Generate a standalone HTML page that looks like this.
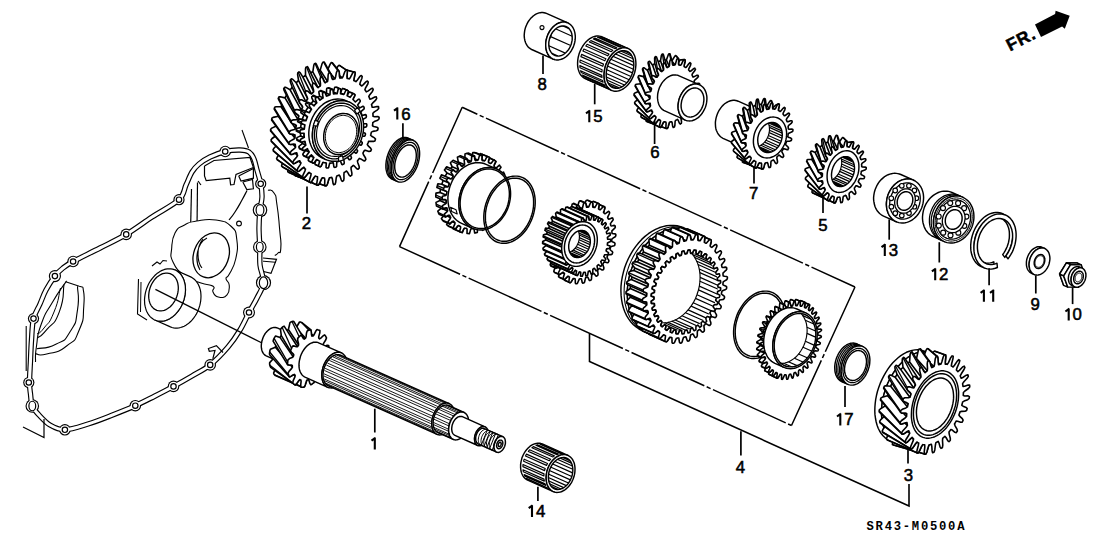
<!DOCTYPE html>
<html><head><meta charset="utf-8"><style>
html,body{margin:0;padding:0;background:#fff;}
body{width:1108px;height:553px;overflow:hidden;font-family:"Liberation Sans",sans-serif;}
svg{display:block;}
</style></head><body><svg width="1108" height="553" viewBox="0 0 1108 553"><path d="M462.2,107.3 L855,287" fill="none" stroke="#000" stroke-width="1.5" stroke-dasharray="80 2.6 4.3 2.6" stroke-dashoffset="63.35"/><path d="M399.5,246.6 L791.5,425.5" fill="none" stroke="#000" stroke-width="1.5" stroke-dasharray="80 2.6 4.3 2.6" stroke-dashoffset="13.45"/><path d="M399.5,246.6 L462.2,107.3" fill="none" stroke="#000" stroke-width="1.5" stroke-dasharray="80 2.6 4.3 2.6" stroke-dashoffset="8.75"/><path d="M855,287 L791.5,425.5" fill="none" stroke="#000" stroke-width="1.5" stroke-dasharray="80 2.6 4.3 2.6" stroke-dashoffset="8.75"/><path d="M589.5,333.5 L589.5,361.5 L909,506 L909,484" fill="none" stroke="#000" stroke-width="1.6"/><path d="M179,199.7 C184.7,194.4 183.8,189.6 186,185 C188.2,180.4 189.8,175.5 192,172 C194.2,168.5 196,166.5 199,164 C202,161.5 205.6,159.1 210,157 C214.4,154.9 220.2,152.7 225.2,151.5 C230.2,150.3 236,149.9 240,150 C244,150.1 246.7,150.5 249,152 C251.3,153.5 252.7,156 254,159 C255.3,162 255.9,165.9 257,170 C258.1,174.1 259.9,179 260.7,183.5 C261.5,188 262.1,192.6 262,197 C261.9,201.4 260.5,204.8 260,210 C259.5,215.2 259,221.8 259,228 C259,234.2 259.6,240.8 259.8,247 C260,253.2 259.4,259.1 260,265 C260.6,270.9 264,277.2 263.5,282.7 C263,288.2 259.4,293 257,298 C254.6,303 251.8,307.2 249,312.5 C246.2,317.8 243.5,324.2 240,330 C236.5,335.8 233,341.2 228,347 C223,352.8 216.2,360.1 210.2,364.9 C204.2,369.7 198.1,372.4 192,376 C185.9,379.6 179.7,383.1 173.5,386.4 C167.3,389.7 161.4,392.8 155,396 C148.6,399.2 142.8,402.4 135.3,405.7 C127.8,409 117.9,412.9 110,416 C102.1,419.1 95.5,421.7 88,424 C80.5,426.3 71.2,429.6 64.9,429.8 C58.6,430 54.3,427.5 50,425 C45.7,422.5 42,418.2 39,415 C36,411.8 33.7,409.5 32.3,406 C30.9,402.5 31,397.9 30.5,394 C30,390.1 29.5,388.2 29.5,382.5 C29.5,376.8 30.2,367.1 30.5,360 C30.8,352.9 31,346.9 31.5,340 C32,333.1 32.1,324.6 33.5,318.6 C34.9,312.6 37.9,308.8 40,304 C42.1,299.2 43.5,294.6 46,290 C48.5,285.4 52.1,279.8 54.9,276.1 C57.7,272.4 60,270.4 63,268 C66,265.6 66.9,264.8 73.1,261.5 C79.3,258.2 91.2,252.5 100,248 C108.8,243.5 117.5,239.6 126.2,234.4 C134.9,229.2 143.2,222.8 152,217 C160.8,211.2 173.3,205 179,199.7Z" fill="none" stroke="#000" stroke-width="5.4" stroke-linejoin="round"/><circle cx="179" cy="199.7" r="5.6" fill="#000"/><circle cx="225.2" cy="151.5" r="5.8" fill="#000"/><circle cx="260.7" cy="183.8" r="5.6" fill="#000"/><circle cx="260" cy="210" r="7.3" fill="#000"/><circle cx="259.8" cy="247" r="6.8" fill="#000"/><circle cx="263.5" cy="282.7" r="7.6" fill="#000"/><circle cx="249" cy="312.5" r="6.0" fill="#000"/><circle cx="210.2" cy="364.9" r="5.8" fill="#000"/><circle cx="173.5" cy="386.4" r="5.8" fill="#000"/><circle cx="135.3" cy="405.7" r="5.8" fill="#000"/><circle cx="64.9" cy="429.8" r="5.8" fill="#000"/><circle cx="32.3" cy="406" r="6.8" fill="#000"/><circle cx="28.8" cy="382.5" r="5.6" fill="#000"/><circle cx="33.5" cy="318.6" r="5.6" fill="#000"/><circle cx="54.9" cy="276.1" r="6.1" fill="#000"/><circle cx="73.1" cy="261.5" r="5.8" fill="#000"/><circle cx="126.2" cy="234.4" r="5.8" fill="#000"/><path d="M179,199.7 C184.7,194.4 183.8,189.6 186,185 C188.2,180.4 189.8,175.5 192,172 C194.2,168.5 196,166.5 199,164 C202,161.5 205.6,159.1 210,157 C214.4,154.9 220.2,152.7 225.2,151.5 C230.2,150.3 236,149.9 240,150 C244,150.1 246.7,150.5 249,152 C251.3,153.5 252.7,156 254,159 C255.3,162 255.9,165.9 257,170 C258.1,174.1 259.9,179 260.7,183.5 C261.5,188 262.1,192.6 262,197 C261.9,201.4 260.5,204.8 260,210 C259.5,215.2 259,221.8 259,228 C259,234.2 259.6,240.8 259.8,247 C260,253.2 259.4,259.1 260,265 C260.6,270.9 264,277.2 263.5,282.7 C263,288.2 259.4,293 257,298 C254.6,303 251.8,307.2 249,312.5 C246.2,317.8 243.5,324.2 240,330 C236.5,335.8 233,341.2 228,347 C223,352.8 216.2,360.1 210.2,364.9 C204.2,369.7 198.1,372.4 192,376 C185.9,379.6 179.7,383.1 173.5,386.4 C167.3,389.7 161.4,392.8 155,396 C148.6,399.2 142.8,402.4 135.3,405.7 C127.8,409 117.9,412.9 110,416 C102.1,419.1 95.5,421.7 88,424 C80.5,426.3 71.2,429.6 64.9,429.8 C58.6,430 54.3,427.5 50,425 C45.7,422.5 42,418.2 39,415 C36,411.8 33.7,409.5 32.3,406 C30.9,402.5 31,397.9 30.5,394 C30,390.1 29.5,388.2 29.5,382.5 C29.5,376.8 30.2,367.1 30.5,360 C30.8,352.9 31,346.9 31.5,340 C32,333.1 32.1,324.6 33.5,318.6 C34.9,312.6 37.9,308.8 40,304 C42.1,299.2 43.5,294.6 46,290 C48.5,285.4 52.1,279.8 54.9,276.1 C57.7,272.4 60,270.4 63,268 C66,265.6 66.9,264.8 73.1,261.5 C79.3,258.2 91.2,252.5 100,248 C108.8,243.5 117.5,239.6 126.2,234.4 C134.9,229.2 143.2,222.8 152,217 C160.8,211.2 173.3,205 179,199.7Z" fill="none" stroke="#fff" stroke-width="3.1000000000000005" stroke-linejoin="round"/><circle cx="179" cy="199.7" r="4.449999999999999" fill="#fff"/><circle cx="225.2" cy="151.5" r="4.65" fill="#fff"/><circle cx="260.7" cy="183.8" r="4.449999999999999" fill="#fff"/><circle cx="260" cy="210" r="6.15" fill="#fff"/><circle cx="259.8" cy="247" r="5.65" fill="#fff"/><circle cx="263.5" cy="282.7" r="6.449999999999999" fill="#fff"/><circle cx="249" cy="312.5" r="4.85" fill="#fff"/><circle cx="210.2" cy="364.9" r="4.65" fill="#fff"/><circle cx="173.5" cy="386.4" r="4.65" fill="#fff"/><circle cx="135.3" cy="405.7" r="4.65" fill="#fff"/><circle cx="64.9" cy="429.8" r="4.65" fill="#fff"/><circle cx="32.3" cy="406" r="5.65" fill="#fff"/><circle cx="28.8" cy="382.5" r="4.449999999999999" fill="#fff"/><circle cx="33.5" cy="318.6" r="4.449999999999999" fill="#fff"/><circle cx="54.9" cy="276.1" r="4.949999999999999" fill="#fff"/><circle cx="73.1" cy="261.5" r="4.65" fill="#fff"/><circle cx="126.2" cy="234.4" r="4.65" fill="#fff"/><ellipse cx="179" cy="199.7" rx="2.7" ry="2.7" fill="#fff" stroke="#000" stroke-width="1.2"/><ellipse cx="225.2" cy="151.5" rx="2.7" ry="2.7" fill="#fff" stroke="#000" stroke-width="1.2"/><ellipse cx="260.7" cy="183.8" rx="2.7" ry="2.7" fill="#fff" stroke="#000" stroke-width="1.2"/><ellipse cx="260" cy="210" rx="3.9" ry="5.46" fill="#fff" stroke="#000" stroke-width="1.2"/><ellipse cx="259.8" cy="247" rx="3.4" ry="4.76" fill="#fff" stroke="#000" stroke-width="1.2"/><ellipse cx="263.5" cy="282.7" rx="4.199999999999999" ry="5.879999999999999" fill="#fff" stroke="#000" stroke-width="1.2"/><ellipse cx="249" cy="312.5" rx="2.7" ry="2.7" fill="#fff" stroke="#000" stroke-width="1.2"/><ellipse cx="210.2" cy="364.9" rx="2.7" ry="2.7" fill="#fff" stroke="#000" stroke-width="1.2"/><ellipse cx="173.5" cy="386.4" rx="2.7" ry="2.7" fill="#fff" stroke="#000" stroke-width="1.2"/><ellipse cx="135.3" cy="405.7" rx="2.7" ry="2.7" fill="#fff" stroke="#000" stroke-width="1.2"/><ellipse cx="64.9" cy="429.8" rx="2.7" ry="2.7" fill="#fff" stroke="#000" stroke-width="1.2"/><ellipse cx="32.3" cy="406" rx="3.4" ry="4.76" fill="#fff" stroke="#000" stroke-width="1.2"/><ellipse cx="28.8" cy="382.5" rx="2.7" ry="2.7" fill="#fff" stroke="#000" stroke-width="1.2"/><ellipse cx="33.5" cy="318.6" rx="2.7" ry="2.7" fill="#fff" stroke="#000" stroke-width="1.2"/><ellipse cx="54.9" cy="276.1" rx="2.7" ry="2.7" fill="#fff" stroke="#000" stroke-width="1.2"/><ellipse cx="73.1" cy="261.5" rx="2.7" ry="2.7" fill="#fff" stroke="#000" stroke-width="1.2"/><ellipse cx="126.2" cy="234.4" rx="2.7" ry="2.7" fill="#fff" stroke="#000" stroke-width="1.2"/><path d="M204.5,166 L214,160.5 L250,157.5 L253.4,167.5 L236,174.5 L234,184.5 L230.6,184.8 L229.8,178.2 L206.2,180.7 L204.5,176 L204.5,166" fill="none" stroke="#000" stroke-width="1.2"/><path d="M238.7,176 L253.4,168.5 L253.4,178.2 L241,181 L238.7,176" fill="none" stroke="#000" stroke-width="1.2"/><path d="M242.8,182 L252.5,179.5 L253.4,188.8 L246.8,189.6 L242.8,182" fill="none" stroke="#000" stroke-width="1.2"/><path d="M198,181 C199,182.3 200,183.7 201,185" fill="none" stroke="#000" stroke-width="1.2" stroke-linejoin="round"/><path d="M247,190.5 C245.3,193.7 246,192.8 242,200 C238,207.2 239.3,205.3 235,212 C230.7,218.7 231,217.3 229,220" fill="none" stroke="#000" stroke-width="1.2" stroke-linejoin="round"/><path d="M191.5,189 L190.5,232" fill="none" stroke="#000" stroke-width="1.2"/><path d="M197.5,182.5 L197,229" fill="none" stroke="#000" stroke-width="1.2"/><path d="M242,130 L248.5,148" fill="none" stroke="#000" stroke-width="1.1"/><path d="M268,190 C270,191 271,188 274,193 C277,198 275.1,192.7 277,205 C278.9,217.3 278.4,215.5 279.7,230 C281,244.5 281.4,240.7 280.8,248.4 C280.2,256.1 280,250.6 278,253 C276,255.4 275.9,254.7 274.8,255.5" fill="none" stroke="#000" stroke-width="1.1" stroke-linejoin="round"/><path d="M263,258 L276.5,259.3 L271,273.4 L263.5,271.5" fill="none" stroke="#000" stroke-width="1.2"/><path d="M263,261.2 L276,262.3" fill="none" stroke="#000" stroke-width="1.0"/><path d="M175,233 C178.2,227 177.8,228.6 183.6,225.4 C189.4,222.2 188,222.4 196.6,221 C205.2,219.6 206.7,218.5 216,220 C225.3,221.5 225.8,221.3 231.3,226.5 C236.8,231.7 235.6,230.8 236.8,239.5 C238,248.2 237.7,249.7 235.7,259 C233.7,268.3 231.8,269.1 229.2,274.3 C226.6,279.5 226,275.7 226,278.6 C226,281.5 228.9,280.7 229.2,285 C229.5,289.3 229.9,291.7 227,294.9 C224.1,298.1 222.1,297.9 218.3,297 C214.5,296.1 214,294.2 212.9,291.6 C211.8,289 214.9,289.1 214,287.3 C213.1,285.5 213.1,286.1 209.6,285 C206.1,283.9 207.6,285.4 201,283 C194.4,280.6 192.5,281.6 185,276 C177.5,270.4 176.5,269.5 173,262 C169.5,254.5 171.2,255.7 171.7,248 C172.2,240.3 171.8,239 175,233Z" fill="#fff" stroke="#000" stroke-width="1.1" stroke-linejoin="round"/><ellipse cx="211.2" cy="255.3" rx="17.5" ry="23" transform="rotate(20 211.2 255.3)" fill="#fff" stroke="#000" stroke-width="1.3"/><path d="M207,238 C197,243 194,260 200,270 M203,239 C196,247 197,262 202,268" fill="none" stroke="#000" stroke-width="1.1"/><circle cx="239" cy="223.5" r="2.4" fill="#fff" stroke="#000" stroke-width="1.1"/><path d="M175.1,270 L176.7,270.8 L178.1,271.7 L179.4,272.9 L180.6,274.2 L181.7,275.7 L182.7,277.3 L183.5,279.1 L184.2,280.9 L184.7,282.9 L185.1,285 L185.4,287.1 L185.5,289.4 L185.4,291.6 L185.2,293.9 L184.8,296.2 L184.3,298.5 L183.6,300.7 L182.8,302.9 L181.8,305.1 L180.7,307.1 L179.5,309.1 L178.2,311 L176.8,312.7 L175.3,314.4 L173.7,315.8 L172.1,317.1 L170.4,318.3 L168.7,319.2 L166.9,320 L165.1,320.6 L163.3,321 L161.6,321.2 L159.8,321.2 L158.1,321 L156.4,320.6 L154.9,320 L170.4,326.9 L172,327.5 L173.6,327.9 L175.3,328.1 L177.1,328.1 L178.9,327.9 L180.6,327.5 L182.4,326.9 L184.2,326.2 L185.9,325.2 L187.6,324.1 L189.3,322.7 L190.9,321.3 L192.4,319.7 L193.8,317.9 L195.1,316 L196.3,314.1 L197.4,312 L198.3,309.8 L199.1,307.6 L199.8,305.4 L200.3,303.1 L200.7,300.8 L200.9,298.5 L201,296.3 L200.9,294.1 L200.7,291.9 L200.3,289.8 L199.7,287.8 L199,286 L198.2,284.2 L197.2,282.6 L196.1,281.1 L194.9,279.8 L193.6,278.7 L192.2,277.7 L190.7,276.9Z" fill="#fff" stroke="#000" stroke-width="1.2" stroke-linejoin="round" /><path d="M174.2,269.6 L175.8,270.3 L177.3,271.2 L178.6,272.2 L179.9,273.4 L181.1,274.8 L182.1,276.4 L183,278 L183.8,279.8 L184.4,281.8 L184.9,283.8 L185.3,285.9 L185.4,288.1 L185.5,290.3 L185.3,292.6 L185,294.9 L184.6,297.1 L184,299.4 L183.3,301.6 L182.4,303.8 L181.4,306 L180.3,308 L179,309.9 L177.7,311.7 L176.2,313.4 L174.7,315 L173.1,316.4 L171.4,317.6 L169.7,318.7 L167.9,319.6 L166.1,320.3 L164.4,320.8 L162.6,321.1 L160.8,321.2 L159.1,321.1 L157.4,320.9 L155.8,320.4 L154.2,319.7 L152.7,318.8 L151.4,317.8 L150.1,316.6 L148.9,315.2 L147.9,313.6 L147,312 L146.2,310.2 L145.6,308.2 L145.1,306.2 L144.7,304.1 L144.6,301.9 L144.5,299.7 L144.7,297.4 L145,295.1 L145.4,292.9 L146,290.6 L146.7,288.4 L147.6,286.2 L148.6,284 L149.7,282 L151,280.1 L152.3,278.3 L153.8,276.6 L155.3,275 L156.9,273.6 L158.6,272.4 L160.3,271.3 L162.1,270.4 L163.9,269.7 L165.6,269.2 L167.4,268.9 L169.2,268.8 L170.9,268.9 L172.6,269.1Z" fill="#fff" stroke="#000" stroke-width="1.2" stroke-linejoin="round" /><path d="M170.2,273.7 L171.5,274.3 L172.8,275.1 L173.9,276.1 L175,277.2 L175.9,278.5 L176.7,280 L177.3,281.6 L177.8,283.3 L178.1,285.1 L178.3,287 L178.3,288.9 L178.1,290.9 L177.8,292.9 L177.3,294.9 L176.7,296.8 L175.9,298.7 L175,300.5 L174,302.2 L172.8,303.8 L171.6,305.3 L170.3,306.7 L168.8,307.8 L167.4,308.8 L165.9,309.6 L164.3,310.3 L162.8,310.7 L161.2,310.9 L159.7,310.9 L158.2,310.7 L156.8,310.3 L155.5,309.7 L154.2,308.9 L153.1,307.9 L152,306.8 L151.1,305.5 L150.3,304 L149.7,302.4 L149.2,300.7 L148.9,298.9 L148.7,297 L148.7,295.1 L148.9,293.1 L149.2,291.1 L149.7,289.1 L150.3,287.2 L151.1,285.3 L152,283.5 L153,281.8 L154.2,280.2 L155.4,278.7 L156.7,277.3 L158.2,276.2 L159.6,275.2 L161.1,274.4 L162.7,273.7 L164.2,273.3 L165.8,273.1 L167.3,273.1 L168.8,273.3Z" fill="#fff" stroke="#000" stroke-width="1.3" stroke-linejoin="round" /><path d="M138.5,279 L137.5,314 L147,320" fill="none" stroke="#000" stroke-width="1.1"/><path d="M141,282 L140.5,312" fill="none" stroke="#000" stroke-width="1.0"/><path d="M152,266 L157,262 L160,264 L163,260.5 L167,261" fill="none" stroke="#000" stroke-width="1.1"/><path d="M65.7,281.8 L79.3,286.3 L83,287.2" fill="none" stroke="#000" stroke-width="1.1"/><path d="M83,287.2 C83.3,293.5 85,291.8 83.8,306 C82.6,320.2 85,316.4 79.3,329.7 C73.6,343 77.5,337.9 66.6,346 C55.7,354.1 57.2,351.5 46.7,354 C36.2,356.5 38.9,353.7 35,353.6" fill="none" stroke="#000" stroke-width="1.1" stroke-linejoin="round"/><path d="M77.5,286.3 C77.5,294.1 79.9,294.7 77.5,309.8 C75.1,324.9 77.4,320 70.2,331.5 C63,343 66.9,338.5 55.8,344.2 C44.7,349.9 43.1,347.2 36.8,348.7" fill="none" stroke="#000" stroke-width="1.1" stroke-linejoin="round"/><path d="M64,284.5 C62.5,293.5 65.2,296.5 59.4,311.6 C53.6,326.7 53.9,320.9 46.7,329.7 C39.5,338.5 40.7,335.2 37.7,337.9" fill="none" stroke="#000" stroke-width="1.1" stroke-linejoin="round"/><path d="M60.5,288 C58.3,296 59.5,298.7 54,312 C48.5,325.3 49.7,320.7 44,328 C38.3,335.3 39.3,332 37,334" fill="none" stroke="#000" stroke-width="1.0" stroke-linejoin="round"/><path d="M66.6,280.9 C61.7,288.3 60.4,288.6 52,303 C43.6,317.4 46.5,309.7 41.3,324 C36.1,338.3 38.4,333.3 36.5,346 C34.6,358.7 35.8,356.7 35.5,362" fill="none" stroke="#000" stroke-width="1.1" stroke-linejoin="round"/><path d="M223,352.5 L216.4,345.6 L208.4,348.5 L209.3,351.3 L215,350.5 L212.8,358.8" fill="none" stroke="#000" stroke-width="1.2"/><path d="M26.2,326 L26.2,371" fill="none" stroke="#000" stroke-width="1.1"/><path d="M23,427 L44,437.5 L44,419" fill="none" stroke="#000" stroke-width="1.2"/><path d="M314.7,175.7 L311.8,174.2 L309.1,172.3 L306.5,170.2 L304.2,167.7 L302.1,164.8 L300.3,161.8 L298.7,158.4 L297.4,154.8 L296.3,151 L295.6,147.1 L295.1,143 L295,138.8 L295.1,134.5 L295.5,130.1 L296.2,125.8 L297.2,121.4 L298.5,117.1 L300.1,112.9 L301.9,108.8 L304,104.8 L306.2,101.1 L308.7,97.5 L311.4,94.2 L314.3,91.1 L317.3,88.3 L320.5,85.8 L323.7,83.6 L327,81.8 L330.4,80.3 L333.8,79.1 L337.2,78.4 L340.6,78 L343.9,78 L347.2,78.4 L350.3,79.2 L353.3,80.3 L335.1,72.2 L332,71 L328.9,70.3 L325.6,69.9 L322.3,69.9 L318.9,70.3 L315.5,71 L312.1,72.1 L308.7,73.6 L305.4,75.5 L302.2,77.6 L299,80.1 L296,82.9 L293.2,86 L290.5,89.4 L288,92.9 L285.7,96.7 L283.6,100.7 L281.8,104.8 L280.3,109 L279,113.3 L278,117.6 L277.2,122 L276.8,126.3 L276.7,130.6 L276.9,134.9 L277.3,139 L278.1,142.9 L279.1,146.7 L280.4,150.3 L282,153.6 L283.9,156.7 L286,159.5 L288.3,162 L290.8,164.2 L293.5,166.1 L296.4,167.6Z" fill="#fff" stroke="#000" stroke-width="1.6" stroke-linejoin="round" /><path d="M294.9,174 L296.2,167.5 L329.3,177.8 L327.3,184.3 L326.5,185.7 L325.8,185.8 L325.1,185.8 L296.2,176.1 L295.6,175.9 L295,175.6Z" fill="#fff" stroke="#000" stroke-width="1.6" stroke-linejoin="round" /><path d="M325.8,185.8 L295.6,175.9" stroke="#000" stroke-width="1.2800000000000002" fill="none"/><path d="M340.5,75.4 L344.7,70.5 L345.9,69.7 L353.7,71.9 L354.4,72.1 L355,72.3 L355,73.9 L353.7,80.5 L344,78.5Z" fill="#fff" stroke="#000" stroke-width="1.6" stroke-linejoin="round" /><path d="M354.4,72.1 L346.4,70.2" stroke="#000" stroke-width="1.2800000000000002" fill="none"/><path d="M287.8,171.8 L287.9,170.1 L290.2,163.7 L322,177.8 L319.2,183.9 L318.2,185.2 L317.6,185.1 L316.9,184.9 L288.9,172.5 L288.3,172.1Z" fill="#fff" stroke="#000" stroke-width="1.6" stroke-linejoin="round" /><path d="M317.6,185.1 L288.3,172.1" stroke="#000" stroke-width="1.2800000000000002" fill="none"/><path d="M334.3,71.8 L337.9,66.3 L339,65.2 L339.6,65.5 L340.2,65.8 L347,70.4 L347.3,71.9 L347,78.4 L342.4,78Z" fill="#fff" stroke="#000" stroke-width="1.6" stroke-linejoin="round" /><path d="M346.4,70.3 L339.6,65.5" stroke="#000" stroke-width="1.2800000000000002" fill="none"/><path d="M281.6,166 L282,164.3 L285,158.4 L315.2,175.9 L311.6,181.5 L310.5,182.6 L309.9,182.3 L309.3,182 L282.5,167 L282,166.5Z" fill="#fff" stroke="#000" stroke-width="1.6" stroke-linejoin="round" /><path d="M309.9,182.3 L282,166.5" stroke="#000" stroke-width="1.2800000000000002" fill="none"/><path d="M327.5,70.1 L330.3,63.9 L331.3,62.6 L331.9,62.8 L332.6,62.9 L338.6,70.5 L339.2,71.9 L339.8,78.1 L335,78.8Z" fill="#fff" stroke="#000" stroke-width="1.6" stroke-linejoin="round" /><path d="M337.9,70.6 L331.9,62.8" stroke="#000" stroke-width="1.2800000000000002" fill="none"/><path d="M276.6,158.6 L277.3,157 L281,151.6 L305.6,169.2 L309.1,172.3 L304.9,177.2 L303.6,178 L277.3,159.9 L277,159.2Z" fill="#fff" stroke="#000" stroke-width="1.6" stroke-linejoin="round" /><path d="M303.1,177.5 L277,159.2" stroke="#000" stroke-width="1.2800000000000002" fill="none"/><path d="M320.2,70.1 L322.1,63.6 L323,62.1 L323.7,62.1 L324.3,62.1 L330.8,73.9 L332.4,79.6 L327.6,81.5Z" fill="#fff" stroke="#000" stroke-width="1.6" stroke-linejoin="round" /><path d="M329.4,73 L323.7,62.1" stroke="#000" stroke-width="1.2800000000000002" fill="none"/><path d="M273.1,149.7 L273.9,148.3 L278.3,143.7 L301,163.1 L303.8,167.2 L299.2,171.1 L297.9,171.6 L273.5,151.2Z" fill="#fff" stroke="#000" stroke-width="1.6" stroke-linejoin="round" /><path d="M297.5,171 L273.3,150.5" stroke="#000" stroke-width="1.2800000000000002" fill="none"/><path d="M312.8,71.9 L313.8,65.3 L314.4,63.7 L315.1,63.5 L315.8,63.3 L316.5,64.5 L325,82.8 L320.4,85.8Z" fill="#fff" stroke="#000" stroke-width="1.6" stroke-linejoin="round" /><path d="M320.9,77.4 L315.1,63.5" stroke="#000" stroke-width="1.2800000000000002" fill="none"/><path d="M271.1,139.8 L272.1,138.5 L276.9,135 L297.7,155.7 L299.7,160.6 L294.7,163.4 L293.4,163.6 L271.3,141.5 L271.2,140.7Z" fill="#fff" stroke="#000" stroke-width="1.6" stroke-linejoin="round" /><path d="M293.1,162.9 L271.2,140.7" stroke="#000" stroke-width="1.2800000000000002" fill="none"/><path d="M305.5,69 L305.9,67.3 L306.6,67 L307.3,66.6 L308.1,67.6 L318,87.7 L313.8,91.6 L305.5,75.4Z" fill="#fff" stroke="#000" stroke-width="1.6" stroke-linejoin="round" /><path d="M313,83.6 L306.6,67" stroke="#000" stroke-width="1.2800000000000002" fill="none"/><path d="M270.6,130.9 L270.6,130.1 L270.7,129.2 L271.8,128.1 L276.9,125.7 L295.6,147.3 L296.8,152.8 L291.7,154.4 L290.4,154.3Z" fill="#fff" stroke="#000" stroke-width="1.6" stroke-linejoin="round" /><path d="M290.2,153.5 L270.6,130.1" stroke="#000" stroke-width="1.2800000000000002" fill="none"/><path d="M297.6,74.5 L297.8,72.9 L298.4,72.4 L299,71.9 L300.1,72.6 L302.9,77.1 L311.5,94.1 L307.8,98.8 L298.6,80.6Z" fill="#fff" stroke="#000" stroke-width="1.6" stroke-linejoin="round" /><path d="M305.8,91.4 L298.4,72.4" stroke="#000" stroke-width="1.2800000000000002" fill="none"/><path d="M271.6,120 L271.8,119.1 L271.9,118.2 L273.1,117.4 L278.3,116.2 L295,138.2 L295.2,144.1 L290.2,144.5 L289,144.1Z" fill="#fff" stroke="#000" stroke-width="1.6" stroke-linejoin="round" /><path d="M289,143.3 L271.8,119.1" stroke="#000" stroke-width="1.2800000000000002" fill="none"/><path d="M290.3,80.1 L290.8,79.5 L291.4,78.8 L292.6,79.2 L296.2,82.8 L305.9,101.6 L302.8,107 L299.7,102.8 L292.2,87.1 L290.3,81.7Z" fill="#fff" stroke="#000" stroke-width="1.6" stroke-linejoin="round" /><path d="M299.7,100.6 L290.8,79.5" stroke="#000" stroke-width="1.2800000000000002" fill="none"/><path d="M274.2,109.1 L274.4,108.2 L274.7,107.3 L276,106.8 L281,106.8 L295.7,128.8 L295.1,134.9 L290.2,134 L289.2,133.3Z" fill="#fff" stroke="#000" stroke-width="1.6" stroke-linejoin="round" /><path d="M289.3,132.4 L274.4,108.2" stroke="#000" stroke-width="1.2800000000000002" fill="none"/><path d="M283.7,88.7 L284.2,88 L284.7,87.3 L285.9,87.4 L290.1,89.8 L301.3,110.2 L298.9,116 L295.1,112.8 L294.4,111.5 L284,90.2Z" fill="#fff" stroke="#000" stroke-width="1.6" stroke-linejoin="round" /><path d="M294.8,110.7 L284.2,88" stroke="#000" stroke-width="1.2800000000000002" fill="none"/><path d="M278.2,98.5 L278.6,97.7 L279,96.9 L280.3,96.7 L285,97.9 L297.8,119.3 L296.3,125.4 L291.9,123.3 L291,122.3 L278.8,99.8Z" fill="#fff" stroke="#000" stroke-width="1.6" stroke-linejoin="round" /><path d="M291.3,121.5 L278.6,97.7" stroke="#000" stroke-width="1.2800000000000002" fill="none"/><path d="M348.2,78.6 L348.8,78.8 L349.4,78.9 L350.5,77.2 L352.5,73.3 L353.7,71.9 L354.4,72.1 L355,72.3 L355,74.2 L354,78.5 L353.8,80.5 L354.3,80.8 L354.8,81 L355.4,81.3 L355.9,81.6 L357.2,80.2 L359.7,76.7 L361,75.5 L361.6,75.9 L362.2,76.3 L361.9,78.2 L360.3,82.3 L359.8,84.3 L360.3,84.7 L360.7,85.1 L361.2,85.6 L361.6,86 L363.1,84.9 L365.9,81.9 L367.4,81 L367.9,81.5 L368.3,82.1 L367.8,84 L365.6,87.8 L364.9,89.8 L365.3,90.3 L365.6,90.8 L366,91.3 L366.3,91.9 L367.9,91.1 L371,88.8 L372.5,88.2 L372.9,88.9 L373.2,89.6 L372.4,91.4 L369.8,94.7 L368.8,96.5 L369.1,97.2 L369.4,97.8 L369.6,98.4 L369.9,99.1 L371.5,98.7 L374.8,97 L376.3,96.9 L376.5,97.6 L376.7,98.4 L375.7,100.1 L372.8,102.9 L371.5,104.5 L371.7,105.2 L371.9,105.9 L372,106.6 L372.2,107.3 L373.7,107.3 L377,106.5 L378.5,106.6 L378.6,107.5 L378.7,108.4 L377.5,109.8 L374.3,111.9 L372.9,113.3 L372.9,114 L373,114.8 L373,115.6 L373,116.3 L374.5,116.7 L377.8,116.6 L379.1,117.2 L379.1,118.1 L379,119 L377.7,120.2 L374.3,121.6 L372.8,122.6 L372.8,123.4 L372.7,124.2 L372.6,124.9 L372.5,125.7 L373.8,126.5 L376.9,127.2 L378.1,128.1 L377.9,129.1 L377.8,130 L376.3,130.8 L372.9,131.4 L371.4,132.1 L371.2,132.9 L371,133.7 L370.8,134.5 L370.6,135.2 L371.7,136.3 L374.5,137.9 L375.5,139.1 L375.2,140 L374.9,140.9 L373.4,141.4 L370.1,141.2 L368.6,141.4 L368.3,142.2 L368,143 L367.7,143.7 L367.3,144.5 L368.2,145.9 L370.6,148.1 L371.4,149.6 L371,150.5 L370.5,151.3 L369,151.4 L366,150.4 L364.5,150.3 L364.1,151 L363.7,151.7 L363.3,152.4 L362.9,153.1 L363.5,154.8 L365.4,157.7 L365.9,159.4 L365.4,160.1 L364.9,160.9 L363.4,160.6 L360.8,158.9 L359.3,158.4 L358.9,159 L358.4,159.6 L357.9,160.3 L357.4,160.9 L357.8,162.7 L359.1,166.2 L359.3,168 L358.7,168.6 L358.1,169.3 L356.8,168.7 L354.5,166.2 L353.3,165.4 L352.7,165.9 L352.2,166.4 L351.6,166.9 L351.1,167.4 L351.1,169.4 L351.9,173.2 L351.8,175.2 L351.1,175.7 L350.4,176.2 L349.3,175.3 L347.5,172.2 L346.5,171 L345.9,171.4 L345.3,171.8 L344.7,172.2 L344.1,172.5 L343.9,174.5 L344,178.7 L343.6,180.6 L342.9,181 L342.2,181.4 L341.3,180.1 L340.1,176.5 L339.3,175.1 L338.6,175.3 L338,175.6 L337.4,175.8 L336.8,176 L336.2,178 L335.7,182.3 L335.1,184.2 L334.4,184.4 L333.6,184.6 L333,183.1 L332.4,179.1 L331.8,177.4 L331.2,177.5 L330.6,177.6 L330,177.7 L329.4,177.8 L328.6,179.7 L327.4,184 L326.5,185.7 L325.8,185.8 L325.1,185.8 L324.7,184.1 L324.8,179.9 L324.5,178 L323.9,178 L323.3,177.9 L322.7,177.9 L322.1,177.8 L321.1,179.6 L319.4,183.6 L318.2,185.2 L317.6,185.1 L316.9,184.9 L316.8,183.1 L317.5,178.8 L317.5,176.8 L316.9,176.6 L316.4,176.4 L315.8,176.2 L315.3,176 L314,177.5 L311.8,181.2 L310.5,182.6 L309.9,182.3 L309.3,181.9 L309.5,180 L310.8,175.8 L311.1,173.8 L310.6,173.5 L310.1,173.1 L309.6,172.8 L309.1,172.4 L307.7,173.7 L305.1,176.9 L303.7,178 L303.1,177.5 L302.6,177 L303,175.1 L304.9,171.1 L305.5,169.1 L305.1,168.7 L304.7,168.2 L304.3,167.7 L303.9,167.2 L302.4,168.2 L299.4,170.9 L297.9,171.6 L297.5,171 L297.1,170.4 L297.7,168.5 L300.1,164.9 L301,163 L300.7,162.4 L300.3,161.9 L300,161.3 L299.7,160.7 L298.2,161.3 L294.9,163.3 L293.4,163.6 L293.1,162.9 L292.8,162.2 L293.8,160.4 L296.5,157.3 L297.6,155.6 L297.4,154.9 L297.2,154.3 L297,153.6 L296.8,152.9 L295.2,153.1 L291.9,154.4 L290.4,154.4 L290.2,153.5 L290.1,152.7 L291.2,151.2 L294.3,148.7 L295.6,147.2 L295.5,146.5 L295.4,145.7 L295.3,145 L295.2,144.2 L293.7,144.1 L290.4,144.5 L289,144.1 L289,143.3 L288.9,142.4 L290.2,141.1 L293.5,139.3 L295,138.1 L295,137.3 L295,136.6 L295,135.8 L295.1,135 L293.7,134.4 L290.5,134.1 L289.2,133.4 L289.3,132.4 L289.4,131.5 L290.8,130.5 L294.2,129.5 L295.7,128.7 L295.8,127.9 L296,127.1 L296.1,126.3 L296.3,125.5 L295.1,124.6 L292.1,123.4 L291,122.4 L291.3,121.5 L291.5,120.5 L293,119.9 L296.3,119.7 L297.9,119.2 L298.1,118.4 L298.4,117.6 L298.6,116.9 L298.9,116.1 L297.9,114.8 L295.3,112.9 L294.4,111.6 L294.8,110.7 L295.1,109.8 L296.6,109.5 L299.8,110.1 L301.3,110 L301.7,109.3 L302,108.6 L302.4,107.8 L302.7,107.1 L302,105.6 L299.8,103 L299.2,101.4 L299.7,100.6 L300.1,99.8 L301.6,99.8 L304.5,101.2 L306,101.5 L306.4,100.9 L306.8,100.2 L307.3,99.5 L307.7,98.9 L307.2,97.1 L305.6,93.9 L305.3,92.2 L305.8,91.4 L306.4,90.7 L307.8,91.2 L310.2,93.3 L311.6,94 L312.1,93.4 L312.6,92.8 L313.2,92.3 L313.7,91.7 L313.5,89.8 L312.4,86.1 L312.4,84.2 L313,83.6 L313.6,83.1 L314.9,83.8 L316.9,86.6 L318.1,87.6 L318.6,87.2 L319.2,86.7 L319.8,86.3 L320.4,85.8 L320.5,83.8 L320,79.8 L320.3,77.9 L320.9,77.4 L321.6,77 L322.7,78.1 L324.1,81.5 L325.1,82.8 L325.7,82.4 L326.3,82.1 L326.9,81.8 L327.5,81.5 L327.9,79.5 L328.1,75.2 L328.6,73.3 L329.4,73 L330.1,72.8 L330.9,74.1 L331.8,78 L332.5,79.5 L333.1,79.4 L333.7,79.2 L334.3,79 L334.9,78.9 L335.6,76.9 L336.4,72.6 L337.2,70.8 L337.9,70.6 L338.6,70.5 L339.2,72.1 L339.4,76.3 L339.9,78.1 L340.5,78 L341.1,78 L341.7,78 L342.3,78 L343.2,76.1 L344.7,71.9 L345.7,70.3 L346.4,70.3 L347.1,70.4 L347.3,72.2 L346.9,76.4 L347.1,78.4 L347.6,78.5Z" fill="#fff" stroke="#000" stroke-width="1.6" stroke-linejoin="round" /><path d="M319.8,161.2 L317.6,160 L315.5,158.7 L313.5,157.1 L311.7,155.2 L310.1,153.2 L308.6,151 L307.4,148.6 L306.3,146.1 L305.4,143.4 L304.8,140.6 L304.3,137.7 L304.1,134.8 L304.1,131.8 L304.3,128.7 L304.8,125.7 L305.5,122.7 L306.3,119.7 L307.4,116.8 L308.7,114 L310.2,111.3 L311.8,108.8 L313.7,106.3 L315.6,104.1 L317.7,102 L319.9,100.1 L322.3,98.5 L324.7,97.1 L327.1,95.9 L329.7,94.9 L332.2,94.2 L334.8,93.8 L337.3,93.7 L339.8,93.8 L342.3,94.1 L344.7,94.8 L347,95.6 L343.4,94 L341,93.1 L338.6,92.5 L336.2,92.1 L333.7,92 L331.1,92.2 L328.6,92.6 L326,93.3 L323.5,94.2 L321,95.4 L318.6,96.9 L316.3,98.5 L314.1,100.4 L312,102.4 L310,104.7 L308.2,107.1 L306.5,109.7 L305.1,112.4 L303.8,115.2 L302.7,118.1 L301.8,121.1 L301.1,124.1 L300.7,127.1 L300.5,130.1 L300.5,133.1 L300.7,136.1 L301.1,139 L301.8,141.8 L302.6,144.4 L303.7,147 L305,149.4 L306.4,151.6 L308.1,153.6 L309.9,155.4 L311.8,157 L313.9,158.4 L316.1,159.5Z" fill="#fff" stroke="#000" stroke-width="1.6" stroke-linejoin="round" /><path d="M346.6,95.8 L348.9,92.5 L349.7,91.9 L353.4,93.6 L354.1,94.1 L354.5,94.4 L354.9,94.7 L354.7,95.8 L352.8,99.3 L349.2,97.7Z" fill="#fff" stroke="#000" stroke-width="1.6" stroke-linejoin="round" /><path d="M354.1,94.1 L350.5,92.5" stroke="#000" stroke-width="1.2800000000000002" fill="none"/><path d="M315,163.4 L316.1,159.5 L319.1,160.6 L322.8,162.2 L321.1,166 L320.4,166.8 L320,166.6 L319.6,166.5 L319.1,166.3 L318.7,166.1 L315.1,164.5Z" fill="#fff" stroke="#000" stroke-width="1.6" stroke-linejoin="round" /><path d="M319.5,166.5 L315.9,164.8" stroke="#000" stroke-width="1.2800000000000002" fill="none"/><path d="M340.4,92.9 L342,89.2 L342.8,88.4 L343.6,88.7 L344,88.9 L344.4,89 L348.1,90.7 L348.1,91.7 L347,95.6 L344,94.5Z" fill="#fff" stroke="#000" stroke-width="1.6" stroke-linejoin="round" /><path d="M347.3,90.3 L343.6,88.7" stroke="#000" stroke-width="1.2800000000000002" fill="none"/><path d="M308.3,160.5 L308.4,159.4 L310.3,155.8 L314,157.4 L316.5,159.4 L314.2,162.7 L313.4,163.2 L309.8,161.6 L309.4,161.3 L309,161.1 L308.6,160.8Z" fill="#fff" stroke="#000" stroke-width="1.6" stroke-linejoin="round" /><path d="M312.7,162.7 L309,161.1" stroke="#000" stroke-width="1.2800000000000002" fill="none"/><path d="M333.5,92 L334.4,88.1 L335,87.1 L335.4,87.2 L335.9,87.2 L336.4,87.2 L336.8,87.2 L340.5,88.9 L340.8,89.8 L340.4,93.8 L337.2,93.7Z" fill="#fff" stroke="#000" stroke-width="1.6" stroke-linejoin="round" /><path d="M339.6,88.8 L335.9,87.2" stroke="#000" stroke-width="1.2800000000000002" fill="none"/><path d="M302.8,154.6 L303.1,153.5 L305.6,150.4 L309.3,152.1 L311.3,154.7 L308.5,157.4 L307.6,157.7 L303.9,156.1 L303.6,155.7 L303.3,155.3 L303.1,154.9Z" fill="#fff" stroke="#000" stroke-width="1.6" stroke-linejoin="round" /><path d="M307,156.9 L303.3,155.3" stroke="#000" stroke-width="1.2800000000000002" fill="none"/><path d="M326.5,93.2 L326.6,89.2 L326.9,88.2 L327.9,87.9 L328.8,87.7 L332.4,89.3 L332.9,90.2 L333.4,94 L330.1,94.8Z" fill="#fff" stroke="#000" stroke-width="1.6" stroke-linejoin="round" /><path d="M331.5,89.6 L327.9,87.9" stroke="#000" stroke-width="1.2800000000000002" fill="none"/><path d="M298.8,147 L299.4,146 L302.3,143.6 L306,145.3 L307.3,148.5 L304.1,150.4 L303.2,150.5 L299.6,148.8 L299.4,148.4 L299,147.4Z" fill="#fff" stroke="#000" stroke-width="1.6" stroke-linejoin="round" /><path d="M302.8,149.5 L299.2,147.9" stroke="#000" stroke-width="1.2800000000000002" fill="none"/><path d="M318.9,92.5 L319,91.4 L319.9,90.9 L320.4,90.7 L320.8,90.5 L324.5,92.1 L325.1,92.8 L326.4,96.2 L323.2,97.9 L319.6,96.2Z" fill="#fff" stroke="#000" stroke-width="1.6" stroke-linejoin="round" /><path d="M323.6,92.6 L319.9,90.9" stroke="#000" stroke-width="1.2800000000000002" fill="none"/><path d="M296.7,138.2 L297.4,137.4 L300.6,135.9 L304.3,137.5 L304.9,141.2 L301.5,142.1 L300.6,141.9 L297,140.3 L296.8,139.3 L296.7,138.8Z" fill="#fff" stroke="#000" stroke-width="1.6" stroke-linejoin="round" /><path d="M300.5,140.9 L296.8,139.3" stroke="#000" stroke-width="1.2800000000000002" fill="none"/><path d="M311.8,96.7 L312.2,96.4 L312.6,96 L313,95.7 L313.4,95.3 L317,97 L317.8,97.4 L319.8,100.3 L317,102.7 L313.3,101.1 L311.8,97.8Z" fill="#fff" stroke="#000" stroke-width="1.6" stroke-linejoin="round" /><path d="M316.2,97.7 L312.6,96" stroke="#000" stroke-width="1.2800000000000002" fill="none"/><path d="M296.3,131 L296.3,130.5 L296.4,129.4 L296.4,128.8 L297.3,128.2 L300.6,127.6 L304.3,129.2 L304.1,133.1 L300.8,133.1 L297.1,131.4Z" fill="#fff" stroke="#000" stroke-width="1.6" stroke-linejoin="round" /><path d="M300,131.5 L296.4,129.9" stroke="#000" stroke-width="1.2800000000000002" fill="none"/><path d="M305.5,103.8 L305.9,103.4 L306.5,102.5 L306.9,102 L307.7,102.2 L311.4,103.8 L313.9,106 L311.6,109.1 L308,107.4 L305.8,104.8Z" fill="#fff" stroke="#000" stroke-width="1.6" stroke-linejoin="round" /><path d="M309.8,104.5 L306.2,102.9" stroke="#000" stroke-width="1.2800000000000002" fill="none"/><path d="M297.6,121.5 L297.9,120.4 L298.1,119.3 L299.1,118.9 L302.3,119.3 L306,120.9 L305,124.7 L301.9,123.7 L298.2,122.1Z" fill="#fff" stroke="#000" stroke-width="1.6" stroke-linejoin="round" /><path d="M301.5,122 L297.9,120.4" stroke="#000" stroke-width="1.2800000000000002" fill="none"/><path d="M300.7,112.2 L300.9,111.7 L301.2,111.2 L301.4,110.7 L301.7,110.2 L302.6,110.1 L305.6,111.4 L309.3,113 L307.6,116.5 L303.9,114.9 L301.2,113Z" fill="#fff" stroke="#000" stroke-width="1.6" stroke-linejoin="round" /><path d="M304.8,112.8 L301.2,111.2" stroke="#000" stroke-width="1.2800000000000002" fill="none"/><path d="M342.2,94.1 L342.8,94.2 L343.4,94.4 L343.9,94.5 L345.8,90.5 L346.6,90.1 L347.3,90.3 L347.9,90.6 L348.3,91.3 L347.1,95.7 L347.6,95.9 L348.2,96.2 L348.7,96.5 L349.2,96.7 L349.7,97 L350.2,97.3 L352.8,93.8 L353.6,93.7 L354.1,94.1 L354.7,94.5 L354.9,95.4 L352.9,99.4 L353.4,99.8 L353.8,100.2 L354.2,100.7 L354.6,101.1 L355,101.5 L355.4,102 L358.6,99.2 L359.4,99.3 L359.8,99.9 L360.2,100.4 L360.2,101.4 L357.6,104.9 L357.9,105.4 L358.2,105.9 L358.6,106.5 L358.9,107 L359.1,107.6 L359.4,108.1 L363,106.2 L363.7,106.6 L364,107.3 L364.2,107.9 L364.1,108.9 L360.9,111.7 L361.1,112.3 L361.2,112.9 L361.4,113.5 L361.6,114.2 L361.8,114.8 L361.9,115.5 L365.6,114.6 L366.2,115.1 L366.3,115.9 L366.4,116.7 L366.1,117.6 L362.5,119.5 L362.6,120.1 L362.6,120.8 L362.7,121.5 L362.7,122.2 L362.7,122.9 L362.7,123.6 L366.4,123.7 L366.8,124.5 L366.8,125.3 L366.7,126.1 L366.2,126.9 L362.5,127.7 L362.4,128.4 L362.3,129.1 L362.2,129.8 L362.1,130.5 L362,131.2 L361.8,131.9 L365.2,133.2 L365.5,134 L365.3,134.8 L365.1,135.6 L364.4,136.3 L360.8,136.1 L360.6,136.8 L360.3,137.4 L360.1,138.1 L359.8,138.8 L359.6,139.4 L359.3,140.1 L362.2,142.3 L362.3,143.3 L362,144 L361.6,144.7 L360.8,145.2 L357.5,144 L357.1,144.6 L356.8,145.2 L356.4,145.8 L356,146.4 L355.7,147 L355.3,147.6 L357.6,150.7 L357.4,151.6 L357,152.3 L356.5,152.9 L355.7,153.2 L352.8,150.9 L352.3,151.5 L351.9,152 L351.4,152.5 L350.9,153 L350.4,153.5 L350,154 L351.5,157.7 L351.2,158.6 L350.6,159.1 L350,159.6 L349.2,159.7 L346.9,156.6 L346.4,157 L345.9,157.4 L345.3,157.8 L344.8,158.2 L344.2,158.5 L343.7,158.9 L344.3,163 L343.9,163.9 L343.2,164.2 L342.6,164.6 L341.8,164.4 L340.3,160.7 L339.7,160.9 L339.1,161.1 L338.6,161.4 L338,161.6 L337.4,161.8 L336.8,162 L336.6,166.4 L336,167.1 L335.3,167.2 L334.6,167.4 L333.9,167 L333.3,162.8 L332.7,162.9 L332.1,163 L331.5,163 L330.9,163.1 L330.3,163.1 L329.7,163.1 L328.6,167.5 L327.9,168 L327.2,168 L326.6,168 L326,167.4 L326.3,163 L325.7,162.9 L325.1,162.8 L324.6,162.7 L324,162.6 L323.4,162.4 L322.9,162.3 L321,166.3 L320.2,166.7 L319.5,166.5 L318.9,166.2 L318.5,165.5 L319.7,161.1 L319.2,160.9 L318.6,160.6 L318.1,160.3 L317.6,160.1 L317.1,159.8 L316.6,159.5 L314,163 L313.2,163.1 L312.7,162.7 L312.1,162.3 L311.9,161.4 L313.9,157.4 L313.4,157 L313,156.6 L312.6,156.1 L312.2,155.7 L311.8,155.3 L311.4,154.8 L308.2,157.6 L307.4,157.5 L307,156.9 L306.6,156.4 L306.6,155.4 L309.2,151.9 L308.9,151.4 L308.6,150.9 L308.2,150.3 L307.9,149.8 L307.7,149.2 L307.4,148.7 L303.8,150.6 L303.1,150.2 L302.8,149.5 L302.6,148.9 L302.7,147.9 L305.9,145.1 L305.7,144.5 L305.6,143.9 L305.4,143.3 L305.2,142.6 L305,142 L304.9,141.3 L301.2,142.2 L300.6,141.7 L300.5,140.9 L300.4,140.1 L300.7,139.2 L304.3,137.3 L304.2,136.7 L304.2,136 L304.1,135.3 L304.1,134.6 L304.1,133.9 L304.1,133.2 L300.4,133.1 L300,132.3 L300,131.5 L300.1,130.7 L300.6,129.9 L304.3,129.1 L304.4,128.4 L304.5,127.7 L304.6,127 L304.7,126.3 L304.8,125.6 L305,124.9 L301.6,123.6 L301.3,122.8 L301.5,122 L301.7,121.2 L302.4,120.5 L306,120.7 L306.2,120 L306.5,119.4 L306.7,118.7 L307,118 L307.2,117.4 L307.5,116.7 L304.6,114.5 L304.5,113.5 L304.8,112.8 L305.2,112.1 L306,111.6 L309.3,112.8 L309.7,112.2 L310,111.6 L310.4,111 L310.8,110.4 L311.1,109.8 L311.5,109.2 L309.2,106.1 L309.4,105.2 L309.8,104.5 L310.3,103.9 L311.1,103.6 L314,105.9 L314.5,105.3 L314.9,104.8 L315.4,104.3 L315.9,103.8 L316.4,103.3 L316.8,102.8 L315.3,99.1 L315.6,98.2 L316.2,97.7 L316.8,97.2 L317.6,97.1 L319.9,100.2 L320.4,99.8 L320.9,99.4 L321.5,99 L322,98.6 L322.6,98.3 L323.1,97.9 L322.5,93.8 L322.9,92.9 L323.6,92.6 L324.2,92.2 L325,92.4 L326.5,96.1 L327.1,95.9 L327.7,95.7 L328.2,95.4 L328.8,95.2 L329.4,95 L330,94.8 L330.2,90.4 L330.8,89.7 L331.5,89.6 L332.2,89.4 L332.9,89.8 L333.5,94 L334.1,93.9 L334.7,93.8 L335.3,93.8 L335.9,93.7 L336.5,93.7 L337.1,93.7 L338.2,89.3 L338.9,88.8 L339.6,88.8 L340.2,88.8 L340.8,89.4 L340.5,93.8 L341.1,93.9 L341.7,94Z" fill="#fff" stroke="#000" stroke-width="1.6" stroke-linejoin="round" /><path d="M326.1,159.6 L324.2,158.6 L322.4,157.4 L320.6,156 L319.1,154.4 L317.6,152.7 L316.4,150.7 L315.3,148.6 L314.3,146.4 L313.6,144.1 L313,141.7 L312.6,139.1 L312.4,136.6 L312.4,133.9 L312.6,131.3 L313,128.7 L313.6,126 L314.4,123.4 L315.3,120.9 L316.4,118.4 L317.7,116.1 L319.2,113.8 L320.8,111.7 L322.5,109.8 L324.3,108 L326.2,106.3 L328.3,104.9 L330.4,103.6 L332.5,102.6 L334.7,101.8 L337,101.2 L339.2,100.8 L341.4,100.7 L343.6,100.8 L345.8,101.1 L347.9,101.6 L349.9,102.4 L346.2,100.8 L344.2,100 L342.1,99.4 L340,99.1 L337.8,99 L335.5,99.2 L333.3,99.5 L331.1,100.1 L328.9,101 L326.7,102 L324.6,103.2 L322.6,104.7 L320.7,106.3 L318.8,108.1 L317.1,110.1 L315.5,112.2 L314.1,114.5 L312.8,116.8 L311.7,119.3 L310.7,121.8 L310,124.4 L309.4,127 L309,129.7 L308.8,132.3 L308.8,134.9 L309,137.5 L309.3,140 L309.9,142.5 L310.7,144.8 L311.6,147 L312.7,149.1 L314,151 L315.4,152.8 L317,154.4 L318.7,155.8 L320.5,157 L322.5,158Z" fill="#fff" stroke="#000" stroke-width="1.45" stroke-linejoin="round" /><path d="M348.6,101.9 L350.6,102.7 L352.5,103.8 L354.3,105.1 L355.9,106.5 L357.5,108.2 L358.8,110 L360.1,112 L361.1,114.1 L362,116.4 L362.7,118.8 L363.2,121.2 L363.5,123.8 L363.6,126.4 L363.5,129 L363.3,131.7 L362.8,134.3 L362.1,136.9 L361.3,139.5 L360.3,142 L359.1,144.4 L357.8,146.7 L356.3,148.9 L354.6,151 L352.9,152.9 L351,154.7 L349,156.2 L347,157.6 L344.9,158.8 L342.7,159.7 L340.5,160.5 L338.2,161 L336,161.3 L333.8,161.3 L331.6,161.2 L329.5,160.8 L327.4,160.1 L325.4,159.3 L323.5,158.2 L321.7,156.9 L320.1,155.5 L318.5,153.8 L317.2,152 L315.9,150 L314.9,147.9 L314,145.6 L313.3,143.2 L312.8,140.8 L312.5,138.2 L312.4,135.6 L312.5,133 L312.7,130.3 L313.2,127.7 L313.9,125.1 L314.7,122.5 L315.7,120 L316.9,117.6 L318.2,115.3 L319.7,113.1 L321.4,111 L323.1,109.1 L325,107.3 L327,105.8 L329,104.4 L331.1,103.2 L333.3,102.3 L335.5,101.5 L337.8,101 L340,100.7 L342.2,100.7 L344.4,100.8 L346.5,101.2Z" fill="#fff" stroke="#000" stroke-width="1.45" stroke-linejoin="round" /><path d="M347.7,104.2 L349.6,105 L351.3,106 L353,107.1 L354.5,108.5 L355.9,110 L357.2,111.7 L358.3,113.5 L359.2,115.5 L360,117.6 L360.7,119.8 L361.1,122 L361.4,124.4 L361.5,126.7 L361.5,129.2 L361.2,131.6 L360.8,134 L360.2,136.4 L359.4,138.8 L358.5,141.1 L357.4,143.3 L356.2,145.5 L354.8,147.5 L353.3,149.4 L351.7,151.1 L350,152.7 L348.1,154.2 L346.3,155.5 L344.3,156.5 L342.3,157.4 L340.3,158.1 L338.2,158.6 L336.2,158.8 L334.1,158.9 L332.1,158.7 L330.2,158.4 L328.3,157.8 L326.4,157 L324.7,156 L323,154.9 L321.5,153.5 L320.1,152 L318.8,150.3 L317.7,148.5 L316.8,146.5 L316,144.4 L315.3,142.2 L314.9,140 L314.6,137.6 L314.5,135.3 L314.5,132.8 L314.8,130.4 L315.2,128 L315.8,125.6 L316.6,123.2 L317.5,120.9 L318.6,118.7 L319.8,116.5 L321.2,114.5 L322.7,112.6 L324.3,110.9 L326,109.3 L327.9,107.8 L329.7,106.5 L331.7,105.5 L333.7,104.6 L335.7,103.9 L337.8,103.4 L339.8,103.2 L341.9,103.1 L343.9,103.3 L345.8,103.6Z" fill="#fff" stroke="#000" stroke-width="1.45" stroke-linejoin="round" /><path d="M357.3,107.3 L360.1,111.2 L357,114 L354.6,110.7Z" fill="#fff" stroke="#000" stroke-width="1.2" stroke-linejoin="round" /><path d="M343.3,160 L338.6,161.4 L338.5,157.1 L342.5,155.8Z" fill="#fff" stroke="#000" stroke-width="1.2" stroke-linejoin="round" /><path d="M313.3,125.5 L315.2,120.1 L318.5,121.7 L316.9,126.2Z" fill="#fff" stroke="#000" stroke-width="1.2" stroke-linejoin="round" /><path d="M346.9,106.6 L348.6,107.3 L350.2,108.2 L351.6,109.2 L353,110.5 L354.3,111.9 L355.5,113.4 L356.5,115.1 L357.4,116.9 L358.1,118.8 L358.7,120.7 L359.1,122.8 L359.4,124.9 L359.5,127.1 L359.4,129.3 L359.2,131.5 L358.8,133.8 L358.2,136 L357.5,138.1 L356.7,140.2 L355.7,142.2 L354.6,144.2 L353.3,146 L352,147.8 L350.5,149.4 L348.9,150.8 L347.3,152.2 L345.5,153.3 L343.8,154.3 L341.9,155.1 L340.1,155.7 L338.2,156.1 L336.3,156.4 L334.5,156.4 L332.6,156.3 L330.8,156 L329.1,155.4 L327.4,154.7 L325.8,153.8 L324.4,152.8 L323,151.5 L321.7,150.1 L320.5,148.6 L319.5,146.9 L318.6,145.1 L317.9,143.2 L317.3,141.3 L316.9,139.2 L316.6,137.1 L316.5,134.9 L316.6,132.7 L316.8,130.5 L317.2,128.2 L317.8,126 L318.5,123.9 L319.3,121.8 L320.3,119.8 L321.4,117.8 L322.7,116 L324,114.2 L325.5,112.6 L327.1,111.2 L328.7,109.8 L330.5,108.7 L332.2,107.7 L334.1,106.9 L335.9,106.3 L337.8,105.9 L339.7,105.6 L341.5,105.6 L343.4,105.7 L345.2,106Z" fill="none" stroke="#000" stroke-width="1.1" stroke-linejoin="round" /><path d="M348.2,114.3 L349.5,114.8 L350.8,115.6 L352,116.4 L353.1,117.4 L354.2,118.5 L355.1,119.8 L355.9,121.1 L356.6,122.6 L357.2,124.1 L357.7,125.7 L358.1,127.4 L358.3,129.1 L358.3,130.9 L358.3,132.7 L358.1,134.4 L357.8,136.2 L357.4,138 L356.8,139.7 L356.1,141.4 L355.3,143.1 L354.4,144.7 L353.4,146.1 L352.3,147.5 L351.1,148.8 L349.8,150 L348.5,151.1 L347.1,152 L345.6,152.8 L344.2,153.5 L342.7,154 L341.2,154.3 L339.7,154.5 L338.1,154.5 L336.7,154.4 L335.2,154.2 L333.8,153.7 L332.5,153.2 L331.2,152.4 L330,151.6 L328.9,150.6 L327.8,149.5 L326.9,148.2 L326.1,146.9 L325.4,145.4 L324.8,143.9 L324.3,142.3 L323.9,140.6 L323.7,138.9 L323.7,137.1 L323.7,135.3 L323.9,133.6 L324.2,131.8 L324.6,130 L325.2,128.3 L325.9,126.6 L326.7,124.9 L327.6,123.3 L328.6,121.9 L329.7,120.5 L330.9,119.2 L332.2,118 L333.5,116.9 L334.9,116 L336.4,115.2 L337.8,114.5 L339.3,114 L340.8,113.7 L342.3,113.5 L343.9,113.5 L345.3,113.6 L346.8,113.8Z" fill="#fff" stroke="#000" stroke-width="1.45" stroke-linejoin="round" /><path d="M347.5,116.1 L348.7,116.7 L349.9,117.3 L351,118.1 L352,119 L352.9,120 L353.8,121.1 L354.5,122.4 L355.2,123.7 L355.7,125.1 L356.1,126.5 L356.4,128 L356.6,129.6 L356.7,131.2 L356.6,132.8 L356.5,134.4 L356.2,136 L355.8,137.6 L355.3,139.2 L354.7,140.7 L353.9,142.2 L353.1,143.6 L352.2,145 L351.2,146.3 L350.1,147.4 L349,148.5 L347.8,149.5 L346.5,150.3 L345.2,151 L343.9,151.6 L342.5,152.1 L341.1,152.4 L339.8,152.6 L338.4,152.6 L337.1,152.5 L335.8,152.2 L334.5,151.9 L333.3,151.3 L332.1,150.7 L331,149.9 L330,149 L329.1,148 L328.2,146.9 L327.5,145.6 L326.8,144.3 L326.3,142.9 L325.9,141.5 L325.6,140 L325.4,138.4 L325.3,136.8 L325.4,135.2 L325.5,133.6 L325.8,132 L326.2,130.4 L326.7,128.8 L327.3,127.3 L328.1,125.8 L328.9,124.4 L329.8,123 L330.8,121.7 L331.9,120.6 L333,119.5 L334.2,118.5 L335.5,117.7 L336.8,117 L338.1,116.4 L339.5,115.9 L340.9,115.6 L342.2,115.4 L343.6,115.4 L344.9,115.5 L346.2,115.8Z" fill="none" stroke="#000" stroke-width="1.0" stroke-linejoin="round" /><path d="M397.5,181.5 L396.5,180.9 L395.6,180.3 L394.7,179.4 L394,178.5 L393.3,177.4 L392.7,176.1 L392.2,174.8 L391.9,173.3 L391.6,171.8 L391.4,170.2 L391.3,168.5 L391.4,166.7 L391.5,164.9 L391.8,163.1 L392.2,161.3 L392.6,159.4 L393.2,157.6 L393.8,155.8 L394.6,154 L395.4,152.3 L396.3,150.7 L397.3,149.1 L398.3,147.6 L399.4,146.3 L400.5,145 L401.7,143.9 L402.9,142.8 L404.1,142 L405.4,141.2 L406.6,140.7 L407.8,140.2 L409,140 L410.2,139.9 L411.4,139.9 L412.5,140.1 L413.5,140.5 L408,138.1 L407,137.7 L405.9,137.5 L404.7,137.4 L403.5,137.5 L402.3,137.8 L401.1,138.2 L399.9,138.8 L398.6,139.5 L397.4,140.4 L396.2,141.4 L395,142.6 L393.9,143.8 L392.8,145.2 L391.8,146.7 L390.8,148.2 L389.9,149.9 L389.1,151.6 L388.3,153.4 L387.7,155.2 L387.1,157 L386.7,158.8 L386.3,160.7 L386.1,162.5 L385.9,164.3 L385.9,166 L385.9,167.7 L386.1,169.4 L386.4,170.9 L386.8,172.4 L387.2,173.7 L387.8,174.9 L388.5,176 L389.3,177 L390.1,177.8 L391,178.5 L392,179Z" fill="#fff" stroke="#000" stroke-width="1.45" stroke-linejoin="round" /><path d="M395.3,180.5 L394.5,179.9 L393.8,179.2 L393.1,178.5 L392.4,177.6 L391.9,176.6 L391.4,175.6 L391,174.4 L390.6,173.2 L390.3,171.9 L390.1,170.5 L390,169.1 L390,167.7 L390,166.2 L390.1,164.6 L390.3,163.1 L390.6,161.5 L391,159.9 L391.4,158.3 L391.9,156.7 L392.5,155.2 L393.1,153.7 L393.8,152.2 L394.5,150.8 L395.3,149.4 L396.2,148.1 L397.1,146.8 L398,145.6 L399,144.5 L400,143.5 L401,142.6 L402.1,141.8 L403.1,141.1 L404.2,140.5 L405.3,140 L406.3,139.7 L407.4,139.4 L408.4,139.3 L409.4,139.3 L410.4,139.4 L411.3,139.6Z" fill="none" stroke="#000" stroke-width="1.2325" stroke-linejoin="round" /><path d="M393.9,179.8 L393.1,179.3 L392.4,178.6 L391.7,177.9 L391.1,177 L390.5,176 L390,175 L389.6,173.8 L389.2,172.6 L389,171.3 L388.8,169.9 L388.6,168.5 L388.6,167.1 L388.6,165.5 L388.8,164 L389,162.4 L389.2,160.9 L389.6,159.3 L390,157.7 L390.5,156.1 L391.1,154.6 L391.7,153.1 L392.4,151.6 L393.2,150.1 L394,148.8 L394.8,147.4 L395.7,146.2 L396.7,145 L397.6,143.9 L398.6,142.9 L399.7,142 L400.7,141.2 L401.8,140.5 L402.8,139.9 L403.9,139.4 L404.9,139.1 L406,138.8 L407,138.7 L408,138.7 L409,138.8 L409.9,139Z" fill="none" stroke="#000" stroke-width="1.2325" stroke-linejoin="round" /><path d="M392.6,179.2 L391.8,178.7 L391,178 L390.3,177.2 L389.7,176.4 L389.1,175.4 L388.6,174.3 L388.2,173.2 L387.9,172 L387.6,170.7 L387.4,169.3 L387.3,167.9 L387.2,166.4 L387.3,164.9 L387.4,163.4 L387.6,161.8 L387.9,160.3 L388.2,158.7 L388.6,157.1 L389.1,155.5 L389.7,154 L390.3,152.5 L391,151 L391.8,149.5 L392.6,148.2 L393.5,146.8 L394.4,145.6 L395.3,144.4 L396.3,143.3 L397.3,142.3 L398.3,141.4 L399.3,140.6 L400.4,139.9 L401.5,139.3 L402.5,138.8 L403.6,138.5 L404.6,138.2 L405.6,138.1 L406.6,138 L407.6,138.2 L408.5,138.4Z" fill="none" stroke="#000" stroke-width="1.2325" stroke-linejoin="round" /><path d="M413,140.3 L414,140.8 L415,141.4 L415.9,142.2 L416.7,143.1 L417.4,144.1 L418,145.3 L418.5,146.6 L419,148 L419.3,149.5 L419.5,151.1 L419.6,152.7 L419.6,154.4 L419.5,156.2 L419.3,158 L419,159.9 L418.6,161.7 L418.1,163.5 L417.5,165.4 L416.8,167.1 L416,168.9 L415.1,170.6 L414.2,172.2 L413.2,173.7 L412.1,175.1 L411,176.4 L409.8,177.6 L408.7,178.7 L407.4,179.6 L406.2,180.4 L405,181.1 L403.7,181.6 L402.5,181.9 L401.3,182.1 L400.2,182.1 L399,182 L398,181.7 L397,181.2 L396,180.6 L395.1,179.8 L394.3,178.9 L393.6,177.9 L393,176.7 L392.5,175.4 L392,174 L391.7,172.5 L391.5,170.9 L391.4,169.3 L391.4,167.6 L391.5,165.8 L391.7,164 L392,162.1 L392.4,160.3 L392.9,158.5 L393.5,156.6 L394.2,154.9 L395,153.1 L395.9,151.4 L396.8,149.8 L397.8,148.3 L398.9,146.9 L400,145.6 L401.2,144.4 L402.3,143.3 L403.6,142.4 L404.8,141.6 L406,140.9 L407.3,140.4 L408.5,140.1 L409.7,139.9 L410.8,139.9 L412,140Z" fill="#fff" stroke="#000" stroke-width="1.45" stroke-linejoin="round" /><path d="M412.2,142.7 L413.1,143.1 L413.9,143.6 L414.7,144.3 L415.4,145.1 L416,146 L416.6,147.1 L417.1,148.2 L417.4,149.4 L417.7,150.8 L417.9,152.2 L418,153.7 L418,155.2 L418,156.8 L417.8,158.4 L417.5,160 L417.1,161.6 L416.7,163.3 L416.1,164.9 L415.5,166.5 L414.8,168 L414,169.5 L413.2,170.9 L412.3,172.2 L411.4,173.5 L410.4,174.7 L409.4,175.7 L408.3,176.7 L407.2,177.5 L406.1,178.2 L405,178.8 L403.9,179.2 L402.9,179.5 L401.8,179.7 L400.8,179.7 L399.8,179.6 L398.8,179.3 L397.9,178.9 L397.1,178.4 L396.3,177.7 L395.6,176.9 L395,176 L394.4,174.9 L393.9,173.8 L393.6,172.6 L393.3,171.2 L393.1,169.8 L393,168.3 L393,166.8 L393,165.2 L393.2,163.6 L393.5,162 L393.9,160.4 L394.3,158.7 L394.9,157.1 L395.5,155.5 L396.2,154 L397,152.5 L397.8,151.1 L398.7,149.8 L399.6,148.5 L400.6,147.3 L401.6,146.3 L402.7,145.3 L403.8,144.5 L404.9,143.8 L406,143.2 L407.1,142.8 L408.1,142.5 L409.2,142.3 L410.2,142.3 L411.2,142.4Z" fill="#fff" stroke="#000" stroke-width="1.305" stroke-linejoin="round" /><path d="M411.2,145.2 L412,145.6 L412.7,146 L413.4,146.6 L414,147.3 L414.6,148.1 L415.1,149 L415.5,150 L415.8,151 L416,152.2 L416.2,153.4 L416.3,154.7 L416.3,156 L416.2,157.3 L416.1,158.7 L415.8,160.1 L415.5,161.5 L415.1,162.9 L414.7,164.3 L414.1,165.7 L413.5,167 L412.9,168.3 L412.1,169.5 L411.4,170.7 L410.6,171.8 L409.7,172.8 L408.8,173.7 L407.9,174.5 L407,175.2 L406,175.8 L405.1,176.3 L404.2,176.7 L403.2,177 L402.3,177.1 L401.4,177.1 L400.6,177 L399.8,176.8 L399,176.4 L398.3,176 L397.6,175.4 L397,174.7 L396.4,173.9 L395.9,173 L395.5,172 L395.2,171 L395,169.8 L394.8,168.6 L394.7,167.3 L394.7,166 L394.8,164.7 L394.9,163.3 L395.2,161.9 L395.5,160.5 L395.9,159.1 L396.3,157.7 L396.9,156.3 L397.5,155 L398.1,153.7 L398.9,152.5 L399.6,151.3 L400.4,150.2 L401.3,149.2 L402.2,148.3 L403.1,147.5 L404,146.8 L405,146.2 L405.9,145.7 L406.8,145.3 L407.8,145 L408.7,144.9 L409.6,144.9 L410.4,145Z" fill="#fff" stroke="#000" stroke-width="1.45" stroke-linejoin="round" /><path d="M553.2,59.1 L552.1,58.5 L551.1,57.8 L550.1,57 L549.2,56 L548.4,55 L547.7,53.8 L547.1,52.5 L546.6,51.2 L546.2,49.7 L546,48.2 L545.8,46.7 L545.7,45.1 L545.8,43.5 L545.9,41.8 L546.2,40.2 L546.6,38.5 L547.1,36.9 L547.7,35.3 L548.3,33.7 L549.1,32.2 L550,30.8 L550.9,29.5 L552,28.2 L553,27 L554.2,26 L555.4,25 L556.6,24.2 L557.9,23.5 L559.1,22.9 L560.4,22.5 L561.7,22.2 L563,22.1 L564.3,22.1 L565.5,22.2 L566.7,22.5 L567.8,22.9 L546.4,13.4 L545.2,13 L544,12.7 L542.8,12.5 L541.5,12.5 L540.2,12.7 L539,12.9 L537.7,13.4 L536.4,13.9 L535.1,14.6 L533.9,15.5 L532.7,16.4 L531.6,17.5 L530.5,18.6 L529.5,19.9 L528.5,21.2 L527.7,22.7 L526.9,24.2 L526.2,25.7 L525.6,27.3 L525.1,28.9 L524.7,30.6 L524.5,32.2 L524.3,33.9 L524.2,35.5 L524.3,37.1 L524.5,38.7 L524.8,40.2 L525.2,41.6 L525.7,43 L526.3,44.2 L527,45.4 L527.8,46.5 L528.6,47.4 L529.6,48.2 L530.6,48.9 L531.7,49.5Z" fill="#fff" stroke="#000" stroke-width="1.45" stroke-linejoin="round" /><path d="M567.2,22.7 L568.3,23.2 L569.4,23.8 L570.4,24.5 L571.3,25.4 L572.1,26.4 L572.9,27.5 L573.5,28.7 L574.1,30 L574.5,31.4 L574.9,32.9 L575.1,34.4 L575.3,36 L575.3,37.6 L575.2,39.2 L575,40.9 L574.7,42.5 L574.2,44.2 L573.7,45.8 L573.1,47.4 L572.3,48.9 L571.5,50.4 L570.6,51.8 L569.6,53.1 L568.6,54.3 L567.5,55.4 L566.3,56.5 L565.1,57.4 L563.9,58.1 L562.6,58.8 L561.3,59.3 L560,59.6 L558.7,59.9 L557.5,59.9 L556.2,59.9 L555,59.7 L553.8,59.3 L552.7,58.8 L551.6,58.2 L550.6,57.5 L549.7,56.6 L548.9,55.6 L548.1,54.5 L547.5,53.3 L546.9,52 L546.5,50.6 L546.1,49.1 L545.9,47.6 L545.7,46 L545.7,44.4 L545.8,42.8 L546,41.1 L546.3,39.5 L546.8,37.8 L547.3,36.2 L547.9,34.6 L548.7,33.1 L549.5,31.6 L550.4,30.2 L551.4,28.9 L552.4,27.7 L553.5,26.6 L554.7,25.5 L555.9,24.6 L557.1,23.9 L558.4,23.2 L559.7,22.7 L561,22.4 L562.3,22.1 L563.5,22.1 L564.8,22.1 L566,22.3Z" fill="#fff" stroke="#000" stroke-width="1.45" stroke-linejoin="round" /><path d="M565.8,26.4 L566.7,26.8 L567.5,27.3 L568.3,27.9 L569.1,28.6 L569.7,29.4 L570.3,30.3 L570.9,31.3 L571.3,32.3 L571.7,33.4 L571.9,34.6 L572.1,35.8 L572.2,37 L572.2,38.3 L572.2,39.6 L572,40.9 L571.7,42.2 L571.4,43.5 L571,44.8 L570.5,46.1 L569.9,47.3 L569.3,48.5 L568.5,49.6 L567.8,50.6 L566.9,51.6 L566,52.5 L565.1,53.3 L564.2,54 L563.2,54.6 L562.2,55.1 L561.2,55.5 L560.1,55.8 L559.1,56 L558.1,56.1 L557.1,56 L556.1,55.8 L555.2,55.6 L554.3,55.2 L553.5,54.7 L552.7,54.1 L551.9,53.4 L551.3,52.6 L550.7,51.7 L550.1,50.7 L549.7,49.7 L549.3,48.6 L549.1,47.4 L548.9,46.2 L548.8,45 L548.8,43.7 L548.8,42.4 L549,41.1 L549.3,39.8 L549.6,38.5 L550,37.2 L550.5,35.9 L551.1,34.7 L551.7,33.5 L552.5,32.4 L553.2,31.4 L554.1,30.4 L555,29.5 L555.9,28.7 L556.8,28 L557.8,27.4 L558.8,26.9 L559.8,26.5 L560.9,26.2 L561.9,26 L562.9,25.9 L563.9,26 L564.9,26.2Z" fill="#fff" stroke="#000" stroke-width="1.45" stroke-linejoin="round" /><clipPath id="c1"><path d="M565.8,26.4 L566.9,26.9 L567.9,27.5 L568.8,28.3 L569.6,29.2 L570.3,30.3 L571,31.5 L571.5,32.7 L571.8,34.1 L572.1,35.5 L572.2,37 L572.2,38.6 L572.1,40.1 L571.9,41.7 L571.5,43.3 L571,44.8 L570.4,46.3 L569.7,47.8 L568.8,49.1 L567.9,50.4 L566.9,51.6 L565.9,52.6 L564.7,53.6 L563.6,54.4 L562.4,55 L561.2,55.5 L559.9,55.9 L558.7,56 L557.5,56 L556.3,55.9 L555.2,55.6 L554.1,55.1 L553.1,54.5 L552.2,53.7 L551.4,52.8 L550.7,51.7 L550,50.5 L549.5,49.3 L549.2,47.9 L548.9,46.5 L548.8,45 L548.8,43.4 L548.9,41.9 L549.1,40.3 L549.5,38.7 L550,37.2 L550.6,35.7 L551.3,34.2 L552.2,32.9 L553.1,31.6 L554.1,30.4 L555.1,29.4 L556.3,28.4 L557.4,27.6 L558.6,27 L559.8,26.5 L561.1,26.1 L562.3,26 L563.5,26 L564.7,26.1Z"/></clipPath><g clip-path="url(#c1)"><path d="M569.2,28.8 L549.1,19.8 M572.2,36.2 L552.1,27.3 M570.7,45.5 L550.6,36.6 M565.3,53.1 L545.2,44.2 M558.1,56.1 L538,47.1" stroke="#000" stroke-width="1.16" fill="none"/><path d="M545.7,17.5 L546.8,18 L547.8,18.6 L548.7,19.4 L549.5,20.3 L550.2,21.3 L550.9,22.5 L551.4,23.8 L551.7,25.1 L552,26.6 L552.1,28.1 L552.1,29.6 L552,31.2 L551.8,32.8 L551.4,34.3 L550.9,35.9 L550.3,37.4 L549.6,38.8 L548.7,40.2 L547.8,41.5 L546.8,42.6 L545.8,43.7 L544.6,44.6 L543.5,45.4 L542.3,46.1 L541.1,46.6 L539.8,46.9 L538.6,47.1 L537.4,47.1 L536.2,46.9 L535.1,46.6 L534,46.1 L533,45.5 L532.1,44.7 L531.3,43.8 L530.6,42.8 L529.9,41.6 L529.4,40.3 L529.1,39 L528.8,37.5 L528.7,36 L528.7,34.5 L528.8,32.9 L529,31.3 L529.4,29.8 L529.9,28.2 L530.5,26.7 L531.2,25.3 L532.1,23.9 L533,22.6 L534,21.5 L535,20.4 L536.2,19.5 L537.3,18.7 L538.5,18 L539.7,17.5 L541,17.2 L542.2,17 L543.4,17 L544.6,17.2Z" stroke="#000" stroke-width="1.16" fill="none"/></g><circle cx="542" cy="27.6" r="2" fill="#fff" stroke="#000" stroke-width="1.1"/><path d="M611.7,90.4 L610.5,89.8 L609.4,89 L608.4,88.1 L607.5,87.1 L606.7,85.9 L606,84.6 L605.4,83.1 L604.9,81.6 L604.5,80 L604.2,78.3 L604.1,76.5 L604.1,74.7 L604.2,72.8 L604.4,71 L604.7,69.1 L605.2,67.2 L605.7,65.3 L606.4,63.5 L607.2,61.7 L608.1,59.9 L609,58.3 L610.1,56.7 L611.2,55.2 L612.4,53.8 L613.7,52.6 L614.9,51.4 L616.3,50.5 L617.6,49.6 L619,48.9 L620.4,48.4 L621.8,48 L623.2,47.8 L624.5,47.8 L625.8,47.9 L627.1,48.2 L628.3,48.6 L601.8,36.8 L600.6,36.4 L599.4,36.1 L598,36 L596.7,36 L595.3,36.2 L593.9,36.6 L592.5,37.1 L591.2,37.8 L589.8,38.7 L588.5,39.6 L587.2,40.8 L585.9,42 L584.7,43.4 L583.6,44.9 L582.5,46.5 L581.6,48.1 L580.7,49.9 L579.9,51.7 L579.2,53.5 L578.7,55.4 L578.2,57.3 L577.9,59.2 L577.7,61 L577.6,62.9 L577.6,64.7 L577.7,66.5 L578,68.2 L578.4,69.8 L578.9,71.3 L579.5,72.8 L580.2,74.1 L581,75.3 L581.9,76.3 L582.9,77.2 L584,78 L585.2,78.6Z" fill="#fff" stroke="#000" stroke-width="1.45" stroke-linejoin="round" /><path d="M608.3,88.8 L607.1,87.9 L585.1,78.2 L586.4,79.1Z" fill="#fff" stroke="#000" stroke-width="1.16" stroke-linejoin="round" /><path d="M605.3,86.1 L604.4,84.7 L582.4,75 L583.4,76.4Z" fill="#fff" stroke="#000" stroke-width="1.16" stroke-linejoin="round" /><path d="M603.1,82.2 L602.6,80.5 L580.6,70.7 L581.2,72.5Z" fill="#fff" stroke="#000" stroke-width="1.16" stroke-linejoin="round" /><path d="M602,77.4 L601.8,75.4 L579.9,65.6 L580,67.7Z" fill="#fff" stroke="#000" stroke-width="1.16" stroke-linejoin="round" /><path d="M601.9,72 L602.1,69.8 L580.2,60 L579.9,62.2Z" fill="#fff" stroke="#000" stroke-width="1.16" stroke-linejoin="round" /><path d="M602.8,66.3 L603.5,64.1 L581.6,54.4 L580.9,56.6Z" fill="#fff" stroke="#000" stroke-width="1.16" stroke-linejoin="round" /><path d="M604.8,60.8 L605.9,58.8 L583.9,49 L582.9,51Z" fill="#fff" stroke="#000" stroke-width="1.16" stroke-linejoin="round" /><path d="M607.7,55.8 L609,54.1 L587.1,44.3 L585.8,46Z" fill="#fff" stroke="#000" stroke-width="1.16" stroke-linejoin="round" /><path d="M611.3,51.7 L612.8,50.3 L590.9,40.6 L589.3,41.9Z" fill="#fff" stroke="#000" stroke-width="1.16" stroke-linejoin="round" /><path d="M615.2,48.7 L616.9,47.9 L594.9,38.1 L593.3,38.9Z" fill="#fff" stroke="#000" stroke-width="1.16" stroke-linejoin="round" /><path d="M619.4,47 L621,46.8 L599.1,37 L597.5,37.3Z" fill="#fff" stroke="#000" stroke-width="1.16" stroke-linejoin="round" /><path d="M623.5,46.8 L624.9,47.2 L603,37.4 L601.5,37.1Z" fill="#fff" stroke="#000" stroke-width="1.16" stroke-linejoin="round" /><path d="M627.7,48.4 L628.9,48.9 L630,49.6 L631,50.4 L632,51.4 L632.9,52.5 L633.6,53.7 L634.3,55.1 L634.9,56.6 L635.3,58.1 L635.6,59.8 L635.8,61.5 L635.9,63.3 L635.9,65.2 L635.7,67 L635.5,68.9 L635.1,70.8 L634.6,72.7 L634,74.6 L633.2,76.4 L632.4,78.2 L631.5,79.9 L630.5,81.5 L629.4,83 L628.2,84.5 L627,85.8 L625.7,87 L624.4,88 L623.1,89 L621.7,89.7 L620.3,90.3 L618.9,90.8 L617.5,91.1 L616.2,91.2 L614.8,91.2 L613.6,91 L612.3,90.6 L611.1,90.1 L610,89.4 L609,88.6 L608,87.6 L607.1,86.5 L606.4,85.3 L605.7,83.9 L605.1,82.4 L604.7,80.9 L604.4,79.2 L604.2,77.5 L604.1,75.7 L604.1,73.8 L604.3,72 L604.5,70.1 L604.9,68.2 L605.4,66.3 L606,64.4 L606.8,62.6 L607.6,60.8 L608.5,59.1 L609.5,57.5 L610.6,56 L611.8,54.5 L613,53.2 L614.3,52 L615.6,51 L616.9,50 L618.3,49.3 L619.7,48.7 L621.1,48.2 L622.5,47.9 L623.8,47.8 L625.2,47.8 L626.4,48Z" fill="#fff" stroke="#000" stroke-width="1.45" stroke-linejoin="round" /><path d="M626.7,51.2 L627.7,51.6 L628.7,52.2 L629.6,52.9 L630.4,53.8 L631.2,54.8 L631.8,55.8 L632.4,57 L632.9,58.3 L633.3,59.7 L633.6,61.1 L633.7,62.6 L633.8,64.2 L633.8,65.7 L633.6,67.4 L633.4,69 L633.1,70.7 L632.6,72.3 L632.1,73.9 L631.5,75.5 L630.8,77 L630,78.5 L629.1,79.9 L628.1,81.2 L627.1,82.5 L626.1,83.6 L625,84.7 L623.8,85.6 L622.7,86.4 L621.5,87 L620.3,87.6 L619.1,88 L617.9,88.2 L616.7,88.3 L615.5,88.3 L614.4,88.1 L613.3,87.8 L612.3,87.4 L611.3,86.8 L610.4,86.1 L609.6,85.2 L608.8,84.2 L608.2,83.2 L607.6,82 L607.1,80.7 L606.7,79.3 L606.4,77.9 L606.3,76.4 L606.2,74.8 L606.2,73.3 L606.4,71.6 L606.6,70 L606.9,68.3 L607.4,66.7 L607.9,65.1 L608.5,63.5 L609.2,62 L610,60.5 L610.9,59.1 L611.9,57.8 L612.9,56.5 L613.9,55.4 L615,54.3 L616.2,53.4 L617.3,52.6 L618.5,52 L619.7,51.4 L620.9,51 L622.1,50.8 L623.3,50.7 L624.5,50.7 L625.6,50.9Z" fill="#fff" stroke="#000" stroke-width="1.45" stroke-linejoin="round" /><clipPath id="c2"><path d="M626.7,51.2 L627.9,51.7 L629,52.5 L630.1,53.4 L631,54.6 L631.8,55.8 L632.5,57.3 L633,58.8 L633.5,60.5 L633.7,62.3 L633.8,64.2 L633.8,66.1 L633.6,68 L633.2,70 L632.7,72 L632.1,73.9 L631.3,75.8 L630.4,77.6 L629.4,79.3 L628.3,81 L627.1,82.5 L625.9,83.8 L624.5,85 L623.1,86.1 L621.7,86.9 L620.3,87.6 L618.8,88 L617.4,88.3 L616,88.3 L614.6,88.2 L613.3,87.8 L612.1,87.3 L611,86.5 L609.9,85.6 L609,84.4 L608.2,83.2 L607.5,81.7 L607,80.2 L606.5,78.5 L606.3,76.7 L606.2,74.8 L606.2,72.9 L606.4,71 L606.8,69 L607.3,67 L607.9,65.1 L608.7,63.2 L609.6,61.4 L610.6,59.7 L611.7,58 L612.9,56.5 L614.1,55.2 L615.5,54 L616.9,52.9 L618.3,52.1 L619.7,51.4 L621.2,51 L622.6,50.7 L624,50.7 L625.4,50.8Z"/></clipPath><g clip-path="url(#c2)"><path d="M630.3,53.7 L603.8,41.9 M631.9,56 L605.4,44.2 M633.1,58.8 L606.6,47 M633.7,62.1 L607.2,50.3 M633.8,65.6 L607.3,53.8 M633.4,69.3 L606.9,57.5 M632.4,72.9 L605.9,61.1 M631,76.5 L604.5,64.7 M629.2,79.8 L602.7,68 M627,82.7 L600.5,70.9 M624.5,85 L598,73.2 M621.9,86.8 L595.4,75 M619.2,87.9 L592.7,76.1 M616.5,88.3 L590,76.5" stroke="#000" stroke-width="1.16" fill="none"/><path d="M599.8,40.3 L601,40.9 L602.1,41.6 L603.1,42.5 L604,43.5 L604.7,44.7 L605.4,46.1 L605.9,47.6 L606.3,49.2 L606.5,50.9 L606.6,52.6 L606.6,54.4 L606.4,56.3 L606,58.2 L605.6,60 L605,61.9 L604.3,63.7 L603.4,65.4 L602.5,67 L601.4,68.6 L600.3,70 L599.1,71.3 L597.8,72.4 L596.5,73.4 L595.1,74.2 L593.8,74.8 L592.4,75.3 L591,75.5 L589.7,75.6 L588.4,75.4 L587.2,75.1 L586,74.6 L584.9,73.8 L583.9,72.9 L583.1,71.9 L582.3,70.7 L581.6,69.3 L581.1,67.8 L580.7,66.2 L580.5,64.5 L580.4,62.8 L580.5,61 L580.6,59.1 L581,57.2 L581.4,55.4 L582,53.5 L582.8,51.7 L583.6,50 L584.6,48.4 L585.6,46.8 L586.7,45.4 L587.9,44.1 L589.2,43 L590.5,42 L591.9,41.2 L593.3,40.6 L594.6,40.1 L596,39.9 L597.3,39.8 L598.6,40Z" stroke="#000" stroke-width="1.16" fill="none"/></g><path d="M661.2,120.8 L659.6,120 L658,118.9 L656.6,117.7 L655.2,116.2 L654,114.6 L653,112.8 L652.1,110.9 L651.3,108.9 L650.7,106.7 L650.3,104.4 L650,102.1 L649.9,99.7 L650,97.2 L650.3,94.7 L650.7,92.2 L651.2,89.7 L652,87.3 L652.9,84.9 L653.9,82.5 L655.1,80.2 L656.4,78.1 L657.8,76 L659.4,74.1 L661,72.3 L662.7,70.7 L664.5,69.3 L666.4,68.1 L668.3,67 L670.2,66.2 L672.2,65.5 L674.1,65.1 L676.1,64.9 L678,64.9 L679.8,65.1 L681.6,65.5 L683.4,66.2 L672.4,61.3 L670.7,60.6 L668.9,60.2 L667,60 L665.1,60 L663.2,60.2 L661.2,60.6 L659.3,61.3 L657.3,62.1 L655.4,63.2 L653.6,64.4 L651.8,65.9 L650.1,67.5 L648.4,69.2 L646.9,71.1 L645.4,73.2 L644.1,75.4 L643,77.6 L641.9,80 L641,82.4 L640.3,84.8 L639.7,87.3 L639.3,89.8 L639,92.3 L639,94.8 L639.1,97.2 L639.3,99.6 L639.8,101.8 L640.4,104 L641.1,106 L642,108 L643.1,109.7 L644.3,111.3 L645.6,112.8 L647.1,114 L648.6,115.1 L650.3,115.9Z" fill="#fff" stroke="#000" stroke-width="1.6" stroke-linejoin="round" /><path d="M646.2,120 L647.9,114.6 L669.5,122.1 L667.9,127.5 L667.2,128.5 L666.7,128.5 L666.2,128.5 L647.1,121.7 L646.7,121.4 L646.2,121.2Z" fill="#fff" stroke="#000" stroke-width="1.6" stroke-linejoin="round" /><path d="M666.7,128.5 L646.7,121.4" stroke="#000" stroke-width="1.2800000000000002" fill="none"/><path d="M676.6,64 L680.1,60.1 L681.1,59.7 L684.1,59.5 L684.6,59.7 L685.1,59.9 L685.2,61 L683.9,66.4 L679,66.6Z" fill="#fff" stroke="#000" stroke-width="1.6" stroke-linejoin="round" /><path d="M684.6,59.7 L681.4,60.1" stroke="#000" stroke-width="1.2800000000000002" fill="none"/><path d="M640.9,116.8 L641.1,115.6 L643.7,110.6 L663.8,121.7 L661.3,126.7 L660.5,127.5 L660,127.3 L659.5,127.2 L641.6,117.5 L641.2,117.2Z" fill="#fff" stroke="#000" stroke-width="1.6" stroke-linejoin="round" /><path d="M660,127.3 L641.2,117.2" stroke="#000" stroke-width="1.2800000000000002" fill="none"/><path d="M671.8,61 L674.7,56.3 L675.5,55.6 L676,55.8 L676.4,56.1 L678.4,58.5 L678.8,59.5 L678.6,64.9 L675.1,64.9Z" fill="#fff" stroke="#000" stroke-width="1.6" stroke-linejoin="round" /><path d="M677.9,58.5 L676,55.8" stroke="#000" stroke-width="1.2800000000000002" fill="none"/><path d="M636.9,110.4 L637.4,109.3 L640.8,105.1 L656.1,117.2 L658.7,119.4 L655.4,123.7 L654.5,124.2 L637.4,111.5 L637.1,111Z" fill="#fff" stroke="#000" stroke-width="1.6" stroke-linejoin="round" /><path d="M654.1,123.9 L637.1,111" stroke="#000" stroke-width="1.2800000000000002" fill="none"/><path d="M666.4,60 L668.3,54.7 L669,53.7 L669.5,53.8 L670,53.9 L671.9,60.4 L672.8,65.3 L669.3,66.5Z" fill="#fff" stroke="#000" stroke-width="1.6" stroke-linejoin="round" /><path d="M670.8,59.8 L669.5,53.8" stroke="#000" stroke-width="1.2800000000000002" fill="none"/><path d="M634.6,102.6 L635.2,101.6 L639.2,98.5 L652.7,112.2 L654.6,115.4 L650.7,118.6 L649.8,118.8 L634.8,103.8 L634.7,103.2Z" fill="#fff" stroke="#000" stroke-width="1.6" stroke-linejoin="round" /><path d="M649.5,118.4 L634.7,103.2" stroke="#000" stroke-width="1.2800000000000002" fill="none"/><path d="M660.5,60.8 L661.4,55.4 L662,54.3 L662.5,54.1 L663,54 L663.5,54.9 L667,67.7 L663.7,70Z" fill="#fff" stroke="#000" stroke-width="1.6" stroke-linejoin="round" /><path d="M663.8,63.3 L662.5,54.1" stroke="#000" stroke-width="1.2800000000000002" fill="none"/><path d="M634,95.2 L634.1,94.5 L634.1,93.8 L634.9,93 L639.1,91.2 L650.6,106 L651.7,109.9 L647.5,111.8 L646.5,111.7Z" fill="#fff" stroke="#000" stroke-width="1.6" stroke-linejoin="round" /><path d="M646.4,111.2 L634.1,94.5" stroke="#000" stroke-width="1.2800000000000002" fill="none"/><path d="M654.6,58.3 L654.9,57.1 L655.4,56.8 L655.9,56.6 L656.6,57.2 L658.2,61.7 L661.6,71.8 L658.6,75 L656.9,70.6 L654.8,63.6Z" fill="#fff" stroke="#000" stroke-width="1.6" stroke-linejoin="round" /><path d="M657.4,68.9 L655.4,56.8" stroke="#000" stroke-width="1.2800000000000002" fill="none"/><path d="M635.1,86.1 L635.3,85.4 L635.5,84.7 L636.4,84.2 L640.6,83.7 L649.9,98.9 L650.1,103.2 L645.9,103.8 L645.1,103.4Z" fill="#fff" stroke="#000" stroke-width="1.6" stroke-linejoin="round" /><path d="M645.1,102.7 L635.3,85.4" stroke="#000" stroke-width="1.2800000000000002" fill="none"/><path d="M648.1,63.3 L648.2,62.1 L648.7,61.7 L649.2,61.3 L650,61.6 L652.6,65.2 L656.9,77.4 L654.5,81.3 L651.9,77.8Z" fill="#fff" stroke="#000" stroke-width="1.6" stroke-linejoin="round" /><path d="M652,76.2 L648.7,61.7" stroke="#000" stroke-width="1.2800000000000002" fill="none"/><path d="M638,77.1 L638.3,76.5 L638.6,75.8 L639.5,75.6 L643.5,76.6 L650.8,91.4 L650.1,95.9 L646.1,95 L645.5,94.4 L638.4,78.1Z" fill="#fff" stroke="#000" stroke-width="1.6" stroke-linejoin="round" /><path d="M645.6,93.7 L638.3,76.5" stroke="#000" stroke-width="1.2800000000000002" fill="none"/><path d="M642.5,69 L642.9,68.4 L643.3,67.8 L644.2,67.9 L647.5,70.3 L653.2,84.1 L651.6,88.4 L648.2,86.2 L647.7,85.3 L642.6,70.1Z" fill="#fff" stroke="#000" stroke-width="1.6" stroke-linejoin="round" /><path d="M647.9,84.6 L642.9,68.4" stroke="#000" stroke-width="1.2800000000000002" fill="none"/><path d="M679.7,65.1 L680.2,65.2 L680.6,65.3 L681.4,64.4 L683,60.9 L684.1,59.5 L684.6,59.7 L685.1,59.9 L685,61.7 L684.1,65.4 L684.1,66.5 L684.5,66.7 L684.9,67 L685.3,67.2 L685.7,67.5 L686.6,66.8 L688.8,63.8 L690,62.7 L690.5,63.1 L690.9,63.5 L690.5,65.3 L688.8,68.8 L688.6,69.9 L688.9,70.3 L689.3,70.7 L689.6,71.1 L689.9,71.4 L690.8,71.1 L693.4,68.8 L694.8,68.1 L695.1,68.6 L695.5,69.2 L694.7,70.8 L692.4,73.8 L692,75 L692.2,75.4 L692.5,75.9 L692.7,76.4 L692.9,76.9 L693.8,76.9 L696.6,75.4 L698,75.2 L698.2,75.8 L698.4,76.5 L697.3,77.9 L694.7,80.2 L694.1,81.2 L694.2,81.8 L694.3,82.4 L694.4,83 L694.4,83.6 L695.3,83.8 L698.2,83.3 L699.5,83.5 L699.5,84.3 L699.6,85 L698.3,86.1 L695.4,87.6 L694.7,88.4 L694.6,89 L694.6,89.6 L694.6,90.2 L694.5,90.8 L695.2,91.4 L698,91.9 L699.1,92.5 L699,93.3 L698.9,94.1 L697.5,94.8 L694.6,95.3 L693.7,95.8 L693.6,96.5 L693.4,97.1 L693.2,97.7 L693.1,98.3 L693.6,99.1 L696,100.5 L696.9,101.6 L696.7,102.4 L696.4,103.1 L695,103.3 L692.2,102.9 L691.3,103.2 L691,103.7 L690.8,104.3 L690.5,104.9 L690.2,105.5 L690.5,106.5 L692.4,108.7 L693,110.2 L692.6,110.8 L692.2,111.5 L690.9,111.3 L688.5,109.8 L687.6,109.8 L687.2,110.3 L686.9,110.8 L686.5,111.3 L686.1,111.8 L686.2,112.9 L687.5,115.9 L687.7,117.5 L687.2,118.1 L686.7,118.6 L685.6,118 L683.7,115.7 L682.9,115.4 L682.4,115.8 L682,116.1 L681.6,116.5 L681.1,116.9 L680.9,118.1 L681.5,121.5 L681.4,123.3 L680.8,123.7 L680.2,124.1 L679.3,123 L678.1,120 L677.4,119.4 L676.9,119.7 L676.4,119.9 L676,120.2 L675.5,120.4 L675.1,121.5 L674.9,125.2 L674.4,127 L673.8,127.2 L673.2,127.4 L672.6,126 L672.1,122.5 L671.6,121.7 L671.1,121.8 L670.6,121.9 L670.1,122 L669.6,122 L669.1,123.1 L668.1,126.8 L667.3,128.5 L666.7,128.5 L666.1,128.5 L665.9,126.8 L666.1,123.1 L665.8,122.1 L665.4,122 L664.9,121.9 L664.4,121.8 L664,121.7 L663.2,122.6 L661.6,126.1 L660.5,127.5 L660,127.3 L659.5,127.1 L659.6,125.3 L660.5,121.6 L660.5,120.5 L660.1,120.3 L659.7,120 L659.3,119.8 L658.9,119.5 L658,120.2 L655.8,123.2 L654.6,124.3 L654.1,123.9 L653.7,123.5 L654.1,121.7 L655.8,118.2 L656,117.1 L655.7,116.7 L655.3,116.3 L655,115.9 L654.7,115.6 L653.8,115.9 L651.2,118.2 L649.8,118.9 L649.5,118.4 L649.1,117.8 L649.9,116.2 L652.2,113.2 L652.6,112 L652.4,111.6 L652.1,111.1 L651.9,110.6 L651.7,110.1 L650.8,110.1 L648,111.6 L646.6,111.8 L646.4,111.2 L646.2,110.5 L647.3,109.1 L649.9,106.8 L650.5,105.8 L650.4,105.2 L650.3,104.6 L650.2,104 L650.2,103.4 L649.3,103.2 L646.4,103.7 L645.1,103.5 L645.1,102.7 L645,102 L646.3,100.9 L649.2,99.4 L649.9,98.6 L650,98 L650,97.4 L650,96.8 L650.1,96.2 L649.4,95.6 L646.6,95.1 L645.5,94.5 L645.6,93.7 L645.7,92.9 L647.1,92.2 L650,91.7 L650.9,91.2 L651,90.5 L651.2,89.9 L651.4,89.3 L651.5,88.7 L651,87.9 L648.6,86.5 L647.7,85.4 L647.9,84.6 L648.2,83.9 L649.6,83.7 L652.4,84.1 L653.3,83.8 L653.6,83.3 L653.8,82.7 L654.1,82.1 L654.4,81.5 L654.1,80.5 L652.2,78.3 L651.6,76.8 L652,76.2 L652.4,75.5 L653.7,75.7 L656.1,77.2 L657,77.2 L657.4,76.7 L657.7,76.2 L658.1,75.7 L658.5,75.2 L658.4,74.1 L657.1,71.1 L656.9,69.5 L657.4,68.9 L657.9,68.4 L659,69 L660.9,71.3 L661.7,71.6 L662.2,71.2 L662.6,70.9 L663,70.5 L663.5,70.1 L663.7,68.9 L663.1,65.5 L663.2,63.7 L663.8,63.3 L664.4,62.9 L665.3,64 L666.5,67 L667.2,67.6 L667.7,67.3 L668.2,67.1 L668.6,66.8 L669.1,66.6 L669.5,65.5 L669.7,61.8 L670.2,60 L670.8,59.8 L671.4,59.6 L672,61 L672.5,64.5 L673,65.3 L673.5,65.2 L674,65.1 L674.5,65 L675,65 L675.5,63.9 L676.5,60.2 L677.3,58.5 L677.9,58.5 L678.5,58.5 L678.7,60.2 L678.5,63.9 L678.8,64.9 L679.2,65Z" fill="#fff" stroke="#000" stroke-width="1.6" stroke-linejoin="round" /><path d="M685.4,120.1 L684.3,119.5 L683.3,118.9 L682.4,118.1 L681.5,117.1 L680.7,116.1 L680.1,115 L679.5,113.7 L679,112.4 L678.6,111 L678.3,109.5 L678.2,108 L678.1,106.5 L678.1,104.9 L678.3,103.3 L678.6,101.7 L678.9,100.1 L679.4,98.5 L680,96.9 L680.7,95.4 L681.4,94 L682.3,92.6 L683.2,91.2 L684.2,90 L685.2,88.9 L686.3,87.8 L687.5,86.9 L688.7,86.1 L689.9,85.4 L691.2,84.9 L692.4,84.5 L693.7,84.2 L694.9,84.1 L696.2,84.1 L697.4,84.2 L698.5,84.5 L699.6,84.9 L679.1,75.8 L678,75.3 L676.8,75.1 L675.6,74.9 L674.4,74.9 L673.1,75 L671.9,75.3 L670.6,75.7 L669.4,76.3 L668.1,77 L666.9,77.8 L665.8,78.7 L664.7,79.7 L663.6,80.9 L662.6,82.1 L661.7,83.4 L660.9,84.8 L660.1,86.3 L659.4,87.8 L658.9,89.3 L658.4,90.9 L658,92.5 L657.7,94.1 L657.6,95.7 L657.5,97.3 L657.6,98.9 L657.8,100.4 L658.1,101.9 L658.4,103.2 L658.9,104.6 L659.5,105.8 L660.2,106.9 L661,108 L661.8,108.9 L662.7,109.7 L663.7,110.4 L664.8,110.9Z" fill="#fff" stroke="#000" stroke-width="1.45" stroke-linejoin="round" /><path d="M699,84.6 L700.1,85.1 L701.1,85.7 L702.1,86.5 L703,87.3 L703.8,88.3 L704.6,89.4 L705.2,90.6 L705.7,91.8 L706.2,93.2 L706.5,94.6 L706.8,96.1 L706.9,97.6 L706.9,99.2 L706.8,100.8 L706.6,102.4 L706.3,104 L705.9,105.6 L705.4,107.2 L704.7,108.7 L704,110.2 L703.2,111.6 L702.4,113 L701.4,114.3 L700.4,115.5 L699.3,116.6 L698.2,117.6 L697,118.4 L695.8,119.2 L694.6,119.8 L693.3,120.3 L692,120.7 L690.8,120.9 L689.6,121 L688.3,120.9 L687.1,120.7 L686,120.4 L684.9,119.9 L683.9,119.3 L682.9,118.5 L682,117.7 L681.2,116.7 L680.4,115.6 L679.8,114.4 L679.3,113.2 L678.8,111.8 L678.5,110.4 L678.2,108.9 L678.1,107.4 L678.1,105.8 L678.2,104.2 L678.4,102.6 L678.7,101 L679.1,99.4 L679.6,97.8 L680.3,96.3 L681,94.8 L681.8,93.4 L682.6,92 L683.6,90.7 L684.6,89.5 L685.7,88.4 L686.8,87.4 L688,86.6 L689.2,85.8 L690.4,85.2 L691.7,84.7 L693,84.3 L694.2,84.1 L695.4,84 L696.7,84.1 L697.9,84.3Z" fill="#fff" stroke="#000" stroke-width="1.45" stroke-linejoin="round" /><path d="M697.6,88.4 L698.5,88.8 L699.3,89.3 L700.1,89.8 L700.8,90.5 L701.4,91.3 L702,92.1 L702.5,93.1 L703,94.1 L703.3,95.1 L703.6,96.3 L703.8,97.4 L703.9,98.7 L703.9,99.9 L703.8,101.2 L703.6,102.4 L703.4,103.7 L703.1,105 L702.6,106.2 L702.2,107.4 L701.6,108.6 L701,109.7 L700.3,110.8 L699.5,111.8 L698.7,112.7 L697.9,113.6 L697,114.4 L696,115.1 L695.1,115.7 L694.1,116.2 L693.1,116.6 L692.1,116.8 L691.2,117 L690.2,117.1 L689.2,117 L688.3,116.9 L687.4,116.6 L686.5,116.2 L685.7,115.7 L684.9,115.2 L684.2,114.5 L683.6,113.7 L683,112.9 L682.5,111.9 L682,110.9 L681.7,109.9 L681.4,108.7 L681.2,107.6 L681.1,106.3 L681.1,105.1 L681.2,103.8 L681.4,102.6 L681.6,101.3 L681.9,100 L682.4,98.8 L682.8,97.6 L683.4,96.4 L684,95.3 L684.7,94.2 L685.5,93.2 L686.3,92.3 L687.1,91.4 L688,90.6 L689,89.9 L689.9,89.3 L690.9,88.8 L691.9,88.4 L692.9,88.2 L693.8,88 L694.8,87.9 L695.8,88 L696.7,88.1Z" fill="#fff" stroke="#000" stroke-width="1.45" stroke-linejoin="round" /><path d="M749.5,150 L748.4,149.5 L747.4,148.7 L746.4,147.9 L745.5,146.9 L744.7,145.8 L744,144.6 L743.3,143.3 L742.8,141.9 L742.4,140.5 L742.1,138.9 L742,137.3 L741.9,135.7 L741.9,134 L742.1,132.4 L742.4,130.7 L742.8,129 L743.3,127.3 L743.9,125.7 L744.6,124.1 L745.4,122.5 L746.3,121.1 L747.2,119.7 L748.3,118.4 L749.4,117.2 L750.6,116.1 L751.8,115.1 L753,114.3 L754.3,113.6 L755.7,113 L757,112.6 L758.3,112.3 L759.6,112.1 L760.9,112.1 L762.2,112.3 L763.4,112.6 L764.6,113 L738.1,101.2 L736.9,100.8 L735.7,100.5 L734.4,100.3 L733.1,100.3 L731.8,100.5 L730.5,100.8 L729.2,101.2 L727.8,101.8 L726.6,102.5 L725.3,103.3 L724.1,104.3 L722.9,105.4 L721.8,106.6 L720.8,107.9 L719.8,109.3 L718.9,110.7 L718.1,112.3 L717.4,113.9 L716.8,115.5 L716.3,117.2 L715.9,118.9 L715.6,120.6 L715.4,122.2 L715.4,123.9 L715.5,125.6 L715.6,127.1 L715.9,128.7 L716.3,130.2 L716.9,131.5 L717.5,132.8 L718.2,134 L719,135.1 L719.9,136.1 L720.9,137 L721.9,137.7 L723,138.3Z" fill="#fff" stroke="#000" stroke-width="1.45" stroke-linejoin="round" /><path d="M756.6,161.9 L755,161.1 L753.5,160.1 L752.2,158.9 L750.9,157.6 L749.8,156 L748.8,154.4 L747.9,152.5 L747.2,150.6 L746.6,148.5 L746.2,146.4 L746,144.1 L745.9,141.9 L745.9,139.5 L746.2,137.2 L746.6,134.8 L747.1,132.4 L747.8,130.1 L748.7,127.8 L749.6,125.6 L750.8,123.4 L752,121.4 L753.4,119.4 L754.8,117.6 L756.4,115.9 L758,114.4 L759.7,113 L761.5,111.9 L763.3,110.9 L765.1,110 L767,109.4 L768.8,109 L770.7,108.8 L772.5,108.8 L774.3,109 L776,109.5 L777.6,110.1 L767.6,105.6 L765.9,105 L764.2,104.6 L762.4,104.4 L760.6,104.4 L758.8,104.6 L756.9,105 L755.1,105.6 L753.3,106.4 L751.4,107.4 L749.7,108.6 L748,109.9 L746.3,111.5 L744.8,113.1 L743.3,114.9 L742,116.9 L740.7,118.9 L739.6,121.1 L738.6,123.3 L737.8,125.6 L737.1,127.9 L736.5,130.3 L736.1,132.7 L735.9,135 L735.8,137.4 L735.9,139.7 L736.2,141.9 L736.6,144.1 L737.1,146.1 L737.9,148.1 L738.7,149.9 L739.7,151.6 L740.9,153.1 L742.1,154.4 L743.5,155.6 L745,156.6 L746.5,157.5Z" fill="#fff" stroke="#000" stroke-width="1.6" stroke-linejoin="round" /><path d="M772,108.6 L775.5,105.3 L778.2,103.9 L778.7,104 L779.2,104.2 L779.4,105.3 L778.3,110.4 L774.4,111.5Z" fill="#fff" stroke="#000" stroke-width="1.6" stroke-linejoin="round" /><path d="M778.7,104.1 L776.7,105.4" stroke="#000" stroke-width="1.2800000000000002" fill="none"/><path d="M742.4,160.9 L743.9,155.9 L765,163 L763.6,168 L763,169 L761.9,169 L743.3,162.6 L742.9,162.3 L742.4,162.1Z" fill="#fff" stroke="#000" stroke-width="1.6" stroke-linejoin="round" /><path d="M762.4,169 L742.9,162.3" stroke="#000" stroke-width="1.2800000000000002" fill="none"/><path d="M767.2,105.4 L769.9,101.1 L770.8,100.5 L771.2,100.7 L771.7,101 L772.7,103.9 L772.7,108.8 L769.1,109Z" fill="#fff" stroke="#000" stroke-width="1.6" stroke-linejoin="round" /><path d="M771.8,103 L771.2,100.7" stroke="#000" stroke-width="1.2800000000000002" fill="none"/><path d="M737,157.3 L737.2,156.1 L739.7,151.6 L759.2,162.8 L756.8,167.4 L756,168.1 L755.5,167.9 L755,167.8 L737.7,158.1 L737.4,157.7Z" fill="#fff" stroke="#000" stroke-width="1.6" stroke-linejoin="round" /><path d="M755.5,167.9 L737.4,157.7" stroke="#000" stroke-width="1.2800000000000002" fill="none"/><path d="M761.5,104.3 L763.4,99.4 L764.1,98.6 L764.6,98.6 L765.1,98.7 L765.4,99.7 L766.7,109.5 L763.1,111Z" fill="#fff" stroke="#000" stroke-width="1.6" stroke-linejoin="round" /><path d="M764.4,104.6 L764.6,98.6" stroke="#000" stroke-width="1.2800000000000002" fill="none"/><path d="M733.3,150.4 L733.7,149.3 L737,145.6 L751.3,158 L754,160.4 L750.8,164.2 L749.9,164.7 L733.7,151.5 L733.5,151Z" fill="#fff" stroke="#000" stroke-width="1.6" stroke-linejoin="round" /><path d="M749.5,164.3 L733.5,151" stroke="#000" stroke-width="1.2800000000000002" fill="none"/><path d="M755.5,105.4 L756.3,100.3 L756.8,99.3 L757.3,99.2 L757.9,99 L758.4,99.8 L760.8,112.3 L757.4,115Z" fill="#fff" stroke="#000" stroke-width="1.6" stroke-linejoin="round" /><path d="M757.3,108.7 L757.3,99.2" stroke="#000" stroke-width="1.2800000000000002" fill="none"/><path d="M731.4,142 L732.1,141 L735.9,138.5 L748,152.6 L749.8,156.1 L746.1,158.7 L745.2,158.9 L731.6,143.3 L731.5,142.6Z" fill="#fff" stroke="#000" stroke-width="1.6" stroke-linejoin="round" /><path d="M744.9,158.4 L731.5,142.6" stroke="#000" stroke-width="1.2800000000000002" fill="none"/><path d="M749.2,103.8 L749.5,102.7 L750.1,102.3 L750.6,102 L751.3,102.5 L753.1,106.5 L755.3,117.1 L752.5,120.7 L750.6,116.8 L749.6,108.7Z" fill="#fff" stroke="#000" stroke-width="1.6" stroke-linejoin="round" /><path d="M751,115.1 L750.1,102.3" stroke="#000" stroke-width="1.2800000000000002" fill="none"/><path d="M731.5,134.1 L731.6,133.4 L731.7,132.7 L732.5,132 L736.4,130.8 L746.1,145.9 L747,150.1 L743.1,151.4 L742.2,151.2Z" fill="#fff" stroke="#000" stroke-width="1.6" stroke-linejoin="round" /><path d="M742.1,150.6 L731.6,133.4" stroke="#000" stroke-width="1.2800000000000002" fill="none"/><path d="M742.8,109.5 L742.9,108.3 L743.4,107.8 L743.8,107.4 L744.7,107.6 L747.4,110.5 L750.8,123.3 L748.7,127.6 L746,124.8 L745.7,123.8Z" fill="#fff" stroke="#000" stroke-width="1.6" stroke-linejoin="round" /><path d="M746,123.2 L743.4,107.9" stroke="#000" stroke-width="1.2800000000000002" fill="none"/><path d="M733.5,124.8 L733.7,124.1 L734,123.4 L734.9,122.9 L738.7,123.1 L746,138.3 L745.9,142.9 L742,142.8 L741.3,142.3Z" fill="#fff" stroke="#000" stroke-width="1.6" stroke-linejoin="round" /><path d="M741.3,141.7 L733.7,124.1" stroke="#000" stroke-width="1.2800000000000002" fill="none"/><path d="M737.4,115.9 L737.8,115.3 L738.1,114.7 L739,114.6 L742.4,116.2 L747.6,130.6 L746.5,135.2 L743,133.7 L742.5,133 L737.6,117Z" fill="#fff" stroke="#000" stroke-width="1.6" stroke-linejoin="round" /><path d="M742.7,132.3 L737.8,115.3" stroke="#000" stroke-width="1.2800000000000002" fill="none"/><path d="M773.9,109 L774.4,109.1 L774.8,109.2 L775.6,108.4 L777.1,105.2 L778.2,103.9 L778.7,104.1 L779.3,104.3 L779.2,105.9 L778.4,109.4 L778.4,110.5 L778.9,110.7 L779.3,110.9 L779.7,111.2 L780.1,111.5 L780.9,110.9 L783.1,108.3 L784.3,107.3 L784.7,107.7 L785.2,108.1 L784.8,109.8 L783.2,113 L783,114.1 L783.4,114.5 L783.7,114.9 L784,115.3 L784.3,115.8 L785.2,115.5 L787.7,113.6 L789,113.1 L789.3,113.6 L789.6,114.2 L788.9,115.8 L786.8,118.5 L786.3,119.6 L786.5,120.1 L786.7,120.6 L786.9,121.2 L787.1,121.7 L787.9,121.8 L790.6,120.7 L791.9,120.7 L792.1,121.4 L792.2,122.1 L791.2,123.4 L788.7,125.4 L788.1,126.4 L788.2,127 L788.2,127.6 L788.3,128.2 L788.3,128.8 L789,129.2 L791.7,129.1 L792.9,129.6 L792.9,130.3 L792.8,131.1 L791.6,132.1 L788.9,133.2 L788.1,133.9 L788.1,134.6 L788,135.2 L787.9,135.9 L787.8,136.5 L788.3,137.2 L790.8,138.1 L791.7,139 L791.5,139.7 L791.3,140.5 L790,141.1 L787.3,141.2 L786.5,141.6 L786.3,142.3 L786,142.9 L785.8,143.5 L785.6,144.1 L785.9,145 L787.9,146.9 L788.6,148.1 L788.2,148.8 L787.9,149.6 L786.6,149.6 L784.1,148.7 L783.3,148.9 L782.9,149.5 L782.6,150 L782.2,150.6 L781.9,151.1 L782,152.2 L783.4,154.7 L783.7,156.3 L783.2,156.9 L782.7,157.5 L781.5,157.1 L779.5,155.3 L778.7,155.1 L778.3,155.6 L777.9,156 L777.4,156.5 L777,156.9 L776.8,158 L777.5,161.1 L777.4,162.8 L776.9,163.3 L776.3,163.7 L775.3,162.8 L773.9,160.3 L773.2,159.8 L772.8,160.1 L772.3,160.4 L771.8,160.7 L771.3,160.9 L770.9,162 L770.8,165.5 L770.4,167.2 L769.8,167.4 L769.1,167.6 L768.5,166.4 L767.8,163.3 L767.3,162.5 L766.8,162.7 L766.3,162.8 L765.8,162.9 L765.3,163 L764.7,164 L763.8,167.4 L763,169 L762.4,169 L761.8,169 L761.5,167.5 L761.6,164.1 L761.3,163.1 L760.8,163.1 L760.3,163 L759.8,162.9 L759.4,162.8 L758.6,163.6 L757.1,166.8 L756,168.1 L755.5,167.9 L754.9,167.7 L755,166.1 L755.8,162.6 L755.8,161.5 L755.3,161.3 L754.9,161.1 L754.5,160.8 L754.1,160.5 L753.3,161.1 L751.1,163.7 L749.9,164.7 L749.5,164.3 L749,163.9 L749.4,162.2 L751,159 L751.2,157.9 L750.8,157.5 L750.5,157.1 L750.2,156.7 L749.9,156.2 L749,156.5 L746.5,158.4 L745.2,158.9 L744.9,158.4 L744.6,157.8 L745.3,156.2 L747.4,153.5 L747.9,152.4 L747.7,151.9 L747.5,151.4 L747.3,150.8 L747.1,150.3 L746.3,150.2 L743.6,151.3 L742.3,151.3 L742.1,150.6 L742,149.9 L743,148.6 L745.5,146.6 L746.1,145.6 L746,145 L746,144.4 L745.9,143.8 L745.9,143.2 L745.2,142.8 L742.5,142.9 L741.3,142.4 L741.3,141.7 L741.4,140.9 L742.6,139.9 L745.3,138.8 L746.1,138.1 L746.1,137.4 L746.2,136.8 L746.3,136.1 L746.4,135.5 L745.9,134.8 L743.4,133.9 L742.5,133 L742.7,132.3 L742.9,131.5 L744.2,130.9 L746.9,130.8 L747.7,130.4 L747.9,129.7 L748.2,129.1 L748.4,128.5 L748.6,127.9 L748.3,127 L746.3,125.1 L745.6,123.9 L746,123.2 L746.3,122.4 L747.6,122.4 L750.1,123.3 L750.9,123.1 L751.3,122.5 L751.6,122 L752,121.4 L752.3,120.9 L752.2,119.8 L750.8,117.3 L750.5,115.7 L751,115.1 L751.5,114.5 L752.7,114.9 L754.7,116.7 L755.5,116.9 L755.9,116.4 L756.3,116 L756.8,115.5 L757.2,115.1 L757.4,114 L756.7,110.9 L756.8,109.2 L757.3,108.7 L757.9,108.3 L758.9,109.2 L760.3,111.7 L761,112.2 L761.4,111.9 L761.9,111.6 L762.4,111.3 L762.9,111.1 L763.3,110 L763.4,106.5 L763.8,104.8 L764.4,104.6 L765.1,104.4 L765.7,105.6 L766.4,108.7 L766.9,109.5 L767.4,109.3 L767.9,109.2 L768.4,109.1 L768.9,109 L769.5,108 L770.4,104.6 L771.2,103 L771.8,103 L772.4,103 L772.7,104.5 L772.6,107.9 L772.9,108.9 L773.4,108.9Z" fill="#fff" stroke="#000" stroke-width="1.6" stroke-linejoin="round" /><path d="M777.2,117.8 L778.5,118.3 L779.7,119 L780.8,119.9 L781.9,120.8 L782.8,121.9 L783.7,123.1 L784.5,124.5 L785.1,125.9 L785.7,127.4 L786.1,129 L786.4,130.7 L786.6,132.4 L786.6,134.1 L786.5,135.9 L786.3,137.7 L786,139.4 L785.6,141.2 L785,143 L784.3,144.7 L783.5,146.3 L782.6,147.9 L781.6,149.4 L780.6,150.8 L779.4,152.1 L778.2,153.3 L776.9,154.4 L775.5,155.3 L774.1,156.1 L772.7,156.8 L771.3,157.3 L769.8,157.7 L768.4,157.9 L766.9,158 L765.5,157.9 L764.2,157.6 L762.8,157.2 L761.5,156.7 L760.3,156 L759.2,155.1 L758.1,154.2 L757.2,153.1 L756.3,151.9 L755.5,150.5 L754.9,149.1 L754.3,147.6 L753.9,146 L753.6,144.3 L753.4,142.6 L753.4,140.9 L753.5,139.1 L753.7,137.3 L754,135.6 L754.4,133.8 L755,132 L755.7,130.3 L756.5,128.7 L757.4,127.1 L758.4,125.6 L759.4,124.2 L760.6,122.9 L761.8,121.7 L763.1,120.6 L764.5,119.7 L765.9,118.9 L767.3,118.2 L768.7,117.7 L770.2,117.3 L771.6,117.1 L773.1,117 L774.5,117.1 L775.8,117.4Z" fill="#fff" stroke="#000" stroke-width="1.45" stroke-linejoin="round" /><path d="M775.3,122.9 L776.2,123.3 L777.1,123.9 L778,124.5 L778.8,125.2 L779.5,126 L780.1,126.9 L780.7,127.9 L781.2,128.9 L781.6,130 L781.9,131.2 L782.1,132.4 L782.2,133.7 L782.3,135 L782.2,136.3 L782.1,137.6 L781.8,138.9 L781.5,140.2 L781.1,141.5 L780.6,142.8 L780,144 L779.3,145.2 L778.6,146.3 L777.8,147.3 L776.9,148.3 L776,149.2 L775.1,149.9 L774.1,150.6 L773.1,151.2 L772,151.7 L770.9,152.1 L769.9,152.4 L768.8,152.6 L767.7,152.6 L766.7,152.5 L765.7,152.4 L764.7,152.1 L763.8,151.7 L762.9,151.1 L762,150.5 L761.2,149.8 L760.5,149 L759.9,148.1 L759.3,147.1 L758.8,146.1 L758.4,145 L758.1,143.8 L757.9,142.6 L757.8,141.3 L757.7,140 L757.8,138.7 L757.9,137.4 L758.2,136.1 L758.5,134.8 L758.9,133.5 L759.4,132.2 L760,131 L760.7,129.8 L761.4,128.7 L762.2,127.7 L763.1,126.7 L764,125.8 L764.9,125.1 L765.9,124.4 L766.9,123.8 L768,123.3 L769.1,122.9 L770.1,122.6 L771.2,122.4 L772.3,122.4 L773.3,122.5 L774.3,122.6Z" fill="#fff" stroke="#000" stroke-width="1.45" stroke-linejoin="round" /><clipPath id="c3"><path d="M775.3,122.9 L776.4,123.4 L777.5,124.1 L778.5,124.9 L779.3,125.8 L780.1,126.9 L780.8,128.1 L781.3,129.4 L781.8,130.7 L782.1,132.2 L782.2,133.7 L782.3,135.3 L782.2,136.8 L781.9,138.4 L781.6,140 L781.1,141.5 L780.5,143 L779.7,144.5 L778.9,145.8 L778,147.1 L776.9,148.3 L775.8,149.3 L774.7,150.2 L773.5,151 L772.2,151.7 L770.9,152.1 L769.7,152.4 L768.4,152.6 L767.1,152.6 L765.9,152.4 L764.7,152.1 L763.6,151.6 L762.5,150.9 L761.5,150.1 L760.7,149.2 L759.9,148.1 L759.2,146.9 L758.7,145.6 L758.2,144.3 L757.9,142.8 L757.8,141.3 L757.7,139.7 L757.8,138.2 L758.1,136.6 L758.4,135 L758.9,133.5 L759.5,132 L760.3,130.5 L761.1,129.2 L762,127.9 L763.1,126.7 L764.2,125.7 L765.3,124.8 L766.5,124 L767.8,123.3 L769.1,122.9 L770.3,122.6 L771.6,122.4 L772.9,122.4 L774.1,122.6Z"/></clipPath><g clip-path="url(#c3)"><path d="M776.9,123.7 L764.1,118 M778.4,124.8 L765.6,119.1 M780,126.6 L767.2,121 M780.9,128.4 L768.1,122.7 M781.8,130.9 L769,125.2 M782.2,133.1 L769.4,127.4 M782.2,135.9 L769.5,130.3 M782,138.3 L769.2,132.6 M781.2,141.2 L768.4,135.5 M780.3,143.4 L767.5,137.7 M778.8,146 L766,140.3 M777.4,147.8 L764.6,142.1 M775.3,149.7 L762.5,144 M773.6,151 L760.8,145.3 M771.2,152 L758.4,146.3 M769.4,152.5 L756.6,146.8 M767,152.6 L754.2,146.9 M765.2,152.2 L752.4,146.5" stroke="#000" stroke-width="1.16" fill="none"/><path d="M762.5,117.2 L763.6,117.7 L764.7,118.4 L765.7,119.2 L766.6,120.1 L767.3,121.2 L768,122.4 L768.6,123.7 L769,125.1 L769.3,126.5 L769.4,128 L769.5,129.6 L769.4,131.1 L769.1,132.7 L768.8,134.3 L768.3,135.8 L767.7,137.3 L766.9,138.8 L766.1,140.1 L765.2,141.4 L764.1,142.6 L763,143.6 L761.9,144.5 L760.7,145.3 L759.4,146 L758.2,146.4 L756.9,146.8 L755.6,146.9 L754.3,146.9 L753.1,146.7 L751.9,146.4 L750.8,145.9 L749.7,145.2 L748.7,144.4 L747.9,143.5 L747.1,142.4 L746.4,141.2 L745.9,139.9 L745.4,138.6 L745.1,137.1 L745,135.6 L744.9,134 L745,132.5 L745.3,130.9 L745.6,129.3 L746.1,127.8 L746.8,126.3 L747.5,124.8 L748.3,123.5 L749.3,122.2 L750.3,121 L751.4,120 L752.5,119.1 L753.7,118.3 L755,117.7 L756.3,117.2 L757.6,116.9 L758.8,116.7 L760.1,116.7 L761.3,116.9Z" stroke="#000" stroke-width="1.16" fill="none"/></g><path d="M832.2,196.1 L830.8,195.3 L829.4,194.4 L828.1,193.3 L827,192 L825.9,190.6 L825,189 L824.2,187.4 L823.5,185.5 L823,183.6 L822.6,181.6 L822.4,179.6 L822.3,177.4 L822.4,175.3 L822.6,173.1 L822.9,170.9 L823.4,168.7 L824.1,166.5 L824.9,164.4 L825.8,162.3 L826.8,160.3 L828,158.4 L829.3,156.6 L830.6,154.9 L832.1,153.4 L833.6,151.9 L835.2,150.7 L836.8,149.6 L838.5,148.7 L840.2,147.9 L841.9,147.3 L843.6,147 L845.3,146.8 L847,146.8 L848.6,147 L850.2,147.3 L851.8,147.9 L839,142.2 L837.4,141.7 L835.9,141.3 L834.2,141.1 L832.5,141.1 L830.8,141.3 L829.1,141.6 L827.4,142.2 L825.7,143 L824,143.9 L822.4,145 L820.8,146.3 L819.3,147.7 L817.8,149.2 L816.5,150.9 L815.2,152.7 L814,154.6 L813,156.6 L812.1,158.7 L811.3,160.8 L810.7,163 L810.1,165.2 L809.8,167.4 L809.6,169.6 L809.5,171.7 L809.6,173.9 L809.8,175.9 L810.2,177.9 L810.7,179.9 L811.4,181.7 L812.2,183.3 L813.1,184.9 L814.2,186.3 L815.3,187.6 L816.6,188.7 L818,189.6 L819.4,190.4Z" fill="#fff" stroke="#000" stroke-width="1.6" stroke-linejoin="round" /><path d="M843.7,145.7 L847.3,142.5 L848.1,142.2 L852.5,141.8 L852.9,141.9 L853.4,142.1 L853.6,143.2 L852.4,148.2 L845.9,148.6Z" fill="#fff" stroke="#000" stroke-width="1.6" stroke-linejoin="round" /><path d="M852.9,141.9 L848.5,142.7" stroke="#000" stroke-width="1.2800000000000002" fill="none"/><path d="M812,192.3 L812.1,191.2 L814.3,186.5 L837.5,197.2 L835.6,202.1 L834.9,203 L834.4,202.9 L833.9,202.8 L812.8,193.1 L812.4,192.7Z" fill="#fff" stroke="#000" stroke-width="1.6" stroke-linejoin="round" /><path d="M834.4,202.9 L812.3,192.7" stroke="#000" stroke-width="1.2800000000000002" fill="none"/><path d="M839.2,142.3 L842,138.1 L842.8,137.5 L843.3,137.8 L843.7,138 L846.6,140.9 L847,141.8 L847,146.8 L843.6,147Z" fill="#fff" stroke="#000" stroke-width="1.6" stroke-linejoin="round" /><path d="M846.1,140.9 L843.3,137.8" stroke="#000" stroke-width="1.2800000000000002" fill="none"/><path d="M807.7,186.2 L808.1,185 L811.2,181.1 L832.1,196 L829.2,200.2 L828.4,200.8 L828,200.6 L827.5,200.3 L808.2,187.2 L808,186.7Z" fill="#fff" stroke="#000" stroke-width="1.6" stroke-linejoin="round" /><path d="M828,200.6 L808,186.7" stroke="#000" stroke-width="1.2800000000000002" fill="none"/><path d="M833.7,141.1 L835.6,136.2 L836.3,135.3 L836.8,135.4 L837.4,135.5 L840,143.2 L841.2,147.5 L837.7,149.1Z" fill="#fff" stroke="#000" stroke-width="1.6" stroke-linejoin="round" /><path d="M838.8,142.7 L836.8,135.4" stroke="#000" stroke-width="1.2800000000000002" fill="none"/><path d="M805.4,178.2 L806,177.2 L809.6,174.4 L825.3,189.7 L827.5,192.6 L824,195.8 L823.1,196.1 L805.6,179.5 L805.5,178.9Z" fill="#fff" stroke="#000" stroke-width="1.6" stroke-linejoin="round" /><path d="M822.7,195.7 L805.5,178.9" stroke="#000" stroke-width="1.2800000000000002" fill="none"/><path d="M827.9,142 L828.6,137 L829.2,135.9 L829.7,135.8 L830.2,135.7 L830.8,136.4 L835.4,150.5 L832.2,153.2Z" fill="#fff" stroke="#000" stroke-width="1.6" stroke-linejoin="round" /><path d="M831.9,147.1 L829.7,135.8" stroke="#000" stroke-width="1.2800000000000002" fill="none"/><path d="M805,170.6 L805.1,169.9 L805.1,169.2 L805.9,168.5 L809.8,167 L823,183.6 L824.2,187.4 L820.3,189.3 L819.5,189.3Z" fill="#fff" stroke="#000" stroke-width="1.6" stroke-linejoin="round" /><path d="M819.3,188.7 L805.1,169.9" stroke="#000" stroke-width="1.2800000000000002" fill="none"/><path d="M821.7,140.3 L822,139.2 L823.1,138.6 L823.8,139.1 L825.5,143.1 L830.2,155.3 L827.6,159 L825.5,155.3 L822.1,145.2Z" fill="#fff" stroke="#000" stroke-width="1.6" stroke-linejoin="round" /><path d="M825.8,153.7 L822.5,138.9" stroke="#000" stroke-width="1.2800000000000002" fill="none"/><path d="M806.6,161.3 L806.8,160.7 L807,160 L807.9,159.5 L811.8,159.5 L822.3,176.5 L822.5,180.8 L818.6,181.3 L817.8,180.9Z" fill="#fff" stroke="#000" stroke-width="1.6" stroke-linejoin="round" /><path d="M817.8,180.2 L806.8,160.7" stroke="#000" stroke-width="1.2800000000000002" fill="none"/><path d="M815.5,146 L815.5,144.9 L816,144.4 L816.4,143.9 L817.2,144.1 L820,147 L826.1,161.7 L824.3,166 L821.3,163.5 L821,162.6Z" fill="#fff" stroke="#000" stroke-width="1.6" stroke-linejoin="round" /><path d="M821.2,161.9 L816,144.4" stroke="#000" stroke-width="1.2800000000000002" fill="none"/><path d="M810.2,152.5 L810.6,151.9 L810.9,151.3 L811.8,151.1 L815.2,152.6 L823.4,168.9 L822.5,173.5 L818.9,172.4 L818.3,171.7 L810.5,153.5Z" fill="#fff" stroke="#000" stroke-width="1.6" stroke-linejoin="round" /><path d="M818.5,171 L810.6,151.9" stroke="#000" stroke-width="1.2800000000000002" fill="none"/><path d="M848.2,146.9 L848.6,147 L849.1,147.1 L849.8,146.3 L851.4,143.1 L852.4,141.7 L852.9,141.9 L853.5,142.1 L853.4,143.8 L852.5,147.3 L852.6,148.3 L853,148.6 L853.4,148.8 L853.8,149.1 L854.2,149.3 L855,148.8 L857.2,146.1 L858.4,145.2 L858.8,145.6 L859.3,146 L858.8,147.7 L857.2,150.9 L857,152 L857.3,152.4 L857.6,152.8 L857.9,153.2 L858.2,153.6 L859.1,153.4 L861.6,151.5 L862.9,151 L863.2,151.6 L863.5,152.2 L862.7,153.7 L860.6,156.3 L860.1,157.4 L860.3,157.9 L860.5,158.4 L860.6,159 L860.8,159.5 L861.6,159.6 L864.3,158.7 L865.6,158.7 L865.8,159.4 L865.9,160.1 L864.8,161.4 L862.2,163.2 L861.6,164.1 L861.6,164.7 L861.7,165.3 L861.7,165.9 L861.7,166.6 L862.4,167 L865.1,167.1 L866.2,167.6 L866.2,168.3 L866.1,169.1 L864.8,170 L862.1,170.9 L861.3,171.5 L861.2,172.2 L861.1,172.8 L861,173.4 L860.9,174.1 L861.4,174.8 L863.7,175.9 L864.6,176.8 L864.4,177.6 L864.2,178.4 L862.9,178.8 L860.2,178.6 L859.4,179 L859.1,179.6 L858.9,180.2 L858.6,180.8 L858.3,181.4 L858.6,182.3 L860.5,184.4 L861.1,185.7 L860.7,186.4 L860.3,187.1 L859,187 L856.7,185.8 L855.8,185.9 L855.5,186.4 L855.1,186.9 L854.8,187.4 L854.4,187.9 L854.4,189 L855.6,191.7 L855.8,193.3 L855.3,193.9 L854.8,194.4 L853.7,193.8 L851.9,191.7 L851.1,191.5 L850.7,191.9 L850.2,192.2 L849.8,192.6 L849.3,193 L849.1,194.1 L849.5,197.3 L849.3,199 L848.7,199.4 L848.1,199.8 L847.3,198.7 L846.2,195.9 L845.5,195.3 L845,195.6 L844.6,195.8 L844.1,196 L843.6,196.2 L843.1,197.2 L842.7,200.7 L842.1,202.4 L841.5,202.5 L840.9,202.7 L840.4,201.3 L840.1,198 L839.7,197.1 L839.2,197.2 L838.7,197.2 L838.2,197.3 L837.7,197.3 L837.1,198.2 L835.9,201.5 L835,203 L834.4,202.9 L833.8,202.8 L833.7,201.2 L834.2,197.7 L834,196.7 L833.5,196.6 L833.1,196.4 L832.7,196.3 L832.2,196.1 L831.5,196.7 L829.6,199.7 L828.4,200.9 L828,200.6 L827.5,200.2 L827.7,198.6 L829,195.2 L829,194.1 L828.7,193.8 L828.3,193.5 L828,193.1 L827.6,192.8 L826.8,193.1 L824.4,195.4 L823.1,196.2 L822.7,195.7 L822.4,195.2 L823,193.5 L824.9,190.6 L825.2,189.5 L825,189 L824.7,188.6 L824.5,188.1 L824.3,187.6 L823.4,187.7 L820.8,189.1 L819.5,189.3 L819.3,188.7 L819,188 L820,186.6 L822.4,184.4 L822.9,183.4 L822.8,182.8 L822.7,182.2 L822.6,181.6 L822.5,181.1 L821.8,180.8 L819,181.2 L817.8,181 L817.8,180.2 L817.8,179.5 L818.9,178.4 L821.6,177 L822.3,176.2 L822.3,175.6 L822.4,175 L822.4,174.3 L822.5,173.7 L821.9,173.1 L819.4,172.5 L818.3,171.8 L818.5,171 L818.6,170.2 L819.9,169.6 L822.6,169.2 L823.4,168.7 L823.6,168.1 L823.8,167.4 L824,166.8 L824.2,166.2 L823.8,165.4 L821.7,163.8 L820.9,162.6 L821.2,161.9 L821.5,161.2 L822.9,161 L825.4,161.7 L826.2,161.5 L826.5,160.9 L826.8,160.3 L827.1,159.8 L827.5,159.2 L827.3,158.2 L825.8,155.8 L825.4,154.3 L825.8,153.7 L826.3,153.1 L827.5,153.4 L829.6,155 L830.4,155.2 L830.8,154.7 L831.2,154.2 L831.6,153.8 L832,153.4 L832.1,152.3 L831.4,149.2 L831.4,147.6 L831.9,147.1 L832.4,146.6 L833.4,147.4 L834.9,149.9 L835.6,150.4 L836.1,150 L836.6,149.7 L837,149.4 L837.5,149.2 L837.8,148.1 L837.9,144.7 L838.2,143 L838.8,142.7 L839.4,142.5 L840.1,143.7 L840.9,146.8 L841.4,147.5 L841.9,147.3 L842.4,147.2 L842.9,147.1 L843.4,147 L843.9,146 L844.7,142.6 L845.5,141 L846.1,140.9 L846.7,140.9 L847,142.4 L846.9,145.8 L847.2,146.8 L847.7,146.8Z" fill="#fff" stroke="#000" stroke-width="1.6" stroke-linejoin="round" /><path d="M850.4,151.4 L851.6,151.9 L852.7,152.6 L853.8,153.4 L854.7,154.4 L855.6,155.5 L856.4,156.7 L857.1,158 L857.7,159.4 L858.2,161 L858.6,162.6 L858.8,164.2 L858.9,166 L858.9,167.7 L858.8,169.5 L858.6,171.3 L858.2,173.2 L857.7,175 L857.1,176.7 L856.4,178.5 L855.7,180.2 L854.8,181.8 L853.8,183.3 L852.7,184.8 L851.6,186.2 L850.4,187.4 L849.1,188.5 L847.8,189.5 L846.5,190.4 L845.1,191.1 L843.7,191.7 L842.3,192.1 L840.9,192.3 L839.6,192.4 L838.2,192.4 L836.9,192.2 L835.6,191.8 L834.4,191.3 L833.3,190.6 L832.2,189.8 L831.3,188.8 L830.4,187.7 L829.6,186.5 L828.9,185.2 L828.3,183.8 L827.8,182.2 L827.4,180.6 L827.2,179 L827.1,177.2 L827.1,175.5 L827.2,173.7 L827.4,171.9 L827.8,170 L828.3,168.2 L828.9,166.5 L829.6,164.7 L830.3,163 L831.2,161.4 L832.2,159.9 L833.3,158.4 L834.4,157 L835.6,155.8 L836.9,154.7 L838.2,153.7 L839.5,152.8 L840.9,152.1 L842.3,151.5 L843.7,151.1 L845.1,150.9 L846.4,150.8 L847.8,150.8 L849.1,151Z" fill="#fff" stroke="#000" stroke-width="1.45" stroke-linejoin="round" /><path d="M848.3,157 L849.2,157.4 L850,157.9 L850.8,158.5 L851.5,159.2 L852.1,160 L852.7,160.8 L853.2,161.8 L853.6,162.8 L854,163.9 L854.2,165.1 L854.4,166.3 L854.5,167.5 L854.5,168.8 L854.4,170.1 L854.2,171.4 L854,172.7 L853.6,174 L853.2,175.3 L852.7,176.6 L852.1,177.8 L851.5,179 L850.8,180.1 L850,181.1 L849.2,182.1 L848.3,183 L847.4,183.8 L846.5,184.5 L845.5,185.1 L844.5,185.7 L843.5,186.1 L842.5,186.4 L841.5,186.6 L840.5,186.6 L839.5,186.6 L838.6,186.4 L837.7,186.2 L836.8,185.8 L836,185.3 L835.2,184.7 L834.5,184 L833.9,183.2 L833.3,182.4 L832.8,181.4 L832.4,180.4 L832,179.3 L831.8,178.1 L831.6,176.9 L831.5,175.7 L831.5,174.4 L831.6,173.1 L831.8,171.8 L832,170.5 L832.4,169.2 L832.8,167.9 L833.3,166.6 L833.9,165.4 L834.5,164.2 L835.2,163.1 L836,162.1 L836.8,161.1 L837.7,160.2 L838.6,159.4 L839.5,158.7 L840.5,158.1 L841.5,157.5 L842.5,157.1 L843.5,156.8 L844.5,156.6 L845.5,156.6 L846.5,156.6 L847.4,156.8Z" fill="#fff" stroke="#000" stroke-width="1.45" stroke-linejoin="round" /><clipPath id="c4"><path d="M848.3,157 L849.3,157.5 L850.3,158.1 L851.2,158.9 L852,159.8 L852.7,160.8 L853.3,162 L853.8,163.3 L854.1,164.6 L854.4,166 L854.5,167.5 L854.5,169.1 L854.3,170.6 L854.1,172.2 L853.7,173.8 L853.2,175.3 L852.6,176.8 L851.9,178.3 L851.1,179.6 L850.2,180.9 L849.2,182.1 L848.1,183.2 L847,184.1 L845.9,184.9 L844.7,185.6 L843.5,186.1 L842.3,186.4 L841.1,186.6 L839.9,186.6 L838.8,186.5 L837.7,186.2 L836.7,185.7 L835.7,185.1 L834.8,184.3 L834,183.4 L833.3,182.4 L832.7,181.2 L832.2,179.9 L831.9,178.6 L831.6,177.2 L831.5,175.7 L831.5,174.1 L831.7,172.6 L831.9,171 L832.3,169.4 L832.8,167.9 L833.4,166.4 L834.1,164.9 L834.9,163.6 L835.8,162.3 L836.8,161.1 L837.9,160 L839,159.1 L840.1,158.3 L841.3,157.6 L842.5,157.1 L843.7,156.8 L844.9,156.6 L846.1,156.6 L847.2,156.7Z"/></clipPath><g clip-path="url(#c4)"><path d="M849.7,157.7 L836.9,152 M851.1,158.8 L838.3,153.1 M852.5,160.6 L839.7,154.9 M853.4,162.2 L840.6,156.5 M854.1,164.7 L841.4,159 M854.4,166.8 L841.7,161.1 M854.4,169.7 L841.6,164 M854.1,172 L841.3,166.3 M853.3,174.9 L840.5,169.2 M852.5,177.1 L839.7,171.4 M851,179.7 L838.2,174 M849.6,181.6 L836.9,175.9 M847.7,183.6 L834.9,177.9 M846,184.8 L833.2,179.1 M843.8,186 L831,180.3 M842.1,186.5 L829.3,180.8 M839.9,186.6 L827.1,180.9 M838.2,186.3 L825.4,180.6" stroke="#000" stroke-width="1.16" fill="none"/><path d="M835.5,151.3 L836.5,151.8 L837.5,152.4 L838.4,153.2 L839.2,154.1 L839.9,155.1 L840.5,156.3 L841,157.6 L841.3,158.9 L841.6,160.3 L841.7,161.8 L841.7,163.4 L841.5,164.9 L841.3,166.5 L840.9,168.1 L840.4,169.6 L839.8,171.1 L839.1,172.6 L838.3,173.9 L837.4,175.2 L836.4,176.4 L835.3,177.5 L834.2,178.4 L833.1,179.2 L831.9,179.9 L830.7,180.4 L829.5,180.7 L828.3,180.9 L827.1,180.9 L826,180.8 L824.9,180.5 L823.9,180 L822.9,179.4 L822,178.6 L821.2,177.7 L820.5,176.7 L819.9,175.5 L819.4,174.2 L819.1,172.9 L818.8,171.5 L818.7,170 L818.7,168.4 L818.9,166.9 L819.1,165.3 L819.5,163.7 L820,162.2 L820.6,160.7 L821.3,159.2 L822.2,157.9 L823.1,156.6 L824,155.4 L825.1,154.3 L826.2,153.4 L827.3,152.6 L828.5,151.9 L829.7,151.4 L830.9,151.1 L832.1,150.9 L833.3,150.9 L834.4,151Z" stroke="#000" stroke-width="1.16" fill="none"/></g><path d="M896.4,221.8 L895,221 L893.6,220.2 L892.4,219.2 L891.3,218 L890.2,216.7 L889.3,215.3 L888.5,213.8 L887.8,212.2 L887.3,210.5 L886.8,208.7 L886.6,206.9 L886.4,205 L886.4,203.1 L886.6,201.2 L886.9,199.3 L887.3,197.4 L887.9,195.5 L888.5,193.7 L889.4,191.9 L890.3,190.2 L891.3,188.5 L892.5,187 L893.7,185.6 L895.1,184.3 L896.5,183.1 L897.9,182 L899.5,181.1 L901,180.4 L902.6,179.8 L904.2,179.4 L905.9,179.1 L907.5,179 L909.1,179 L910.6,179.3 L912.2,179.7 L913.6,180.2 L900.8,174.5 L899.4,174 L897.8,173.6 L896.3,173.4 L894.7,173.3 L893.1,173.4 L891.5,173.7 L889.8,174.1 L888.2,174.7 L886.7,175.4 L885.1,176.3 L883.7,177.4 L882.3,178.6 L880.9,179.9 L879.7,181.3 L878.5,182.9 L877.5,184.5 L876.6,186.2 L875.8,188 L875.1,189.8 L874.5,191.7 L874.1,193.6 L873.8,195.5 L873.6,197.4 L873.6,199.3 L873.8,201.2 L874.1,203 L874.5,204.8 L875,206.5 L875.7,208.1 L876.5,209.6 L877.4,211 L878.5,212.3 L879.6,213.5 L880.9,214.5 L882.2,215.4 L883.6,216.1Z" fill="#fff" stroke="#000" stroke-width="1.45" stroke-linejoin="round" /><path d="M912.7,179.9 L914.1,180.5 L915.5,181.2 L916.8,182.2 L918,183.2 L919.1,184.4 L920.1,185.8 L921,187.2 L921.8,188.8 L922.4,190.4 L922.9,192.1 L923.3,193.9 L923.5,195.8 L923.6,197.6 L923.5,199.6 L923.3,201.5 L923,203.4 L922.5,205.3 L921.9,207.2 L921.2,209 L920.3,210.7 L919.3,212.4 L918.3,214 L917.1,215.5 L915.8,216.9 L914.4,218.2 L913,219.3 L911.5,220.3 L910,221.2 L908.4,221.9 L906.8,222.4 L905.2,222.8 L903.6,223 L901.9,223 L900.4,222.9 L898.8,222.6 L897.3,222.1 L895.9,221.5 L894.5,220.8 L893.2,219.8 L892,218.8 L890.9,217.6 L889.9,216.2 L889,214.8 L888.2,213.2 L887.6,211.6 L887.1,209.9 L886.7,208.1 L886.5,206.2 L886.4,204.4 L886.5,202.4 L886.7,200.5 L887,198.6 L887.5,196.7 L888.1,194.8 L888.8,193 L889.7,191.3 L890.7,189.6 L891.7,188 L892.9,186.5 L894.2,185.1 L895.6,183.8 L897,182.7 L898.5,181.7 L900,180.8 L901.6,180.1 L903.2,179.6 L904.8,179.2 L906.4,179 L908.1,179 L909.6,179.1 L911.2,179.4Z" fill="#fff" stroke="#000" stroke-width="1.45" stroke-linejoin="round" /><path d="M911.3,183.6 L912.5,184.1 L913.6,184.8 L914.7,185.5 L915.7,186.4 L916.6,187.4 L917.4,188.5 L918.2,189.7 L918.8,190.9 L919.3,192.3 L919.7,193.7 L920,195.2 L920.2,196.7 L920.3,198.2 L920.2,199.8 L920.1,201.4 L919.8,203 L919.4,204.5 L918.9,206.1 L918.3,207.6 L917.6,209 L916.8,210.4 L915.9,211.7 L914.9,212.9 L913.9,214.1 L912.8,215.1 L911.6,216.1 L910.4,216.9 L909.1,217.6 L907.8,218.1 L906.5,218.6 L905.1,218.9 L903.8,219.1 L902.5,219.1 L901.2,219 L899.9,218.8 L898.7,218.4 L897.5,217.9 L896.4,217.2 L895.3,216.5 L894.3,215.6 L893.4,214.6 L892.6,213.5 L891.8,212.3 L891.2,211.1 L890.7,209.7 L890.3,208.3 L890,206.8 L889.8,205.3 L889.7,203.8 L889.8,202.2 L889.9,200.6 L890.2,199 L890.6,197.5 L891.1,195.9 L891.7,194.4 L892.4,193 L893.2,191.6 L894.1,190.3 L895.1,189.1 L896.1,187.9 L897.2,186.9 L898.4,185.9 L899.6,185.1 L900.9,184.4 L902.2,183.9 L903.5,183.4 L904.9,183.1 L906.2,182.9 L907.5,182.9 L908.8,183 L910.1,183.2Z" fill="#fff" stroke="#000" stroke-width="1.305" stroke-linejoin="round" /><circle cx="908.9" cy="185.8" r="2.3" fill="#fff" stroke="#000" stroke-width="1.16"/><circle cx="914.4" cy="190.4" r="2.3" fill="#fff" stroke="#000" stroke-width="1.16"/><circle cx="916.4" cy="198.2" r="2.3" fill="#fff" stroke="#000" stroke-width="1.16"/><circle cx="914.4" cy="206.7" r="2.3" fill="#fff" stroke="#000" stroke-width="1.16"/><circle cx="909" cy="213.1" r="2.3" fill="#fff" stroke="#000" stroke-width="1.16"/><circle cx="901.8" cy="215.6" r="2.3" fill="#fff" stroke="#000" stroke-width="1.16"/><circle cx="895.3" cy="213.2" r="2.3" fill="#fff" stroke="#000" stroke-width="1.16"/><circle cx="891.4" cy="206.7" r="2.3" fill="#fff" stroke="#000" stroke-width="1.16"/><circle cx="891.3" cy="198.3" r="2.3" fill="#fff" stroke="#000" stroke-width="1.16"/><circle cx="895.2" cy="190.5" r="2.3" fill="#fff" stroke="#000" stroke-width="1.16"/><circle cx="901.8" cy="185.8" r="2.3" fill="#fff" stroke="#000" stroke-width="1.16"/><path d="M909.3,189.3 L910.1,189.6 L910.8,190 L911.6,190.5 L912.2,191.1 L912.8,191.8 L913.4,192.5 L913.9,193.3 L914.3,194.2 L914.7,195.1 L914.9,196.1 L915.1,197.1 L915.3,198.1 L915.3,199.1 L915.3,200.2 L915.2,201.3 L915,202.3 L914.7,203.4 L914.4,204.4 L914,205.4 L913.5,206.4 L913,207.3 L912.4,208.2 L911.7,209.1 L911,209.8 L910.2,210.5 L909.5,211.2 L908.6,211.7 L907.8,212.2 L906.9,212.6 L906,212.9 L905.1,213.1 L904.2,213.2 L903.3,213.2 L902.4,213.2 L901.6,213 L900.7,212.7 L899.9,212.4 L899.2,212 L898.4,211.5 L897.8,210.9 L897.2,210.2 L896.6,209.5 L896.1,208.7 L895.7,207.8 L895.3,206.9 L895.1,205.9 L894.9,204.9 L894.7,203.9 L894.7,202.9 L894.7,201.8 L894.8,200.7 L895,199.7 L895.3,198.6 L895.6,197.6 L896,196.6 L896.5,195.6 L897,194.7 L897.6,193.8 L898.3,192.9 L899,192.2 L899.8,191.5 L900.5,190.8 L901.4,190.3 L902.2,189.8 L903.1,189.4 L904,189.1 L904.9,188.9 L905.8,188.8 L906.7,188.8 L907.6,188.8 L908.4,189Z" fill="#fff" stroke="#000" stroke-width="1.305" stroke-linejoin="round" /><path d="M908.2,192.1 L908.9,192.3 L909.4,192.7 L910,193 L910.5,193.5 L911,194 L911.4,194.6 L911.8,195.2 L912.1,195.8 L912.3,196.5 L912.6,197.3 L912.7,198 L912.8,198.8 L912.8,199.6 L912.8,200.4 L912.7,201.2 L912.6,202 L912.4,202.8 L912.1,203.6 L911.8,204.4 L911.5,205.1 L911.1,205.8 L910.6,206.5 L910.1,207.1 L909.6,207.7 L909,208.2 L908.4,208.7 L907.8,209.2 L907.1,209.5 L906.4,209.8 L905.8,210 L905.1,210.2 L904.4,210.3 L903.7,210.3 L903,210.2 L902.4,210.1 L901.8,209.9 L901.1,209.7 L900.6,209.3 L900,209 L899.5,208.5 L899,208 L898.6,207.4 L898.2,206.8 L897.9,206.2 L897.7,205.5 L897.4,204.7 L897.3,204 L897.2,203.2 L897.2,202.4 L897.2,201.6 L897.3,200.8 L897.4,200 L897.6,199.2 L897.9,198.4 L898.2,197.6 L898.5,196.9 L898.9,196.2 L899.4,195.5 L899.9,194.9 L900.4,194.3 L901,193.8 L901.6,193.3 L902.2,192.8 L902.9,192.5 L903.6,192.2 L904.2,192 L904.9,191.8 L905.6,191.7 L906.3,191.7 L907,191.8 L907.6,191.9Z" fill="#fff" stroke="#000" stroke-width="1.45" stroke-linejoin="round" /><path d="M944.4,241.6 L942.9,240.8 L941.5,239.9 L940.1,238.8 L938.9,237.6 L937.7,236.2 L936.7,234.7 L935.8,233 L935,231.3 L934.4,229.5 L934,227.6 L933.7,225.6 L933.5,223.6 L933.5,221.6 L933.6,219.5 L933.9,217.5 L934.4,215.5 L935,213.4 L935.7,211.5 L936.6,209.6 L937.6,207.8 L938.7,206 L940,204.4 L941.3,202.9 L942.7,201.5 L944.3,200.2 L945.9,199.1 L947.5,198.2 L949.2,197.4 L951,196.8 L952.7,196.3 L954.5,196.1 L956.2,196 L958,196.1 L959.7,196.3 L961.4,196.8 L963,197.4 L952,192.5 L950.4,191.9 L948.7,191.4 L947,191.2 L945.3,191.1 L943.5,191.2 L941.8,191.4 L940,191.9 L938.3,192.5 L936.6,193.3 L934.9,194.3 L933.3,195.4 L931.8,196.6 L930.3,198 L929,199.5 L927.8,201.2 L926.6,202.9 L925.6,204.7 L924.7,206.6 L924,208.6 L923.4,210.6 L923,212.6 L922.7,214.7 L922.5,216.7 L922.5,218.7 L922.7,220.8 L923,222.7 L923.5,224.6 L924.1,226.4 L924.8,228.2 L925.7,229.8 L926.7,231.3 L927.9,232.7 L929.1,233.9 L930.5,235 L932,236 L933.5,236.7Z" fill="#fff" stroke="#000" stroke-width="1.45" stroke-linejoin="round" /><path d="M942.1,240.6 L940.8,239.9 L939.4,239.1 L938.2,238.1 L937,237 L936,235.9 L935,234.6 L934.1,233.2 L933.3,231.7 L932.7,230.1 L932.1,228.5 L931.7,226.8 L931.4,225 L931.2,223.2 L931.2,221.4 L931.3,219.5 L931.4,217.7 L931.8,215.9 L932.2,214 L932.8,212.2 L933.4,210.5 L934.2,208.8 L935.1,207.1 L936.1,205.5 L937.2,204 L938.3,202.6 L939.6,201.3 L940.9,200.1 L942.3,199 L943.7,198 L945.2,197.2 L946.8,196.5 L948.3,195.9 L949.9,195.4 L951.5,195.1 L953.1,195 L954.6,195 L956.2,195.1 L957.7,195.4 L959.2,195.8 L960.7,196.3Z" fill="none" stroke="#000" stroke-width="1.2325" stroke-linejoin="round" /><path d="M940.3,239.8 L938.9,239.1 L937.6,238.3 L936.4,237.3 L935.2,236.2 L934.1,235 L933.2,233.7 L932.3,232.3 L931.5,230.9 L930.9,229.3 L930.3,227.6 L929.9,225.9 L929.6,224.2 L929.4,222.4 L929.4,220.6 L929.4,218.7 L929.6,216.9 L929.9,215 L930.4,213.2 L930.9,211.4 L931.6,209.7 L932.4,207.9 L933.3,206.3 L934.3,204.7 L935.3,203.2 L936.5,201.8 L937.8,200.5 L939.1,199.3 L940.5,198.2 L941.9,197.2 L943.4,196.4 L944.9,195.6 L946.5,195.1 L948.1,194.6 L949.7,194.3 L951.2,194.2 L952.8,194.1 L954.4,194.3 L955.9,194.6 L957.4,195 L958.8,195.5Z" fill="none" stroke="#000" stroke-width="1.2325" stroke-linejoin="round" /><path d="M961.9,196.9 L963.5,197.6 L965,198.5 L966.4,199.5 L967.7,200.6 L969,201.9 L970.1,203.3 L971,204.9 L971.9,206.6 L972.6,208.3 L973.1,210.2 L973.6,212.1 L973.8,214.1 L973.9,216.1 L973.9,218.1 L973.7,220.2 L973.3,222.2 L972.8,224.2 L972.2,226.2 L971.4,228.2 L970.5,230 L969.4,231.8 L968.3,233.5 L967,235.1 L965.6,236.6 L964.1,237.9 L962.6,239.2 L961,240.2 L959.3,241.1 L957.6,241.8 L955.8,242.4 L954.1,242.8 L952.3,243 L950.6,243 L948.8,242.9 L947.1,242.6 L945.5,242.1 L943.9,241.4 L942.4,240.5 L941,239.5 L939.7,238.4 L938.4,237.1 L937.3,235.7 L936.4,234.1 L935.5,232.4 L934.8,230.7 L934.3,228.8 L933.8,226.9 L933.6,224.9 L933.5,222.9 L933.5,220.9 L933.7,218.8 L934.1,216.8 L934.6,214.8 L935.2,212.8 L936,210.8 L936.9,209 L938,207.2 L939.1,205.5 L940.4,203.9 L941.8,202.4 L943.3,201.1 L944.8,199.8 L946.4,198.8 L948.1,197.9 L949.8,197.2 L951.6,196.6 L953.3,196.2 L955.1,196 L956.8,196 L958.6,196.1 L960.3,196.4Z" fill="#fff" stroke="#000" stroke-width="1.45" stroke-linejoin="round" /><path d="M960.5,200.7 L961.9,201.3 L963.1,202 L964.3,202.8 L965.4,203.8 L966.4,204.8 L967.3,206 L968.1,207.3 L968.8,208.7 L969.4,210.2 L969.9,211.7 L970.2,213.3 L970.5,215 L970.6,216.6 L970.5,218.3 L970.4,220.1 L970.1,221.8 L969.6,223.4 L969.1,225.1 L968.5,226.7 L967.7,228.3 L966.8,229.8 L965.8,231.2 L964.8,232.5 L963.6,233.8 L962.4,234.9 L961.1,235.9 L959.8,236.8 L958.4,237.5 L956.9,238.1 L955.5,238.6 L954,238.9 L952.5,239.1 L951.1,239.1 L949.6,239 L948.2,238.7 L946.9,238.3 L945.5,237.7 L944.3,237 L943.1,236.2 L942,235.2 L941,234.2 L940.1,233 L939.3,231.7 L938.6,230.3 L938,228.8 L937.5,227.3 L937.2,225.7 L936.9,224 L936.8,222.4 L936.9,220.7 L937,218.9 L937.3,217.2 L937.8,215.6 L938.3,213.9 L938.9,212.3 L939.7,210.7 L940.6,209.2 L941.6,207.8 L942.6,206.5 L943.8,205.2 L945,204.1 L946.3,203.1 L947.6,202.2 L949,201.5 L950.5,200.9 L951.9,200.4 L953.4,200.1 L954.9,199.9 L956.3,199.9 L957.8,200 L959.2,200.3Z" fill="#fff" stroke="#000" stroke-width="1.305" stroke-linejoin="round" /><circle cx="958.1" cy="203.2" r="2.5" fill="#fff" stroke="#000" stroke-width="1.16"/><circle cx="964.1" cy="208.2" r="2.5" fill="#fff" stroke="#000" stroke-width="1.16"/><circle cx="966.4" cy="216.6" r="2.5" fill="#fff" stroke="#000" stroke-width="1.16"/><circle cx="964.3" cy="225.8" r="2.5" fill="#fff" stroke="#000" stroke-width="1.16"/><circle cx="958.3" cy="232.7" r="2.5" fill="#fff" stroke="#000" stroke-width="1.16"/><circle cx="950.5" cy="235.3" r="2.5" fill="#fff" stroke="#000" stroke-width="1.16"/><circle cx="943.2" cy="232.7" r="2.5" fill="#fff" stroke="#000" stroke-width="1.16"/><circle cx="938.8" cy="225.6" r="2.5" fill="#fff" stroke="#000" stroke-width="1.16"/><circle cx="938.7" cy="216.5" r="2.5" fill="#fff" stroke="#000" stroke-width="1.16"/><circle cx="943" cy="208.1" r="2.5" fill="#fff" stroke="#000" stroke-width="1.16"/><circle cx="950.2" cy="203.1" r="2.5" fill="#fff" stroke="#000" stroke-width="1.16"/><path d="M958.3,206.8 L959.2,207.2 L960.1,207.7 L960.9,208.2 L961.6,208.9 L962.3,209.6 L962.9,210.4 L963.4,211.3 L963.9,212.2 L964.3,213.2 L964.6,214.2 L964.9,215.3 L965,216.4 L965.1,217.6 L965.1,218.7 L964.9,219.9 L964.7,221 L964.5,222.2 L964.1,223.3 L963.7,224.4 L963.1,225.4 L962.6,226.4 L961.9,227.4 L961.2,228.3 L960.4,229.1 L959.6,229.9 L958.7,230.6 L957.8,231.1 L956.8,231.7 L955.9,232.1 L954.9,232.4 L953.9,232.6 L952.9,232.7 L951.9,232.7 L951,232.7 L950,232.5 L949.1,232.2 L948.2,231.8 L947.3,231.3 L946.5,230.8 L945.8,230.1 L945.1,229.4 L944.5,228.6 L944,227.7 L943.5,226.8 L943.1,225.8 L942.8,224.8 L942.5,223.7 L942.4,222.6 L942.3,221.4 L942.3,220.3 L942.5,219.1 L942.7,218 L942.9,216.8 L943.3,215.7 L943.7,214.6 L944.3,213.6 L944.8,212.6 L945.5,211.6 L946.2,210.7 L947,209.9 L947.8,209.1 L948.7,208.4 L949.6,207.9 L950.6,207.3 L951.5,206.9 L952.5,206.6 L953.5,206.4 L954.5,206.3 L955.5,206.3 L956.4,206.3 L957.4,206.5Z" fill="#fff" stroke="#000" stroke-width="1.305" stroke-linejoin="round" /><path d="M957.1,210.1 L957.8,210.4 L958.4,210.7 L959,211.1 L959.5,211.6 L960.1,212.2 L960.5,212.8 L960.9,213.4 L961.3,214.1 L961.6,214.8 L961.8,215.6 L962,216.4 L962.1,217.2 L962.1,218.1 L962.1,218.9 L962,219.8 L961.9,220.6 L961.7,221.5 L961.4,222.3 L961.1,223.1 L960.7,223.9 L960.3,224.6 L959.8,225.3 L959.2,226 L958.7,226.6 L958.1,227.2 L957.4,227.7 L956.7,228.1 L956,228.5 L955.3,228.8 L954.6,229 L953.9,229.2 L953.1,229.3 L952.4,229.3 L951.7,229.2 L951,229.1 L950.3,228.9 L949.6,228.6 L949,228.3 L948.4,227.9 L947.9,227.4 L947.3,226.8 L946.9,226.2 L946.5,225.6 L946.1,224.9 L945.8,224.2 L945.6,223.4 L945.4,222.6 L945.3,221.8 L945.3,220.9 L945.3,220.1 L945.4,219.2 L945.5,218.4 L945.7,217.5 L946,216.7 L946.3,215.9 L946.7,215.1 L947.1,214.4 L947.6,213.7 L948.2,213 L948.7,212.4 L949.3,211.8 L950,211.3 L950.7,210.9 L951.4,210.5 L952.1,210.2 L952.8,210 L953.5,209.8 L954.3,209.7 L955,209.7 L955.7,209.8 L956.4,209.9Z" fill="#fff" stroke="#000" stroke-width="1.45" stroke-linejoin="round" /><path d="M961.2,198.8 L962.7,199.4 L964.1,200.2 L965.4,201.1 L966.6,202.2 L967.7,203.4 L968.7,204.7 L969.6,206.1 L970.4,207.6 L971,209.2 L971.5,210.9 L971.9,212.7 L972.1,214.5 L972.2,216.4 L972.2,218.2 L972,220.1 L971.7,222 L971.2,223.8 L970.7,225.7 L969.9,227.4 L969.1,229.2 L968.1,230.8 L967.1,232.4 L965.9,233.8 L964.6,235.2 L963.3,236.4 L961.8,237.5 L960.4,238.5 L958.8,239.3 L957.3,240 L955.7,240.5 L954,240.8 L952.4,241 L950.8,241.1 L949.2,240.9 L947.7,240.6 L946.2,240.2 L944.7,239.6 L943.3,238.8 L942,237.9 L940.8,236.8 L939.7,235.6 L938.7,234.3 L937.8,232.9 L937,231.4 L936.4,229.8 L935.9,228.1 L935.5,226.3 L935.3,224.5 L935.2,222.6 L935.2,220.8 L935.4,218.9 L935.7,217 L936.2,215.2 L936.7,213.3 L937.5,211.6 L938.3,209.8 L939.3,208.2 L940.3,206.6 L941.5,205.2 L942.8,203.8 L944.1,202.6 L945.6,201.5 L947,200.5 L948.6,199.7 L950.1,199 L951.7,198.5 L953.4,198.2 L955,198 L956.6,197.9 L958.2,198.1 L959.7,198.4Z" fill="none" stroke="#000" stroke-width="1.0" stroke-linejoin="round" /><path d="M994.2,266.1 L992.2,266.9 L990.1,267.4 L988.1,267.7 L986.2,267.7 L984.2,267.5 L982.4,267 L980.6,266.3 L979,265.3 L977.4,264.1 L976,262.7 L974.8,261.1 L973.6,259.2 L972.7,257.3 L971.9,255.1 L971.3,252.8 L970.9,250.4 L970.7,247.9 L970.7,245.4 L970.9,242.8 L971.2,240.1 L971.8,237.5 L972.5,234.9 L973.4,232.3 L974.5,229.8 L975.7,227.4 L977.1,225.1 L978.6,223 L980.3,221 L982,219.2 L983.8,217.5 L985.7,216.1 L987.7,214.9 L989.7,213.9 L991.7,213.2 L993.7,212.7 L995.7,212.5 L997.7,212.5 L999.6,212.7 L1001.4,213.3 L1003.2,214 L1004.8,215 L1006.4,216.2 L1007.7,217.7 L1009,219.3 L1010.1,221.1 L1011,223.2 L1011.8,225.3 L1012.3,227.6 L1012.7,230 L1012.9,232.5 L1012.9,235.1 L1012.7,237.7 L1012.3,240.3 L1011.8,243 L1011,245.6 L1010.1,248.2 L1009,250.6 L1007.7,253 L1006.3,255.3 L1004.8,257.4 L1002.7,254.6 L1003.9,252.8 L1005.1,250.9 L1006.1,248.9 L1007.1,246.8 L1007.8,244.7 L1008.5,242.5 L1008.9,240.3 L1009.3,238.1 L1009.4,235.9 L1009.4,233.8 L1009.3,231.7 L1009,229.7 L1008.5,227.7 L1007.8,225.9 L1007.1,224.3 L1006.2,222.7 L1005.1,221.4 L1004,220.2 L1002.7,219.1 L1001.3,218.3 L999.8,217.7 L998.3,217.2 L996.7,217 L995.1,217 L993.4,217.2 L991.7,217.6 L990,218.2 L988.4,219.1 L986.7,220.1 L985.1,221.3 L983.6,222.6 L982.2,224.1 L980.8,225.8 L979.5,227.6 L978.4,229.5 L977.3,231.5 L976.4,233.6 L975.7,235.7 L975.1,237.9 L974.6,240.1 L974.3,242.3 L974.2,244.5 L974.2,246.6 L974.4,248.7 L974.7,250.7 L975.2,252.6 L975.8,254.4 L976.6,256.1 L977.6,257.6 L978.6,258.9 L979.8,260.1 L981.1,261.1 L982.5,261.9 L983.9,262.5 L985.5,262.9 L987.1,263.1 L988.7,263.1 L990.4,262.9 L992.1,262.5 L993.8,261.8Z" fill="#fff" stroke="#000" stroke-width="1.45" stroke-linejoin="round" /><path d="M997.4,267.5 L995.3,268.3 L993.3,268.8 L991.3,269.1 L989.4,269.1 L987.4,268.9 L985.6,268.4 L983.8,267.7 L982.2,266.7 L980.6,265.5 L979.2,264.1 L977.9,262.5 L976.8,260.7 L975.9,258.7 L975.1,256.5 L974.5,254.3 L974.1,251.9 L973.9,249.4 L973.9,246.8 L974.1,244.2 L974.4,241.6 L975,238.9 L975.7,236.3 L976.6,233.7 L977.7,231.2 L978.9,228.8 L980.3,226.6 L981.8,224.4 L983.5,222.4 L985.2,220.6 L987,219 L988.9,217.5 L990.9,216.3 L992.9,215.4 L994.9,214.6 L996.9,214.1 L998.9,213.9 L1000.9,213.9 L1002.8,214.2 L1004.6,214.7 L1006.4,215.4 L1008,216.4 L1009.5,217.6 L1010.9,219.1 L1012.2,220.7 L1013.3,222.6 L1014.2,224.6 L1015,226.7 L1015.5,229 L1015.9,231.4 L1016.1,233.9 L1016.1,236.5 L1015.9,239.1 L1015.5,241.8 L1015,244.4 L1014.2,247 L1013.3,249.6 L1012.2,252.1 L1010.9,254.4 L1009.5,256.7 L1008,258.8 L1005.8,256 L1007.1,254.2 L1008.3,252.3 L1009.3,250.3 L1010.3,248.2 L1011,246.1 L1011.7,243.9 L1012.1,241.7 L1012.5,239.5 L1012.6,237.3 L1012.6,235.2 L1012.5,233.1 L1012.1,231.1 L1011.7,229.2 L1011,227.4 L1010.3,225.7 L1009.4,224.2 L1008.3,222.8 L1007.2,221.6 L1005.9,220.6 L1004.5,219.7 L1003,219.1 L1001.5,218.7 L999.9,218.5 L998.3,218.4 L996.6,218.6 L994.9,219.1 L993.2,219.7 L991.6,220.5 L989.9,221.5 L988.3,222.7 L986.8,224 L985.4,225.6 L984,227.2 L982.7,229 L981.6,230.9 L980.5,232.9 L979.6,235 L978.9,237.2 L978.3,239.3 L977.8,241.5 L977.5,243.7 L977.4,245.9 L977.4,248.1 L977.6,250.1 L977.9,252.1 L978.4,254.1 L979,255.8 L979.8,257.5 L980.8,259 L981.8,260.4 L983,261.6 L984.3,262.6 L985.7,263.4 L987.1,264 L988.7,264.4 L990.3,264.6 L991.9,264.5 L993.6,264.3 L995.3,263.9 L997,263.2Z" fill="#fff" stroke="#000" stroke-width="1.45" stroke-linejoin="round" /><path d="M1034.3,274.5 L1033.5,274.1 L1032.8,273.6 L1032.1,273 L1031.5,272.3 L1031,271.6 L1030.5,270.7 L1030.1,269.8 L1029.7,268.9 L1029.5,267.9 L1029.3,266.8 L1029.2,265.7 L1029.1,264.5 L1029.2,263.4 L1029.3,262.2 L1029.5,261 L1029.8,259.8 L1030.1,258.7 L1030.5,257.5 L1031,256.4 L1031.6,255.3 L1032.2,254.3 L1032.9,253.3 L1033.6,252.4 L1034.4,251.6 L1035.2,250.8 L1036,250.1 L1036.9,249.5 L1037.7,249 L1038.6,248.6 L1039.5,248.3 L1040.5,248.1 L1041.4,247.9 L1042.2,247.9 L1043.1,248 L1043.9,248.2 L1044.7,248.5 L1042,247.3 L1041.2,247 L1040.4,246.8 L1039.5,246.7 L1038.6,246.7 L1037.7,246.8 L1036.8,247 L1035.9,247.4 L1035,247.8 L1034.1,248.3 L1033.3,248.9 L1032.4,249.6 L1031.6,250.3 L1030.8,251.2 L1030.1,252.1 L1029.5,253.1 L1028.8,254.1 L1028.3,255.2 L1027.8,256.3 L1027.4,257.4 L1027,258.6 L1026.7,259.8 L1026.5,261 L1026.4,262.1 L1026.4,263.3 L1026.4,264.5 L1026.5,265.6 L1026.7,266.6 L1027,267.7 L1027.3,268.6 L1027.7,269.5 L1028.2,270.4 L1028.8,271.1 L1029.4,271.8 L1030,272.4 L1030.8,272.9 L1031.5,273.3Z" fill="#fff" stroke="#000" stroke-width="1.45" stroke-linejoin="round" /><path d="M1044.3,248.3 L1045.1,248.7 L1045.8,249.1 L1046.5,249.7 L1047.1,250.3 L1047.7,251 L1048.3,251.8 L1048.7,252.6 L1049.1,253.6 L1049.4,254.6 L1049.6,255.6 L1049.8,256.7 L1049.9,257.8 L1049.9,259 L1049.8,260.2 L1049.6,261.3 L1049.4,262.5 L1049.1,263.7 L1048.7,264.9 L1048.3,266 L1047.7,267.1 L1047.2,268.1 L1046.5,269.1 L1045.8,270.1 L1045.1,271 L1044.3,271.8 L1043.5,272.5 L1042.6,273.2 L1041.8,273.7 L1040.9,274.2 L1040,274.6 L1039.1,274.8 L1038.2,275 L1037.3,275.1 L1036.4,275 L1035.5,274.9 L1034.7,274.7 L1033.9,274.3 L1033.2,273.9 L1032.5,273.3 L1031.9,272.7 L1031.3,272 L1030.7,271.2 L1030.3,270.4 L1029.9,269.4 L1029.6,268.4 L1029.4,267.4 L1029.2,266.3 L1029.1,265.2 L1029.1,264 L1029.2,262.8 L1029.4,261.7 L1029.6,260.5 L1029.9,259.3 L1030.3,258.1 L1030.7,257 L1031.3,255.9 L1031.8,254.9 L1032.5,253.9 L1033.2,252.9 L1033.9,252 L1034.7,251.2 L1035.5,250.5 L1036.4,249.8 L1037.2,249.3 L1038.1,248.8 L1039,248.4 L1039.9,248.2 L1040.8,248 L1041.7,247.9 L1042.6,248 L1043.5,248.1Z" fill="#fff" stroke="#000" stroke-width="1.45" stroke-linejoin="round" /><path d="M1042,254.7 L1042.4,254.9 L1042.7,255.1 L1043.1,255.4 L1043.4,255.7 L1043.7,256.1 L1044,256.5 L1044.2,256.9 L1044.4,257.4 L1044.6,257.9 L1044.7,258.5 L1044.8,259 L1044.8,259.6 L1044.8,260.2 L1044.8,260.8 L1044.7,261.4 L1044.6,262 L1044.4,262.6 L1044.2,263.2 L1044,263.8 L1043.7,264.4 L1043.4,264.9 L1043.1,265.4 L1042.8,265.9 L1042.4,266.4 L1042,266.8 L1041.5,267.2 L1041.1,267.5 L1040.7,267.8 L1040.2,268 L1039.7,268.2 L1039.3,268.4 L1038.8,268.4 L1038.3,268.5 L1037.9,268.5 L1037.5,268.4 L1037,268.3 L1036.6,268.1 L1036.3,267.9 L1035.9,267.6 L1035.6,267.3 L1035.3,266.9 L1035,266.5 L1034.8,266.1 L1034.6,265.6 L1034.4,265.1 L1034.3,264.5 L1034.2,264 L1034.2,263.4 L1034.2,262.8 L1034.2,262.2 L1034.3,261.6 L1034.4,261 L1034.6,260.4 L1034.8,259.8 L1035,259.2 L1035.3,258.6 L1035.6,258.1 L1035.9,257.6 L1036.2,257.1 L1036.6,256.6 L1037,256.2 L1037.5,255.8 L1037.9,255.5 L1038.3,255.2 L1038.8,255 L1039.3,254.8 L1039.7,254.6 L1040.2,254.6 L1040.7,254.5 L1041.1,254.5 L1041.5,254.6Z" fill="#fff" stroke="#000" stroke-width="1.45" stroke-linejoin="round" /><path d="M1041.6,255.9 L1041.9,256 L1042.2,256.2 L1042.5,256.4 L1042.8,256.7 L1043,257 L1043.3,257.3 L1043.4,257.7 L1043.6,258.1 L1043.7,258.5 L1043.8,259 L1043.9,259.4 L1043.9,259.9 L1043.9,260.4 L1043.9,260.9 L1043.8,261.4 L1043.7,261.9 L1043.6,262.4 L1043.4,262.9 L1043.3,263.4 L1043,263.9 L1042.8,264.3 L1042.5,264.8 L1042.2,265.2 L1041.9,265.6 L1041.6,265.9 L1041.2,266.2 L1040.8,266.5 L1040.5,266.7 L1040.1,266.9 L1039.7,267.1 L1039.3,267.2 L1038.9,267.3 L1038.5,267.3 L1038.2,267.3 L1037.8,267.2 L1037.4,267.1 L1037.1,267 L1036.8,266.8 L1036.5,266.6 L1036.2,266.3 L1036,266 L1035.7,265.7 L1035.6,265.3 L1035.4,264.9 L1035.3,264.5 L1035.2,264 L1035.1,263.6 L1035.1,263.1 L1035.1,262.6 L1035.1,262.1 L1035.2,261.6 L1035.3,261.1 L1035.4,260.6 L1035.6,260.1 L1035.7,259.6 L1036,259.1 L1036.2,258.7 L1036.5,258.2 L1036.8,257.8 L1037.1,257.4 L1037.4,257.1 L1037.8,256.8 L1038.2,256.5 L1038.5,256.3 L1038.9,256.1 L1039.3,255.9 L1039.7,255.8 L1040.1,255.7 L1040.5,255.7 L1040.8,255.7 L1041.2,255.8Z" fill="none" stroke="#000" stroke-width="0.9" stroke-linejoin="round" /><path d="M1077.2,263 L1081.2,274.3 L1074.3,285.4 L1063.6,285.3 L1059.6,274 L1066.4,262.9Z" fill="#fff" stroke="#000" stroke-width="1.45" stroke-linejoin="round" /><path d="M1070.6,264.7 L1081.3,264.9 L1077.2,263 L1066.4,262.9Z" fill="#fff" stroke="#000" stroke-width="1.45" stroke-linejoin="round" /><path d="M1067.7,287.1 L1063.7,275.9 L1059.6,274 L1063.6,285.3Z" fill="#fff" stroke="#000" stroke-width="1.45" stroke-linejoin="round" /><path d="M1063.7,275.9 L1070.6,264.7 L1066.4,262.9 L1059.6,274Z" fill="#fff" stroke="#000" stroke-width="1.45" stroke-linejoin="round" /><path d="M1081.3,264.9 L1085.3,276.1 L1078.4,287.3 L1067.7,287.1 L1063.7,275.9 L1070.6,264.7Z" fill="#fff" stroke="#000" stroke-width="1.45" stroke-linejoin="round" /><path d="M1074.8,286.8 L1074.2,286.5 L1073.7,286.1 L1073.2,285.7 L1072.8,285.2 L1072.4,284.7 L1072.1,284.1 L1071.8,283.5 L1071.5,282.8 L1071.3,282 L1071.2,281.3 L1071.1,280.5 L1071.1,279.7 L1071.1,278.8 L1071.2,278 L1071.3,277.1 L1071.5,276.3 L1071.8,275.5 L1072.1,274.6 L1072.4,273.9 L1072.8,273.1 L1073.3,272.3 L1073.8,271.7 L1074.3,271 L1074.8,270.4 L1075.4,269.8 L1076,269.4 L1076.6,268.9 L1077.2,268.6 L1077.9,268.3 L1078.5,268 L1079.2,267.9 L1079.8,267.8 L1080.5,267.8 L1081.1,267.9 L1081.7,268 L1082.2,268.2 L1079.5,267 L1078.9,266.8 L1078.3,266.7 L1077.7,266.6 L1077.1,266.6 L1076.4,266.7 L1075.8,266.8 L1075.1,267.1 L1074.5,267.3 L1073.9,267.7 L1073.3,268.1 L1072.7,268.6 L1072.1,269.2 L1071.5,269.8 L1071,270.4 L1070.5,271.1 L1070.1,271.9 L1069.7,272.6 L1069.4,273.4 L1069.1,274.2 L1068.8,275.1 L1068.6,275.9 L1068.5,276.8 L1068.4,277.6 L1068.3,278.4 L1068.4,279.3 L1068.5,280.1 L1068.6,280.8 L1068.8,281.5 L1069,282.2 L1069.3,282.9 L1069.7,283.5 L1070.1,284 L1070.5,284.5 L1071,284.9 L1071.5,285.3 L1072,285.5Z" fill="#fff" stroke="#000" stroke-width="1.45" stroke-linejoin="round" /><path d="M1081.9,268.1 L1082.5,268.3 L1083,268.7 L1083.5,269 L1084,269.5 L1084.4,270 L1084.8,270.6 L1085.1,271.2 L1085.3,271.8 L1085.6,272.5 L1085.7,273.3 L1085.9,274.1 L1085.9,274.9 L1085.9,275.7 L1085.9,276.5 L1085.7,277.4 L1085.6,278.2 L1085.4,279.1 L1085.1,279.9 L1084.8,280.7 L1084.4,281.5 L1084,282.2 L1083.5,283 L1083,283.6 L1082.5,284.3 L1081.9,284.9 L1081.3,285.4 L1080.7,285.8 L1080.1,286.2 L1079.5,286.6 L1078.8,286.8 L1078.2,287 L1077.5,287.1 L1076.9,287.2 L1076.3,287.2 L1075.7,287.1 L1075.1,286.9 L1074.5,286.7 L1074,286.3 L1073.5,286 L1073,285.5 L1072.6,285 L1072.2,284.4 L1071.9,283.8 L1071.7,283.2 L1071.4,282.5 L1071.3,281.7 L1071.1,280.9 L1071.1,280.1 L1071.1,279.3 L1071.1,278.5 L1071.3,277.6 L1071.4,276.8 L1071.6,275.9 L1071.9,275.1 L1072.2,274.3 L1072.6,273.5 L1073,272.8 L1073.5,272 L1074,271.4 L1074.5,270.7 L1075.1,270.1 L1075.7,269.6 L1076.3,269.2 L1076.9,268.8 L1077.5,268.4 L1078.2,268.2 L1078.8,268 L1079.5,267.9 L1080.1,267.8 L1080.7,267.8 L1081.3,267.9Z" fill="#fff" stroke="#000" stroke-width="1.45" stroke-linejoin="round" /><path d="M1080.7,271.4 L1081.1,271.6 L1081.4,271.8 L1081.8,272 L1082.1,272.3 L1082.3,272.6 L1082.6,273 L1082.8,273.4 L1083,273.8 L1083.1,274.3 L1083.2,274.8 L1083.3,275.3 L1083.3,275.8 L1083.3,276.3 L1083.3,276.9 L1083.2,277.4 L1083.1,278 L1083,278.5 L1082.8,279.1 L1082.6,279.6 L1082.3,280.1 L1082.1,280.6 L1081.8,281.1 L1081.4,281.5 L1081.1,281.9 L1080.7,282.3 L1080.3,282.6 L1080,282.9 L1079.5,283.2 L1079.1,283.4 L1078.7,283.6 L1078.3,283.7 L1077.9,283.8 L1077.5,283.8 L1077.1,283.8 L1076.7,283.7 L1076.3,283.6 L1075.9,283.4 L1075.6,283.2 L1075.2,283 L1074.9,282.7 L1074.7,282.4 L1074.4,282 L1074.2,281.6 L1074,281.2 L1073.9,280.7 L1073.8,280.2 L1073.7,279.7 L1073.7,279.2 L1073.7,278.7 L1073.7,278.1 L1073.8,277.6 L1073.9,277 L1074,276.5 L1074.2,275.9 L1074.4,275.4 L1074.7,274.9 L1074.9,274.4 L1075.2,273.9 L1075.6,273.5 L1075.9,273.1 L1076.3,272.7 L1076.7,272.4 L1077,272.1 L1077.5,271.8 L1077.9,271.6 L1078.3,271.4 L1078.7,271.3 L1079.1,271.2 L1079.5,271.2 L1079.9,271.2 L1080.3,271.3Z" fill="#fff" stroke="#000" stroke-width="1.45" stroke-linejoin="round" /><path d="M1080,273.3 L1080.3,273.4 L1080.5,273.5 L1080.8,273.7 L1081,273.9 L1081.1,274.1 L1081.3,274.4 L1081.5,274.7 L1081.6,275 L1081.7,275.3 L1081.8,275.6 L1081.8,276 L1081.8,276.3 L1081.8,276.7 L1081.8,277.1 L1081.8,277.4 L1081.7,277.8 L1081.6,278.2 L1081.5,278.6 L1081.3,278.9 L1081.1,279.3 L1081,279.6 L1080.8,280 L1080.5,280.3 L1080.3,280.5 L1080,280.8 L1079.8,281 L1079.5,281.3 L1079.2,281.4 L1078.9,281.6 L1078.6,281.7 L1078.4,281.8 L1078.1,281.8 L1077.8,281.9 L1077.5,281.9 L1077.2,281.8 L1077,281.7 L1076.7,281.6 L1076.5,281.5 L1076.2,281.3 L1076,281.1 L1075.9,280.9 L1075.7,280.6 L1075.5,280.3 L1075.4,280 L1075.3,279.7 L1075.2,279.4 L1075.2,279 L1075.2,278.7 L1075.2,278.3 L1075.2,277.9 L1075.2,277.6 L1075.3,277.2 L1075.4,276.8 L1075.5,276.4 L1075.7,276.1 L1075.9,275.7 L1076,275.4 L1076.2,275 L1076.5,274.7 L1076.7,274.5 L1077,274.2 L1077.2,274 L1077.5,273.7 L1077.8,273.6 L1078.1,273.4 L1078.4,273.3 L1078.6,273.2 L1078.9,273.2 L1079.2,273.1 L1079.5,273.1 L1079.8,273.2Z" fill="none" stroke="#000" stroke-width="1.0" stroke-linejoin="round" /><path d="M461.1,226.8 L459,225.7 L457,224.4 L455.1,222.9 L453.4,221.1 L451.9,219.1 L450.5,216.9 L449.2,214.6 L448.2,212.1 L447.4,209.5 L446.8,206.8 L446.4,203.9 L446.2,201 L446.2,198.1 L446.5,195.1 L446.9,192.1 L447.6,189.2 L448.5,186.2 L449.5,183.4 L450.8,180.6 L452.2,177.9 L453.8,175.4 L455.6,173 L457.5,170.8 L459.6,168.7 L461.7,166.9 L464,165.2 L466.3,163.8 L468.7,162.6 L471.1,161.6 L473.6,160.9 L476,160.5 L478.5,160.3 L480.9,160.4 L483.3,160.7 L485.6,161.3 L487.9,162.2 L481.5,159.3 L479.2,158.5 L476.9,157.9 L474.5,157.5 L472.1,157.5 L469.7,157.7 L467.2,158.1 L464.7,158.8 L462.3,159.7 L459.9,160.9 L457.6,162.4 L455.3,164 L453.2,165.9 L451.1,167.9 L449.2,170.2 L447.4,172.5 L445.8,175.1 L444.4,177.8 L443.1,180.5 L442.1,183.4 L441.2,186.3 L440.5,189.3 L440.1,192.3 L439.8,195.2 L439.8,198.2 L440,201.1 L440.4,203.9 L441,206.7 L441.8,209.3 L442.9,211.8 L444.1,214.1 L445.5,216.3 L447,218.2 L448.7,220 L450.6,221.6 L452.6,222.9 L454.8,224Z" fill="#fff" stroke="#000" stroke-width="1.6" stroke-linejoin="round" /><path d="M484.4,160.9 L487.1,156.8 L493.5,159.7 L494,159.9 L494.4,160.2 L494.8,160.6 L495.2,160.9 L495.6,161.2 L496,161.6 L493.7,166 L487.3,163.1Z" fill="#fff" stroke="#000" stroke-width="1.6" stroke-linejoin="round" /><path d="M494.8,160.6 L488.4,157.7" stroke="#000" stroke-width="1.2800000000000002" fill="none"/><path d="M453,228.7 L454.5,223.9 L457.8,225.1 L464.2,227.9 L462.3,232.6 L461.8,232.4 L461.3,232.3 L460.8,232.1 L460.3,231.9 L459.9,231.7 L453.5,228.9Z" fill="#fff" stroke="#000" stroke-width="1.6" stroke-linejoin="round" /><path d="M460.8,232.1 L454.4,229.2" stroke="#000" stroke-width="1.2800000000000002" fill="none"/><path d="M478.4,158.2 L480.3,153.6 L480.8,153.7 L481.3,153.9 L481.8,154.1 L482.3,154.2 L482.7,154.4 L489.1,157.3 L489.6,157.5 L488.1,162.3 L484.8,161.1Z" fill="#fff" stroke="#000" stroke-width="1.6" stroke-linejoin="round" /><path d="M488.2,156.9 L481.8,154.1" stroke="#000" stroke-width="1.2800000000000002" fill="none"/><path d="M446.6,224.6 L448.9,220.2 L455.3,223 L458.2,225.2 L455.5,229.3 L449.1,226.5 L448.6,226.2 L448.2,225.9 L447.4,225.3 L447,224.9Z" fill="#fff" stroke="#000" stroke-width="1.6" stroke-linejoin="round" /><path d="M454.2,228.4 L447.8,225.6" stroke="#000" stroke-width="1.2800000000000002" fill="none"/><path d="M471.8,157.5 L472.8,152.6 L473.3,152.6 L473.9,152.6 L474.4,152.6 L474.9,152.6 L475.4,152.7 L475.9,152.7 L482.3,155.6 L481.8,160.5 L478.2,160.3Z" fill="#fff" stroke="#000" stroke-width="1.6" stroke-linejoin="round" /><path d="M480.8,155.5 L474.4,152.6" stroke="#000" stroke-width="1.2800000000000002" fill="none"/><path d="M441.4,218.6 L444.5,214.8 L450.9,217.7 L453.1,220.8 L449.8,224.1 L443.4,221.2 L443,220.8 L442.7,220.4 L442.4,220 L442.1,219.5 L441.7,219.1Z" fill="#fff" stroke="#000" stroke-width="1.6" stroke-linejoin="round" /><path d="M448.8,222.8 L442.4,220" stroke="#000" stroke-width="1.2800000000000002" fill="none"/><path d="M464.9,158.7 L465,153.9 L465.5,153.7 L466.6,153.4 L467.6,153.2 L468.2,153.1 L474.6,155.9 L475,160.7 L471.3,161.6Z" fill="#fff" stroke="#000" stroke-width="1.6" stroke-linejoin="round" /><path d="M473,156.3 L466.6,153.4" stroke="#000" stroke-width="1.2800000000000002" fill="none"/><path d="M437.8,211.1 L441.4,208.2 L447.9,211 L449.3,214.8 L445.5,217.1 L439.1,214.3 L438.9,213.8 L438.6,213.2 L438.4,212.7 L438,211.6Z" fill="#fff" stroke="#000" stroke-width="1.6" stroke-linejoin="round" /><path d="M444.8,215.6 L438.4,212.7" stroke="#000" stroke-width="1.2800000000000002" fill="none"/><path d="M457.4,157.3 L457.9,157 L458.4,156.7 L458.9,156.4 L459.4,156.2 L459.9,155.9 L460.4,155.7 L466.8,158.5 L468.2,162.8 L464.7,164.7 L458.3,161.9Z" fill="#fff" stroke="#000" stroke-width="1.6" stroke-linejoin="round" /><path d="M465.3,159.3 L458.9,156.4" stroke="#000" stroke-width="1.2800000000000002" fill="none"/><path d="M436,202.4 L439.9,200.5 L446.3,203.4 L446.9,207.6 L442.9,208.9 L436.5,206 L436.4,205.4 L436.3,204.8 L436.2,204.2 L436.1,203.6 L436.1,203Z" fill="#fff" stroke="#000" stroke-width="1.6" stroke-linejoin="round" /><path d="M442.6,207.1 L436.2,204.2" stroke="#000" stroke-width="1.2800000000000002" fill="none"/><path d="M450.4,162.8 L450.9,162.3 L451.3,161.9 L451.8,161.5 L452.2,161.1 L452.7,160.7 L453.1,160.3 L459.5,163.2 L461.8,166.8 L458.6,169.6 L452.2,166.8Z" fill="#fff" stroke="#000" stroke-width="1.6" stroke-linejoin="round" /><path d="M458.1,164.4 L451.7,161.5" stroke="#000" stroke-width="1.2800000000000002" fill="none"/><path d="M435.8,196.3 L435.8,195 L435.9,194.4 L435.9,193.7 L436,193.1 L440.1,192.4 L446.5,195.2 L446.2,199.7 L442.2,199.8 L435.8,196.9Z" fill="#fff" stroke="#000" stroke-width="1.6" stroke-linejoin="round" /><path d="M442.2,197.9 L435.8,195" stroke="#000" stroke-width="1.2800000000000002" fill="none"/><path d="M444.4,169.9 L444.8,169.4 L445.2,168.9 L445.5,168.3 L445.9,167.8 L446.3,167.3 L446.7,166.8 L453.1,169.7 L456.1,172.4 L453.5,175.9 L447.1,173.1Z" fill="#fff" stroke="#000" stroke-width="1.6" stroke-linejoin="round" /><path d="M451.9,171.2 L445.5,168.3" stroke="#000" stroke-width="1.2800000000000002" fill="none"/><path d="M436.9,187.5 L437,186.8 L437.2,186.2 L437.4,185.6 L437.5,185 L437.7,184.3 L437.9,183.7 L441.8,184.2 L448.2,187 L447.1,191.4 L443.3,190.3Z" fill="#fff" stroke="#000" stroke-width="1.6" stroke-linejoin="round" /><path d="M443.7,188.4 L437.4,185.6" stroke="#000" stroke-width="1.2800000000000002" fill="none"/><path d="M439.9,178.3 L440.1,177.7 L440.4,177.1 L440.6,176.5 L440.9,175.9 L441.2,175.4 L441.5,174.8 L447.9,177.6 L451.5,179.2 L449.6,183.3 L443.2,180.5Z" fill="#fff" stroke="#000" stroke-width="1.6" stroke-linejoin="round" /><path d="M447,179.4 L440.6,176.5" stroke="#000" stroke-width="1.2800000000000002" fill="none"/><path d="M483.3,160.7 L483.8,160.8 L484.4,161 L485.2,160.2 L487,156.5 L487.6,156.7 L488.2,156.9 L488.8,157.1 L489.4,157.4 L488.4,161.3 L488.5,162.5 L489,162.7 L489.5,163 L490,163.2 L490.4,163.5 L491.4,163 L493.8,159.8 L494.3,160.2 L494.8,160.6 L495.3,161 L495.8,161.4 L494.1,165.1 L494,166.3 L494.4,166.7 L494.8,167.1 L495.2,167.5 L495.6,167.9 L496.6,167.6 L499.4,165.1 L499.8,165.6 L500.2,166.2 L500.6,166.7 L501,167.3 L498.7,170.5 L498.3,171.7 L498.6,172.2 L498.9,172.7 L499.2,173.3 L499.5,173.8 L500.5,173.8 L503.6,172.1 L503.9,172.8 L504.2,173.4 L504.4,174.1 L504.7,174.8 L501.9,177.4 L501.3,178.5 L501.5,179.1 L501.6,179.7 L501.8,180.3 L501.9,180.9 L502.9,181.2 L506.2,180.5 L506.3,181.2 L506.4,181.9 L506.5,182.7 L506.6,183.4 L503.4,185.2 L502.7,186.1 L502.7,186.8 L502.8,187.5 L502.8,188.2 L502.8,188.8 L503.6,189.4 L506.8,189.6 L506.8,190.4 L506.8,191.1 L506.7,191.9 L506.6,192.7 L503.3,193.6 L502.5,194.3 L502.4,195 L502.3,195.7 L502.2,196.4 L502,197.1 L502.7,197.8 L505.6,199 L505.4,199.8 L505.3,200.6 L505,201.3 L504.8,202.1 L501.6,202 L500.6,202.5 L500.4,203.2 L500.2,203.8 L499.9,204.5 L499.7,205.2 L500.1,206.1 L502.6,208.2 L502.3,208.9 L502,209.6 L501.6,210.3 L501.2,211.1 L498.2,210 L497.2,210.2 L496.9,210.8 L496.5,211.4 L496.2,212 L495.8,212.6 L496,213.7 L498,216.5 L497.5,217.2 L497.1,217.8 L496.6,218.4 L496.1,219.1 L493.5,217.1 L492.5,217 L492.1,217.5 L491.7,218.1 L491.2,218.5 L490.7,219 L490.7,220.2 L492,223.6 L491.4,224.1 L490.9,224.6 L490.3,225.1 L489.7,225.6 L487.7,222.9 L486.8,222.5 L486.3,222.9 L485.8,223.3 L485.2,223.7 L484.7,224 L484.4,225.2 L484.9,229 L484.3,229.4 L483.7,229.7 L483.1,230 L482.4,230.4 L481.1,227 L480.3,226.4 L479.8,226.6 L479.2,226.9 L478.7,227.1 L478.1,227.3 L477.6,228.4 L477.3,232.4 L476.7,232.6 L476,232.7 L475.4,232.9 L474.7,233 L474.1,229.3 L473.5,228.4 L473,228.5 L472.4,228.6 L471.8,228.6 L471.3,228.7 L470.6,229.6 L469.5,233.6 L468.9,233.6 L468.2,233.5 L467.6,233.5 L467,233.5 L467.1,229.5 L466.8,228.5 L466.3,228.4 L465.7,228.3 L465.2,228.2 L464.6,228 L463.8,228.8 L462,232.5 L461.4,232.3 L460.8,232.1 L460.2,231.9 L459.6,231.6 L460.6,227.7 L460.5,226.5 L460,226.3 L459.5,226 L459,225.8 L458.6,225.5 L457.6,226 L455.2,229.2 L454.7,228.8 L454.2,228.4 L453.7,228 L453.2,227.6 L454.9,223.9 L455,222.7 L454.6,222.3 L454.2,221.9 L453.8,221.5 L453.4,221.1 L452.4,221.4 L449.6,223.9 L449.2,223.4 L448.8,222.8 L448.4,222.3 L448,221.7 L450.3,218.5 L450.7,217.3 L450.4,216.8 L450.1,216.3 L449.8,215.7 L449.5,215.2 L448.5,215.2 L445.4,216.9 L445.1,216.2 L444.8,215.6 L444.6,214.9 L444.3,214.2 L447.1,211.6 L447.7,210.5 L447.5,209.9 L447.4,209.3 L447.2,208.7 L447.1,208.1 L446.1,207.8 L442.8,208.5 L442.7,207.8 L442.6,207.1 L442.5,206.3 L442.4,205.6 L445.6,203.8 L446.3,202.9 L446.3,202.2 L446.2,201.5 L446.2,200.8 L446.2,200.2 L445.4,199.6 L442.2,199.4 L442.2,198.6 L442.2,197.9 L442.3,197.1 L442.4,196.3 L445.7,195.4 L446.5,194.7 L446.6,194 L446.7,193.3 L446.8,192.6 L447,191.9 L446.3,191.2 L443.4,190 L443.6,189.2 L443.7,188.4 L444,187.7 L444.2,186.9 L447.4,187 L448.4,186.5 L448.6,185.8 L448.8,185.2 L449.1,184.5 L449.3,183.8 L448.9,182.9 L446.4,180.8 L446.7,180.1 L447,179.4 L447.4,178.7 L447.8,177.9 L450.8,179 L451.8,178.8 L452.1,178.2 L452.5,177.6 L452.8,177 L453.2,176.4 L453,175.3 L451,172.5 L451.5,171.8 L451.9,171.2 L452.4,170.6 L452.9,169.9 L455.5,171.9 L456.5,172 L456.9,171.5 L457.3,170.9 L457.8,170.5 L458.3,170 L458.3,168.8 L457,165.4 L457.6,164.9 L458.1,164.4 L458.7,163.9 L459.3,163.4 L461.3,166.1 L462.2,166.5 L462.7,166.1 L463.2,165.7 L463.8,165.3 L464.3,165 L464.6,163.8 L464.1,160 L464.7,159.6 L465.3,159.3 L465.9,159 L466.6,158.6 L467.9,162 L468.7,162.6 L469.2,162.4 L469.8,162.1 L470.3,161.9 L470.9,161.7 L471.4,160.6 L471.7,156.6 L472.3,156.4 L473,156.3 L473.6,156.1 L474.3,156 L474.9,159.7 L475.5,160.6 L476,160.5 L476.6,160.4 L477.2,160.4 L477.7,160.3 L478.4,159.4 L479.5,155.4 L480.1,155.4 L480.8,155.5 L481.4,155.5 L482,155.5 L481.9,159.5 L482.2,160.5 L482.7,160.6Z" fill="#fff" stroke="#000" stroke-width="1.6" stroke-linejoin="round" /><path d="M472.5,228.3 L470.6,227.3 L468.8,226.1 L467.1,224.7 L465.5,223.1 L464,221.2 L462.8,219.3 L461.7,217.1 L460.7,214.9 L460,212.5 L459.4,210 L459.1,207.4 L458.9,204.7 L458.9,202 L459.1,199.3 L459.5,196.6 L460.2,193.9 L460.9,191.2 L461.9,188.6 L463.1,186.1 L464.4,183.6 L465.9,181.3 L467.5,179.1 L469.2,177 L471.1,175.2 L473.1,173.5 L475.1,172 L477.2,170.7 L479.4,169.6 L481.7,168.7 L483.9,168.1 L486.2,167.7 L488.4,167.5 L490.6,167.6 L492.8,167.9 L494.9,168.4 L497,169.2 L486,164.3 L484,163.5 L481.8,163 L479.7,162.7 L477.5,162.6 L475.2,162.8 L472.9,163.2 L470.7,163.8 L468.5,164.7 L466.3,165.8 L464.1,167.1 L462.1,168.6 L460.1,170.3 L458.3,172.2 L456.5,174.2 L454.9,176.4 L453.4,178.7 L452.1,181.2 L451,183.7 L450,186.3 L449.2,189 L448.6,191.7 L448.2,194.4 L447.9,197.2 L447.9,199.8 L448.1,202.5 L448.5,205.1 L449,207.6 L449.8,210 L450.7,212.3 L451.8,214.4 L453.1,216.4 L454.5,218.2 L456.1,219.8 L457.8,221.2 L459.6,222.4 L461.6,223.4Z" fill="#fff" stroke="#000" stroke-width="1.45" stroke-linejoin="round" /><path d="M495.7,168.7 L497.7,169.5 L499.6,170.6 L501.4,171.9 L503.1,173.4 L504.6,175.1 L506,177 L507.2,179 L508.2,181.2 L509.1,183.5 L509.8,186 L510.2,188.5 L510.5,191.1 L510.6,193.8 L510.5,196.5 L510.2,199.2 L509.7,201.9 L509.1,204.6 L508.2,207.3 L507.2,209.9 L505.9,212.4 L504.6,214.8 L503,217.1 L501.4,219.2 L499.6,221.2 L497.7,223 L495.7,224.6 L493.6,226 L491.4,227.3 L489.2,228.3 L487,229.1 L484.7,229.6 L482.5,229.9 L480.2,230 L478,229.8 L475.9,229.4 L473.8,228.8 L471.8,228 L469.9,226.9 L468.1,225.6 L466.4,224.1 L464.9,222.4 L463.5,220.5 L462.3,218.5 L461.3,216.3 L460.4,214 L459.7,211.5 L459.3,209 L459,206.4 L458.9,203.7 L459,201 L459.3,198.3 L459.8,195.6 L460.4,192.9 L461.3,190.2 L462.3,187.6 L463.6,185.1 L464.9,182.7 L466.5,180.4 L468.1,178.3 L469.9,176.3 L471.8,174.5 L473.8,172.9 L475.9,171.5 L478.1,170.2 L480.3,169.2 L482.5,168.4 L484.8,167.9 L487,167.6 L489.3,167.5 L491.5,167.7 L493.6,168.1Z" fill="#fff" stroke="#000" stroke-width="1.45" stroke-linejoin="round" /><path d="M495.2,170.1 L497.1,170.9 L498.9,171.9 L500.6,173.2 L502.2,174.6 L503.7,176.2 L505,178 L506.1,179.9 L507.1,182 L507.9,184.2 L508.6,186.6 L509,189 L509.3,191.5 L509.4,194 L509.3,196.6 L509,199.2 L508.6,201.8 L507.9,204.4 L507.1,206.9 L506.1,209.4 L505,211.7 L503.6,214 L502.2,216.2 L500.6,218.2 L498.9,220.1 L497.1,221.9 L495.2,223.4 L493.2,224.8 L491.1,225.9 L489,226.9 L486.9,227.6 L484.7,228.2 L482.6,228.5 L480.5,228.5 L478.4,228.4 L476.3,228 L474.3,227.4 L472.4,226.6 L470.6,225.6 L468.9,224.3 L467.3,222.9 L465.8,221.3 L464.5,219.5 L463.4,217.6 L462.4,215.5 L461.6,213.3 L460.9,210.9 L460.5,208.5 L460.2,206 L460.1,203.5 L460.2,200.9 L460.5,198.3 L460.9,195.7 L461.6,193.1 L462.4,190.6 L463.4,188.1 L464.5,185.8 L465.9,183.5 L467.3,181.3 L468.9,179.3 L470.6,177.4 L472.4,175.6 L474.3,174.1 L476.3,172.7 L478.4,171.6 L480.5,170.6 L482.6,169.9 L484.8,169.3 L486.9,169 L489,169 L491.1,169.1 L493.2,169.5Z" fill="#fff" stroke="#000" stroke-width="1.45" stroke-linejoin="round" /><path d="M457.2,214 L456,209.7 L450.5,207.2 L451.7,211.5Z" fill="#fff" stroke="#000" stroke-width="1.1" stroke-linejoin="round" /><path d="M521.4,177.1 L523.3,177.9 L525.2,179 L526.9,180.4 L528.5,181.9 L529.9,183.7 L531.2,185.6 L532.3,187.8 L533.3,190.1 L534,192.5 L534.6,195.1 L535,197.8 L535.2,200.6 L535.2,203.4 L535,206.4 L534.6,209.3 L534,212.2 L533.3,215.1 L532.3,218 L531.2,220.8 L529.9,223.5 L528.5,226.2 L526.9,228.7 L525.2,231 L523.3,233.2 L521.4,235.2 L519.4,237 L517.2,238.6 L515.1,240 L512.9,241.2 L510.6,242.1 L508.4,242.8 L506.2,243.2 L503.9,243.3 L501.8,243.3 L499.7,242.9 L497.6,242.3 L495.7,241.5 L493.8,240.4 L492.1,239 L490.5,237.5 L489.1,235.7 L487.8,233.8 L486.7,231.6 L485.7,229.3 L485,226.9 L484.4,224.3 L484,221.6 L483.8,218.8 L483.8,216 L484,213 L484.4,210.1 L485,207.2 L485.7,204.3 L486.7,201.4 L487.8,198.6 L489.1,195.9 L490.5,193.2 L492.1,190.7 L493.8,188.4 L495.7,186.2 L497.6,184.2 L499.6,182.4 L501.8,180.8 L503.9,179.4 L506.1,178.2 L508.4,177.3 L510.6,176.6 L512.8,176.2 L515.1,176.1 L517.2,176.1 L519.3,176.5Z" fill="none" stroke="#000" stroke-width="1.45" stroke-linejoin="round" /><path d="M520.6,179.1 L522.5,179.9 L524.2,180.9 L525.8,182.1 L527.3,183.6 L528.7,185.2 L529.9,187.1 L530.9,189.1 L531.8,191.2 L532.5,193.6 L533.1,196 L533.5,198.5 L533.6,201.1 L533.6,203.8 L533.5,206.6 L533.1,209.3 L532.6,212.1 L531.8,214.8 L530.9,217.5 L529.9,220.1 L528.7,222.7 L527.3,225.2 L525.8,227.5 L524.2,229.7 L522.5,231.8 L520.7,233.7 L518.8,235.4 L516.8,236.9 L514.7,238.2 L512.7,239.3 L510.6,240.1 L508.5,240.8 L506.4,241.2 L504.3,241.3 L502.2,241.2 L500.3,240.9 L498.4,240.3 L496.5,239.5 L494.8,238.5 L493.2,237.3 L491.7,235.8 L490.3,234.2 L489.1,232.3 L488.1,230.3 L487.2,228.2 L486.5,225.8 L485.9,223.4 L485.5,220.9 L485.4,218.3 L485.4,215.6 L485.5,212.8 L485.9,210.1 L486.4,207.3 L487.2,204.6 L488.1,201.9 L489.1,199.3 L490.3,196.7 L491.7,194.2 L493.2,191.9 L494.8,189.7 L496.5,187.6 L498.3,185.7 L500.2,184 L502.2,182.5 L504.3,181.2 L506.3,180.1 L508.4,179.3 L510.5,178.6 L512.6,178.2 L514.7,178.1 L516.8,178.2 L518.7,178.5Z" fill="none" stroke="#000" stroke-width="1.45" stroke-linejoin="round" /><path d="M570.1,277.3 L568,276.2 L566.1,274.9 L564.3,273.3 L562.6,271.5 L561.1,269.5 L559.8,267.3 L558.6,264.8 L557.7,262.3 L556.9,259.6 L556.4,256.7 L556.1,253.8 L556,250.7 L556,247.6 L556.4,244.5 L556.9,241.4 L557.6,238.3 L558.5,235.2 L559.6,232.2 L560.9,229.2 L562.4,226.4 L564.1,223.7 L565.9,221.1 L567.8,218.7 L569.8,216.5 L572,214.5 L574.3,212.7 L576.6,211.1 L579,209.8 L581.4,208.7 L583.9,207.9 L586.3,207.4 L588.7,207.1 L591.1,207.1 L593.5,207.4 L595.7,207.9 L597.9,208.7 L593.3,206.7 L591.2,205.9 L588.9,205.3 L586.5,205.1 L584.2,205.1 L581.7,205.3 L579.3,205.9 L576.8,206.7 L574.4,207.7 L572,209.1 L569.7,210.6 L567.4,212.4 L565.3,214.4 L563.2,216.7 L561.3,219.1 L559.5,221.6 L557.9,224.3 L556.4,227.2 L555.1,230.1 L553.9,233.1 L553,236.2 L552.3,239.4 L551.8,242.5 L551.5,245.6 L551.4,248.7 L551.5,251.7 L551.8,254.7 L552.4,257.5 L553.1,260.2 L554.1,262.8 L555.2,265.2 L556.5,267.4 L558,269.5 L559.7,271.3 L561.5,272.8 L563.5,274.2 L565.5,275.2Z" fill="#fff" stroke="#000" stroke-width="1.6" stroke-linejoin="round" /><path d="M595.5,207.9 L598.2,205.1 L599.3,204.4 L603.8,206.4 L604.3,206.8 L604.8,207.2 L604.7,208.6 L603.6,212.6 L599,210.5Z" fill="#fff" stroke="#000" stroke-width="1.6" stroke-linejoin="round" /><path d="M604.3,206.8 L599.8,204.8" stroke="#000" stroke-width="1.2800000000000002" fill="none"/><path d="M564.4,278.9 L564.8,274.9 L568.8,276.4 L573.4,278.4 L571.1,281.8 L570.2,282.7 L569.6,282.5 L569.1,282.2 L564.5,280.2Z" fill="#fff" stroke="#000" stroke-width="1.6" stroke-linejoin="round" /><path d="M569.6,282.5 L565.1,280.4" stroke="#000" stroke-width="1.2800000000000002" fill="none"/><path d="M590,205.6 L592.3,202.2 L593.2,201.3 L593.8,201.5 L594.4,201.7 L598.9,203.8 L599.1,205 L598.6,209.1 L594.6,207.6Z" fill="#fff" stroke="#000" stroke-width="1.6" stroke-linejoin="round" /><path d="M598.4,203.5 L593.8,201.5" stroke="#000" stroke-width="1.2800000000000002" fill="none"/><path d="M558.6,276.8 L558.7,275.4 L559.8,271.4 L564.4,273.4 L567.9,276.1 L565.2,278.9 L564.2,279.6 L559.6,277.5 L559.1,277.1Z" fill="#fff" stroke="#000" stroke-width="1.6" stroke-linejoin="round" /><path d="M563.7,279.2 L559.1,277.1" stroke="#000" stroke-width="1.2800000000000002" fill="none"/><path d="M584,205.1 L585.7,201.3 L586.5,200.2 L587.1,200.2 L587.7,200.2 L592.3,202.3 L592.7,203.4 L592.9,207.3 L588.5,207.1Z" fill="#fff" stroke="#000" stroke-width="1.6" stroke-linejoin="round" /><path d="M591.7,202.2 L587.1,200.2" stroke="#000" stroke-width="1.2800000000000002" fill="none"/><path d="M553.8,271.5 L554.1,270.1 L555.9,266.4 L560.4,268.4 L563.2,272.2 L560.2,274.2 L559.1,274.6 L554.6,272.6 L554.2,272Z" fill="#fff" stroke="#000" stroke-width="1.6" stroke-linejoin="round" /><path d="M558.7,274.1 L554.2,272" stroke="#000" stroke-width="1.2800000000000002" fill="none"/><path d="M577.7,206.4 L578.8,202.3 L579.4,201.1 L580,200.9 L580.7,200.8 L585.3,202.8 L585.9,203.8 L586.8,207.3 L582.3,208.4Z" fill="#fff" stroke="#000" stroke-width="1.6" stroke-linejoin="round" /><path d="M584.6,203 L580,200.9" stroke="#000" stroke-width="1.2800000000000002" fill="none"/><path d="M550.2,264.7 L550.8,263.4 L553.1,260.1 L557.6,262.1 L559.5,266.8 L556.4,268 L555.3,268.1 L550.8,266 L550.5,265.4Z" fill="#fff" stroke="#000" stroke-width="1.6" stroke-linejoin="round" /><path d="M555.1,267.4 L550.5,265.4" stroke="#000" stroke-width="1.2800000000000002" fill="none"/><path d="M571.5,209.4 L571.9,205.3 L572.3,204 L573,203.7 L573.6,203.3 L578.1,205.4 L578.9,206.1 L580.5,209.1 L576.1,211.4Z" fill="#fff" stroke="#000" stroke-width="1.6" stroke-linejoin="round" /><path d="M577.5,205.7 L572.9,203.7" stroke="#000" stroke-width="1.2800000000000002" fill="none"/><path d="M548.1,256.7 L548.9,255.6 L551.6,252.8 L556.2,254.8 L557.1,260.2 L553.9,260.5 L553,260.3 L548.4,258.2 L548.3,257.5Z" fill="#fff" stroke="#000" stroke-width="1.6" stroke-linejoin="round" /><path d="M552.8,259.5 L548.3,257.5" stroke="#000" stroke-width="1.2800000000000002" fill="none"/><path d="M565.4,210.1 L565.6,208.8 L566.2,208.3 L566.8,207.8 L571.3,209.8 L572.2,210.2 L574.4,212.6 L570.3,216 L565.7,214Z" fill="#fff" stroke="#000" stroke-width="1.6" stroke-linejoin="round" /><path d="M570.7,210.3 L566.2,208.3" stroke="#000" stroke-width="1.2800000000000002" fill="none"/><path d="M547.6,249.6 L547.6,248.8 L547.6,248 L548.5,247 L551.5,245 L556.1,247 L556,252.7 L553,252.2 L548.5,250.1Z" fill="#fff" stroke="#000" stroke-width="1.6" stroke-linejoin="round" /><path d="M552.2,250.8 L547.6,248.8" stroke="#000" stroke-width="1.2800000000000002" fill="none"/><path d="M559.6,215.2 L560.1,214.5 L560.6,213.9 L561.6,214 L566.2,216.1 L568.8,217.6 L565.2,222 L560.6,220 L559.6,216.5Z" fill="#fff" stroke="#000" stroke-width="1.6" stroke-linejoin="round" /><path d="M564.6,216.6 L560.1,214.5" stroke="#000" stroke-width="1.2800000000000002" fill="none"/><path d="M548.4,240.5 L548.5,239.7 L548.7,238.8 L549.7,238.1 L552.9,236.9 L557.4,239 L556.3,244.8 L551.8,242.7 L549.1,241.3Z" fill="#fff" stroke="#000" stroke-width="1.6" stroke-linejoin="round" /><path d="M553.1,241.7 L548.5,239.7" stroke="#000" stroke-width="1.2800000000000002" fill="none"/><path d="M554.5,222.8 L554.9,222.1 L555.3,221.4 L556.4,221.2 L559.4,221.8 L563.9,223.9 L561,229 L556.5,227 L554.8,224Z" fill="#fff" stroke="#000" stroke-width="1.6" stroke-linejoin="round" /><path d="M559.5,224.1 L554.9,222.1" stroke="#000" stroke-width="1.2800000000000002" fill="none"/><path d="M550.7,231.4 L551,230.6 L551.3,229.8 L552.4,229.4 L555.5,229.1 L560.1,231.1 L558,236.7 L553.5,234.7 L551.2,232.5Z" fill="#fff" stroke="#000" stroke-width="1.6" stroke-linejoin="round" /><path d="M555.6,232.7 L551,230.6" stroke="#000" stroke-width="1.2800000000000002" fill="none"/><path d="M593.8,207.4 L594.3,207.5 L594.8,207.5 L595.8,205.9 L597,203.9 L597.8,203.3 L598.4,203.5 L598.9,203.7 L599.1,204.7 L598.8,207 L598.5,208.9 L598.9,209.2 L599.4,209.5 L599.8,209.7 L600.3,209.8 L601.5,208.5 L603,206.9 L603.9,206.5 L604.3,206.8 L604.8,207.2 L604.8,208.2 L604.1,210.5 L603.5,212.3 L603.8,212.8 L604.2,213.2 L604.6,213.6 L605,213.8 L606.4,212.9 L608.1,211.6 L608.9,211.4 L609.3,211.9 L609.6,212.4 L609.5,213.5 L608.4,215.6 L607.6,217.3 L607.8,217.9 L608,218.4 L608.3,218.9 L608.7,219.3 L610.1,218.7 L611.9,217.9 L612.7,218 L612.9,218.6 L613.2,219.2 L612.9,220.3 L611.5,222.1 L610.4,223.6 L610.5,224.3 L610.6,224.9 L610.8,225.4 L611.1,226 L612.5,225.8 L614.3,225.4 L615,225.8 L615.2,226.5 L615.3,227.2 L614.8,228.2 L613.2,229.7 L611.9,230.9 L611.9,231.6 L611.9,232.2 L612,232.9 L612.1,233.5 L613.5,233.7 L615.2,233.9 L615.8,234.4 L615.8,235.2 L615.8,235.9 L615.2,236.8 L613.4,237.9 L612,238.8 L611.9,239.4 L611.8,240.1 L611.7,240.8 L611.8,241.5 L613,242.1 L614.6,242.8 L615,243.5 L614.9,244.3 L614.8,245.1 L614,245.8 L612.2,246.3 L610.7,246.8 L610.5,247.5 L610.3,248.2 L610.1,248.8 L610,249.5 L611,250.5 L612.4,251.7 L612.7,252.6 L612.4,253.3 L612.1,254.1 L611.3,254.6 L609.5,254.6 L608.1,254.7 L607.7,255.3 L607.5,255.9 L607.2,256.6 L607,257.2 L607.7,258.6 L608.8,260.2 L608.9,261.2 L608.5,261.9 L608.1,262.5 L607.3,262.8 L605.6,262.3 L604.3,262 L603.8,262.5 L603.4,263.1 L603.1,263.6 L602.8,264.3 L603.2,265.9 L603.9,267.8 L603.8,268.9 L603.4,269.4 L602.9,270 L602.1,270 L600.6,269.1 L599.4,268.4 L598.9,268.7 L598.5,269.2 L598,269.7 L597.6,270.2 L597.8,272 L598.1,274.1 L597.8,275.2 L597.3,275.7 L596.7,276.1 L595.9,275.9 L594.8,274.5 L593.8,273.4 L593.2,273.7 L592.8,274 L592.3,274.4 L591.8,274.8 L591.6,276.7 L591.5,278.9 L591.1,280 L590.5,280.3 L589.9,280.6 L589.2,280.2 L588.4,278.4 L587.7,277 L587.1,277.1 L586.6,277.3 L586.1,277.5 L585.6,277.8 L585.1,279.7 L584.6,282 L584,282.9 L583.4,283 L582.8,283.2 L582.2,282.5 L581.8,280.5 L581.4,278.8 L580.8,278.8 L580.3,278.8 L579.8,278.9 L579.3,279.1 L578.5,280.8 L577.6,283 L576.9,283.8 L576.3,283.8 L575.7,283.7 L575.3,282.9 L575.3,280.7 L575.2,278.9 L574.7,278.7 L574.2,278.6 L573.7,278.5 L573.2,278.5 L572.2,280.1 L571,282.1 L570.2,282.7 L569.6,282.5 L569.1,282.3 L568.9,281.3 L569.2,279 L569.5,277.1 L569.1,276.8 L568.6,276.5 L568.2,276.3 L567.7,276.2 L566.5,277.5 L565,279.1 L564.1,279.5 L563.7,279.2 L563.2,278.8 L563.2,277.8 L563.9,275.5 L564.5,273.7 L564.2,273.2 L563.8,272.8 L563.4,272.4 L563,272.2 L561.6,273.1 L559.9,274.4 L559.1,274.6 L558.7,274.1 L558.4,273.6 L558.5,272.5 L559.6,270.4 L560.4,268.7 L560.2,268.1 L560,267.6 L559.7,267.1 L559.3,266.7 L557.9,267.3 L556.1,268.1 L555.3,268 L555.1,267.4 L554.8,266.8 L555.1,265.7 L556.5,263.9 L557.6,262.4 L557.5,261.7 L557.4,261.1 L557.2,260.6 L556.9,260 L555.5,260.2 L553.7,260.6 L553,260.2 L552.8,259.5 L552.7,258.8 L553.2,257.8 L554.8,256.3 L556.1,255.1 L556.1,254.4 L556.1,253.8 L556,253.1 L555.9,252.5 L554.5,252.3 L552.8,252.1 L552.2,251.6 L552.2,250.8 L552.2,250.1 L552.8,249.2 L554.6,248.1 L556,247.2 L556.1,246.6 L556.2,245.9 L556.3,245.2 L556.2,244.5 L555,243.9 L553.4,243.2 L553,242.5 L553.1,241.7 L553.2,240.9 L554,240.2 L555.8,239.7 L557.3,239.2 L557.5,238.5 L557.7,237.8 L557.9,237.2 L558,236.5 L557,235.5 L555.6,234.3 L555.3,233.4 L555.6,232.7 L555.9,231.9 L556.7,231.4 L558.5,231.4 L559.9,231.3 L560.3,230.7 L560.5,230.1 L560.8,229.4 L561,228.8 L560.3,227.4 L559.2,225.8 L559.1,224.8 L559.5,224.1 L559.9,223.5 L560.7,223.2 L562.4,223.7 L563.7,224 L564.2,223.5 L564.6,222.9 L564.9,222.4 L565.2,221.7 L564.8,220.1 L564.1,218.2 L564.2,217.1 L564.6,216.6 L565.1,216 L565.9,216 L567.4,216.9 L568.6,217.6 L569.1,217.3 L569.5,216.8 L570,216.3 L570.4,215.8 L570.2,214 L569.9,211.9 L570.2,210.8 L570.7,210.3 L571.3,209.9 L572.1,210.1 L573.2,211.5 L574.2,212.6 L574.8,212.3 L575.2,212 L575.7,211.6 L576.2,211.2 L576.4,209.3 L576.5,207.1 L576.9,206 L577.5,205.7 L578.1,205.4 L578.8,205.8 L579.6,207.6 L580.3,209 L580.9,208.9 L581.4,208.7 L581.9,208.5 L582.4,208.2 L582.9,206.3 L583.4,204 L584,203.1 L584.6,203 L585.2,202.8 L585.8,203.5 L586.2,205.5 L586.6,207.2 L587.2,207.2 L587.7,207.2 L588.2,207.1 L588.7,206.9 L589.5,205.2 L590.4,203 L591.1,202.2 L591.7,202.2 L592.3,202.3 L592.7,203.1 L592.7,205.3 L592.8,207.1 L593.3,207.3Z" fill="#fff" stroke="#000" stroke-width="1.6" stroke-linejoin="round" /><path d="M577,271.1 L575.5,270.3 L574.1,269.4 L572.8,268.2 L571.5,266.9 L570.4,265.4 L569.5,263.8 L568.6,262.1 L568,260.2 L567.4,258.2 L567,256.1 L566.8,254 L566.7,251.8 L566.8,249.5 L567,247.2 L567.4,245 L567.9,242.7 L568.6,240.4 L569.4,238.2 L570.3,236.1 L571.4,234 L572.6,232 L573.9,230.1 L575.3,228.4 L576.8,226.8 L578.4,225.3 L580.1,224 L581.8,222.8 L583.5,221.9 L585.3,221.1 L587,220.5 L588.8,220.1 L590.6,219.9 L592.3,219.9 L594.1,220.1 L595.7,220.5 L597.3,221.1 L576.3,211.8 L574.7,211.2 L573,210.8 L571.3,210.6 L569.6,210.6 L567.8,210.8 L566,211.2 L564.3,211.7 L562.5,212.5 L560.7,213.5 L559,214.6 L557.4,215.9 L555.8,217.4 L554.3,219 L552.9,220.8 L551.6,222.7 L550.4,224.6 L549.3,226.7 L548.4,228.9 L547.5,231.1 L546.9,233.3 L546.3,235.6 L546,237.9 L545.7,240.2 L545.7,242.4 L545.8,244.6 L546,246.8 L546.4,248.9 L546.9,250.8 L547.6,252.7 L548.5,254.5 L549.4,256.1 L550.5,257.6 L551.7,258.9 L553.1,260 L554.5,261 L556,261.8Z" fill="#fff" stroke="#000" stroke-width="1.6" stroke-linejoin="round" /><path d="M578,212.7 L579.2,211.1 L580.5,209.6 L601.5,218.9 L601.8,219.2 L602.2,219.4 L602.5,219.7 L602.8,219.9 L602.1,221.9 L601.3,223.8 L580.3,214.4Z" fill="#fff" stroke="#000" stroke-width="1.6" stroke-linejoin="round" /><path d="M602.2,219.4 L581.1,210.1" stroke="#000" stroke-width="1.2800000000000002" fill="none"/><path d="M554.8,265.6 L555.2,263.6 L555.6,261.6 L558.2,262.6 L579.2,271.9 L578.3,273.7 L577.3,275.5 L576.9,275.4 L576.5,275.3 L576.2,275.1 L575.8,275Z" fill="#fff" stroke="#000" stroke-width="1.6" stroke-linejoin="round" /><path d="M576.6,275.3 L555.5,265.9" stroke="#000" stroke-width="1.2800000000000002" fill="none"/><path d="M574,211 L575,209.2 L576,207.4 L576.4,207.5 L576.8,207.6 L577.1,207.8 L577.5,207.9 L598.5,217.3 L598.1,219.3 L597.7,221.3 L595,220.3Z" fill="#fff" stroke="#000" stroke-width="1.6" stroke-linejoin="round" /><path d="M597.8,217 L576.7,207.6" stroke="#000" stroke-width="1.2800000000000002" fill="none"/><path d="M550.5,263 L551.2,261 L552,259.1 L573,268.4 L575.2,270.2 L574,271.8 L572.8,273.3 L551.8,264 L551.5,263.7 L551.1,263.5 L550.8,263.2Z" fill="#fff" stroke="#000" stroke-width="1.6" stroke-linejoin="round" /><path d="M572.2,272.8 L551.1,263.5" stroke="#000" stroke-width="1.2800000000000002" fill="none"/><path d="M569.6,210.6 L570.3,208.6 L571,206.7 L571.4,206.7 L571.8,206.7 L572.2,206.7 L572.6,206.7 L593.6,216.1 L593.6,218.1 L593.5,220 L590.6,219.9Z" fill="#fff" stroke="#000" stroke-width="1.6" stroke-linejoin="round" /><path d="M592.8,216 L571.8,206.7" stroke="#000" stroke-width="1.2800000000000002" fill="none"/><path d="M547,259 L548,257.2 L549,255.5 L570.1,264.8 L571.8,267.3 L570.5,268.5 L569,269.8 L548,260.4 L547.8,260.1 L547.5,259.7 L547.2,259.4Z" fill="#fff" stroke="#000" stroke-width="1.6" stroke-linejoin="round" /><path d="M568.5,269.1 L547.5,259.7" stroke="#000" stroke-width="1.2800000000000002" fill="none"/><path d="M565.1,211.4 L565.4,209.4 L565.8,207.4 L566.2,207.3 L566.6,207.2 L567,207.1 L567.4,207 L588.5,216.4 L588.8,218.2 L589,220.1 L586.1,220.8Z" fill="#fff" stroke="#000" stroke-width="1.6" stroke-linejoin="round" /><path d="M587.6,216.6 L566.6,207.2" stroke="#000" stroke-width="1.2800000000000002" fill="none"/><path d="M544.4,253.9 L545.7,252.4 L547,250.9 L568,260.3 L569.2,263.3 L567.7,264.2 L566.1,265 L545.1,255.6 L545,255.2 L544.8,254.8 L544.6,254.3Z" fill="#fff" stroke="#000" stroke-width="1.6" stroke-linejoin="round" /><path d="M565.8,264.1 L544.8,254.8" stroke="#000" stroke-width="1.2800000000000002" fill="none"/><path d="M560.5,211.7 L560.5,209.7 L560.9,209.5 L561.8,209 L562.2,208.8 L583.2,218.2 L583.8,219.8 L584.4,221.4 L581.6,223 L560.5,213.6Z" fill="#fff" stroke="#000" stroke-width="1.6" stroke-linejoin="round" /><path d="M582.4,218.6 L561.4,209.2" stroke="#000" stroke-width="1.2800000000000002" fill="none"/><path d="M543,248 L544.4,246.8 L545.9,245.6 L566.9,255 L567.5,258.4 L565.9,258.9 L564.3,259.3 L543.3,249.9 L543.2,249.5 L543.1,249 L543,248.5Z" fill="#fff" stroke="#000" stroke-width="1.6" stroke-linejoin="round" /><path d="M564.1,258.3 L543.1,249" stroke="#000" stroke-width="1.2800000000000002" fill="none"/><path d="M555.6,213.3 L556,213 L556.4,212.6 L556.7,212.3 L557.1,212 L578.1,221.4 L579.1,222.7 L580,224 L577.3,226.3 L556.3,216.9 L555.9,215.1Z" fill="#fff" stroke="#000" stroke-width="1.6" stroke-linejoin="round" /><path d="M577.4,222 L556.4,212.6" stroke="#000" stroke-width="1.2800000000000002" fill="none"/><path d="M542.6,243.1 L542.7,242 L542.7,241.5 L544.2,240.7 L545.8,239.9 L566.8,249.3 L566.7,253 L565.2,253 L563.7,252.9 L542.6,243.6Z" fill="#fff" stroke="#000" stroke-width="1.6" stroke-linejoin="round" /><path d="M563.7,251.9 L542.6,242.5" stroke="#000" stroke-width="1.2800000000000002" fill="none"/><path d="M551.2,218.1 L551.5,217.7 L551.9,217.2 L552.2,216.8 L552.5,216.4 L573.5,225.8 L574.7,226.7 L575.9,227.7 L573.6,230.6 L552.6,221.2 L551.9,219.7Z" fill="#fff" stroke="#000" stroke-width="1.6" stroke-linejoin="round" /><path d="M572.9,226.6 L551.8,217.3" stroke="#000" stroke-width="1.2800000000000002" fill="none"/><path d="M543.1,236.9 L543.2,236.3 L543.4,235.3 L543.5,234.7 L545.1,234.4 L546.7,234.1 L567.7,243.4 L567,247.2 L565.6,246.8 L564.2,246.2Z" fill="#fff" stroke="#000" stroke-width="1.6" stroke-linejoin="round" /><path d="M564.3,245.2 L543.3,235.8" stroke="#000" stroke-width="1.2800000000000002" fill="none"/><path d="M547.5,223.8 L548,222.8 L548.6,221.9 L550,222.4 L551.4,223 L572.4,232.4 L570.5,235.7 L549.5,226.3 L548.5,225.1Z" fill="#fff" stroke="#000" stroke-width="1.6" stroke-linejoin="round" /><path d="M569.1,232.2 L548.1,222.8" stroke="#000" stroke-width="1.2800000000000002" fill="none"/><path d="M544.8,230.2 L545,229.7 L545.2,229.1 L545.4,228.6 L545.6,228.1 L547.1,228.2 L548.6,228.3 L569.6,237.7 L568.3,241.3 L547.3,232 L546,231.1Z" fill="#fff" stroke="#000" stroke-width="1.6" stroke-linejoin="round" /><path d="M566.2,238.5 L545.2,229.1" stroke="#000" stroke-width="1.2800000000000002" fill="none"/><path d="M594.3,220.2 L594.6,220.2 L595,220.3 L595.8,218.9 L597,216.8 L597.4,216.9 L597.8,217 L598.1,217.1 L598.5,217.3 L598,219.7 L597.7,221.3 L598.1,221.5 L598.4,221.7 L598.7,221.8 L599,222 L600.1,220.8 L601.5,218.9 L601.8,219.2 L602.2,219.4 L602.5,219.7 L602.8,220 L601.9,222.2 L601.4,223.8 L601.6,224.1 L601.9,224.4 L602.2,224.7 L602.4,224.9 L603.6,224 L605.2,222.5 L605.5,222.8 L605.8,223.2 L606.1,223.6 L606.3,224 L605.1,226 L604.3,227.5 L604.5,227.8 L604.7,228.2 L604.9,228.5 L605.1,228.9 L606.3,228.3 L608.1,227.2 L608.3,227.7 L608.5,228.1 L608.7,228.6 L608.9,229 L607.4,230.8 L606.3,232.1 L606.5,232.5 L606.6,232.9 L606.7,233.3 L606.8,233.7 L608.1,233.5 L610,232.9 L610.1,233.4 L610.2,233.9 L610.2,234.4 L610.3,235 L608.6,236.3 L607.4,237.3 L607.5,237.8 L607.5,238.3 L607.6,238.7 L607.6,239.2 L608.8,239.3 L610.6,239.3 L610.7,239.8 L610.7,240.4 L610.6,240.9 L610.6,241.5 L608.8,242.3 L607.5,243 L607.5,243.5 L607.4,244 L607.4,244.5 L607.3,245 L608.5,245.5 L610.1,246 L610.1,246.5 L610,247.1 L609.9,247.6 L609.7,248.2 L607.9,248.6 L606.6,248.9 L606.5,249.4 L606.3,249.9 L606.2,250.4 L606.1,250.9 L607,251.7 L608.5,252.7 L608.3,253.2 L608.1,253.8 L607.9,254.3 L607.7,254.8 L605.9,254.7 L604.7,254.7 L604.5,255.1 L604.3,255.6 L604.1,256 L603.8,256.5 L604.6,257.6 L605.8,259 L605.5,259.5 L605.2,260.1 L605,260.5 L604.7,261 L603.1,260.3 L601.9,260 L601.6,260.4 L601.3,260.8 L601.1,261.2 L600.8,261.6 L601.3,262.9 L602.1,264.8 L601.8,265.2 L601.5,265.6 L601.1,266.1 L600.7,266.5 L599.4,265.3 L598.4,264.6 L598,264.9 L597.7,265.3 L597.4,265.6 L597,265.9 L597.3,267.4 L597.7,269.6 L597.3,269.9 L596.9,270.3 L596.5,270.6 L596.1,270.9 L595.1,269.3 L594.3,268.3 L593.9,268.5 L593.5,268.8 L593.2,269 L592.8,269.2 L592.8,270.9 L592.8,273.2 L592.4,273.4 L591.9,273.7 L591.5,273.9 L591.1,274.1 L590.4,272.1 L589.8,270.8 L589.4,271 L589.1,271.1 L588.7,271.3 L588.3,271.4 L588,273.1 L587.6,275.4 L587.1,275.6 L586.7,275.7 L586.3,275.8 L585.8,275.9 L585.5,273.7 L585.2,272.2 L584.9,272.2 L584.5,272.3 L584.1,272.3 L583.7,272.3 L583.1,273.9 L582.3,276.2 L581.9,276.2 L581.5,276.2 L581.1,276.2 L580.6,276.1 L580.7,273.8 L580.7,272.2 L580.4,272.1 L580,272.1 L579.7,272 L579.3,271.9 L578.5,273.4 L577.3,275.5 L576.9,275.4 L576.6,275.3 L576.2,275.1 L575.8,274.9 L576.3,272.6 L576.6,270.9 L576.3,270.8 L575.9,270.6 L575.6,270.4 L575.3,270.2 L574.3,271.5 L572.8,273.3 L572.5,273.1 L572.2,272.8 L571.8,272.6 L571.5,272.3 L572.4,270 L572.9,268.4 L572.7,268.1 L572.4,267.9 L572.1,267.6 L571.9,267.3 L570.7,268.3 L569.1,269.8 L568.8,269.4 L568.5,269.1 L568.2,268.7 L568,268.3 L569.2,266.3 L570,264.8 L569.8,264.4 L569.6,264.1 L569.4,263.7 L569.2,263.3 L568,264 L566.2,265 L566,264.6 L565.8,264.1 L565.6,263.7 L565.5,263.2 L566.9,261.5 L568,260.2 L567.8,259.8 L567.7,259.4 L567.6,258.9 L567.5,258.5 L566.2,258.8 L564.4,259.3 L564.2,258.8 L564.1,258.3 L564.1,257.8 L564,257.3 L565.7,255.9 L566.9,254.9 L566.8,254.5 L566.8,254 L566.7,253.5 L566.7,253.1 L565.5,253 L563.7,253 L563.7,252.4 L563.7,251.9 L563.7,251.3 L563.7,250.8 L565.5,249.9 L566.8,249.2 L566.8,248.7 L566.9,248.2 L566.9,247.7 L567,247.3 L565.8,246.8 L564.2,246.3 L564.2,245.7 L564.3,245.2 L564.5,244.6 L564.6,244 L566.4,243.7 L567.7,243.3 L567.8,242.8 L568,242.4 L568.1,241.9 L568.2,241.4 L567.3,240.6 L565.8,239.6 L566,239 L566.2,238.5 L566.4,237.9 L566.6,237.4 L568.4,237.6 L569.6,237.6 L569.8,237.1 L570,236.7 L570.2,236.2 L570.5,235.8 L569.7,234.7 L568.5,233.2 L568.8,232.7 L569.1,232.2 L569.3,231.7 L569.7,231.2 L571.3,231.9 L572.4,232.3 L572.7,231.9 L573,231.5 L573.2,231.1 L573.5,230.7 L573,229.3 L572.2,227.5 L572.5,227 L572.9,226.6 L573.2,226.2 L573.6,225.8 L574.9,226.9 L576,227.7 L576.3,227.3 L576.6,227 L576.9,226.7 L577.3,226.3 L577,224.8 L576.6,222.7 L577,222.3 L577.4,222 L577.8,221.7 L578.2,221.4 L579.2,222.9 L580,224 L580.4,223.7 L580.8,223.5 L581.1,223.2 L581.5,223 L581.5,221.4 L581.5,219.1 L581.9,218.8 L582.4,218.6 L582.8,218.4 L583.2,218.2 L583.9,220.1 L584.5,221.4 L584.9,221.3 L585.3,221.1 L585.6,221 L586,220.8 L586.4,219.2 L586.7,216.8 L587.2,216.7 L587.6,216.6 L588,216.5 L588.5,216.4 L588.8,218.6 L589.1,220.1 L589.5,220 L589.8,220 L590.2,219.9 L590.6,219.9 L591.2,218.3 L592,216 L592.4,216 L592.8,216 L593.2,216.1 L593.7,216.1 L593.6,218.4 L593.6,220 L593.9,220.1Z" fill="#fff" stroke="#000" stroke-width="1.6" stroke-linejoin="round" /><path d="M587.4,222.4 L588.7,223 L590,223.7 L591.2,224.6 L592.4,225.7 L593.4,226.9 L594.3,228.2 L595.1,229.6 L595.8,231.2 L596.4,232.8 L596.8,234.6 L597.1,236.4 L597.3,238.2 L597.3,240.1 L597.2,242.1 L597,244 L596.6,246 L596.1,247.9 L595.5,249.8 L594.7,251.7 L593.9,253.5 L592.9,255.2 L591.8,256.9 L590.7,258.4 L589.4,259.8 L588.1,261.2 L586.7,262.4 L585.2,263.4 L583.8,264.3 L582.2,265 L580.7,265.6 L579.1,266 L577.6,266.3 L576,266.4 L574.5,266.3 L573.1,266 L571.6,265.6 L570.3,265 L569,264.3 L567.8,263.4 L566.6,262.3 L565.6,261.1 L564.7,259.8 L563.9,258.4 L563.2,256.8 L562.6,255.2 L562.2,253.4 L561.9,251.6 L561.7,249.8 L561.7,247.9 L561.8,245.9 L562,244 L562.4,242 L562.9,240.1 L563.5,238.2 L564.3,236.3 L565.1,234.5 L566.1,232.8 L567.2,231.1 L568.3,229.6 L569.6,228.2 L570.9,226.8 L572.3,225.6 L573.8,224.6 L575.2,223.7 L576.8,223 L578.3,222.4 L579.9,222 L581.4,221.7 L583,221.6 L584.5,221.7 L585.9,222Z" fill="#fff" stroke="#000" stroke-width="1.45" stroke-linejoin="round" /><path d="M586.2,225.7 L587.3,226.2 L588.4,226.8 L589.5,227.6 L590.4,228.5 L591.3,229.5 L592.1,230.6 L592.7,231.8 L593.3,233.1 L593.8,234.5 L594.2,236 L594.4,237.5 L594.6,239.1 L594.6,240.7 L594.5,242.4 L594.3,244 L594,245.7 L593.6,247.3 L593.1,248.9 L592.4,250.5 L591.7,252 L590.9,253.5 L590,254.9 L589,256.2 L587.9,257.4 L586.8,258.6 L585.6,259.6 L584.4,260.4 L583.1,261.2 L581.8,261.8 L580.5,262.3 L579.2,262.7 L577.9,262.9 L576.6,263 L575.3,262.9 L574,262.7 L572.8,262.3 L571.7,261.8 L570.6,261.2 L569.5,260.4 L568.6,259.5 L567.7,258.5 L566.9,257.4 L566.3,256.2 L565.7,254.9 L565.2,253.5 L564.8,252 L564.6,250.5 L564.4,248.9 L564.4,247.3 L564.5,245.6 L564.7,244 L565,242.3 L565.4,240.7 L565.9,239.1 L566.6,237.5 L567.3,236 L568.1,234.5 L569,233.1 L570,231.8 L571.1,230.6 L572.2,229.4 L573.4,228.4 L574.6,227.6 L575.9,226.8 L577.2,226.2 L578.5,225.7 L579.8,225.3 L581.1,225.1 L582.4,225 L583.7,225.1 L585,225.3Z" fill="#fff" stroke="#000" stroke-width="1.45" stroke-linejoin="round" /><path d="M584.3,230.8 L585.1,231.2 L585.9,231.7 L586.6,232.2 L587.3,232.8 L588,233.6 L588.5,234.4 L589,235.3 L589.4,236.2 L589.8,237.2 L590,238.3 L590.2,239.4 L590.3,240.5 L590.3,241.7 L590.3,242.8 L590.1,244 L589.9,245.2 L589.6,246.4 L589.2,247.5 L588.8,248.7 L588.3,249.8 L587.7,250.8 L587,251.8 L586.3,252.8 L585.5,253.6 L584.7,254.4 L583.9,255.2 L583,255.8 L582.1,256.4 L581.2,256.8 L580.2,257.2 L579.3,257.4 L578.3,257.6 L577.4,257.6 L576.5,257.6 L575.6,257.4 L574.7,257.2 L573.9,256.8 L573.1,256.3 L572.4,255.8 L571.7,255.2 L571,254.4 L570.5,253.6 L570,252.7 L569.6,251.8 L569.2,250.8 L569,249.7 L568.8,248.6 L568.7,247.5 L568.7,246.3 L568.7,245.2 L568.9,244 L569.1,242.8 L569.4,241.6 L569.8,240.5 L570.2,239.3 L570.7,238.2 L571.3,237.2 L572,236.2 L572.7,235.2 L573.5,234.4 L574.3,233.6 L575.1,232.8 L576,232.2 L576.9,231.6 L577.8,231.2 L578.8,230.8 L579.7,230.6 L580.7,230.4 L581.6,230.4 L582.5,230.4 L583.4,230.6Z" fill="#fff" stroke="#000" stroke-width="1.45" stroke-linejoin="round" /><clipPath id="c5"><path d="M584.3,230.8 L585.3,231.3 L586.2,231.9 L587.1,232.6 L587.8,233.4 L588.5,234.4 L589.1,235.4 L589.6,236.6 L589.9,237.8 L590.2,239.1 L590.3,240.5 L590.3,241.9 L590.2,243.3 L590,244.7 L589.7,246.1 L589.2,247.5 L588.7,248.9 L588,250.2 L587.3,251.4 L586.4,252.6 L585.5,253.6 L584.6,254.6 L583.5,255.4 L582.5,256.1 L581.3,256.7 L580.2,257.2 L579.1,257.5 L578,257.6 L576.8,257.6 L575.8,257.5 L574.7,257.2 L573.7,256.7 L572.8,256.1 L571.9,255.4 L571.2,254.6 L570.5,253.6 L569.9,252.6 L569.4,251.4 L569.1,250.2 L568.8,248.9 L568.7,247.5 L568.7,246.1 L568.8,244.7 L569,243.3 L569.3,241.9 L569.8,240.5 L570.3,239.1 L571,237.8 L571.7,236.6 L572.6,235.4 L573.5,234.4 L574.4,233.4 L575.5,232.6 L576.5,231.9 L577.7,231.3 L578.8,230.8 L579.9,230.5 L581,230.4 L582.2,230.4 L583.2,230.5Z"/></clipPath><g clip-path="url(#c5)"><path d="M585.7,231.5 L574.7,226.6 M587,232.5 L576,227.6 M588.4,234.1 L577.4,229.3 M589.2,235.7 L578.3,230.8 M590,237.9 L579,233.1 M590.3,239.9 L579.3,235 M590.3,242.5 L579.3,237.6 M590,244.6 L579.1,239.7 M589.4,247.2 L578.4,242.3 M588.5,249.2 L577.6,244.3 M587.2,251.5 L576.2,246.7 M585.9,253.2 L575,248.3 M584.1,255 L573.2,250.1 M582.6,256.1 L571.6,251.2 M580.5,257.1 L569.5,252.2 M578.8,257.5 L567.9,252.6 M576.7,257.6 L565.8,252.7 M575.2,257.3 L564.2,252.4" stroke="#000" stroke-width="1.16" fill="none"/><path d="M573.3,226 L574.3,226.4 L575.2,227 L576.1,227.7 L576.9,228.5 L577.6,229.5 L578.1,230.6 L578.6,231.7 L579,232.9 L579.2,234.3 L579.4,235.6 L579.4,237 L579.3,238.4 L579.1,239.8 L578.7,241.3 L578.3,242.7 L577.7,244 L577.1,245.3 L576.3,246.6 L575.5,247.7 L574.6,248.8 L573.6,249.7 L572.6,250.6 L571.5,251.3 L570.4,251.8 L569.3,252.3 L568.1,252.6 L567,252.7 L565.9,252.7 L564.8,252.6 L563.7,252.3 L562.8,251.8 L561.8,251.3 L561,250.5 L560.2,249.7 L559.5,248.7 L558.9,247.7 L558.5,246.5 L558.1,245.3 L557.8,244 L557.7,242.6 L557.7,241.2 L557.8,239.8 L558,238.4 L558.4,237 L558.8,235.6 L559.4,234.2 L560,232.9 L560.8,231.7 L561.6,230.5 L562.5,229.5 L563.5,228.5 L564.5,227.7 L565.6,227 L566.7,226.4 L567.8,226 L569,225.7 L570.1,225.5 L571.2,225.5 L572.3,225.7Z" stroke="#000" stroke-width="1.16" fill="none"/></g><path d="M648.5,333.5 L645.4,331.9 L642.5,329.9 L639.8,327.5 L637.3,324.8 L635,321.8 L633,318.5 L631.3,314.9 L629.9,311 L628.8,306.9 L628,302.7 L627.5,298.2 L627.3,293.7 L627.4,289.1 L627.9,284.4 L628.7,279.7 L629.8,275 L631.1,270.4 L632.8,265.8 L634.8,261.4 L637,257.1 L639.5,253.1 L642.2,249.2 L645.1,245.6 L648.1,242.3 L651.4,239.3 L654.8,236.6 L658.3,234.2 L661.8,232.3 L665.5,230.6 L669.1,229.4 L672.8,228.6 L676.5,228.2 L680,228.2 L683.6,228.6 L687,229.5 L690.2,230.7 L683.8,227.8 L680.6,226.6 L677.2,225.8 L673.7,225.4 L670.1,225.4 L666.4,225.8 L662.8,226.6 L659.1,227.8 L655.5,229.4 L651.9,231.4 L648.4,233.7 L645,236.4 L641.7,239.4 L638.7,242.8 L635.8,246.4 L633.1,250.2 L630.6,254.3 L628.4,258.5 L626.4,263 L624.7,267.5 L623.4,272.1 L622.3,276.8 L621.5,281.5 L621,286.2 L620.9,290.8 L621.1,295.4 L621.6,299.8 L622.4,304.1 L623.5,308.2 L624.9,312 L626.6,315.6 L628.6,318.9 L630.9,322 L633.4,324.7 L636.1,327 L639,329 L642.1,330.6Z" fill="#fff" stroke="#000" stroke-width="1.45" stroke-linejoin="round" /><path d="M642.8,330.8 L640.2,329.2 L637.8,327.3 L635.6,325.1 L633.5,322.7 L631.6,320 L629.9,317.2 L628.4,314.1 L627.1,310.8 L626.1,307.4 L625.2,303.8 L624.6,300.1 L624.2,296.3 L624.1,292.3 L624.2,288.4 L624.5,284.3 L625.1,280.3 L625.9,276.3 L626.9,272.3 L628.2,268.3 L629.6,264.4 L631.3,260.6 L633.1,256.9 L635.2,253.3 L637.4,249.9 L639.8,246.7 L642.3,243.7 L645,240.8 L647.8,238.2 L650.7,235.8 L653.6,233.7 L656.7,231.9 L659.8,230.3 L662.9,229 L666.1,228 L669.2,227.3 L672.4,226.9 L675.5,226.8 L678.5,226.9 L681.5,227.4 L684.4,228.2Z" fill="none" stroke="#000" stroke-width="1.1" stroke-linejoin="round" /><path d="M688.4,229.9 L691.6,231.3 L694.6,233.1 L697.4,235.2 L700,237.8 L702.4,240.6 L704.6,243.8 L706.5,247.2 L708,250.9 L709.3,254.9 L710.3,259 L711,263.4 L711.4,267.8 L711.4,272.4 L711.1,277.1 L710.6,281.8 L709.6,286.5 L708.4,291.2 L706.9,295.8 L705.1,300.2 L703.1,304.6 L700.7,308.8 L698.2,312.8 L695.4,316.5 L692.4,320 L689.2,323.2 L685.9,326.1 L682.5,328.6 L679,330.8 L675.4,332.6 L671.7,334.1 L668,335.1 L664.4,335.8 L660.8,336 L657.2,335.8 L653.7,335.2 L650.4,334.2 L647.2,332.8 L644.2,331.1 L641.3,328.9 L638.7,326.4 L636.3,323.6 L634.2,320.4 L632.3,317 L630.7,313.3 L629.4,309.3 L628.4,305.1 L627.7,300.8 L627.4,296.3 L627.3,291.7 L627.6,287.1 L628.2,282.4 L629.1,277.7 L630.3,273 L631.8,268.4 L633.6,263.9 L635.7,259.6 L638,255.4 L640.6,251.4 L643.4,247.7 L646.3,244.2 L649.5,241 L652.8,238.1 L656.2,235.5 L659.8,233.3 L663.4,231.5 L667,230.1 L670.7,229 L674.4,228.4 L678,228.2 L681.5,228.4 L685,228.9Z" fill="#fff" stroke="#000" stroke-width="1.45" stroke-linejoin="round" /><path d="M665.9,335.8 L663.1,334.3 L660.4,332.5 L658,330.3 L655.7,327.9 L653.7,325.1 L651.8,322.1 L650.3,318.8 L649,315.3 L648,311.6 L647.2,307.7 L646.8,303.7 L646.6,299.6 L646.7,295.3 L647.2,291.1 L647.9,286.8 L648.9,282.5 L650.1,278.3 L651.6,274.2 L653.4,270.2 L655.4,266.3 L657.7,262.6 L660.1,259.1 L662.8,255.8 L665.6,252.8 L668.5,250 L671.6,247.6 L674.8,245.5 L678.1,243.7 L681.4,242.2 L684.7,241.1 L688,240.4 L691.4,240 L694.6,240 L697.8,240.4 L700.9,241.1 L703.9,242.2 L687.4,234.9 L684.5,233.8 L681.4,233 L678.2,232.7 L674.9,232.7 L671.6,233 L668.3,233.8 L664.9,234.9 L661.6,236.3 L658.4,238.1 L655.2,240.3 L652.1,242.7 L649.1,245.5 L646.3,248.5 L643.7,251.8 L641.2,255.3 L639,259 L637,262.9 L635.2,266.9 L633.7,271 L632.4,275.2 L631.4,279.5 L630.7,283.8 L630.3,288 L630.2,292.2 L630.3,296.4 L630.8,300.4 L631.5,304.3 L632.5,308 L633.8,311.5 L635.4,314.8 L637.2,317.8 L639.3,320.6 L641.5,323 L644,325.2 L646.7,327 L649.5,328.4Z" fill="#fff" stroke="#000" stroke-width="1.6" stroke-linejoin="round" /><path d="M689.6,236 L692.6,232.8 L693.7,232.1 L710.1,239.4 L710.7,239.8 L711.2,240.2 L711.2,241.7 L710.1,246.1 L693.7,238.8Z" fill="#fff" stroke="#000" stroke-width="1.6" stroke-linejoin="round" /><path d="M710.7,239.8 L694.2,232.5" stroke="#000" stroke-width="1.2800000000000002" fill="none"/><path d="M648.5,332.7 L649,328.2 L653.5,329.9 L669.9,337.2 L667.4,340.9 L666.4,341.8 L665.8,341.6 L665.1,341.4 L648.7,334.1Z" fill="#fff" stroke="#000" stroke-width="1.6" stroke-linejoin="round" /><path d="M665.7,341.6 L649.3,334.3" stroke="#000" stroke-width="1.2800000000000002" fill="none"/><path d="M683.4,233.5 L685.9,229.8 L687,228.8 L688.2,229.3 L704.7,236.6 L704.9,238 L704.4,242.5 L699.9,240.8Z" fill="#fff" stroke="#000" stroke-width="1.6" stroke-linejoin="round" /><path d="M704.1,236.4 L687.6,229.1" stroke="#000" stroke-width="1.2800000000000002" fill="none"/><path d="M642.1,330.5 L642.2,329 L643.2,324.6 L659.7,331.9 L663.7,334.7 L660.8,337.8 L659.7,338.6 L643.2,331.2 L642.7,330.9Z" fill="#fff" stroke="#000" stroke-width="1.6" stroke-linejoin="round" /><path d="M659.1,338.2 L642.7,330.9" stroke="#000" stroke-width="1.2800000000000002" fill="none"/><path d="M676.7,232.6 L678.7,228.5 L679.6,227.4 L680.3,227.4 L681,227.5 L697.4,234.8 L697.8,236.1 L698,240.4 L693.1,239.9Z" fill="#fff" stroke="#000" stroke-width="1.6" stroke-linejoin="round" /><path d="M696.8,234.7 L680.3,227.4" stroke="#000" stroke-width="1.2800000000000002" fill="none"/><path d="M636.4,325.2 L636.7,323.7 L638.4,319.4 L654.8,326.8 L658.2,330.6 L655,333.1 L653.8,333.6 L637.4,326.3 L636.9,325.8Z" fill="#fff" stroke="#000" stroke-width="1.6" stroke-linejoin="round" /><path d="M653.4,333.1 L636.9,325.8" stroke="#000" stroke-width="1.2800000000000002" fill="none"/><path d="M669.7,233.4 L671.2,229.1 L671.9,227.7 L672.6,227.6 L673.3,227.5 L689.8,234.8 L690.4,236 L691.2,240 L686.1,240.7Z" fill="#fff" stroke="#000" stroke-width="1.6" stroke-linejoin="round" /><path d="M689.1,234.9 L672.6,227.6" stroke="#000" stroke-width="1.2800000000000002" fill="none"/><path d="M631.9,318.5 L632.3,317 L634.5,313 L651,320.4 L653.6,325.1 L650.2,326.9 L649,327.1 L632.6,319.8 L632.2,319.2Z" fill="#fff" stroke="#000" stroke-width="1.6" stroke-linejoin="round" /><path d="M648.7,326.5 L632.2,319.2" stroke="#000" stroke-width="1.2800000000000002" fill="none"/><path d="M662.6,235.8 L663.5,231.4 L664.1,229.9 L664.8,229.7 L665.5,229.4 L681.9,236.7 L682.7,237.7 L684.1,241.2 L679.1,243.2Z" fill="#fff" stroke="#000" stroke-width="1.6" stroke-linejoin="round" /><path d="M681.2,237 L664.8,229.7" stroke="#000" stroke-width="1.2800000000000002" fill="none"/><path d="M628.5,310.5 L629.2,309.1 L631.9,305.6 L648.3,312.9 L650.1,318.4 L646.6,319.4 L645.5,319.4 L629,312 L628.8,311.3Z" fill="#fff" stroke="#000" stroke-width="1.6" stroke-linejoin="round" /><path d="M645.2,318.6 L628.8,311.3" stroke="#000" stroke-width="1.2800000000000002" fill="none"/><path d="M655.8,239.8 L656,235.4 L656.4,233.9 L657.1,233.5 L657.8,233.1 L674.2,240.4 L675.1,241.1 L677.1,244.1 L672.2,247.2Z" fill="#fff" stroke="#000" stroke-width="1.6" stroke-linejoin="round" /><path d="M673.5,240.8 L657.1,233.5" stroke="#000" stroke-width="1.2800000000000002" fill="none"/><path d="M626.6,301.6 L627.4,300.3 L630.4,297.3 L646.9,304.6 L647.8,310.6 L644.3,310.9 L643.2,310.5 L626.8,303.2 L626.7,302.4Z" fill="#fff" stroke="#000" stroke-width="1.6" stroke-linejoin="round" /><path d="M643.1,309.7 L626.7,302.4" stroke="#000" stroke-width="1.2800000000000002" fill="none"/><path d="M649,241 L649.1,239.5 L649.8,239 L650.4,238.4 L651.4,238.8 L667.9,246.2 L670.4,248.5 L665.8,252.6 L649.4,245.3Z" fill="#fff" stroke="#000" stroke-width="1.6" stroke-linejoin="round" /><path d="M666.2,246.3 L649.8,239" stroke="#000" stroke-width="1.2800000000000002" fill="none"/><path d="M626,292.8 L626,291.9 L627,290.8 L630.3,288.5 L646.7,295.8 L646.7,302.2 L643.4,301.6 L627,294.3 L626,293.7Z" fill="#fff" stroke="#000" stroke-width="1.6" stroke-linejoin="round" /><path d="M642.4,300.1 L626,292.8" stroke="#000" stroke-width="1.2800000000000002" fill="none"/><path d="M642.5,246.6 L643.6,245.2 L644.8,245.4 L661.2,252.7 L664.1,254.3 L660,259.2 L643.6,251.9 L642.5,248Z" fill="#fff" stroke="#000" stroke-width="1.6" stroke-linejoin="round" /><path d="M659.5,253.2 L643.1,245.9" stroke="#000" stroke-width="1.2800000000000002" fill="none"/><path d="M626.6,283.7 L626.8,282.8 L626.9,281.9 L628,281 L631.4,279.4 L647.9,286.8 L646.9,293.3 L630.5,286 L627.5,284.6Z" fill="#fff" stroke="#000" stroke-width="1.6" stroke-linejoin="round" /><path d="M643.2,290.1 L626.8,282.8" stroke="#000" stroke-width="1.2800000000000002" fill="none"/><path d="M636.8,254.8 L637.3,254 L637.7,253.2 L638.9,253.1 L642.1,254 L658.5,261.3 L655.1,266.9 L638.7,259.6 L637,256.2Z" fill="#fff" stroke="#000" stroke-width="1.6" stroke-linejoin="round" /><path d="M653.7,261.3 L637.3,254" stroke="#000" stroke-width="1.2800000000000002" fill="none"/><path d="M628.7,273.7 L629,272.8 L629.2,271.9 L630.4,271.3 L633.9,270.5 L650.3,277.8 L648.4,284.2 L632,276.9 L629.4,274.8Z" fill="#fff" stroke="#000" stroke-width="1.6" stroke-linejoin="round" /><path d="M645.4,280.1 L629,272.8" stroke="#000" stroke-width="1.2800000000000002" fill="none"/><path d="M632.1,263.9 L632.5,263.1 L632.9,262.2 L634,261.9 L637.5,261.9 L653.9,269.2 L651.2,275.3 L634.8,268 L632.6,265.2Z" fill="#fff" stroke="#000" stroke-width="1.6" stroke-linejoin="round" /><path d="M648.9,270.4 L632.5,263.1" stroke="#000" stroke-width="1.2800000000000002" fill="none"/><path d="M698.9,240.6 L699.5,240.7 L700.1,240.7 L701.2,239 L702.6,236.8 L703.5,236.2 L704.1,236.4 L704.6,236.6 L704.9,237.7 L704.5,240.2 L704.3,242.3 L704.7,242.6 L705.3,242.9 L705.7,243.2 L706.3,243.3 L707.6,241.8 L709.2,239.9 L710.2,239.5 L710.7,239.8 L711.2,240.2 L711.3,241.3 L710.6,243.8 L710.1,245.9 L710.4,246.4 L710.9,246.8 L711.3,247.1 L711.8,247.4 L713.3,246.2 L715.1,244.7 L716,244.4 L716.4,244.9 L716.9,245.4 L716.8,246.6 L715.7,249 L715,251 L715.2,251.6 L715.6,252.1 L715.9,252.6 L716.4,253 L717.9,252.1 L719.9,250.9 L720.8,250.9 L721.1,251.5 L721.5,252.1 L721.2,253.3 L719.9,255.5 L718.8,257.4 L719,258 L719.3,258.6 L719.5,259.2 L719.9,259.7 L721.5,259.2 L723.5,258.5 L724.3,258.7 L724.6,259.4 L724.8,260.1 L724.4,261.3 L722.8,263.2 L721.6,264.8 L721.6,265.6 L721.8,266.2 L721.9,266.9 L722.2,267.5 L723.8,267.4 L725.8,267.1 L726.6,267.5 L726.7,268.3 L726.8,269.1 L726.2,270.2 L724.4,271.7 L723,273.1 L723,273.9 L723,274.6 L723.1,275.3 L723.2,276 L724.8,276.3 L726.7,276.5 L727.4,277.1 L727.4,277.9 L727.3,278.7 L726.6,279.7 L724.7,280.9 L723.2,281.9 L723.1,282.7 L723,283.5 L722.9,284.2 L723,284.9 L724.4,285.6 L726.1,286.2 L726.7,287 L726.6,287.9 L726.5,288.7 L725.7,289.5 L723.7,290.3 L722.1,291 L721.8,291.8 L721.7,292.5 L721.5,293.3 L721.4,294 L722.6,295 L724.2,296.1 L724.6,297 L724.4,297.9 L724.1,298.7 L723.3,299.4 L721.3,299.7 L719.7,300 L719.3,300.7 L719.1,301.4 L718.8,302.2 L718.6,302.9 L719.6,304.2 L720.9,305.7 L721.2,306.8 L720.9,307.6 L720.5,308.4 L719.6,308.8 L717.7,308.7 L716.1,308.6 L715.7,309.3 L715.3,309.9 L715,310.6 L714.7,311.4 L715.4,312.9 L716.5,314.8 L716.5,315.9 L716.1,316.7 L715.7,317.4 L714.7,317.6 L712.9,317 L711.5,316.6 L711,317.1 L710.5,317.7 L710.1,318.3 L709.7,319 L710.2,320.8 L710.9,323 L710.8,324.2 L710.3,324.8 L709.8,325.4 L708.8,325.4 L707.2,324.4 L705.9,323.6 L705.4,324 L704.9,324.6 L704.4,325.1 L703.9,325.7 L704.1,327.6 L704.4,330 L704.2,331.2 L703.6,331.7 L703,332.2 L702.1,332 L700.8,330.6 L699.7,329.4 L699.1,329.7 L698.5,330.2 L698,330.6 L697.4,331.1 L697.3,333.1 L697.3,335.6 L696.9,336.8 L696.3,337.2 L695.6,337.6 L694.8,337.1 L693.8,335.3 L692.9,333.9 L692.3,334.1 L691.7,334.4 L691.1,334.6 L690.6,335.1 L690.2,337.1 L689.8,339.7 L689.2,340.7 L688.6,341 L687.9,341.2 L687.2,340.6 L686.5,338.5 L685.9,336.8 L685.3,336.9 L684.7,337 L684.1,337.2 L683.5,337.5 L682.8,339.5 L682.1,342 L681.4,342.9 L680.7,343.1 L680.1,343.1 L679.5,342.3 L679.1,340 L678.8,338.1 L678.2,338 L677.6,338 L677.1,338.1 L676.5,338.2 L675.5,340.1 L674.5,342.5 L673.7,343.3 L673,343.3 L672.4,343.2 L672,342.2 L672,339.8 L671.9,337.8 L671.4,337.5 L670.9,337.4 L670.3,337.3 L669.7,337.3 L668.6,339 L667.2,341.2 L666.3,341.8 L665.7,341.6 L665.2,341.4 L664.9,340.3 L665.3,337.8 L665.5,335.7 L665.1,335.4 L664.5,335.1 L664.1,334.8 L663.5,334.7 L662.2,336.2 L660.6,338.1 L659.6,338.5 L659.1,338.2 L658.6,337.8 L658.5,336.7 L659.2,334.2 L659.7,332.1 L659.4,331.6 L658.9,331.2 L658.5,330.9 L658,330.6 L656.5,331.8 L654.7,333.3 L653.8,333.6 L653.4,333.1 L652.9,332.6 L653,331.4 L654.1,329 L654.8,327 L654.6,326.4 L654.2,325.9 L653.9,325.4 L653.4,325 L651.9,325.9 L649.9,327.1 L649,327.1 L648.7,326.5 L648.3,325.9 L648.6,324.7 L649.9,322.5 L651,320.6 L650.8,320 L650.5,319.4 L650.3,318.8 L649.9,318.3 L648.3,318.8 L646.3,319.5 L645.5,319.3 L645.2,318.6 L645,317.9 L645.4,316.7 L647,314.8 L648.2,313.2 L648.2,312.4 L648,311.8 L647.9,311.1 L647.6,310.5 L646,310.6 L644,310.9 L643.2,310.5 L643.1,309.7 L643,308.9 L643.6,307.8 L645.4,306.3 L646.8,304.9 L646.8,304.1 L646.8,303.4 L646.7,302.7 L646.6,302 L645,301.7 L643.1,301.5 L642.4,300.9 L642.4,300.1 L642.5,299.3 L643.2,298.3 L645.1,297.1 L646.6,296.1 L646.7,295.3 L646.8,294.5 L646.9,293.8 L646.8,293.1 L645.4,292.4 L643.7,291.8 L643.1,291 L643.2,290.1 L643.3,289.3 L644.1,288.5 L646.1,287.7 L647.7,287 L648,286.2 L648.1,285.5 L648.3,284.7 L648.4,284 L647.2,283 L645.6,281.9 L645.2,281 L645.4,280.1 L645.7,279.3 L646.5,278.6 L648.5,278.3 L650.1,278 L650.5,277.3 L650.7,276.6 L651,275.8 L651.2,275.1 L650.2,273.8 L648.9,272.3 L648.6,271.2 L648.9,270.4 L649.3,269.6 L650.2,269.2 L652.1,269.3 L653.7,269.4 L654.1,268.7 L654.5,268.1 L654.8,267.4 L655.1,266.6 L654.4,265.1 L653.3,263.2 L653.3,262.1 L653.7,261.3 L654.1,260.6 L655.1,260.4 L656.9,261 L658.3,261.4 L658.8,260.9 L659.3,260.3 L659.7,259.7 L660.1,259 L659.6,257.2 L658.9,255 L659,253.8 L659.5,253.2 L660,252.6 L661,252.6 L662.6,253.6 L663.9,254.4 L664.4,254 L664.9,253.4 L665.4,252.9 L665.9,252.3 L665.7,250.4 L665.4,248 L665.6,246.8 L666.2,246.3 L666.8,245.8 L667.7,246 L669,247.4 L670.1,248.6 L670.7,248.3 L671.3,247.8 L671.8,247.4 L672.4,246.9 L672.5,244.9 L672.5,242.4 L672.9,241.2 L673.5,240.8 L674.2,240.4 L675,240.9 L676,242.7 L676.9,244.1 L677.5,243.9 L678.1,243.6 L678.7,243.4 L679.2,242.9 L679.6,240.9 L680,238.3 L680.6,237.3 L681.2,237 L681.9,236.8 L682.6,237.4 L683.3,239.5 L683.9,241.2 L684.5,241.1 L685.1,241 L685.7,240.8 L686.3,240.5 L687,238.5 L687.7,236 L688.4,235.1 L689.1,234.9 L689.7,234.9 L690.3,235.7 L690.7,238 L691,239.9 L691.6,240 L692.2,240 L692.7,239.9 L693.3,239.8 L694.3,237.9 L695.3,235.5 L696.1,234.7 L696.8,234.7 L697.4,234.8 L697.8,235.8 L697.8,238.2 L697.9,240.2 L698.4,240.5Z" fill="#fff" stroke="#000" stroke-width="1.6" stroke-linejoin="round" /><path d="M670.9,328.5 L668.5,327.3 L666.3,325.8 L664.2,324 L662.2,322 L660.4,319.8 L658.9,317.3 L657.5,314.7 L656.3,311.9 L655.4,308.9 L654.7,305.8 L654.3,302.7 L654.1,299.4 L654.1,296.1 L654.4,292.7 L654.9,289.3 L655.6,286 L656.6,282.7 L657.8,279.5 L659.2,276.3 L660.9,273.3 L662.7,270.4 L664.7,267.7 L666.8,265.2 L669.1,262.9 L671.6,260.8 L674.1,258.9 L676.7,257.3 L679.4,256 L682.2,254.9 L685,254.1 L687.7,253.6 L690.5,253.4 L693.3,253.5 L695.9,253.9 L698.6,254.6 L701.1,255.5 L701,255.5 L698.5,254.5 L695.9,253.8 L693.2,253.5 L690.4,253.4 L687.7,253.6 L684.9,254.1 L682.1,254.9 L679.3,255.9 L676.6,257.3 L674,258.9 L671.5,260.8 L669,262.9 L666.7,265.2 L664.6,267.7 L662.6,270.4 L660.8,273.3 L659.2,276.3 L657.7,279.4 L656.5,282.6 L655.5,285.9 L654.8,289.3 L654.3,292.7 L654,296 L654,299.3 L654.2,302.6 L654.6,305.8 L655.3,308.9 L656.3,311.8 L657.4,314.7 L658.8,317.3 L660.3,319.7 L662.1,322 L664.1,324 L666.2,325.7 L668.4,327.2 L670.8,328.4Z" fill="#fff" stroke="#000" stroke-width="1.6" stroke-linejoin="round" /><path d="M675.9,330.1 L679.4,330.5 L679.5,330.5 L677.9,333.9 L677.5,333.8 L676.5,333.7 L676.1,333.6 L676,333.6Z" fill="#fff" stroke="#000" stroke-width="1.6" stroke-linejoin="round" /><path d="M677,333.8 L676.9,333.7" stroke="#000" stroke-width="1.2800000000000002" fill="none"/><path d="M702.8,256.4 L705,253.7 L705.1,253.7 L705.6,253.9 L706,254.2 L706.4,254.5 L706.7,254.8 L705.8,258.3 L705.7,258.2Z" fill="#fff" stroke="#000" stroke-width="1.6" stroke-linejoin="round" /><path d="M706,254.2 L705.9,254.2" stroke="#000" stroke-width="1.2800000000000002" fill="none"/><path d="M670.3,332 L670.8,328.4 L674,329.6 L674.1,329.6 L672.2,332.7 L671.7,332.6 L671.3,332.4 L670.9,332.2 L670.8,332.2Z" fill="#fff" stroke="#000" stroke-width="1.6" stroke-linejoin="round" /><path d="M671.3,332.4 L671.2,332.4" stroke="#000" stroke-width="1.2800000000000002" fill="none"/><path d="M697.8,254.3 L699.7,251.3 L700.2,251.4 L700.6,251.6 L701,251.7 L701.1,251.8 L701.6,252 L701.1,255.5 L697.9,254.3Z" fill="#fff" stroke="#000" stroke-width="1.6" stroke-linejoin="round" /><path d="M700.7,251.6 L700.6,251.6" stroke="#000" stroke-width="1.2800000000000002" fill="none"/><path d="M665.2,329.2 L666.1,325.7 L666.2,325.7 L669.2,327.6 L666.9,330.3 L666.8,330.2 L666.4,330 L666,329.8 L665.6,329.5Z" fill="#fff" stroke="#000" stroke-width="1.6" stroke-linejoin="round" /><path d="M666,329.8 L666,329.8" stroke="#000" stroke-width="1.2800000000000002" fill="none"/><path d="M692.5,253.4 L694,250.1 L694.5,250.1 L694.9,250.2 L695.4,250.2 L695.9,250.3 L695.9,250.4 L696,253.9 L692.5,253.5Z" fill="#fff" stroke="#000" stroke-width="1.6" stroke-linejoin="round" /><path d="M695,250.2 L694.9,250.2" stroke="#000" stroke-width="1.2800000000000002" fill="none"/><path d="M660.6,325.3 L662.1,321.9 L662.2,322 L664.7,324.5 L662.1,326.7 L662,326.6 L661.6,326.4 L661.3,326 L661,325.7Z" fill="#fff" stroke="#000" stroke-width="1.6" stroke-linejoin="round" /><path d="M661.4,326 L661.3,326" stroke="#000" stroke-width="1.2800000000000002" fill="none"/><path d="M686.9,253.7 L688,250.2 L688.5,250.1 L689.4,250 L689.9,250 L690,250.1 L690.6,253.4 L687,253.7Z" fill="#fff" stroke="#000" stroke-width="1.6" stroke-linejoin="round" /><path d="M689,250.1 L688.9,250.1" stroke="#000" stroke-width="1.2800000000000002" fill="none"/><path d="M656.9,320.3 L658.8,317.2 L658.8,317.3 L660.9,320.4 L658.1,322.1 L658,322 L657.7,321.6 L657.4,321.2 L657.1,320.8Z" fill="#fff" stroke="#000" stroke-width="1.6" stroke-linejoin="round" /><path d="M657.5,321.3 L657.4,321.2" stroke="#000" stroke-width="1.2800000000000002" fill="none"/><path d="M681.4,255.1 L681.9,251.6 L682.4,251.4 L682.9,251.2 L683.4,251.1 L683.9,251 L684,251 L685,254.1 L681.5,255.2Z" fill="#fff" stroke="#000" stroke-width="1.6" stroke-linejoin="round" /><path d="M683,251.3 L682.9,251.2" stroke="#000" stroke-width="1.2800000000000002" fill="none"/><path d="M654,314.5 L656.2,311.8 L656.3,311.8 L657.8,315.4 L654.9,316.5 L654.8,316.5 L654.6,316 L654.4,315.5 L654.2,315.1Z" fill="#fff" stroke="#000" stroke-width="1.6" stroke-linejoin="round" /><path d="M654.5,315.6 L654.4,315.5" stroke="#000" stroke-width="1.2800000000000002" fill="none"/><path d="M675.9,257.7 L676,254.2 L676.5,253.9 L676.9,253.6 L677.4,253.4 L677.9,253.2 L678,253.2 L679.5,256 L676,257.7Z" fill="#fff" stroke="#000" stroke-width="1.6" stroke-linejoin="round" /><path d="M677,253.7 L676.9,253.6" stroke="#000" stroke-width="1.2800000000000002" fill="none"/><path d="M652.1,308.1 L654.6,305.8 L654.7,305.8 L655.6,309.7 L652.7,310.2 L652.6,310.2 L652.4,309.7 L652.3,309.1 L652.2,308.6Z" fill="#fff" stroke="#000" stroke-width="1.6" stroke-linejoin="round" /><path d="M652.4,309.2 L652.3,309.1" stroke="#000" stroke-width="1.2800000000000002" fill="none"/><path d="M670.4,257.9 L670.8,257.5 L671.7,256.9 L672.1,256.6 L672.2,256.6 L674.1,258.9 L670.9,261.3 L670.8,261.3Z" fill="#fff" stroke="#000" stroke-width="1.6" stroke-linejoin="round" /><path d="M671.3,257.2 L671.2,257.2" stroke="#000" stroke-width="1.2800000000000002" fill="none"/><path d="M651.2,301.1 L654,299.3 L654.1,299.3 L654.4,303.5 L651.5,303.4 L651.4,303.4 L651.3,302.8 L651.3,302.2 L651.2,301.7Z" fill="#fff" stroke="#000" stroke-width="1.6" stroke-linejoin="round" /><path d="M651.4,302.3 L651.3,302.2" stroke="#000" stroke-width="1.2800000000000002" fill="none"/><path d="M665.2,262.7 L665.6,262.2 L666,261.8 L666.4,261.4 L666.8,261 L666.9,261.1 L669.2,262.9 L666.2,265.9 L666.2,265.8Z" fill="#fff" stroke="#000" stroke-width="1.6" stroke-linejoin="round" /><path d="M666.1,261.9 L666,261.8" stroke="#000" stroke-width="1.2800000000000002" fill="none"/><path d="M651.2,295.6 L651.3,295 L651.3,294.4 L651.4,293.8 L654.3,292.6 L654.4,292.6 L654.1,296.9 L651.3,296.2 L651.2,296.2Z" fill="#fff" stroke="#000" stroke-width="1.6" stroke-linejoin="round" /><path d="M651.4,295 L651.3,295" stroke="#000" stroke-width="1.2800000000000002" fill="none"/><path d="M660.7,268.3 L661,267.8 L661.3,267.4 L661.7,266.9 L662,266.4 L662.1,266.5 L664.7,267.7 L662.2,271.2 L662.1,271.1Z" fill="#fff" stroke="#000" stroke-width="1.6" stroke-linejoin="round" /><path d="M661.4,267.4 L661.3,267.4" stroke="#000" stroke-width="1.2800000000000002" fill="none"/><path d="M652.1,288.9 L652.2,288.3 L652.5,287.1 L652.6,286.5 L655.6,285.9 L655.6,285.9 L654.7,290.2 L654.6,290.2Z" fill="#fff" stroke="#000" stroke-width="1.6" stroke-linejoin="round" /><path d="M652.4,287.7 L652.3,287.7" stroke="#000" stroke-width="1.2800000000000002" fill="none"/><path d="M656.9,274.7 L657.1,274.2 L657.4,273.6 L657.7,273.1 L658,272.6 L660.8,273.2 L660.9,273.3 L658.9,277.1 L658.8,277.1Z" fill="#fff" stroke="#000" stroke-width="1.6" stroke-linejoin="round" /><path d="M657.5,273.7 L657.4,273.6" stroke="#000" stroke-width="1.2800000000000002" fill="none"/><path d="M654,281.6 L654.2,281.1 L654.4,280.5 L654.6,279.9 L654.8,279.4 L657.8,279.4 L657.9,279.4 L656.3,283.6 L656.2,283.5Z" fill="#fff" stroke="#000" stroke-width="1.6" stroke-linejoin="round" /><path d="M654.5,280.5 L654.4,280.5" stroke="#000" stroke-width="1.2800000000000002" fill="none"/><path d="M696.9,254.1 L697.4,254.2 L697.8,254.3 L698.6,253.2 L699.8,251.4 L700.2,251.4 L700.7,251.6 L701.2,251.8 L701.6,252 L701.2,254.2 L701.2,255.6 L701.6,255.7 L702,255.9 L702.4,256.1 L702.8,256.4 L703.7,255.4 L705.1,253.8 L705.5,253.9 L706,254.2 L706.4,254.5 L706.7,254.8 L706.1,256.9 L705.8,258.3 L706.2,258.6 L706.5,258.9 L706.9,259.2 L707.2,259.5 L708.3,258.7 L709.8,257.3 L710.2,257.6 L710.6,258 L711,258.3 L711.2,258.8 L710.3,260.8 L709.9,262.1 L710.2,262.4 L710.5,262.8 L710.8,263.2 L711.1,263.6 L712.2,263 L713.8,261.9 L714.2,262.3 L714.5,262.7 L714.8,263.2 L715,263.7 L713.8,265.5 L713.2,266.8 L713.4,267.2 L713.7,267.6 L713.9,268.1 L714.1,268.5 L715.3,268.2 L717,267.5 L717.3,267.9 L717.5,268.4 L717.7,268.9 L717.9,269.5 L716.5,271.1 L715.7,272.2 L715.9,272.7 L716,273.2 L716.2,273.7 L716.3,274.2 L717.5,274.1 L719.2,273.7 L719.5,274.3 L719.6,274.8 L719.7,275.4 L719.8,276 L718.2,277.3 L717.3,278.3 L717.4,278.8 L717.5,279.3 L717.5,279.9 L717.6,280.4 L718.7,280.6 L720.5,280.6 L720.6,281.1 L720.6,281.7 L720.7,282.3 L720.6,282.9 L719,284 L717.9,284.8 L717.9,285.3 L717.9,285.9 L717.9,286.4 L717.9,287 L719,287.4 L720.6,287.8 L720.7,288.4 L720.6,289 L720.6,289.6 L720.5,290.2 L718.7,290.9 L717.6,291.4 L717.5,292 L717.5,292.6 L717.4,293.1 L717.3,293.7 L718.2,294.3 L719.8,295.1 L719.7,295.7 L719.6,296.3 L719.5,296.9 L719.2,297.5 L717.5,297.8 L716.3,298.2 L716.2,298.7 L716,299.3 L715.9,299.8 L715.7,300.4 L716.5,301.2 L717.9,302.3 L717.7,302.9 L717.5,303.5 L717.3,304.1 L717,304.6 L715.3,304.5 L714.1,304.7 L713.9,305.2 L713.7,305.7 L713.4,306.3 L713.2,306.8 L713.8,307.8 L715,309.2 L714.8,309.8 L714.5,310.3 L714.2,310.9 L713.8,311.4 L712.2,310.9 L711.1,310.8 L710.8,311.3 L710.5,311.8 L710.2,312.3 L709.9,312.7 L710.3,313.9 L711.2,315.5 L710.9,316.1 L710.6,316.6 L710.2,317.1 L709.8,317.5 L708.3,316.7 L707.2,316.4 L706.9,316.8 L706.5,317.2 L706.2,317.7 L705.8,318.1 L706.1,319.4 L706.7,321.2 L706.4,321.7 L705.9,322.1 L705.5,322.6 L705.1,322.9 L703.7,321.8 L702.8,321.2 L702.4,321.6 L702,321.9 L701.6,322.3 L701.2,322.6 L701.2,324 L701.6,326 L701.1,326.4 L700.7,326.8 L700.2,327.1 L699.7,327.4 L698.6,325.9 L697.8,325.1 L697.4,325.4 L696.9,325.7 L696.5,326 L696,326.2 L695.9,327.6 L695.9,329.7 L695.5,330.1 L695,330.3 L694.5,330.6 L694,330.7 L693.1,329 L692.5,328.1 L692,328.3 L691.5,328.4 L691.1,328.6 L690.6,328.8 L690.3,330.2 L690,332.3 L689.5,332.6 L689,332.7 L688.5,332.9 L688,332.9 L687.4,331 L686.9,329.9 L686.5,330 L686,330.1 L685.5,330.2 L685.1,330.3 L684.6,331.6 L684,333.7 L683.5,333.8 L683,333.9 L682.5,333.9 L682,333.9 L681.7,331.8 L681.4,330.6 L680.9,330.6 L680.4,330.6 L680,330.6 L679.5,330.5 L678.9,331.8 L678,333.8 L677.5,333.8 L677,333.8 L676.5,333.7 L676,333.6 L676.1,331.4 L675.9,330.1 L675.5,330 L675.1,329.9 L674.6,329.8 L674.2,329.7 L673.4,330.8 L672.2,332.6 L671.8,332.6 L671.3,332.4 L670.8,332.2 L670.4,332 L670.8,329.8 L670.8,328.4 L670.4,328.3 L670,328.1 L669.6,327.9 L669.2,327.6 L668.3,328.6 L666.9,330.2 L666.5,330.1 L666,329.8 L665.6,329.5 L665.3,329.2 L665.9,327.1 L666.2,325.7 L665.8,325.4 L665.5,325.1 L665.1,324.8 L664.8,324.5 L663.7,325.3 L662.2,326.7 L661.8,326.4 L661.4,326 L661,325.7 L660.8,325.2 L661.7,323.2 L662.1,321.9 L661.8,321.6 L661.5,321.2 L661.2,320.8 L660.9,320.4 L659.8,321 L658.2,322.1 L657.8,321.7 L657.5,321.3 L657.2,320.8 L657,320.3 L658.2,318.5 L658.8,317.2 L658.6,316.8 L658.3,316.4 L658.1,315.9 L657.9,315.5 L656.7,315.8 L655,316.5 L654.7,316.1 L654.5,315.6 L654.3,315.1 L654.1,314.5 L655.5,312.9 L656.3,311.8 L656.1,311.3 L656,310.8 L655.8,310.3 L655.7,309.8 L654.5,309.9 L652.8,310.3 L652.5,309.7 L652.4,309.2 L652.3,308.6 L652.2,308 L653.8,306.7 L654.7,305.7 L654.6,305.2 L654.5,304.7 L654.5,304.1 L654.4,303.6 L653.3,303.4 L651.5,303.4 L651.4,302.9 L651.4,302.3 L651.3,301.7 L651.4,301.1 L653,300 L654.1,299.2 L654.1,298.7 L654.1,298.1 L654.1,297.6 L654.1,297 L653,296.6 L651.4,296.2 L651.3,295.6 L651.4,295 L651.4,294.4 L651.5,293.8 L653.3,293.1 L654.4,292.6 L654.5,292 L654.5,291.4 L654.6,290.9 L654.7,290.3 L653.8,289.7 L652.2,288.9 L652.3,288.3 L652.4,287.7 L652.5,287.1 L652.8,286.5 L654.5,286.2 L655.7,285.8 L655.8,285.3 L656,284.7 L656.1,284.2 L656.3,283.6 L655.5,282.8 L654.1,281.7 L654.3,281.1 L654.5,280.5 L654.7,279.9 L655,279.4 L656.7,279.5 L657.9,279.3 L658.1,278.8 L658.3,278.3 L658.6,277.7 L658.8,277.2 L658.2,276.2 L657,274.8 L657.2,274.2 L657.5,273.7 L657.8,273.1 L658.2,272.6 L659.8,273.1 L660.9,273.2 L661.2,272.7 L661.5,272.2 L661.8,271.7 L662.1,271.3 L661.7,270.1 L660.8,268.5 L661.1,267.9 L661.4,267.4 L661.8,266.9 L662.2,266.5 L663.7,267.3 L664.8,267.6 L665.1,267.2 L665.5,266.8 L665.8,266.3 L666.2,265.9 L665.9,264.6 L665.3,262.8 L665.6,262.3 L666.1,261.9 L666.5,261.4 L666.9,261.1 L668.3,262.2 L669.2,262.8 L669.6,262.4 L670,262.1 L670.4,261.7 L670.8,261.4 L670.8,260 L670.4,258 L670.9,257.6 L671.3,257.2 L671.8,256.9 L672.3,256.6 L673.4,258.1 L674.2,258.9 L674.6,258.6 L675.1,258.3 L675.5,258 L676,257.8 L676.1,256.4 L676.1,254.3 L676.5,253.9 L677,253.7 L677.5,253.4 L678,253.3 L678.9,255 L679.5,255.9 L680,255.7 L680.5,255.6 L680.9,255.4 L681.4,255.2 L681.7,253.8 L682,251.7 L682.5,251.4 L683,251.3 L683.5,251.1 L684,251.1 L684.6,253 L685.1,254.1 L685.5,254 L686,253.9 L686.5,253.8 L686.9,253.7 L687.4,252.4 L688,250.3 L688.5,250.2 L689,250.1 L689.5,250.1 L690,250.1 L690.3,252.2 L690.6,253.4 L691.1,253.4 L691.6,253.4 L692,253.4 L692.5,253.5 L693.1,252.2 L694,250.2 L694.5,250.2 L695,250.2 L695.5,250.3 L696,250.4 L695.9,252.6 L696.1,253.9 L696.5,254Z" fill="#fff" stroke="#000" stroke-width="1.6" stroke-linejoin="round" /><clipPath id="c6"><path d="M699.5,254.9 L702.5,256.2 L705.2,257.9 L707.8,260 L710.1,262.4 L712.2,265.1 L713.9,268.2 L715.4,271.5 L716.6,275 L717.4,278.7 L717.8,282.6 L717.9,286.5 L717.7,290.6 L717.1,294.6 L716.2,298.6 L715,302.5 L713.4,306.4 L711.5,310 L709.4,313.5 L707,316.7 L704.3,319.7 L701.5,322.3 L698.5,324.7 L695.3,326.6 L692.1,328.2 L688.8,329.4 L685.4,330.2 L682.1,330.6 L678.8,330.5 L675.6,330 L672.5,329.1 L669.5,327.8 L666.8,326.1 L664.2,324 L661.9,321.6 L659.8,318.9 L658.1,315.8 L656.6,312.5 L655.4,309 L654.6,305.3 L654.2,301.4 L654.1,297.5 L654.3,293.4 L654.9,289.4 L655.8,285.4 L657,281.5 L658.6,277.6 L660.5,274 L662.6,270.5 L665,267.3 L667.7,264.3 L670.5,261.7 L673.5,259.3 L676.7,257.4 L679.9,255.8 L683.2,254.6 L686.6,253.8 L689.9,253.4 L693.2,253.5 L696.4,254Z"/></clipPath><g clip-path="url(#c6)"><path d="M699.8,254.5 L681.6,246.3 M702.6,255.7 L684.4,247.6 M706,257.8 L687.7,249.7 M708.4,259.9 L690.1,251.7 M711.2,262.9 L692.9,254.8 M713,265.6 L694.8,257.5 M715,269.4 L696.8,261.3 M716.3,272.7 L698,264.5 M717.5,277.1 L699.2,269 M718.1,280.7 L699.8,272.6 M718.4,285.5 L700.1,277.4 M718.2,289.3 L699.9,281.2 M717.6,294.2 L699.3,286.1 M716.8,298.1 L698.5,289.9 M715.2,302.9 L697,294.7 M713.7,306.5 L695.5,298.4 M711.4,310.9 L693.2,302.8 M709.3,314.2 L691.1,306.1 M706.4,318.1 L688.1,309.9 M703.8,320.8 L685.5,312.7 M700.2,323.9 L682,315.8 M697.3,326 L679,317.8 M693.4,328.1 L675.2,320 M690.3,329.4 L672,321.3 M686.2,330.5 L668,322.4 M683,331 L664.8,322.8 M679,331 L660.8,322.9 M675.9,330.6 L657.7,322.5 M672.2,329.5 L653.9,321.4 M669.4,328.3 L651.1,320.1" stroke="#000" stroke-width="1.16" fill="none"/><path d="M681.4,246.3 L684.4,247.6 L687.2,249.3 L689.8,251.4 L692.2,253.9 L694.2,256.6 L696,259.7 L697.5,263.1 L698.7,266.6 L699.5,270.4 L700,274.3 L700.1,278.3 L699.8,282.4 L699.3,286.5 L698.3,290.5 L697,294.5 L695.5,298.4 L693.6,302.1 L691.4,305.6 L688.9,308.9 L686.3,311.9 L683.4,314.6 L680.4,316.9 L677.2,318.9 L673.9,320.5 L670.5,321.8 L667.2,322.5 L663.8,322.9 L660.4,322.9 L657.2,322.4 L654,321.5 L651.1,320.1 L648.3,318.4 L645.7,316.3 L643.3,313.9 L641.2,311.1 L639.4,308 L637.9,304.7 L636.8,301.1 L636,297.3 L635.5,293.4 L635.4,289.4 L635.6,285.3 L636.2,281.2 L637.1,277.2 L638.4,273.2 L640,269.3 L641.9,265.6 L644.1,262.1 L646.5,258.8 L649.2,255.8 L652.1,253.1 L655.1,250.8 L658.3,248.8 L661.6,247.2 L664.9,246 L668.3,245.2 L671.7,244.8 L675,244.9 L678.3,245.4Z" stroke="#000" stroke-width="1.16" fill="none"/></g><path d="M771.3,292.1 L773.3,292.9 L775.1,294 L776.8,295.4 L778.4,296.9 L779.9,298.7 L781.2,300.6 L782.3,302.8 L783.2,305.1 L784,307.6 L784.6,310.2 L785,312.9 L785.2,315.7 L785.2,318.5 L785,321.4 L784.6,324.4 L784,327.3 L783.2,330.2 L782.3,333.1 L781.2,336 L779.9,338.7 L778.4,341.3 L776.8,343.8 L775.1,346.2 L773.3,348.4 L771.3,350.4 L769.3,352.2 L767.2,353.8 L765,355.2 L762.8,356.4 L760.5,357.3 L758.3,358 L756,358.4 L753.8,358.5 L751.7,358.5 L749.5,358.1 L747.5,357.5 L745.5,356.7 L743.7,355.6 L742,354.2 L740.4,352.7 L738.9,350.9 L737.6,349 L736.5,346.8 L735.6,344.5 L734.8,342 L734.2,339.4 L733.8,336.7 L733.6,333.9 L733.6,331.1 L733.8,328.2 L734.2,325.2 L734.8,322.3 L735.6,319.4 L736.5,316.5 L737.6,313.6 L738.9,310.9 L740.4,308.3 L742,305.8 L743.7,303.4 L745.5,301.2 L747.5,299.2 L749.5,297.4 L751.6,295.8 L753.8,294.4 L756,293.2 L758.3,292.3 L760.5,291.6 L762.8,291.2 L765,291.1 L767.1,291.1 L769.3,291.5Z" fill="none" stroke="#000" stroke-width="1.45" stroke-linejoin="round" /><path d="M770.6,294.1 L772.4,294.9 L774.1,295.9 L775.8,297.1 L777.3,298.6 L778.6,300.3 L779.8,302.1 L780.9,304.1 L781.8,306.3 L782.5,308.6 L783.1,311 L783.4,313.6 L783.6,316.2 L783.6,318.9 L783.4,321.6 L783.1,324.4 L782.5,327.2 L781.8,329.9 L780.9,332.6 L779.9,335.3 L778.6,337.8 L777.3,340.3 L775.8,342.7 L774.2,344.9 L772.4,346.9 L770.6,348.8 L768.7,350.5 L766.7,352.1 L764.7,353.4 L762.6,354.5 L760.5,355.3 L758.4,356 L756.2,356.4 L754.2,356.5 L752.1,356.4 L750.1,356.1 L748.2,355.5 L746.4,354.7 L744.7,353.7 L743,352.5 L741.5,351 L740.2,349.3 L739,347.5 L737.9,345.5 L737,343.3 L736.3,341 L735.7,338.6 L735.4,336 L735.2,333.4 L735.2,330.7 L735.4,328 L735.7,325.2 L736.3,322.4 L737,319.7 L737.9,317 L738.9,314.3 L740.2,311.8 L741.5,309.3 L743,306.9 L744.6,304.7 L746.4,302.7 L748.2,300.8 L750.1,299.1 L752.1,297.5 L754.1,296.2 L756.2,295.1 L758.3,294.3 L760.4,293.6 L762.6,293.2 L764.6,293.1 L766.7,293.2 L768.7,293.5Z" fill="none" stroke="#000" stroke-width="1.45" stroke-linejoin="round" /><path d="M777.6,373.1 L775.6,372.1 L773.7,370.8 L772,369.3 L770.4,367.6 L768.9,365.6 L767.7,363.5 L766.6,361.2 L765.7,358.7 L764.9,356.1 L764.4,353.4 L764.1,350.6 L764,347.7 L764.1,344.7 L764.4,341.7 L764.9,338.7 L765.6,335.7 L766.4,332.7 L767.5,329.8 L768.8,327 L770.2,324.3 L771.8,321.7 L773.5,319.2 L775.3,316.9 L777.3,314.8 L779.4,312.9 L781.6,311.1 L783.8,309.6 L786.1,308.4 L788.4,307.3 L790.8,306.6 L793.1,306.1 L795.4,305.8 L797.7,305.8 L800,306.1 L802.1,306.6 L804.2,307.4 L800.6,305.7 L798.5,305 L796.3,304.4 L794.1,304.2 L791.8,304.2 L789.5,304.4 L787.1,304.9 L784.8,305.7 L782.4,306.7 L780.1,308 L777.9,309.5 L775.7,311.2 L773.7,313.2 L771.7,315.3 L769.8,317.6 L768.1,320.1 L766.5,322.7 L765.1,325.4 L763.9,328.2 L762.8,331.1 L761.9,334.1 L761.2,337.1 L760.7,340.1 L760.4,343.1 L760.3,346 L760.4,349 L760.8,351.8 L761.3,354.5 L762,357.1 L762.9,359.6 L764,361.9 L765.3,364 L766.7,366 L768.3,367.7 L770.1,369.2 L771.9,370.5 L773.9,371.5Z" fill="#fff" stroke="#000" stroke-width="1.6" stroke-linejoin="round" /><path d="M801.9,306.4 L804,304 L805.1,302.8 L805.6,303 L809.2,304.6 L809.6,305 L809.2,306.7 L808.4,309.9 L804.8,308.3Z" fill="#fff" stroke="#000" stroke-width="1.6" stroke-linejoin="round" /><path d="M809.3,304.6 L805.6,303" stroke="#000" stroke-width="1.2800000000000002" fill="none"/><path d="M773,376.3 L773.2,374.6 L773.5,371.3 L776.7,372.5 L780.4,374.1 L778.6,376.9 L777.6,378.2 L777.1,378.2 L773.4,376.6Z" fill="#fff" stroke="#000" stroke-width="1.6" stroke-linejoin="round" /><path d="M777.1,378.2 L773.4,376.6" stroke="#000" stroke-width="1.2800000000000002" fill="none"/><path d="M797.8,304.8 L799.6,302 L800.5,300.6 L801.1,300.7 L804.7,302.3 L805.1,302.6 L805,304.3 L804.6,307.5 L801.4,306.4Z" fill="#fff" stroke="#000" stroke-width="1.6" stroke-linejoin="round" /><path d="M804.7,302.3 L801.1,300.7" stroke="#000" stroke-width="1.2800000000000002" fill="none"/><path d="M768.6,373.9 L768.9,372.2 L769.7,368.9 L773.4,370.6 L776.2,372.5 L774.1,374.9 L773,376 L772.5,375.9 L768.9,374.3Z" fill="#fff" stroke="#000" stroke-width="1.6" stroke-linejoin="round" /><path d="M772.5,375.9 L768.9,374.3" stroke="#000" stroke-width="1.2800000000000002" fill="none"/><path d="M793.3,304.1 L794.8,301.1 L795.6,299.6 L796.1,299.5 L799.8,301.1 L800.2,301.4 L800.3,303 L800.4,306.1 L797,305.8Z" fill="#fff" stroke="#000" stroke-width="1.6" stroke-linejoin="round" /><path d="M799.8,301.1 L796.1,299.5" stroke="#000" stroke-width="1.2800000000000002" fill="none"/><path d="M764.7,370.4 L765.2,368.8 L766.4,365.6 L770.1,367.2 L772.5,369.9 L770.2,371.8 L769,372.8 L765.4,371.1 L764.9,370.9Z" fill="#fff" stroke="#000" stroke-width="1.6" stroke-linejoin="round" /><path d="M768.6,372.5 L764.9,370.9" stroke="#000" stroke-width="1.2800000000000002" fill="none"/><path d="M788.7,304.6 L789.8,301.4 L790.4,299.8 L790.9,299.6 L791.4,299.6 L795,301.3 L795.3,302.8 L795.9,305.8 L792.3,306.2Z" fill="#fff" stroke="#000" stroke-width="1.6" stroke-linejoin="round" /><path d="M794.5,301.2 L790.9,299.5" stroke="#000" stroke-width="1.2800000000000002" fill="none"/><path d="M761.4,365.9 L762.2,364.4 L763.8,361.5 L767.5,363.1 L769.4,366.3 L766.9,367.8 L765.6,368.5 L762,366.9 L761.6,366.5Z" fill="#fff" stroke="#000" stroke-width="1.6" stroke-linejoin="round" /><path d="M765.3,368.2 L761.6,366.5" stroke="#000" stroke-width="1.2800000000000002" fill="none"/><path d="M784,306 L784.6,302.8 L785,301.1 L785.5,300.8 L786.1,300.8 L789.7,302.4 L790.2,303.8 L791.2,306.5 L787.6,307.7Z" fill="#fff" stroke="#000" stroke-width="1.6" stroke-linejoin="round" /><path d="M789.2,302.4 L785.5,300.8" stroke="#000" stroke-width="1.2800000000000002" fill="none"/><path d="M759,360.7 L760,359.3 L761.9,356.6 L765.5,358.3 L766.9,362 L764.4,362.9 L763.1,363.4 L759.4,361.7 L759.1,361.3Z" fill="#fff" stroke="#000" stroke-width="1.6" stroke-linejoin="round" /><path d="M762.7,362.9 L759.1,361.3" stroke="#000" stroke-width="1.2800000000000002" fill="none"/><path d="M779.4,308.5 L779.6,305.2 L779.8,303.6 L780.3,303.1 L780.8,303 L784.4,304.6 L785.2,305.8 L786.5,308.2 L783,310.1Z" fill="#fff" stroke="#000" stroke-width="1.6" stroke-linejoin="round" /><path d="M783.9,304.8 L780.3,303.1" stroke="#000" stroke-width="1.2800000000000002" fill="none"/><path d="M757.4,354.8 L758.5,353.5 L760.7,351.3 L764.4,352.9 L765.2,357 L762.6,357.4 L761.3,357.6 L757.7,355.9 L757.4,355.4Z" fill="#fff" stroke="#000" stroke-width="1.6" stroke-linejoin="round" /><path d="M761.1,357 L757.4,355.4" stroke="#000" stroke-width="1.2800000000000002" fill="none"/><path d="M774.8,307.1 L775.2,306.6 L775.7,306.4 L779.4,308 L780.3,308.9 L782,310.9 L778.7,313.5 L775,311.9 L774.8,308.7Z" fill="#fff" stroke="#000" stroke-width="1.6" stroke-linejoin="round" /><path d="M778.8,308.2 L775.2,306.6" stroke="#000" stroke-width="1.2800000000000002" fill="none"/><path d="M756.7,349 L756.8,348.3 L758,347.3 L760.3,345.5 L764,347.1 L764.2,351.5 L761.7,351.4 L760.5,351.2 L756.8,349.6Z" fill="#fff" stroke="#000" stroke-width="1.6" stroke-linejoin="round" /><path d="M760.3,350.6 L756.7,349" stroke="#000" stroke-width="1.2800000000000002" fill="none"/><path d="M770.1,311.6 L770.5,311 L771,310.7 L774.6,312.3 L775.7,313 L777.7,314.4 L774.7,317.7 L771.1,316.1 L770.4,313.1Z" fill="#fff" stroke="#000" stroke-width="1.6" stroke-linejoin="round" /><path d="M774.1,312.7 L770.5,311" stroke="#000" stroke-width="1.2800000000000002" fill="none"/><path d="M756.8,342.3 L757,341.6 L758.3,340.9 L760.8,339.5 L764.5,341.2 L764,345.7 L761.7,345 L760.6,344.5 L756.9,342.9Z" fill="#fff" stroke="#000" stroke-width="1.6" stroke-linejoin="round" /><path d="M760.5,343.9 L756.8,342.3" stroke="#000" stroke-width="1.2800000000000002" fill="none"/><path d="M766,316.9 L766.3,316.3 L766.7,315.9 L767.9,316.3 L770.2,317.2 L773.8,318.8 L771.2,322.6 L767.6,320.9 L766.5,318.3Z" fill="#fff" stroke="#000" stroke-width="1.6" stroke-linejoin="round" /><path d="M769.9,317.9 L766.3,316.3" stroke="#000" stroke-width="1.2800000000000002" fill="none"/><path d="M757.9,336.1 L757.9,335.4 L758.2,334.8 L759.5,334.3 L762.1,333.5 L765.7,335.2 L764.7,339.7 L761,338.1 L759,336.8Z" fill="#fff" stroke="#000" stroke-width="1.6" stroke-linejoin="round" /><path d="M761.6,337 L757.9,335.4" stroke="#000" stroke-width="1.2800000000000002" fill="none"/><path d="M762.5,322.9 L762.7,322.2 L763.1,321.7 L764.4,321.8 L766.8,322.2 L770.5,323.8 L768.3,328 L764.7,326.3 L763.2,324.1Z" fill="#fff" stroke="#000" stroke-width="1.6" stroke-linejoin="round" /><path d="M766.4,323.9 L762.7,322.2" stroke="#000" stroke-width="1.2800000000000002" fill="none"/><path d="M759.8,329.3 L759.9,328.7 L760.2,328.1 L761.6,327.9 L764.1,327.7 L767.7,329.3 L766.1,333.7 L762.5,332.1 L760.7,330.3Z" fill="#fff" stroke="#000" stroke-width="1.6" stroke-linejoin="round" /><path d="M763.6,330.3 L759.9,328.7" stroke="#000" stroke-width="1.2800000000000002" fill="none"/><path d="M800.9,306.3 L801.3,306.3 L801.7,306.2 L802.5,304.9 L803.5,303.2 L804.3,302.2 L804.7,302.3 L805.1,302.5 L805,303.8 L804.7,305.7 L804.5,307.2 L804.8,307.6 L805.1,307.8 L805.4,308 L805.9,307.9 L806.8,306.7 L808,305.3 L808.9,304.4 L809.3,304.6 L809.6,304.9 L809.4,306.2 L808.8,308 L808.4,309.6 L808.6,310 L808.8,310.3 L809.1,310.5 L809.6,310.6 L810.6,309.6 L811.9,308.4 L812.9,307.7 L813.2,308 L813.5,308.4 L813.1,309.6 L812.3,311.4 L811.7,312.9 L811.8,313.4 L812.1,313.7 L812.3,314 L812.7,314.2 L813.8,313.4 L815.2,312.5 L816.2,312 L816.5,312.3 L816.7,312.8 L816.2,314 L815.2,315.6 L814.4,317 L814.4,317.6 L814.6,317.9 L814.8,318.3 L815.2,318.5 L816.4,318.1 L817.8,317.4 L818.8,317.1 L819.1,317.6 L819.2,318.1 L818.5,319.2 L817.3,320.6 L816.4,321.8 L816.3,322.4 L816.5,322.8 L816.6,323.3 L816.9,323.6 L818.1,323.4 L819.6,323 L820.6,323 L820.7,323.5 L820.8,324 L820,325 L818.7,326.2 L817.6,327.2 L817.5,327.8 L817.5,328.3 L817.6,328.7 L817.9,329.1 L819,329.2 L820.5,329.1 L821.4,329.4 L821.5,329.9 L821.4,330.5 L820.6,331.3 L819.2,332.2 L818,333 L817.8,333.6 L817.8,334.1 L817.8,334.6 L818,335 L819.1,335.3 L820.4,335.6 L821.3,336.1 L821.3,336.6 L821.2,337.2 L820.2,337.8 L818.8,338.5 L817.6,339 L817.3,339.6 L817.2,340.1 L817.2,340.6 L817.3,341.1 L818.3,341.6 L819.5,342.3 L820.3,342.9 L820.2,343.5 L820,344 L819,344.5 L817.6,344.8 L816.4,345.1 L816,345.6 L815.9,346.1 L815.7,346.5 L815.8,347.1 L816.6,347.9 L817.8,348.8 L818.4,349.6 L818.2,350.2 L818,350.7 L817,351 L815.5,350.9 L814.4,351 L814,351.4 L813.8,351.9 L813.6,352.3 L813.5,352.9 L814.2,353.9 L815.2,355.1 L815.6,356.1 L815.4,356.6 L815.1,357.1 L814.1,357.1 L812.8,356.8 L811.6,356.6 L811.2,356.9 L811,357.3 L810.7,357.8 L810.6,358.3 L811.1,359.5 L811.8,361 L812.1,362.1 L811.9,362.6 L811.5,363 L810.6,362.8 L809.3,362.1 L808.3,361.7 L807.8,361.9 L807.5,362.3 L807.2,362.7 L807,363.2 L807.4,364.6 L807.9,366.2 L808,367.4 L807.7,367.8 L807.3,368.2 L806.4,367.8 L805.3,366.8 L804.4,366.1 L804,366.2 L803.6,366.5 L803.3,366.9 L803,367.4 L803.1,368.9 L803.4,370.6 L803.3,371.9 L803,372.3 L802.5,372.5 L801.8,371.9 L800.9,370.7 L800.1,369.7 L799.7,369.8 L799.3,370 L798.9,370.3 L798.6,370.8 L798.5,372.3 L798.5,374.1 L798.3,375.4 L797.9,375.7 L797.4,375.9 L796.8,375.1 L796.1,373.6 L795.5,372.5 L795.1,372.4 L794.7,372.6 L794.3,372.8 L794,373.2 L793.7,374.7 L793.4,376.6 L793,377.9 L792.6,378.1 L792.2,378.2 L791.7,377.2 L791.2,375.6 L790.8,374.3 L790.4,374.1 L790,374.2 L789.7,374.3 L789.3,374.6 L788.8,376.1 L788.2,378 L787.7,379.2 L787.3,379.3 L786.8,379.3 L786.5,378.2 L786.3,376.4 L786.1,375 L785.8,374.7 L785.4,374.7 L785,374.7 L784.6,375 L783.9,376.4 L783.1,378.2 L782.5,379.3 L782,379.4 L781.6,379.2 L781.5,378 L781.6,376.2 L781.6,374.7 L781.3,374.3 L780.9,374.2 L780.5,374.2 L780.1,374.3 L779.3,375.6 L778.3,377.3 L777.5,378.3 L777.1,378.2 L776.7,378 L776.8,376.7 L777.1,374.8 L777.3,373.3 L777,372.9 L776.7,372.7 L776.4,372.5 L775.9,372.6 L775,373.8 L773.8,375.2 L772.9,376.1 L772.5,375.9 L772.2,375.6 L772.4,374.3 L773,372.5 L773.4,370.9 L773.2,370.5 L773,370.2 L772.7,370 L772.2,369.9 L771.2,370.9 L769.9,372.1 L768.9,372.8 L768.6,372.5 L768.3,372.1 L768.7,370.9 L769.5,369.1 L770.1,367.6 L770,367.1 L769.7,366.8 L769.5,366.5 L769.1,366.3 L768,367.1 L766.6,368 L765.6,368.5 L765.3,368.2 L765.1,367.7 L765.6,366.5 L766.6,364.9 L767.4,363.5 L767.4,362.9 L767.2,362.6 L767,362.2 L766.6,362 L765.4,362.4 L764,363.1 L763,363.4 L762.7,362.9 L762.6,362.4 L763.3,361.3 L764.5,359.9 L765.4,358.7 L765.5,358.1 L765.3,357.7 L765.2,357.2 L764.9,356.9 L763.7,357.1 L762.2,357.5 L761.2,357.5 L761.1,357 L761,356.5 L761.8,355.5 L763.1,354.3 L764.2,353.3 L764.3,352.7 L764.3,352.2 L764.2,351.8 L763.9,351.4 L762.8,351.3 L761.3,351.4 L760.4,351.1 L760.3,350.6 L760.4,350 L761.2,349.2 L762.6,348.3 L763.8,347.5 L764,346.9 L764,346.4 L764,345.9 L763.8,345.5 L762.7,345.2 L761.4,344.9 L760.5,344.4 L760.5,343.9 L760.6,343.3 L761.6,342.7 L763,342 L764.2,341.5 L764.5,340.9 L764.6,340.4 L764.6,339.9 L764.5,339.4 L763.5,338.9 L762.3,338.2 L761.5,337.6 L761.6,337 L761.8,336.5 L762.8,336 L764.2,335.7 L765.4,335.4 L765.8,334.9 L765.9,334.4 L766.1,334 L766,333.4 L765.2,332.6 L764,331.7 L763.4,330.9 L763.6,330.3 L763.8,329.8 L764.8,329.5 L766.3,329.6 L767.4,329.5 L767.8,329.1 L768,328.6 L768.2,328.2 L768.3,327.6 L767.6,326.6 L766.6,325.4 L766.2,324.4 L766.4,323.9 L766.7,323.4 L767.7,323.4 L769,323.7 L770.2,323.9 L770.6,323.6 L770.8,323.2 L771.1,322.7 L771.2,322.2 L770.7,321 L770,319.5 L769.7,318.4 L769.9,317.9 L770.3,317.5 L771.2,317.7 L772.5,318.4 L773.5,318.8 L774,318.6 L774.3,318.2 L774.6,317.8 L774.8,317.3 L774.4,315.9 L773.9,314.3 L773.8,313.1 L774.1,312.7 L774.5,312.3 L775.4,312.7 L776.5,313.7 L777.4,314.4 L777.8,314.3 L778.2,314 L778.5,313.6 L778.8,313.1 L778.7,311.6 L778.4,309.9 L778.5,308.6 L778.8,308.2 L779.3,308 L780,308.6 L780.9,309.8 L781.7,310.8 L782.1,310.7 L782.5,310.5 L782.9,310.2 L783.2,309.7 L783.3,308.2 L783.3,306.4 L783.5,305.1 L783.9,304.8 L784.4,304.6 L785,305.4 L785.7,306.9 L786.3,308 L786.7,308.1 L787.1,307.9 L787.5,307.7 L787.8,307.3 L788.1,305.8 L788.4,303.9 L788.8,302.6 L789.2,302.4 L789.6,302.3 L790.1,303.3 L790.6,304.9 L791,306.2 L791.4,306.4 L791.8,306.3 L792.1,306.2 L792.5,305.9 L793,304.4 L793.6,302.5 L794.1,301.3 L794.5,301.2 L795,301.2 L795.3,302.3 L795.5,304.1 L795.7,305.5 L796,305.8 L796.4,305.8 L796.8,305.8 L797.2,305.5 L797.9,304.1 L798.7,302.3 L799.3,301.2 L799.8,301.1 L800.2,301.3 L800.3,302.5 L800.2,304.3 L800.2,305.8 L800.5,306.2Z" fill="#fff" stroke="#000" stroke-width="1.6" stroke-linejoin="round" /><path d="M784,367.3 L782.4,366.5 L780.8,365.4 L779.4,364.2 L778.1,362.8 L776.9,361.2 L775.8,359.4 L774.9,357.5 L774.2,355.5 L773.6,353.3 L773.1,351.1 L772.9,348.7 L772.8,346.3 L772.9,343.9 L773.1,341.4 L773.5,338.9 L774.1,336.5 L774.8,334 L775.7,331.6 L776.7,329.3 L777.9,327 L779.2,324.9 L780.6,322.8 L782.2,320.9 L783.8,319.2 L785.5,317.6 L787.3,316.2 L789.1,314.9 L791,313.9 L792.9,313 L794.9,312.4 L796.8,312 L798.7,311.8 L800.6,311.8 L802.5,312 L804.3,312.4 L806,313.1 L796.9,309 L795.1,308.4 L793.4,307.9 L791.5,307.7 L789.6,307.7 L787.7,307.9 L785.7,308.3 L783.8,309 L781.9,309.8 L780,310.9 L778.2,312.1 L776.4,313.5 L774.7,315.1 L773,316.9 L771.5,318.8 L770.1,320.8 L768.8,323 L767.6,325.2 L766.6,327.5 L765.7,329.9 L765,332.4 L764.4,334.9 L764,337.3 L763.7,339.8 L763.7,342.3 L763.7,344.7 L764,347 L764.4,349.2 L765,351.4 L765.8,353.4 L766.7,355.3 L767.7,357.1 L768.9,358.7 L770.2,360.1 L771.7,361.4 L773.2,362.4 L774.9,363.3Z" fill="#fff" stroke="#000" stroke-width="1.45" stroke-linejoin="round" /><path d="M805,312.7 L806.7,313.4 L808.3,314.3 L809.8,315.5 L811.2,316.8 L812.5,318.3 L813.6,320 L814.6,321.8 L815.4,323.7 L816.1,325.8 L816.6,328 L817,330.3 L817.2,332.7 L817.2,335.1 L817.1,337.6 L816.7,340 L816.3,342.5 L815.6,345 L814.8,347.4 L813.9,349.8 L812.8,352.1 L811.6,354.3 L810.2,356.4 L808.7,358.4 L807.2,360.2 L805.5,361.9 L803.7,363.4 L801.9,364.8 L800.1,365.9 L798.2,366.9 L796.2,367.7 L794.3,368.2 L792.4,368.5 L790.5,368.7 L788.6,368.6 L786.7,368.3 L785,367.7 L783.3,367 L781.7,366.1 L780.2,364.9 L778.8,363.6 L777.5,362.1 L776.4,360.4 L775.4,358.6 L774.6,356.7 L773.9,354.6 L773.4,352.4 L773,350.1 L772.8,347.7 L772.8,345.3 L772.9,342.8 L773.3,340.4 L773.7,337.9 L774.4,335.4 L775.2,333 L776.1,330.6 L777.2,328.3 L778.4,326.1 L779.8,324 L781.3,322 L782.8,320.2 L784.5,318.5 L786.3,317 L788.1,315.6 L789.9,314.5 L791.8,313.5 L793.8,312.7 L795.7,312.2 L797.6,311.9 L799.5,311.7 L801.4,311.8 L803.3,312.1Z" fill="#fff" stroke="#000" stroke-width="1.45" stroke-linejoin="round" /><path d="M804.4,314.4 L806,315 L807.5,315.9 L808.9,317 L810.2,318.2 L811.4,319.6 L812.4,321.2 L813.4,322.9 L814.2,324.8 L814.8,326.7 L815.3,328.8 L815.6,330.9 L815.8,333.1 L815.8,335.4 L815.7,337.7 L815.4,340.1 L815,342.4 L814.4,344.7 L813.6,347 L812.7,349.2 L811.7,351.4 L810.5,353.4 L809.3,355.4 L807.9,357.3 L806.4,359 L804.8,360.6 L803.2,362 L801.5,363.3 L799.8,364.3 L798,365.3 L796.2,366 L794.3,366.5 L792.5,366.8 L790.7,366.9 L789,366.8 L787.3,366.5 L785.6,366 L784,365.4 L782.5,364.5 L781.1,363.4 L779.8,362.2 L778.6,360.8 L777.6,359.2 L776.6,357.5 L775.8,355.6 L775.2,353.7 L774.7,351.6 L774.4,349.5 L774.2,347.3 L774.2,345 L774.3,342.7 L774.6,340.3 L775,338 L775.6,335.7 L776.4,333.4 L777.3,331.2 L778.3,329 L779.5,327 L780.7,325 L782.1,323.1 L783.6,321.4 L785.2,319.8 L786.8,318.4 L788.5,317.1 L790.2,316.1 L792,315.1 L793.8,314.4 L795.7,313.9 L797.5,313.6 L799.3,313.5 L801,313.6 L802.7,313.9Z" fill="#fff" stroke="#000" stroke-width="1.45" stroke-linejoin="round" /><clipPath id="c7"><path d="M804.6,313.9 L806.5,314.8 L808.3,315.9 L810,317.3 L811.5,319 L812.8,320.9 L813.9,323 L814.8,325.3 L815.5,327.7 L816,330.3 L816.2,333 L816.2,335.8 L816,338.6 L815.5,341.5 L814.8,344.3 L813.9,347.1 L812.8,349.8 L811.5,352.4 L810.1,354.9 L808.4,357.2 L806.6,359.3 L804.7,361.2 L802.7,362.9 L800.6,364.4 L798.4,365.5 L796.2,366.4 L794,367 L791.7,367.4 L789.6,367.4 L787.5,367.1 L785.4,366.5 L783.5,365.6 L781.7,364.5 L780,363.1 L778.5,361.4 L777.2,359.5 L776.1,357.4 L775.2,355.1 L774.5,352.7 L774,350.1 L773.8,347.4 L773.8,344.6 L774,341.8 L774.5,338.9 L775.2,336.1 L776.1,333.3 L777.2,330.6 L778.5,328 L779.9,325.5 L781.6,323.2 L783.4,321.1 L785.3,319.2 L787.3,317.5 L789.4,316 L791.6,314.9 L793.8,314 L796,313.4 L798.3,313 L800.4,313 L802.5,313.3Z"/></clipPath><g clip-path="url(#c7)"><path d="M803.3,313.5 L794.2,309.4 M807.6,315.4 L798.4,311.3 M812,319.7 L802.8,315.6 M814.4,324.3 L805.3,320.2 M816.1,331.3 L806.9,327.3 M816.1,337.4 L807,333.4 M814.5,345.4 L805.4,341.3 M812.1,351.3 L803,347.3 M807.7,358 L798.6,354 M803.5,362.3 L794.4,358.2 M797.6,365.9 L788.4,361.8 M792.7,367.3 L783.5,363.2 M786.7,366.9 L777.5,362.8 M782.4,365 L773.3,360.9" stroke="#000" stroke-width="1.16" fill="none"/><path d="M795.4,309.8 L797.4,310.7 L799.2,311.8 L800.8,313.2 L802.3,314.9 L803.6,316.8 L804.7,318.9 L805.7,321.2 L806.4,323.7 L806.8,326.2 L807.1,328.9 L807.1,331.7 L806.8,334.6 L806.4,337.4 L805.7,340.2 L804.8,343 L803.7,345.7 L802.4,348.3 L800.9,350.8 L799.3,353.1 L797.5,355.3 L795.6,357.2 L793.5,358.9 L791.4,360.3 L789.3,361.5 L787,362.4 L784.8,363 L782.6,363.3 L780.4,363.3 L778.3,363 L776.3,362.4 L774.4,361.6 L772.6,360.4 L770.9,359 L769.4,357.4 L768.1,355.5 L767,353.4 L766.1,351.1 L765.4,348.6 L764.9,346 L764.7,343.3 L764.7,340.5 L764.9,337.7 L765.3,334.9 L766,332 L766.9,329.2 L768,326.5 L769.3,323.9 L770.8,321.4 L772.5,319.1 L774.2,317 L776.2,315.1 L778.2,313.4 L780.3,312 L782.5,310.8 L784.7,309.9 L786.9,309.3 L789.1,309 L791.3,309 L793.4,309.2Z" stroke="#000" stroke-width="1.16" fill="none"/></g><path d="M848,384.3 L846.9,383.8 L846,383.1 L845.1,382.3 L844.2,381.3 L843.5,380.3 L842.9,379.1 L842.3,377.8 L841.9,376.4 L841.5,375 L841.3,373.4 L841.1,371.8 L841.1,370.2 L841.2,368.5 L841.4,366.8 L841.7,365.1 L842.1,363.4 L842.6,361.7 L843.2,360 L843.9,358.4 L844.7,356.9 L845.6,355.4 L846.6,353.9 L847.6,352.6 L848.6,351.4 L849.8,350.2 L850.9,349.2 L852.1,348.3 L853.4,347.6 L854.6,346.9 L855.9,346.5 L857.1,346.1 L858.4,345.9 L859.6,345.9 L860.8,346 L861.9,346.3 L863,346.7 L856.6,343.8 L855.5,343.4 L854.4,343.1 L853.2,343 L852,343.1 L850.7,343.3 L849.5,343.6 L848.2,344.1 L847,344.7 L845.8,345.5 L844.5,346.4 L843.4,347.4 L842.2,348.5 L841.2,349.7 L840.2,351.1 L839.2,352.5 L838.3,354 L837.6,355.6 L836.8,357.2 L836.2,358.9 L835.7,360.6 L835.3,362.3 L835,364 L834.8,365.7 L834.7,367.3 L834.8,369 L834.9,370.6 L835.1,372.1 L835.5,373.6 L835.9,375 L836.5,376.2 L837.1,377.4 L837.9,378.5 L838.7,379.4 L839.6,380.3 L840.5,380.9 L841.6,381.5Z" fill="#fff" stroke="#000" stroke-width="1.45" stroke-linejoin="round" /><path d="M845.5,383.2 L844.7,382.6 L843.9,382 L843.1,381.2 L842.5,380.4 L841.8,379.4 L841.3,378.4 L840.8,377.3 L840.4,376.2 L840.1,374.9 L839.8,373.6 L839.6,372.3 L839.5,370.9 L839.5,369.5 L839.6,368.1 L839.7,366.6 L840,365.1 L840.3,363.7 L840.7,362.2 L841.1,360.8 L841.6,359.3 L842.2,357.9 L842.9,356.6 L843.6,355.3 L844.4,354 L845.2,352.8 L846.1,351.7 L847.1,350.6 L848,349.6 L849,348.8 L850.1,348 L851.1,347.2 L852.2,346.6 L853.2,346.1 L854.3,345.7 L855.4,345.4 L856.5,345.2 L857.5,345.2 L858.6,345.2 L859.6,345.4 L860.5,345.6Z" fill="none" stroke="#000" stroke-width="1.2325" stroke-linejoin="round" /><path d="M843.9,382.5 L843.1,381.9 L842.3,381.3 L841.5,380.5 L840.9,379.7 L840.2,378.7 L839.7,377.7 L839.2,376.6 L838.8,375.4 L838.5,374.2 L838.2,372.9 L838,371.6 L837.9,370.2 L837.9,368.8 L838,367.4 L838.1,365.9 L838.4,364.4 L838.7,363 L839.1,361.5 L839.5,360 L840,358.6 L840.6,357.2 L841.3,355.9 L842,354.6 L842.8,353.3 L843.7,352.1 L844.5,351 L845.5,349.9 L846.4,348.9 L847.4,348 L848.5,347.2 L849.5,346.5 L850.6,345.9 L851.6,345.4 L852.7,345 L853.8,344.7 L854.9,344.5 L855.9,344.5 L857,344.5 L858,344.6 L858.9,344.9Z" fill="none" stroke="#000" stroke-width="1.2325" stroke-linejoin="round" /><path d="M842.3,381.8 L841.5,381.2 L840.7,380.6 L839.9,379.8 L839.3,379 L838.6,378 L838.1,377 L837.6,375.9 L837.2,374.7 L836.9,373.5 L836.6,372.2 L836.4,370.9 L836.3,369.5 L836.3,368.1 L836.4,366.6 L836.5,365.2 L836.8,363.7 L837.1,362.2 L837.5,360.8 L837.9,359.3 L838.4,357.9 L839,356.5 L839.7,355.2 L840.4,353.8 L841.2,352.6 L842.1,351.4 L842.9,350.3 L843.9,349.2 L844.8,348.2 L845.8,347.3 L846.9,346.5 L847.9,345.8 L849,345.2 L850,344.7 L851.1,344.3 L852.2,344 L853.3,343.8 L854.3,343.7 L855.4,343.8 L856.4,343.9 L857.3,344.2Z" fill="none" stroke="#000" stroke-width="1.2325" stroke-linejoin="round" /><path d="M862.4,346.4 L863.5,346.9 L864.5,347.5 L865.5,348.3 L866.3,349.1 L867.1,350.1 L867.8,351.3 L868.4,352.5 L868.9,353.8 L869.3,355.3 L869.6,356.7 L869.8,358.3 L869.9,359.9 L869.8,361.6 L869.7,363.3 L869.5,365 L869.1,366.7 L868.6,368.4 L868.1,370.1 L867.4,371.7 L866.7,373.3 L865.9,374.9 L865,376.3 L864,377.7 L862.9,379 L861.8,380.2 L860.7,381.3 L859.5,382.2 L858.3,383.1 L857,383.8 L855.8,384.3 L854.5,384.7 L853.3,385 L852.1,385.1 L850.8,385.1 L849.7,384.9 L848.6,384.6 L847.5,384.1 L846.5,383.5 L845.5,382.7 L844.7,381.9 L843.9,380.9 L843.2,379.7 L842.6,378.5 L842.1,377.2 L841.7,375.7 L841.4,374.3 L841.2,372.7 L841.1,371.1 L841.2,369.4 L841.3,367.7 L841.5,366 L841.9,364.3 L842.4,362.6 L842.9,360.9 L843.6,359.3 L844.3,357.7 L845.1,356.1 L846,354.7 L847,353.3 L848.1,352 L849.2,350.8 L850.3,349.7 L851.5,348.8 L852.7,347.9 L854,347.2 L855.2,346.7 L856.5,346.3 L857.7,346 L858.9,345.9 L860.2,345.9 L861.3,346.1Z" fill="#fff" stroke="#000" stroke-width="1.45" stroke-linejoin="round" /><path d="M861.6,348.8 L862.5,349.2 L863.4,349.7 L864.2,350.4 L865,351.2 L865.7,352 L866.3,353 L866.8,354.1 L867.3,355.3 L867.6,356.5 L867.9,357.8 L868,359.2 L868.1,360.6 L868.1,362.1 L868,363.6 L867.7,365.1 L867.4,366.6 L867,368 L866.5,369.5 L866,371 L865.3,372.4 L864.6,373.7 L863.8,375 L862.9,376.2 L862,377.3 L861.1,378.4 L860,379.3 L859,380.2 L857.9,380.9 L856.8,381.5 L855.7,382 L854.6,382.4 L853.6,382.6 L852.5,382.7 L851.4,382.7 L850.4,382.5 L849.4,382.2 L848.5,381.8 L847.6,381.3 L846.8,380.6 L846,379.8 L845.3,379 L844.7,378 L844.2,376.9 L843.7,375.7 L843.4,374.5 L843.1,373.2 L843,371.8 L842.9,370.4 L842.9,368.9 L843,367.4 L843.3,365.9 L843.6,364.4 L844,363 L844.5,361.5 L845,360 L845.7,358.6 L846.4,357.3 L847.2,356 L848.1,354.8 L849,353.7 L849.9,352.6 L851,351.7 L852,350.8 L853.1,350.1 L854.2,349.5 L855.3,349 L856.4,348.6 L857.4,348.4 L858.5,348.3 L859.6,348.3 L860.6,348.5Z" fill="#fff" stroke="#000" stroke-width="1.305" stroke-linejoin="round" /><path d="M860.8,350.9 L861.6,351.3 L862.4,351.8 L863.1,352.3 L863.8,353 L864.4,353.8 L864.9,354.6 L865.4,355.6 L865.7,356.6 L866,357.7 L866.3,358.8 L866.4,360 L866.5,361.2 L866.5,362.5 L866.3,363.8 L866.2,365.1 L865.9,366.4 L865.5,367.7 L865.1,369 L864.6,370.3 L864,371.5 L863.4,372.6 L862.7,373.8 L862,374.8 L861.2,375.8 L860.3,376.7 L859.5,377.5 L858.5,378.3 L857.6,378.9 L856.7,379.4 L855.7,379.9 L854.8,380.2 L853.8,380.4 L852.9,380.5 L851.9,380.5 L851.1,380.3 L850.2,380.1 L849.4,379.7 L848.6,379.2 L847.9,378.7 L847.2,378 L846.6,377.2 L846.1,376.4 L845.6,375.4 L845.3,374.4 L845,373.3 L844.7,372.2 L844.6,371 L844.5,369.8 L844.5,368.5 L844.7,367.2 L844.8,365.9 L845.1,364.6 L845.5,363.3 L845.9,362 L846.4,360.7 L847,359.5 L847.6,358.4 L848.3,357.2 L849,356.2 L849.8,355.2 L850.7,354.3 L851.5,353.5 L852.5,352.7 L853.4,352.1 L854.3,351.6 L855.3,351.1 L856.2,350.8 L857.2,350.6 L858.1,350.5 L859.1,350.5 L859.9,350.7Z" fill="#fff" stroke="#000" stroke-width="1.45" stroke-linejoin="round" /><path d="M898.5,443.5 L896,442.5 L893.8,441.3 L891.6,439.7 L889.7,437.8 L887.9,435.5 L886.3,433 L884.9,430.3 L883.8,427.3 L882.9,424 L882.2,420.6 L881.7,417 L881.5,413.2 L881.6,409.4 L881.9,405.4 L882.4,401.4 L883.2,397.4 L884.2,393.4 L885.5,389.4 L886.9,385.4 L888.6,381.6 L890.5,377.9 L892.5,374.4 L894.7,371 L897,367.8 L899.5,364.9 L902.1,362.2 L904.8,359.8 L907.5,357.7 L910.3,355.9 L913.1,354.4 L916,353.2 L918.8,352.4 L921.6,351.9 L924.3,351.8 L926.9,352.1 L929.5,352.7 L922.8,350.6 L920.2,350 L917.6,349.8 L914.9,349.9 L912.1,350.4 L909.3,351.2 L906.4,352.3 L903.6,353.8 L900.8,355.6 L898.1,357.8 L895.4,360.2 L892.8,362.8 L890.3,365.8 L888,368.9 L885.8,372.3 L883.8,375.9 L881.9,379.6 L880.2,383.4 L878.8,387.3 L877.5,391.3 L876.5,395.3 L875.7,399.4 L875.2,403.4 L874.9,407.3 L874.8,411.2 L875,414.9 L875.5,418.5 L876.2,422 L877.1,425.2 L878.2,428.2 L879.6,431 L881.2,433.5 L883,435.7 L884.9,437.6 L887.1,439.2 L889.3,440.5 L891.8,441.4Z" fill="#fff" stroke="#000" stroke-width="1.45" stroke-linejoin="round" /><path d="M930.4,353 L932.8,354 L935,355.4 L937.1,357.1 L939,359.2 L940.7,361.5 L942.2,364.1 L943.4,367 L944.5,370.1 L945.3,373.4 L945.9,376.9 L946.3,380.5 L946.4,384.3 L946.2,388.2 L945.9,392.2 L945.2,396.2 L944.4,400.3 L943.3,404.3 L941.9,408.2 L940.4,412.1 L938.7,415.9 L936.7,419.6 L934.6,423.1 L932.4,426.4 L930,429.4 L927.5,432.3 L924.8,434.9 L922.1,437.2 L919.4,439.2 L916.6,440.9 L913.7,442.2 L910.9,443.2 L908.1,443.9 L905.3,444.3 L902.6,444.3 L900,443.9 L897.5,443.2 L895.2,442.1 L892.9,440.7 L890.9,439 L889,437 L887.3,434.6 L885.8,432 L884.5,429.2 L883.4,426.1 L882.6,422.8 L882,419.3 L881.6,415.6 L881.5,411.8 L881.7,407.9 L882.1,403.9 L882.7,399.9 L883.6,395.9 L884.7,391.9 L886,387.9 L887.5,384 L889.3,380.2 L891.2,376.6 L893.3,373.1 L895.6,369.8 L898,366.7 L900.5,363.9 L903.1,361.3 L905.8,359 L908.6,357 L911.4,355.3 L914.2,353.9 L917,352.9 L919.8,352.2 L922.6,351.9 L925.3,351.9 L927.9,352.2Z" fill="#fff" stroke="#000" stroke-width="1.45" stroke-linejoin="round" /><path d="M921.4,444.2 L919.3,443.4 L917.3,442.3 L915.4,440.9 L913.7,439.2 L912.2,437.3 L910.8,435.1 L909.6,432.7 L908.6,430 L907.8,427.2 L907.2,424.2 L906.8,421 L906.6,417.8 L906.7,414.4 L906.9,410.9 L907.4,407.4 L908.1,403.9 L909,400.4 L910.1,396.9 L911.4,393.4 L912.8,390.1 L914.4,386.9 L916.2,383.7 L918.1,380.8 L920.2,378 L922.4,375.5 L924.6,373.1 L927,371 L929.4,369.2 L931.8,367.6 L934.3,366.3 L936.8,365.3 L939.2,364.6 L941.6,364.1 L944,364 L946.3,364.3 L948.6,364.8 L927.5,358.3 L925.3,357.8 L923,357.6 L920.6,357.7 L918.2,358.1 L915.7,358.8 L913.2,359.8 L910.8,361.1 L908.3,362.7 L905.9,364.6 L903.6,366.7 L901.3,369 L899.2,371.6 L897.1,374.4 L895.2,377.3 L893.4,380.4 L891.8,383.7 L890.3,387 L889,390.4 L888,393.9 L887.1,397.5 L886.4,401 L885.9,404.5 L885.6,408 L885.6,411.3 L885.8,414.6 L886.2,417.8 L886.7,420.8 L887.6,423.6 L888.6,426.2 L889.8,428.7 L891.1,430.9 L892.7,432.8 L894.4,434.5 L896.3,435.9 L898.3,437 L900.4,437.8Z" fill="#fff" stroke="#000" stroke-width="1.6" stroke-linejoin="round" /><path d="M892.4,444.5 L892.6,442.6 L895.1,435.1 L929,444.8 L926.7,452.4 L925.7,454.1 L925.1,454.1 L924.4,454.1 L893.5,445.1 L892.9,444.8Z" fill="#fff" stroke="#000" stroke-width="1.6" stroke-linejoin="round" /><path d="M925.1,454.1 L892.9,444.8" stroke="#000" stroke-width="1.2800000000000002" fill="none"/><path d="M929.3,359 L933.2,352.3 L934.5,351 L945.6,354.9 L945.8,356.6 L945.2,364.1 L941,364.2 L932.8,361.1Z" fill="#fff" stroke="#000" stroke-width="1.6" stroke-linejoin="round" /><path d="M944.9,354.9 L935,351.3" stroke="#000" stroke-width="1.2800000000000002" fill="none"/><path d="M886.5,439 L887,437.1 L890.6,430.1 L922.6,444.5 L919.1,451.6 L918,453.1 L917.4,452.9 L916.8,452.7 L887.3,440 L886.9,439.5Z" fill="#fff" stroke="#000" stroke-width="1.6" stroke-linejoin="round" /><path d="M917.4,452.9 L886.9,439.5" stroke="#000" stroke-width="1.2800000000000002" fill="none"/><path d="M923.2,357.6 L926.1,350.2 L927.1,348.6 L927.8,348.7 L928.4,348.8 L937.3,356.3 L937.9,357.7 L938.5,364.7 L934.1,366.3Z" fill="#fff" stroke="#000" stroke-width="1.6" stroke-linejoin="round" /><path d="M936.7,356.6 L927.8,348.7" stroke="#000" stroke-width="1.2800000000000002" fill="none"/><path d="M882.2,431.1 L883,429.3 L887.4,423.2 L913.7,439.2 L916.8,442 L912.5,448.2 L911.2,449.3 L882.8,432.5 L882.5,431.8Z" fill="#fff" stroke="#000" stroke-width="1.6" stroke-linejoin="round" /><path d="M910.7,448.9 L882.5,431.8" stroke="#000" stroke-width="1.2800000000000002" fill="none"/><path d="M916.5,358.6 L918.2,350.9 L919,349.1 L919.7,349 L920.4,348.8 L929.8,361.6 L931.7,367.6 L927.4,370.7Z" fill="#fff" stroke="#000" stroke-width="1.6" stroke-linejoin="round" /><path d="M928.3,361 L919.7,349" stroke="#000" stroke-width="1.2800000000000002" fill="none"/><path d="M879.7,421.2 L880.8,419.6 L885.8,414.9 L909.8,433.2 L912.1,437.2 L907.2,442.2 L905.8,442.9 L880,422.9 L879.8,422.1Z" fill="#fff" stroke="#000" stroke-width="1.6" stroke-linejoin="round" /><path d="M905.5,442.3 L879.8,422.1" stroke="#000" stroke-width="1.2800000000000002" fill="none"/><path d="M909.6,361.9 L910.1,354.4 L910.7,352.4 L911.3,352.1 L912,351.7 L925,372.7 L921.1,377Z" fill="#fff" stroke="#000" stroke-width="1.6" stroke-linejoin="round" /><path d="M920.3,368 L911.3,352.1" stroke="#000" stroke-width="1.2800000000000002" fill="none"/><path d="M879.2,411.9 L879.2,411 L879.2,410.1 L880.5,408.8 L885.8,405.6 L907.4,425.5 L908.8,430.6 L903.5,434 L902.1,434.2Z" fill="#fff" stroke="#000" stroke-width="1.6" stroke-linejoin="round" /><path d="M901.9,433.5 L879.2,411" stroke="#000" stroke-width="1.2800000000000002" fill="none"/><path d="M902.2,360.3 L902.5,358.4 L903.1,357.9 L903.7,357.3 L904.7,358.2 L919,379.6 L915.6,384.9 L903,367.2Z" fill="#fff" stroke="#000" stroke-width="1.6" stroke-linejoin="round" /><path d="M913.2,377.1 L903.1,357.9" stroke="#000" stroke-width="1.2800000000000002" fill="none"/><path d="M880.4,400.1 L880.6,399.2 L880.8,398.2 L882.1,397.3 L887.5,395.8 L906.6,416.6 L907,422.4 L901.6,424.1 L900.4,423.9Z" fill="#fff" stroke="#000" stroke-width="1.6" stroke-linejoin="round" /><path d="M900.3,423 L880.6,399.2" stroke="#000" stroke-width="1.2800000000000002" fill="none"/><path d="M894.9,366.7 L895.5,366 L896.1,365.3 L897.2,365.7 L900.8,369.6 L913.8,388 L911.2,393.9 L907.5,390.1 L897.1,374.4 L895,368.5Z" fill="#fff" stroke="#000" stroke-width="1.6" stroke-linejoin="round" /><path d="M907.3,387.8 L895.5,366" stroke="#000" stroke-width="1.2800000000000002" fill="none"/><path d="M883.6,388.2 L883.9,387.3 L884.3,386.3 L885.6,385.8 L890.6,386.2 L907.5,407.1 L906.7,413.2 L901.7,413.1 L900.6,412.4 L884.3,389.4Z" fill="#fff" stroke="#000" stroke-width="1.6" stroke-linejoin="round" /><path d="M900.7,411.4 L883.9,387.3" stroke="#000" stroke-width="1.2800000000000002" fill="none"/><path d="M888.5,376.9 L889,376 L889.5,375.1 L890.8,375.1 L895.2,377.3 L909.9,397.3 L908.2,403.5 L903.7,401.5 L902.8,400.4 L888.9,378.4Z" fill="#fff" stroke="#000" stroke-width="1.6" stroke-linejoin="round" /><path d="M903.1,399.5 L889,376" stroke="#000" stroke-width="1.2800000000000002" fill="none"/><path d="M946.3,364.2 L946.8,364.3 L947.3,364.4 L948.6,362.4 L950.7,357.7 L952,355.9 L952.6,356.1 L953.2,356.3 L953,358.5 L951.7,363.5 L951.3,365.9 L951.8,366.1 L952.2,366.4 L952.7,366.7 L953.1,367 L954.5,365.3 L957.3,361.1 L958.8,359.7 L959.3,360.1 L959.8,360.6 L959.2,362.8 L957.1,367.6 L956.4,369.9 L956.7,370.3 L957.1,370.8 L957.5,371.2 L957.8,371.7 L959.4,370.4 L962.6,367 L964.2,366.1 L964.5,366.7 L964.9,367.4 L964,369.5 L961.3,373.8 L960.2,375.9 L960.5,376.5 L960.7,377.1 L961,377.7 L961.2,378.3 L962.8,377.5 L966.3,375.2 L967.9,374.7 L968.1,375.5 L968.3,376.3 L967.1,378.3 L963.9,381.7 L962.6,383.6 L962.7,384.3 L962.8,385 L962.9,385.7 L963,386.4 L964.6,386.2 L968.2,385 L969.6,385.1 L969.7,386 L969.7,386.9 L968.4,388.5 L964.9,391 L963.4,392.5 L963.4,393.3 L963.3,394 L963.3,394.8 L963.3,395.6 L964.7,396 L968.1,395.9 L969.4,396.6 L969.3,397.6 L969.2,398.5 L967.7,399.7 L964.1,401.1 L962.5,402.1 L962.4,402.9 L962.2,403.7 L962,404.5 L961.8,405.3 L963.1,406.2 L966.1,407.4 L967.2,408.5 L966.9,409.5 L966.6,410.5 L965.1,411.2 L961.7,411.4 L960,411.8 L959.8,412.6 L959.5,413.4 L959.2,414.2 L958.9,415 L959.8,416.4 L962.3,418.7 L963.1,420.2 L962.7,421.2 L962.2,422.1 L960.7,422.3 L957.6,421.2 L956.1,421.1 L955.7,421.9 L955.3,422.6 L954.9,423.3 L954.5,424 L955.1,425.8 L957,429.1 L957.4,431 L956.8,431.9 L956.3,432.7 L954.9,432.3 L952.3,430.1 L950.9,429.5 L950.5,430.1 L950,430.7 L949.5,431.3 L949,431.9 L949.2,434.1 L950.3,438.2 L950.3,440.3 L949.7,441 L949,441.6 L947.9,440.8 L946,437.5 L944.9,436.4 L944.3,436.9 L943.8,437.3 L943.2,437.8 L942.7,438.3 L942.5,440.6 L942.8,445.2 L942.4,447.5 L941.7,448 L941,448.4 L940.1,447.1 L939,443 L938.2,441.4 L937.6,441.7 L937.1,442 L936.5,442.3 L935.9,442.6 L935.4,445 L934.8,449.9 L934,452.2 L933.3,452.4 L932.6,452.7 L932.1,450.9 L931.8,446.3 L931.4,444.3 L930.8,444.4 L930.2,444.6 L929.7,444.7 L929.1,444.8 L928.2,447 L926.8,452 L925.8,454.1 L925.1,454.1 L924.4,454.1 L924.2,452.1 L924.8,447.1 L924.7,444.9 L924.2,444.8 L923.7,444.8 L923.2,444.7 L922.7,444.6 L921.4,446.6 L919.3,451.3 L918,453.1 L917.4,452.9 L916.8,452.7 L917,450.5 L918.3,445.5 L918.7,443.1 L918.2,442.9 L917.8,442.6 L917.3,442.3 L916.9,442 L915.5,443.7 L912.7,447.9 L911.2,449.3 L910.7,448.9 L910.2,448.4 L910.8,446.2 L912.9,441.4 L913.6,439.1 L913.3,438.7 L912.9,438.2 L912.5,437.8 L912.2,437.3 L910.6,438.6 L907.4,442 L905.8,442.9 L905.5,442.3 L905.1,441.6 L906,439.5 L908.7,435.2 L909.8,433.1 L909.5,432.5 L909.3,431.9 L909,431.3 L908.8,430.7 L907.2,431.5 L903.7,433.8 L902.1,434.3 L901.9,433.5 L901.7,432.7 L902.9,430.7 L906.1,427.3 L907.4,425.4 L907.3,424.7 L907.2,424 L907.1,423.3 L907,422.6 L905.4,422.8 L901.8,424 L900.4,423.9 L900.3,423 L900.3,422.1 L901.6,420.5 L905.1,418 L906.6,416.5 L906.6,415.7 L906.7,415 L906.7,414.2 L906.7,413.4 L905.3,413 L901.9,413.1 L900.6,412.4 L900.7,411.4 L900.8,410.5 L902.3,409.3 L905.9,407.9 L907.5,406.9 L907.6,406.1 L907.8,405.3 L908,404.5 L908.2,403.7 L906.9,402.8 L903.9,401.6 L902.8,400.5 L903.1,399.5 L903.4,398.5 L904.9,397.8 L908.3,397.6 L910,397.2 L910.2,396.4 L910.5,395.6 L910.8,394.8 L911.1,394 L910.2,392.6 L907.7,390.3 L906.9,388.8 L907.3,387.8 L907.8,386.9 L909.3,386.7 L912.4,387.8 L913.9,387.9 L914.3,387.1 L914.7,386.4 L915.1,385.7 L915.5,385 L914.9,383.2 L913,379.9 L912.6,378 L913.2,377.1 L913.7,376.3 L915.1,376.7 L917.7,378.9 L919.1,379.5 L919.5,378.9 L920,378.3 L920.5,377.7 L921,377.1 L920.8,374.9 L919.7,370.8 L919.7,368.7 L920.3,368 L921,367.4 L922.1,368.2 L924,371.5 L925.1,372.6 L925.7,372.1 L926.2,371.7 L926.8,371.2 L927.3,370.7 L927.5,368.4 L927.2,363.8 L927.6,361.5 L928.3,361 L929,360.6 L929.9,361.9 L931,366 L931.8,367.6 L932.4,367.3 L932.9,367 L933.5,366.7 L934.1,366.4 L934.6,364 L935.2,359.1 L936,356.8 L936.7,356.6 L937.4,356.3 L937.9,358.1 L938.2,362.7 L938.6,364.7 L939.2,364.6 L939.8,364.4 L940.3,364.3 L940.9,364.2 L941.8,362 L943.2,357 L944.2,354.9 L944.9,354.9 L945.6,354.9 L945.8,356.9 L945.2,361.9 L945.3,364.1 L945.8,364.2Z" fill="#fff" stroke="#000" stroke-width="1.6" stroke-linejoin="round" /><path d="M947,371.6 L948.7,372.4 L950.3,373.4 L951.8,374.7 L953.2,376.1 L954.5,377.8 L955.6,379.7 L956.5,381.8 L957.3,384.1 L957.9,386.5 L958.3,389 L958.6,391.7 L958.6,394.5 L958.5,397.3 L958.3,400.2 L957.8,403.2 L957.2,406.1 L956.4,409 L955.4,411.9 L954.3,414.8 L953,417.5 L951.6,420.2 L950.1,422.7 L948.4,425.1 L946.7,427.4 L944.8,429.4 L942.9,431.3 L941,433 L938.9,434.5 L936.9,435.7 L934.8,436.7 L932.8,437.4 L930.7,437.9 L928.7,438.2 L926.8,438.2 L924.9,437.9 L923,437.4 L921.3,436.6 L919.7,435.6 L918.2,434.3 L916.8,432.9 L915.5,431.2 L914.4,429.3 L913.5,427.2 L912.7,424.9 L912.1,422.5 L911.7,420 L911.4,417.3 L911.4,414.5 L911.5,411.7 L911.7,408.8 L912.2,405.8 L912.8,402.9 L913.6,400 L914.6,397.1 L915.7,394.2 L917,391.5 L918.4,388.8 L919.9,386.3 L921.6,383.9 L923.3,381.6 L925.2,379.6 L927.1,377.7 L929,376 L931.1,374.5 L933.1,373.3 L935.2,372.3 L937.2,371.6 L939.3,371.1 L941.3,370.8 L943.2,370.8 L945.1,371.1Z" fill="#fff" stroke="#000" stroke-width="1.45" stroke-linejoin="round" /><path d="M945.9,374.4 L947.5,375.1 L949,376.1 L950.4,377.2 L951.7,378.6 L952.8,380.1 L953.8,381.9 L954.7,383.8 L955.4,385.8 L955.9,388 L956.3,390.4 L956.5,392.8 L956.6,395.3 L956.5,397.9 L956.3,400.6 L955.8,403.3 L955.3,406 L954.5,408.6 L953.6,411.3 L952.6,413.9 L951.5,416.4 L950.2,418.8 L948.8,421.2 L947.3,423.4 L945.7,425.4 L944,427.3 L942.2,429 L940.4,430.6 L938.6,431.9 L936.7,433 L934.8,433.9 L933,434.6 L931.1,435.1 L929.3,435.3 L927.5,435.3 L925.7,435 L924.1,434.6 L922.5,433.9 L921,432.9 L919.6,431.8 L918.3,430.4 L917.2,428.9 L916.2,427.1 L915.3,425.2 L914.6,423.2 L914.1,421 L913.7,418.6 L913.5,416.2 L913.4,413.7 L913.5,411.1 L913.7,408.4 L914.2,405.7 L914.7,403 L915.5,400.4 L916.4,397.7 L917.4,395.1 L918.5,392.6 L919.8,390.2 L921.2,387.8 L922.7,385.6 L924.3,383.6 L926,381.7 L927.8,380 L929.6,378.4 L931.4,377.1 L933.3,376 L935.2,375.1 L937,374.4 L938.9,373.9 L940.7,373.7 L942.5,373.7 L944.3,374Z" fill="#fff" stroke="#000" stroke-width="1.45" stroke-linejoin="round" /><path d="M944.4,378.7 L945.8,379.3 L947,380.1 L948.2,381 L949.3,382.2 L950.3,383.5 L951.2,385 L951.9,386.7 L952.5,388.5 L953,390.4 L953.3,392.4 L953.5,394.5 L953.6,396.6 L953.5,398.9 L953.3,401.1 L952.9,403.4 L952.4,405.8 L951.8,408.1 L951,410.3 L950.1,412.6 L949.1,414.7 L948,416.8 L946.8,418.8 L945.5,420.7 L944.2,422.5 L942.7,424.1 L941.2,425.6 L939.7,426.9 L938.1,428 L936.5,429 L934.9,429.8 L933.2,430.4 L931.6,430.8 L930.1,431 L928.5,431 L927,430.8 L925.6,430.3 L924.2,429.7 L923,428.9 L921.8,428 L920.7,426.8 L919.7,425.5 L918.8,424 L918.1,422.3 L917.5,420.5 L917,418.6 L916.7,416.6 L916.5,414.5 L916.4,412.4 L916.5,410.1 L916.7,407.9 L917.1,405.6 L917.6,403.2 L918.2,400.9 L919,398.7 L919.9,396.4 L920.9,394.3 L922,392.2 L923.2,390.2 L924.5,388.3 L925.8,386.5 L927.3,384.9 L928.8,383.4 L930.3,382.1 L931.9,381 L933.5,380 L935.1,379.2 L936.8,378.6 L938.4,378.2 L939.9,378 L941.5,378 L943,378.2Z" fill="#fff" stroke="#000" stroke-width="1.45" stroke-linejoin="round" /><path d="M553.3,491.6 L552.3,491 L551.3,490.3 L550.3,489.5 L549.5,488.6 L548.7,487.5 L548,486.4 L547.5,485.1 L547,483.8 L546.6,482.3 L546.4,480.9 L546.2,479.3 L546.1,477.7 L546.2,476.1 L546.4,474.5 L546.7,472.8 L547,471.2 L547.5,469.5 L548.1,467.9 L548.8,466.4 L549.6,464.9 L550.4,463.5 L551.4,462.1 L552.4,460.8 L553.4,459.6 L554.6,458.6 L555.7,457.6 L556.9,456.8 L558.2,456.1 L559.4,455.5 L560.7,455.1 L561.9,454.8 L563.2,454.6 L564.4,454.6 L565.6,454.7 L566.8,455 L567.9,455.4 L542.3,444 L541.2,443.6 L540,443.3 L538.8,443.2 L537.6,443.2 L536.3,443.4 L535.1,443.7 L533.8,444.1 L532.6,444.7 L531.3,445.4 L530.1,446.2 L529,447.2 L527.9,448.3 L526.8,449.4 L525.8,450.7 L524.8,452.1 L524,453.5 L523.2,455 L522.5,456.6 L521.9,458.1 L521.5,459.8 L521.1,461.4 L520.8,463.1 L520.6,464.7 L520.6,466.3 L520.6,467.9 L520.8,469.5 L521,471 L521.4,472.4 L521.9,473.7 L522.5,475 L523.1,476.1 L523.9,477.2 L524.7,478.1 L525.7,478.9 L526.7,479.6 L527.7,480.2Z" fill="#fff" stroke="#000" stroke-width="1.45" stroke-linejoin="round" /><path d="M548.4,488.8 L547.3,487.7 L526.3,478.3 L527.4,479.5Z" fill="#fff" stroke="#000" stroke-width="1.16" stroke-linejoin="round" /><path d="M545.8,485.5 L545.1,483.9 L524.1,474.5 L524.8,476.1Z" fill="#fff" stroke="#000" stroke-width="1.16" stroke-linejoin="round" /><path d="M544.3,481.1 L544,479.1 L523,469.8 L523.3,471.7Z" fill="#fff" stroke="#000" stroke-width="1.16" stroke-linejoin="round" /><path d="M543.9,476 L544,473.9 L523,464.5 L522.9,466.6Z" fill="#fff" stroke="#000" stroke-width="1.16" stroke-linejoin="round" /><path d="M544.6,470.6 L545.2,468.5 L524.2,459.2 L523.6,461.2Z" fill="#fff" stroke="#000" stroke-width="1.16" stroke-linejoin="round" /><path d="M546.5,465.4 L547.5,463.5 L526.5,454.1 L525.5,456Z" fill="#fff" stroke="#000" stroke-width="1.16" stroke-linejoin="round" /><path d="M549.3,460.7 L550.7,459.2 L529.6,449.8 L528.3,451.4Z" fill="#fff" stroke="#000" stroke-width="1.16" stroke-linejoin="round" /><path d="M552.9,457 L554.4,455.9 L533.4,446.6 L531.9,447.7Z" fill="#fff" stroke="#000" stroke-width="1.16" stroke-linejoin="round" /><path d="M556.9,454.6 L558.5,454 L537.5,444.7 L535.9,445.2Z" fill="#fff" stroke="#000" stroke-width="1.16" stroke-linejoin="round" /><path d="M561,453.6 L562.6,453.6 L541.6,444.3 L540,444.2Z" fill="#fff" stroke="#000" stroke-width="1.16" stroke-linejoin="round" /><path d="M567.3,455.2 L568.4,455.7 L569.4,456.3 L570.4,457 L571.3,457.9 L572.1,458.9 L572.8,460 L573.4,461.2 L574,462.5 L574.4,463.8 L574.7,465.3 L574.9,466.8 L575,468.4 L575,470 L574.9,471.6 L574.7,473.3 L574.4,474.9 L574,476.6 L573.4,478.2 L572.8,479.7 L572.1,481.3 L571.3,482.8 L570.4,484.2 L569.4,485.5 L568.4,486.7 L567.3,487.8 L566.1,488.9 L565,489.8 L563.7,490.5 L562.5,491.2 L561.2,491.7 L560,492.1 L558.7,492.3 L557.5,492.4 L556.3,492.4 L555.1,492.2 L553.9,491.8 L552.8,491.3 L551.8,490.7 L550.8,490 L549.9,489.1 L549.1,488.1 L548.4,487 L547.8,485.8 L547.2,484.5 L546.8,483.2 L546.5,481.7 L546.3,480.2 L546.2,478.6 L546.2,477 L546.3,475.4 L546.5,473.7 L546.8,472.1 L547.2,470.4 L547.8,468.8 L548.4,467.3 L549.1,465.7 L549.9,464.2 L550.8,462.8 L551.8,461.5 L552.8,460.3 L553.9,459.2 L555.1,458.1 L556.2,457.2 L557.5,456.5 L558.7,455.8 L560,455.3 L561.2,454.9 L562.5,454.7 L563.7,454.6 L564.9,454.6 L566.1,454.8Z" fill="#fff" stroke="#000" stroke-width="1.45" stroke-linejoin="round" /><path d="M566.2,458 L567.2,458.4 L568,458.9 L568.9,459.5 L569.6,460.3 L570.3,461.1 L570.9,462 L571.4,463.1 L571.9,464.2 L572.3,465.3 L572.5,466.6 L572.7,467.8 L572.8,469.2 L572.8,470.5 L572.7,471.9 L572.5,473.3 L572.3,474.7 L571.9,476.1 L571.5,477.5 L570.9,478.8 L570.3,480.1 L569.6,481.3 L568.9,482.5 L568.1,483.6 L567.2,484.7 L566.3,485.6 L565.3,486.5 L564.3,487.3 L563.3,487.9 L562.2,488.5 L561.1,488.9 L560.1,489.2 L559,489.4 L558,489.5 L556.9,489.5 L555.9,489.3 L555,489 L554,488.6 L553.2,488.1 L552.3,487.5 L551.6,486.7 L550.9,485.9 L550.3,485 L549.8,483.9 L549.3,482.8 L548.9,481.7 L548.7,480.4 L548.5,479.2 L548.4,477.8 L548.4,476.5 L548.5,475.1 L548.7,473.7 L548.9,472.3 L549.3,470.9 L549.7,469.5 L550.3,468.2 L550.9,466.9 L551.6,465.7 L552.3,464.5 L553.1,463.4 L554,462.3 L554.9,461.4 L555.9,460.5 L556.9,459.7 L557.9,459.1 L559,458.5 L560.1,458.1 L561.1,457.8 L562.2,457.6 L563.2,457.5 L564.3,457.5 L565.3,457.7Z" fill="#fff" stroke="#000" stroke-width="1.45" stroke-linejoin="round" /><clipPath id="c8"><path d="M566.2,458 L567.3,458.5 L568.4,459.2 L569.3,460 L570.2,460.9 L570.9,462 L571.5,463.3 L572.1,464.6 L572.4,466.1 L572.7,467.6 L572.8,469.2 L572.8,470.8 L572.7,472.5 L572.4,474.1 L572,475.8 L571.5,477.5 L570.8,479 L570,480.6 L569.2,482 L568.2,483.4 L567.2,484.7 L566.1,485.8 L564.9,486.8 L563.7,487.7 L562.4,488.4 L561.1,488.9 L559.9,489.3 L558.6,489.5 L557.3,489.5 L556.1,489.3 L555,489 L553.9,488.5 L552.8,487.8 L551.9,487 L551,486.1 L550.3,485 L549.7,483.7 L549.1,482.4 L548.8,480.9 L548.5,479.4 L548.4,477.8 L548.4,476.2 L548.5,474.5 L548.8,472.9 L549.2,471.2 L549.7,469.5 L550.4,468 L551.2,466.4 L552,465 L553,463.6 L554,462.3 L555.1,461.2 L556.3,460.2 L557.5,459.3 L558.8,458.6 L560.1,458.1 L561.3,457.7 L562.6,457.5 L563.9,457.5 L565.1,457.7Z"/></clipPath><g clip-path="url(#c8)"><path d="M567.9,458.8 L542.3,447.4 M569.9,460.6 L544.3,449.2 M571.4,463.1 L545.9,451.7 M572.4,466 L546.9,454.6 M572.8,469.3 L547.2,458 M572.6,472.9 L547,461.5 M571.8,476.5 L546.2,465.1 M570.4,479.9 L544.8,468.5 M568.5,483 L543,471.6 M566.3,485.6 L540.7,474.2 M563.7,487.6 L538.1,476.3 M561,489 L535.4,477.6 M558.3,489.5 L532.7,478.1 M555.7,489.2 L530.1,477.8" stroke="#000" stroke-width="1.16" fill="none"/><path d="M540.3,447.5 L541.4,448 L542.3,448.6 L543.2,449.4 L544,450.3 L544.7,451.4 L545.3,452.5 L545.8,453.8 L546.1,455.1 L546.4,456.6 L546.5,458 L546.5,459.6 L546.4,461.1 L546.1,462.7 L545.7,464.3 L545.2,465.8 L544.6,467.3 L543.9,468.8 L543.1,470.1 L542.2,471.4 L541.2,472.6 L540.2,473.7 L539.1,474.6 L537.9,475.4 L536.7,476.1 L535.5,476.6 L534.3,476.9 L533.1,477.1 L532,477.1 L530.8,477 L529.7,476.7 L528.7,476.2 L527.7,475.6 L526.8,474.8 L526,473.9 L525.3,472.9 L524.7,471.7 L524.3,470.5 L523.9,469.1 L523.7,467.7 L523.5,466.2 L523.6,464.6 L523.7,463.1 L523.9,461.5 L524.3,459.9 L524.8,458.4 L525.4,456.9 L526.2,455.5 L527,454.1 L527.9,452.8 L528.8,451.6 L529.9,450.5 L531,449.6 L532.1,448.8 L533.3,448.1 L534.5,447.6 L535.7,447.3 L536.9,447.1 L538.1,447.1 L539.2,447.2Z" stroke="#000" stroke-width="1.16" fill="none"/></g><path d="M284.4,363.9 L283.7,363.5 L283,363.1 L282.3,362.5 L281.8,361.8 L281.2,361 L280.8,360.1 L280.4,359.2 L280.1,358.2 L279.8,357.1 L279.7,356 L279.6,354.8 L279.6,353.6 L279.7,352.4 L279.8,351.1 L280,349.8 L280.4,348.6 L280.7,347.3 L281.2,346.1 L281.7,344.9 L282.3,343.7 L282.9,342.6 L283.6,341.6 L284.3,340.6 L285.1,339.7 L285.9,338.8 L286.8,338.1 L287.7,337.4 L288.6,336.8 L289.5,336.4 L290.4,336 L291.3,335.7 L292.2,335.6 L293,335.5 L293.9,335.6 L294.7,335.8 L295.5,336.1 L277.2,327.9 L276.4,327.7 L275.6,327.5 L274.8,327.4 L273.9,327.4 L273,327.6 L272.1,327.9 L271.2,328.2 L270.3,328.7 L269.4,329.3 L268.5,329.9 L267.7,330.7 L266.9,331.5 L266.1,332.4 L265.3,333.4 L264.6,334.5 L264,335.6 L263.4,336.8 L262.9,338 L262.5,339.2 L262.1,340.4 L261.8,341.7 L261.5,343 L261.4,344.2 L261.3,345.5 L261.3,346.7 L261.4,347.8 L261.6,349 L261.8,350 L262.1,351 L262.5,352 L263,352.8 L263.5,353.6 L264.1,354.3 L264.7,354.9 L265.4,355.4 L266.2,355.8Z" fill="#fff" stroke="#000" stroke-width="1.45" stroke-linejoin="round" /><path d="M295.1,335.9 L295.9,336.3 L296.6,336.7 L297.3,337.2 L297.9,337.9 L298.4,338.6 L298.9,339.4 L299.3,340.3 L299.7,341.3 L300,342.4 L300.2,343.5 L300.3,344.6 L300.3,345.8 L300.3,347 L300.2,348.3 L300,349.5 L299.7,350.8 L299.4,352.1 L299,353.3 L298.5,354.5 L298,355.7 L297.3,356.8 L296.7,357.9 L296,358.9 L295.2,359.9 L294.4,360.8 L293.6,361.6 L292.7,362.3 L291.8,362.9 L290.9,363.4 L290,363.9 L289.1,364.2 L288.2,364.4 L287.3,364.5 L286.5,364.5 L285.6,364.3 L284.8,364.1 L284.1,363.8 L283.3,363.3 L282.7,362.8 L282.1,362.1 L281.5,361.4 L281,360.6 L280.6,359.7 L280.2,358.7 L280,357.7 L279.8,356.6 L279.6,355.4 L279.6,354.2 L279.6,353 L279.7,351.7 L279.9,350.5 L280.2,349.2 L280.5,348 L280.9,346.7 L281.4,345.5 L282,344.3 L282.6,343.2 L283.2,342.1 L284,341.1 L284.7,340.1 L285.5,339.2 L286.4,338.4 L287.2,337.7 L288.1,337.1 L289,336.6 L289.9,336.2 L290.8,335.8 L291.7,335.6 L292.6,335.5 L293.4,335.6 L294.3,335.7Z" fill="#fff" stroke="#000" stroke-width="1.45" stroke-linejoin="round" /><path d="M299.7,379.6 L298.6,379 L297.5,378.2 L296.5,377.3 L295.6,376.2 L294.8,375 L294.1,373.7 L293.5,372.3 L293.1,370.7 L292.7,369.1 L292.4,367.4 L292.3,365.6 L292.3,363.7 L292.4,361.8 L292.6,359.9 L293,358 L293.5,356 L294,354.1 L294.7,352.2 L295.5,350.4 L296.4,348.6 L297.4,346.9 L298.4,345.3 L299.6,343.8 L300.8,342.3 L302,341 L303.3,339.9 L304.7,338.9 L306,338 L307.4,337.3 L308.8,336.7 L310.2,336.3 L311.6,336.1 L312.9,336 L314.2,336.1 L315.5,336.4 L316.7,336.8 L298.4,328.7 L297.2,328.3 L295.9,328 L294.6,327.9 L293.3,328 L291.9,328.2 L290.5,328.6 L289.1,329.1 L287.8,329.9 L286.4,330.7 L285.1,331.8 L283.8,332.9 L282.5,334.2 L281.3,335.6 L280.2,337.1 L279.1,338.8 L278.1,340.5 L277.3,342.2 L276.5,344.1 L275.8,346 L275.2,347.9 L274.7,349.8 L274.4,351.8 L274.1,353.7 L274,355.6 L274,357.4 L274.2,359.2 L274.4,360.9 L274.8,362.6 L275.3,364.1 L275.9,365.6 L276.6,366.9 L277.4,368.1 L278.3,369.2 L279.2,370.1 L280.3,370.8 L281.5,371.4Z" fill="#fff" stroke="#000" stroke-width="1.6" stroke-linejoin="round" /><path d="M273.6,373.1 L276.4,366.6 L306.9,379.9 L304.6,386.7 L303.5,387.1 L302.6,387.2 L301.6,387.1 L275.4,375.6 L274.7,374.9 L274,374.2Z" fill="#fff" stroke="#000" stroke-width="1.6" stroke-linejoin="round" /><path d="M302.6,387.2 L274.7,374.9" stroke="#000" stroke-width="1.2800000000000002" fill="none"/><path d="M296,328 L299.5,322 L300.5,322 L301.4,322.4 L302.2,322.8 L310.9,329.9 L311.8,336.1 L305.7,338.2Z" fill="#fff" stroke="#000" stroke-width="1.6" stroke-linejoin="round" /><path d="M308.9,330.2 L301.4,322.4" stroke="#000" stroke-width="1.2800000000000002" fill="none"/><path d="M269.6,364 L269.7,362.6 L274.1,357.8 L295.2,375.7 L299.7,379.6 L295.6,384.9 L294.7,384.6 L270.7,367.3 L270.2,366.4 L269.9,365.2Z" fill="#fff" stroke="#000" stroke-width="1.6" stroke-linejoin="round" /><path d="M293.9,384 L269.9,365.2" stroke="#000" stroke-width="1.2800000000000002" fill="none"/><path d="M288.4,329.5 L290,322.6 L291,321.9 L292,321.6 L293,321.4 L293.9,321.6 L304.2,339.2 L298.7,345Z" fill="#fff" stroke="#000" stroke-width="1.6" stroke-linejoin="round" /><path d="M299.2,336.8 L292,321.6" stroke="#000" stroke-width="1.2800000000000002" fill="none"/><path d="M269.5,353.4 L269.7,352 L269.9,350.6 L270.4,349.2 L275.4,347.3 L292.4,367.3 L294.4,374.3 L289.5,377 L269.6,354.7Z" fill="#fff" stroke="#000" stroke-width="1.6" stroke-linejoin="round" /><path d="M288.6,375 L269.7,352" stroke="#000" stroke-width="1.2800000000000002" fill="none"/><path d="M280.5,329.5 L281.2,328.3 L282.2,327.4 L283.1,326.6 L284.1,326.1 L286.9,330.4 L297.5,346.8 L293.8,354.8 L290.6,351.1 L281.3,335.7Z" fill="#fff" stroke="#000" stroke-width="1.6" stroke-linejoin="round" /><path d="M291.5,348.3 L282.2,327.4" stroke="#000" stroke-width="1.2800000000000002" fill="none"/><path d="M273.1,341.1 L273.5,339.7 L274.1,338.4 L274.8,337.1 L275.6,336 L280,337.4 L293.2,356.9 L292.3,365.3 L287.7,364.8Z" fill="#fff" stroke="#000" stroke-width="1.6" stroke-linejoin="round" /><path d="M287.7,362.1 L274.1,338.4" stroke="#000" stroke-width="1.2800000000000002" fill="none"/><path d="M312.5,336 L313.1,336 L314.1,334.7 L315.7,331.3 L317,329.6 L317.7,329.8 L318.5,330 L319.2,330.3 L319.9,330.6 L319.8,332.8 L318.8,336.4 L318.7,338 L319.1,338.4 L319.6,338.9 L320.8,338.1 L323.2,335.7 L324.7,334.9 L325.2,335.6 L325.7,336.3 L326.1,337.1 L326.5,337.9 L325.7,340 L323.7,343.1 L323,344.7 L323.3,345.4 L323.5,346.1 L324.6,346.2 L327.2,345.3 L328.7,345.5 L328.8,346.5 L328.9,347.6 L328.9,348.7 L329,349.8 L327.6,351.4 L325.1,353.2 L324,354.4 L323.9,355.3 L323.8,356.1 L324.6,357 L326.9,357.9 L327.9,359 L327.7,360.2 L327.3,361.3 L327,362.5 L326.6,363.6 L325.1,364.4 L322.5,364.5 L321.4,365 L321,365.8 L320.6,366.7 L320.9,368 L322.3,370.5 L322.7,372.4 L322.1,373.4 L321.4,374.4 L320.8,375.3 L320.1,376.2 L318.7,375.9 L316.7,374.3 L315.7,374 L315.1,374.6 L314.5,375.2 L314.3,376.9 L314.5,380.3 L314.1,382.5 L313.3,383.1 L312.5,383.7 L311.7,384.2 L310.8,384.7 L309.9,383.4 L309,380.5 L308.3,379.5 L307.7,379.7 L307,379.9 L306.3,381.4 L305.2,385 L304.2,387 L303.4,387.1 L302.6,387.2 L301.8,387.2 L301,387.1 L300.7,385.1 L301.1,381.5 L300.9,380 L300.3,379.8 L299.8,379.6 L298.7,380.7 L296.6,383.6 L295.2,385 L294.5,384.5 L293.9,384 L293.3,383.5 L292.8,382.9 L293.2,380.7 L294.8,377.2 L295.2,375.6 L294.8,375 L294.5,374.4 L293.3,374.8 L290.7,376.4 L289.2,376.8 L288.8,375.9 L288.6,375 L288.3,374 L288.1,373 L289.2,371.1 L291.5,368.6 L292.4,367.2 L292.3,366.4 L292.3,365.5 L291.3,365.1 L288.8,365 L287.5,364.4 L287.6,363.2 L287.7,362.1 L287.8,360.9 L288,359.8 L289.5,358.6 L292.1,357.6 L293.3,356.7 L293.5,355.8 L293.8,354.9 L293.2,353.8 L291.3,352.1 L290.6,350.5 L291,349.4 L291.5,348.3 L292,347.2 L292.6,346.1 L294.1,345.9 L296.4,346.7 L297.6,346.6 L298.1,345.8 L298.6,345.1 L298.5,343.5 L297.7,340.5 L297.7,338.4 L298.4,337.6 L299.2,336.8 L299.9,336 L300.7,335.3 L301.9,336.1 L303.4,338.5 L304.3,339.1 L304.9,338.7 L305.5,338.3 L306.1,336.7 L306.5,333 L307.2,330.9 L308.1,330.5 L308.9,330.2 L309.7,329.9 L310.6,329.7 L311.2,331.4 L311.5,334.8 L311.9,336.1Z" fill="#fff" stroke="#000" stroke-width="1.6" stroke-linejoin="round" /><path d="M327.8,387.3 L326.9,386.8 L326.1,386.2 L325.3,385.5 L324.5,384.6 L323.9,383.7 L323.3,382.6 L322.8,381.4 L322.5,380.2 L322.2,378.9 L322,377.5 L321.9,376 L321.9,374.5 L321.9,373 L322.1,371.5 L322.4,369.9 L322.8,368.4 L323.3,366.8 L323.8,365.3 L324.4,363.8 L325.2,362.4 L325.9,361 L326.8,359.7 L327.7,358.5 L328.7,357.3 L329.7,356.3 L330.7,355.4 L331.8,354.6 L332.9,353.9 L334,353.3 L335.1,352.8 L336.2,352.5 L337.3,352.3 L338.4,352.3 L339.5,352.4 L340.5,352.6 L341.5,352.9 L318.6,342.8 L317.7,342.4 L316.6,342.2 L315.6,342.1 L314.5,342.2 L313.4,342.3 L312.3,342.7 L311.2,343.1 L310.1,343.7 L309,344.4 L307.9,345.2 L306.8,346.1 L305.8,347.2 L304.9,348.3 L304,349.5 L303.1,350.8 L302.3,352.2 L301.6,353.6 L301,355.1 L300.4,356.6 L300,358.2 L299.6,359.7 L299.3,361.3 L299.1,362.8 L299,364.4 L299,365.9 L299.1,367.3 L299.3,368.7 L299.6,370 L300,371.3 L300.5,372.4 L301.1,373.5 L301.7,374.4 L302.4,375.3 L303.2,376 L304.1,376.6 L305,377.1Z" fill="#fff" stroke="#000" stroke-width="1.45" stroke-linejoin="round" /><path d="M341,352.7 L341.9,353.2 L342.8,353.7 L343.6,354.4 L344.4,355.2 L345.1,356.1 L345.7,357.1 L346.2,358.2 L346.6,359.4 L347,360.7 L347.2,362 L347.4,363.5 L347.4,364.9 L347.4,366.4 L347.3,368 L347,369.5 L346.7,371.1 L346.3,372.6 L345.8,374.2 L345.2,375.7 L344.5,377.1 L343.8,378.5 L342.9,379.9 L342.1,381.1 L341.1,382.3 L340.1,383.4 L339.1,384.4 L338,385.3 L337,386 L335.8,386.7 L334.7,387.2 L333.6,387.6 L332.5,387.8 L331.4,388 L330.3,387.9 L329.3,387.8 L328.3,387.5 L327.4,387.1 L326.5,386.5 L325.7,385.9 L324.9,385.1 L324.2,384.2 L323.6,383.1 L323.1,382 L322.6,380.8 L322.3,379.5 L322.1,378.2 L321.9,376.8 L321.8,375.3 L321.9,373.8 L322,372.3 L322.3,370.7 L322.6,369.1 L323,367.6 L323.5,366.1 L324.1,364.6 L324.8,363.1 L325.5,361.7 L326.4,360.4 L327.2,359.1 L328.2,357.9 L329.2,356.8 L330.2,355.8 L331.3,355 L332.3,354.2 L333.4,353.6 L334.6,353 L335.7,352.7 L336.8,352.4 L337.9,352.3 L338.9,352.3 L340,352.4Z" fill="#fff" stroke="#000" stroke-width="1.45" stroke-linejoin="round" /><path d="M437.1,434.3 L436.3,433.8 L435.5,433.3 L434.8,432.6 L434.1,431.9 L433.6,431 L433.1,430.1 L432.6,429 L432.3,427.9 L432,426.8 L431.9,425.5 L431.8,424.2 L431.8,422.9 L431.8,421.5 L432,420.2 L432.3,418.8 L432.6,417.4 L433,416 L433.5,414.7 L434.1,413.3 L434.7,412.1 L435.4,410.8 L436.2,409.7 L437,408.6 L437.8,407.6 L438.7,406.6 L439.7,405.8 L440.6,405.1 L441.6,404.4 L442.6,403.9 L443.6,403.5 L444.6,403.2 L445.6,403.1 L446.5,403 L447.5,403.1 L448.4,403.3 L449.2,403.6 L340.5,355.2 L339.7,354.9 L338.8,354.7 L337.8,354.6 L336.9,354.7 L335.9,354.8 L334.9,355.1 L333.9,355.5 L332.9,356 L331.9,356.7 L331,357.4 L330,358.2 L329.1,359.2 L328.3,360.2 L327.5,361.3 L326.7,362.4 L326,363.7 L325.4,364.9 L324.8,366.3 L324.3,367.6 L323.9,369 L323.5,370.4 L323.3,371.8 L323.1,373.1 L323,374.5 L323,375.8 L323.1,377.1 L323.3,378.4 L323.6,379.5 L323.9,380.6 L324.4,381.7 L324.9,382.6 L325.4,383.5 L326.1,384.2 L326.8,384.9 L327.6,385.4 L328.4,385.9Z" fill="#fff" stroke="#000" stroke-width="1.45" stroke-linejoin="round" /><path d="M448.8,403.5 L449.6,403.8 L450.4,404.3 L451.2,404.9 L451.9,405.6 L452.5,406.4 L453,407.3 L453.5,408.3 L453.9,409.4 L454.2,410.5 L454.4,411.8 L454.5,413 L454.6,414.3 L454.5,415.7 L454.4,417 L454.2,418.4 L453.9,419.8 L453.5,421.2 L453.1,422.6 L452.6,423.9 L452,425.2 L451.3,426.5 L450.6,427.7 L449.8,428.8 L448.9,429.8 L448.1,430.8 L447.1,431.7 L446.2,432.5 L445.2,433.2 L444.2,433.7 L443.2,434.2 L442.2,434.5 L441.3,434.8 L440.3,434.9 L439.3,434.9 L438.4,434.7 L437.5,434.5 L436.7,434.1 L435.9,433.6 L435.1,433 L434.5,432.3 L433.9,431.5 L433.3,430.6 L432.8,429.6 L432.5,428.5 L432.2,427.4 L431.9,426.2 L431.8,424.9 L431.7,423.6 L431.8,422.2 L431.9,420.9 L432.1,419.5 L432.4,418.1 L432.8,416.7 L433.2,415.3 L433.8,414 L434.4,412.7 L435,411.5 L435.8,410.3 L436.6,409.1 L437.4,408.1 L438.3,407.1 L439.2,406.2 L440.1,405.4 L441.1,404.8 L442.1,404.2 L443.1,403.7 L444.1,403.4 L445.1,403.2 L446,403 L447,403.1 L447.9,403.2Z" fill="#fff" stroke="#000" stroke-width="1.45" stroke-linejoin="round" /><path d="M433.7,432.1 L326.9,384.5 M432.8,430.8 L325.9,383.2 M431.7,428.4 L324.8,380.8 M431.2,426.6 L324.3,379 M430.8,423.6 L324,376 M430.9,421.4 L324,373.8 M431.4,418.1 L324.5,370.5 M432,415.9 L325.1,368.3 M433.3,412.7 L326.4,365.1 M434.3,410.7 L327.5,363.1 M436.2,408 L329.3,360.4 M437.6,406.4 L330.8,358.8 M439.9,404.5 L333,356.9 M441.5,403.6 L334.6,356 M443.9,402.8 L337,355.2 M445.4,402.6 L338.5,355" stroke="#000" stroke-width="0.9" fill="none"/><path d="M453.3,439.4 L452.6,439 L451.9,438.5 L451.3,438 L450.7,437.3 L450.2,436.5 L449.8,435.7 L449.4,434.8 L449.1,433.8 L448.9,432.8 L448.7,431.7 L448.6,430.6 L448.6,429.4 L448.7,428.2 L448.9,427 L449.1,425.8 L449.4,424.5 L449.7,423.3 L450.2,422.2 L450.7,421 L451.2,419.9 L451.8,418.8 L452.5,417.8 L453.2,416.8 L454,415.9 L454.8,415.1 L455.6,414.4 L456.4,413.7 L457.3,413.2 L458.2,412.7 L459,412.4 L459.9,412.1 L460.8,412 L461.6,411.9 L462.5,412 L463.2,412.2 L464,412.5 L448.5,405.5 L447.7,405.3 L446.9,405.1 L446.1,405 L445.3,405.1 L444.4,405.2 L443.5,405.5 L442.6,405.8 L441.8,406.3 L440.9,406.8 L440.1,407.5 L439.2,408.2 L438.5,409 L437.7,409.9 L437,410.9 L436.3,411.9 L435.7,413 L435.1,414.1 L434.6,415.2 L434.2,416.4 L433.8,417.6 L433.6,418.9 L433.3,420.1 L433.2,421.3 L433.1,422.5 L433.1,423.6 L433.2,424.8 L433.4,425.9 L433.6,426.9 L433.9,427.9 L434.3,428.8 L434.7,429.6 L435.2,430.4 L435.8,431.1 L436.4,431.6 L437.1,432.1 L437.8,432.5Z" fill="#fff" stroke="#000" stroke-width="1.45" stroke-linejoin="round" /><path d="M463.6,412.3 L464.4,412.6 L465.1,413.1 L465.7,413.6 L466.3,414.2 L466.8,414.9 L467.3,415.7 L467.7,416.6 L468.1,417.5 L468.3,418.5 L468.5,419.6 L468.7,420.7 L468.7,421.9 L468.7,423.1 L468.6,424.3 L468.4,425.5 L468.1,426.7 L467.8,427.9 L467.4,429.1 L466.9,430.3 L466.4,431.4 L465.8,432.5 L465.2,433.6 L464.5,434.6 L463.7,435.5 L463,436.3 L462.2,437.1 L461.3,437.8 L460.5,438.4 L459.6,438.9 L458.7,439.3 L457.9,439.6 L457,439.8 L456.1,439.9 L455.3,439.9 L454.5,439.8 L453.7,439.6 L453,439.2 L452.3,438.8 L451.6,438.3 L451,437.7 L450.5,436.9 L450,436.1 L449.6,435.3 L449.3,434.3 L449,433.3 L448.8,432.3 L448.7,431.1 L448.6,430 L448.7,428.8 L448.8,427.6 L449,426.4 L449.2,425.2 L449.5,424 L449.9,422.8 L450.4,421.6 L450.9,420.4 L451.5,419.3 L452.2,418.3 L452.9,417.3 L453.6,416.4 L454.4,415.5 L455.2,414.7 L456,414.1 L456.9,413.5 L457.7,413 L458.6,412.5 L459.5,412.2 L460.3,412 L461.2,411.9 L462,412 L462.8,412.1Z" fill="#fff" stroke="#000" stroke-width="1.45" stroke-linejoin="round" /><path d="M452.4,438.9 L436.8,431.9 M451.2,437.9 L435.7,431 M449.9,435.8 L434.3,428.9 M449.2,434.2 L433.7,427.3 M448.7,431.3 L433.2,424.4 M448.6,429.2 L433.1,422.3 M449,426 L433.5,419 M449.6,423.8 L434.1,416.8 M450.9,420.6 L435.3,413.7 M451.9,418.6 L436.4,411.7 M453.9,416.1 L438.3,409.1 M455.3,414.6 L439.8,407.7 M457.6,413 L442.1,406.1 M459.2,412.3 L443.6,405.4 M461.5,411.9 L446,405 M463,412.1 L447.4,405.2" stroke="#000" stroke-width="0.9" fill="none"/><path d="M477.8,445.5 L477.3,445.2 L476.8,444.9 L476.4,444.5 L476,444 L475.6,443.5 L475.3,442.9 L475.1,442.3 L474.9,441.6 L474.7,440.9 L474.6,440.2 L474.6,439.4 L474.5,438.6 L474.6,437.8 L474.7,436.9 L474.9,436.1 L475.1,435.2 L475.3,434.4 L475.6,433.6 L476,432.8 L476.3,432 L476.8,431.3 L477.2,430.6 L477.7,429.9 L478.2,429.3 L478.8,428.7 L479.3,428.2 L479.9,427.8 L480.5,427.4 L481.1,427.1 L481.7,426.8 L482.3,426.7 L482.9,426.6 L483.5,426.5 L484.1,426.6 L484.6,426.7 L485.1,426.9 L462.3,416.7 L461.8,416.5 L461.2,416.4 L460.7,416.4 L460.1,416.4 L459.5,416.5 L458.9,416.7 L458.3,416.9 L457.7,417.2 L457.1,417.6 L456.5,418.1 L455.9,418.6 L455.4,419.1 L454.9,419.7 L454.4,420.4 L453.9,421.1 L453.5,421.8 L453.1,422.6 L452.8,423.4 L452.5,424.2 L452.2,425.1 L452,425.9 L451.9,426.8 L451.8,427.6 L451.7,428.4 L451.7,429.2 L451.8,430 L451.9,430.7 L452,431.5 L452.2,432.1 L452.5,432.8 L452.8,433.3 L453.2,433.9 L453.5,434.3 L454,434.7 L454.4,435.1 L454.9,435.3Z" fill="#fff" stroke="#000" stroke-width="1.45" stroke-linejoin="round" /><path d="M484.9,426.8 L485.4,427 L485.9,427.3 L486.3,427.7 L486.7,428.1 L487.1,428.6 L487.4,429.1 L487.7,429.8 L487.9,430.4 L488.1,431.1 L488.3,431.8 L488.4,432.6 L488.4,433.4 L488.4,434.2 L488.3,435 L488.2,435.9 L488,436.7 L487.8,437.6 L487.5,438.4 L487.2,439.2 L486.8,440 L486.4,440.7 L485.9,441.5 L485.5,442.1 L485,442.8 L484.4,443.4 L483.9,443.9 L483.3,444.4 L482.7,444.8 L482.1,445.1 L481.5,445.4 L480.9,445.6 L480.3,445.8 L479.7,445.8 L479.1,445.8 L478.6,445.7 L478,445.6 L477.5,445.4 L477,445.1 L476.6,444.7 L476.2,444.3 L475.8,443.8 L475.5,443.2 L475.2,442.6 L475,442 L474.8,441.3 L474.7,440.6 L474.6,439.8 L474.5,439 L474.6,438.2 L474.6,437.3 L474.8,436.5 L474.9,435.7 L475.2,434.8 L475.4,434 L475.8,433.2 L476.1,432.4 L476.5,431.6 L477,430.9 L477.5,430.2 L478,429.6 L478.5,429 L479.1,428.5 L479.6,428 L480.2,427.6 L480.8,427.2 L481.4,427 L482,426.8 L482.6,426.6 L483.2,426.5 L483.8,426.6 L484.3,426.6Z" fill="#fff" stroke="#000" stroke-width="1.45" stroke-linejoin="round" /><path d="M496.6,452.1 L496.2,451.9 L495.8,451.6 L495.5,451.3 L495.2,450.9 L494.9,450.5 L494.6,450 L494.4,449.5 L494.2,448.9 L494.1,448.3 L494,447.7 L494,447.1 L494,446.4 L494,445.7 L494.1,445 L494.2,444.3 L494.4,443.6 L494.6,442.9 L494.8,442.2 L495.1,441.6 L495.4,440.9 L495.8,440.3 L496.2,439.7 L496.6,439.2 L497,438.7 L497.5,438.2 L497.9,437.8 L498.4,437.4 L498.9,437.1 L499.4,436.8 L499.9,436.6 L500.4,436.5 L500.9,436.4 L501.4,436.4 L501.9,436.4 L502.3,436.5 L502.8,436.7 L484.5,428.6 L484.1,428.4 L483.6,428.3 L483.1,428.3 L482.6,428.3 L482.1,428.4 L481.6,428.5 L481.1,428.7 L480.6,429 L480.2,429.3 L479.7,429.7 L479.2,430.1 L478.7,430.5 L478.3,431 L477.9,431.6 L477.5,432.2 L477.2,432.8 L476.9,433.4 L476.6,434.1 L476.3,434.8 L476.1,435.5 L475.9,436.2 L475.8,436.9 L475.7,437.6 L475.7,438.2 L475.7,438.9 L475.7,439.6 L475.8,440.2 L476,440.8 L476.1,441.3 L476.3,441.9 L476.6,442.3 L476.9,442.8 L477.2,443.2 L477.6,443.5 L478,443.8 L478.4,444Z" fill="#fff" stroke="#000" stroke-width="1.45" stroke-linejoin="round" /><path d="M502.5,436.6 L503,436.8 L503.4,437 L503.7,437.3 L504.1,437.7 L504.4,438.1 L504.7,438.6 L504.9,439.1 L505.1,439.6 L505.2,440.2 L505.3,440.8 L505.4,441.4 L505.4,442.1 L505.4,442.8 L505.4,443.4 L505.3,444.1 L505.1,444.8 L504.9,445.5 L504.7,446.2 L504.4,446.9 L504.1,447.5 L503.8,448.2 L503.4,448.8 L503,449.3 L502.6,449.9 L502.2,450.4 L501.7,450.8 L501.2,451.2 L500.7,451.5 L500.2,451.8 L499.7,452.1 L499.2,452.2 L498.7,452.4 L498.2,452.4 L497.8,452.4 L497.3,452.3 L496.9,452.2 L496.4,452 L496,451.8 L495.7,451.5 L495.3,451.1 L495,450.7 L494.7,450.2 L494.5,449.7 L494.3,449.2 L494.2,448.6 L494.1,448 L494,447.4 L494,446.7 L494,446 L494,445.4 L494.1,444.7 L494.3,444 L494.5,443.3 L494.7,442.6 L495,441.9 L495.3,441.3 L495.6,440.6 L496,440 L496.4,439.5 L496.8,438.9 L497.2,438.4 L497.7,438 L498.2,437.6 L498.7,437.3 L499.2,437 L499.7,436.7 L500.2,436.6 L500.7,436.4 L501.2,436.4 L501.6,436.4 L502.1,436.5Z" fill="#fff" stroke="#000" stroke-width="1.45" stroke-linejoin="round" /><path d="M492.1,450.3 L491.4,449.9 L490.7,449.3 L490.1,448.5 L489.7,447.6 L489.4,446.5 L489.3,445.3 L489.3,444 L489.4,442.7 L489.7,441.4 L490.2,440.2 L490.7,438.9 L491.4,437.8 L492.2,436.8 L493,435.9 L493.9,435.2 L494.8,434.6 L495.8,434.3 L496.7,434.2 L497.6,434.2 L498.4,434.5Z" fill="none" stroke="#000" stroke-width="1.0" stroke-linejoin="round" /><path d="M489.4,449.1 L488.6,448.7 L488,448.1 L487.4,447.3 L487,446.3 L486.7,445.3 L486.5,444.1 L486.5,442.8 L486.7,441.5 L487,440.2 L487.4,438.9 L488,437.7 L488.7,436.6 L489.4,435.5 L490.3,434.7 L491.2,433.9 L492.1,433.4 L493,433.1 L494,432.9 L494.8,433 L495.7,433.3Z" fill="none" stroke="#000" stroke-width="1.0" stroke-linejoin="round" /><path d="M486.7,447.9 L485.9,447.5 L485.2,446.9 L484.7,446.1 L484.2,445.1 L483.9,444 L483.8,442.9 L483.8,441.6 L483.9,440.3 L484.2,439 L484.7,437.7 L485.2,436.5 L485.9,435.3 L486.7,434.3 L487.5,433.4 L488.4,432.7 L489.4,432.2 L490.3,431.9 L491.2,431.7 L492.1,431.8 L492.9,432.1Z" fill="none" stroke="#000" stroke-width="1.0" stroke-linejoin="round" /><path d="M483.9,446.7 L483.2,446.2 L482.5,445.6 L481.9,444.8 L481.5,443.9 L481.2,442.8 L481,441.6 L481,440.4 L481.2,439.1 L481.5,437.8 L481.9,436.5 L482.5,435.3 L483.2,434.1 L483.9,433.1 L484.8,432.2 L485.7,431.5 L486.6,431 L487.6,430.6 L488.5,430.5 L489.4,430.6 L490.2,430.9Z" fill="none" stroke="#000" stroke-width="1.0" stroke-linejoin="round" /><path d="M481.2,445.4 L480.4,445 L479.7,444.4 L479.2,443.6 L478.7,442.7 L478.5,441.6 L478.3,440.4 L478.3,439.2 L478.5,437.9 L478.8,436.6 L479.2,435.3 L479.8,434 L480.4,432.9 L481.2,431.9 L482,431 L482.9,430.3 L483.9,429.7 L484.8,429.4 L485.7,429.3 L486.6,429.4 L487.4,429.7Z" fill="none" stroke="#000" stroke-width="1.0" stroke-linejoin="round" /><path d="M501.2,440.2 L501.5,440.3 L501.7,440.4 L501.9,440.6 L502.1,440.8 L502.2,441 L502.4,441.2 L502.5,441.5 L502.6,441.8 L502.7,442.1 L502.8,442.4 L502.8,442.8 L502.8,443.1 L502.8,443.5 L502.8,443.9 L502.7,444.3 L502.6,444.6 L502.5,445 L502.4,445.4 L502.3,445.7 L502.1,446.1 L501.9,446.4 L501.7,446.8 L501.5,447.1 L501.3,447.4 L501,447.6 L500.8,447.9 L500.5,448.1 L500.3,448.3 L500,448.4 L499.7,448.6 L499.4,448.6 L499.2,448.7 L498.9,448.7 L498.7,448.7 L498.4,448.7 L498.2,448.6 L497.9,448.5 L497.7,448.4 L497.5,448.2 L497.3,448 L497.2,447.8 L497,447.6 L496.9,447.3 L496.8,447 L496.7,446.7 L496.6,446.4 L496.6,446 L496.6,445.7 L496.6,445.3 L496.6,444.9 L496.7,444.5 L496.8,444.2 L496.9,443.8 L497,443.4 L497.1,443.1 L497.3,442.7 L497.5,442.4 L497.7,442 L497.9,441.7 L498.1,441.4 L498.4,441.2 L498.6,440.9 L498.9,440.7 L499.1,440.5 L499.4,440.4 L499.7,440.2 L500,440.2 L500.2,440.1 L500.5,440.1 L500.7,440.1 L501,440.1Z" fill="#fff" stroke="#000" stroke-width="1.45" stroke-linejoin="round" /><path d="M500.5,442.3 L500.6,442.4 L500.7,442.4 L500.8,442.5 L500.9,442.6 L500.9,442.7 L501,442.9 L501.1,443 L501.1,443.1 L501.2,443.3 L501.2,443.4 L501.2,443.6 L501.2,443.8 L501.2,444 L501.2,444.1 L501.2,444.3 L501.1,444.5 L501.1,444.7 L501,444.9 L501,445.1 L500.9,445.2 L500.8,445.4 L500.7,445.6 L500.6,445.7 L500.5,445.9 L500.4,446 L500.2,446.1 L500.1,446.2 L500,446.3 L499.8,446.4 L499.7,446.4 L499.6,446.5 L499.4,446.5 L499.3,446.5 L499.2,446.5 L499.1,446.5 L498.9,446.5 L498.8,446.4 L498.7,446.4 L498.6,446.3 L498.5,446.2 L498.5,446.1 L498.4,445.9 L498.3,445.8 L498.3,445.7 L498.2,445.5 L498.2,445.4 L498.2,445.2 L498.2,445 L498.2,444.8 L498.2,444.7 L498.2,444.5 L498.3,444.3 L498.3,444.1 L498.4,443.9 L498.4,443.7 L498.5,443.6 L498.6,443.4 L498.7,443.2 L498.8,443.1 L498.9,442.9 L499,442.8 L499.2,442.7 L499.3,442.6 L499.4,442.5 L499.6,442.4 L499.7,442.4 L499.8,442.3 L500,442.3 L500.1,442.3 L500.2,442.3 L500.3,442.3Z" fill="#fff" stroke="#000" stroke-width="1.45" stroke-linejoin="round" /><path d="M155.4,289.4 L262,343" fill="none" stroke="#000" stroke-width="1.2"/><path d="M374.8,408.7 L374.8,432.5" fill="none" stroke="#000" stroke-width="1.7"/><path d="M307,186.6 L307,213.4" fill="none" stroke="#000" stroke-width="1.7"/><path d="M908,448.7 L908,463.6" fill="none" stroke="#000" stroke-width="1.7"/><path d="M740.9,431.3 L740.9,455.6" fill="none" stroke="#000" stroke-width="1.7"/><path d="M823,195 L823,212.9" fill="none" stroke="#000" stroke-width="1.7"/><path d="M654.6,121 L654.6,144" fill="none" stroke="#000" stroke-width="1.7"/><path d="M754,166.4 L754,183.5" fill="none" stroke="#000" stroke-width="1.7"/><path d="M543,55.6 L543,74" fill="none" stroke="#000" stroke-width="1.7"/><path d="M1035.8,275.3 L1035.8,293.5" fill="none" stroke="#000" stroke-width="1.7"/><path d="M1072.6,287.6 L1072.6,304.1" fill="none" stroke="#000" stroke-width="1.7"/><path d="M989.1,268.2 L989.1,285.3" fill="none" stroke="#000" stroke-width="1.7"/><path d="M939.3,242.2 L939.3,262.5" fill="none" stroke="#000" stroke-width="1.7"/><path d="M889.2,219.4 L889.2,239.7" fill="none" stroke="#000" stroke-width="1.7"/><path d="M537.9,486.8 L537.9,500.9" fill="none" stroke="#000" stroke-width="1.7"/><path d="M594.7,83.9 L594.7,104.3" fill="none" stroke="#000" stroke-width="1.7"/><path d="M402.9,123.2 L402.9,139" fill="none" stroke="#000" stroke-width="1.7"/><path d="M845,386 L845,406.9" fill="none" stroke="#000" stroke-width="1.7"/><path d="M374.8,449.5 L374.8,437.6 M375.4,437.8 L371.5,440.6" stroke="#000" stroke-width="2.1" fill="none" stroke-linecap="butt"/><text x="301.8" y="229.3" font-family="Liberation Sans, sans-serif" font-size="16.8" stroke="#000" stroke-width="0.55">2</text><text x="903.8" y="480.5" font-family="Liberation Sans, sans-serif" font-size="16.8" stroke="#000" stroke-width="0.55">3</text><text x="735.7" y="472.5" font-family="Liberation Sans, sans-serif" font-size="16.8" stroke="#000" stroke-width="0.55">4</text><text x="818.3" y="230.6" font-family="Liberation Sans, sans-serif" font-size="16.8" stroke="#000" stroke-width="0.55">5</text><text x="650.3" y="158" font-family="Liberation Sans, sans-serif" font-size="16.8" stroke="#000" stroke-width="0.55">6</text><text x="749" y="199.3" font-family="Liberation Sans, sans-serif" font-size="16.8" stroke="#000" stroke-width="0.55">7</text><text x="537.5" y="90.3" font-family="Liberation Sans, sans-serif" font-size="16.8" stroke="#000" stroke-width="0.55">8</text><text x="1030.6" y="309.8" font-family="Liberation Sans, sans-serif" font-size="16.8" stroke="#000" stroke-width="0.55">9</text><path d="M1068.7,320.4 L1068.7,308.5 M1069.3,308.7 L1065.4,311.5" stroke="#000" stroke-width="2.1" fill="none" stroke-linecap="butt"/><text x="1072.6" y="320.4" font-family="Liberation Sans, sans-serif" font-size="16.8" stroke="#000" stroke-width="0.55">0</text><path d="M983.9,301.7 L983.9,289.8 M984.5,290 L980.6,292.8" stroke="#000" stroke-width="2.1" fill="none" stroke-linecap="butt"/><path d="M993.2,301.7 L993.2,289.8 M993.9,290 L990,292.8" stroke="#000" stroke-width="2.1" fill="none" stroke-linecap="butt"/><path d="M935.2,280.3 L935.2,268.4 M935.8,268.6 L931.9,271.4" stroke="#000" stroke-width="2.1" fill="none" stroke-linecap="butt"/><text x="939.1" y="280.3" font-family="Liberation Sans, sans-serif" font-size="16.8" stroke="#000" stroke-width="0.55">2</text><path d="M884.8,256 L884.8,244.1 M885.4,244.3 L881.5,247.1" stroke="#000" stroke-width="2.1" fill="none" stroke-linecap="butt"/><text x="888.7" y="256" font-family="Liberation Sans, sans-serif" font-size="16.8" stroke="#000" stroke-width="0.55">3</text><path d="M532,517.1 L532,505.2 M532.6,505.4 L528.7,508.2" stroke="#000" stroke-width="2.1" fill="none" stroke-linecap="butt"/><text x="535.9" y="517.1" font-family="Liberation Sans, sans-serif" font-size="16.8" stroke="#000" stroke-width="0.55">4</text><path d="M589.3,122.2 L589.3,110.3 M589.9,110.5 L586,113.3" stroke="#000" stroke-width="2.1" fill="none" stroke-linecap="butt"/><text x="593.2" y="122.2" font-family="Liberation Sans, sans-serif" font-size="16.8" stroke="#000" stroke-width="0.55">5</text><path d="M397.3,119.5 L397.3,107.6 M397.9,107.8 L394,110.6" stroke="#000" stroke-width="2.1" fill="none" stroke-linecap="butt"/><text x="401.2" y="119.5" font-family="Liberation Sans, sans-serif" font-size="16.8" stroke="#000" stroke-width="0.55">6</text><path d="M840.3,425.4 L840.3,413.5 M840.9,413.7 L837,416.5" stroke="#000" stroke-width="2.1" fill="none" stroke-linecap="butt"/><text x="844.2" y="425.4" font-family="Liberation Sans, sans-serif" font-size="16.8" stroke="#000" stroke-width="0.55">7</text><path d="M1035,24.4 L1055.1,14.1 L1055.6,10.8 L1069.7,15.7 L1064.8,28.7 L1062.1,26.6 L1041,36.9 Z" fill="#000"/><text x="0" y="0" transform="translate(1010,51.5) rotate(-27)" font-family="Liberation Sans, sans-serif" font-size="17.5" font-weight="bold" letter-spacing="0.8" stroke="#000" stroke-width="0.5">FR.</text><text x="866.5" y="530.4" font-family="Liberation Mono, monospace" font-size="12.2" font-weight="bold" letter-spacing="1.75">SR43-M0500A</text></svg></body></html>
